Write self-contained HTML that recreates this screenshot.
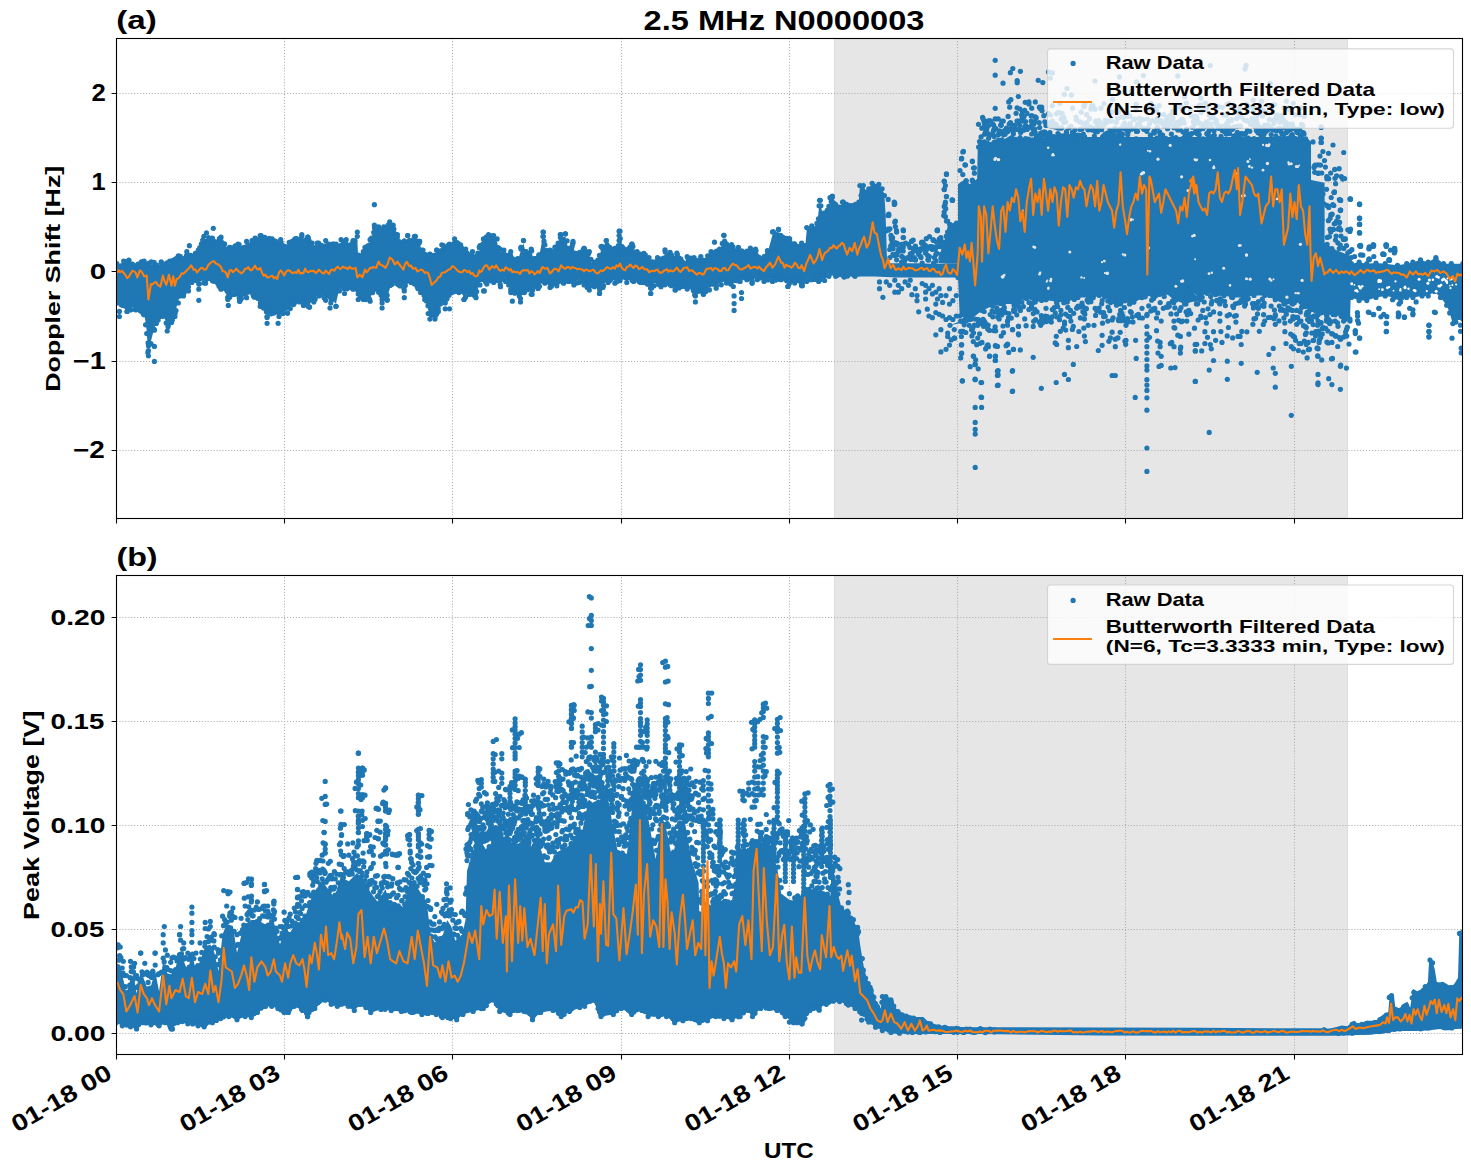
<!DOCTYPE html>
<html><head><meta charset="utf-8"><style>html,body{margin:0;padding:0;background:#fff;overflow:hidden;}svg{display:block;}</style></head>
<body><svg width="1471" height="1172" viewBox="0 0 1471 1172"><rect x="0" y="0" width="1471" height="1172" fill="#fff"/>
<g font-family="Liberation Sans, sans-serif" font-weight="bold" fill="#000">
<rect x="834.0" y="38.5" width="514.0" height="480.0" fill="#e6e6e6"/>
<path d="M834.5,38.5V518.5M1347.5,38.5V518.5" stroke="#dedede" stroke-width="1"/>
<path d="M284.50,518.5V38.5M452.50,518.5V38.5M621.50,518.5V38.5M789.50,518.5V38.5M957.50,518.5V38.5M1125.50,518.5V38.5M1294.50,518.5V38.5M116.5,93.50H1462.5M116.5,182.50H1462.5M116.5,271.50H1462.5M116.5,361.50H1462.5M116.5,450.50H1462.5" stroke="#b0b0b0" stroke-width="1.11" stroke-dasharray="1.11,1.83" fill="none"/>
<svg x="116.5" y="38.5" width="1346.0" height="480.0" viewBox="116.5 38.5 1346.0 480.0" overflow="hidden">
<path d="M116.8,266.4 L123.7,263.9 L128.8,263.0 L144.1,263.9 L161.2,264.7 L169.7,263.9 L178.3,258.7 L186.8,254.5 L195.4,256.2 L203.9,239.1 L212.4,240.8 L221.0,240.0 L229.5,250.2 L238.0,246.8 L246.6,244.2 L255.1,240.8 L260.2,238.3 L272.2,241.7 L280.7,242.5 L289.2,245.1 L295.0,241.7 L301.8,239.1 L307.8,240.0 L312.1,245.9 L317.2,245.9 L325.7,243.4 L332.6,246.8 L341.1,242.5 L346.2,242.5 L353.0,243.4 L357.3,239.1 L358.2,257.9 L365.0,250.2 L370.1,242.5 L374.4,228.0 L378.6,229.7 L383.8,229.7 L389.7,224.6 L393.2,228.0 L397.4,237.4 L400.8,245.9 L407.7,238.3 L414.5,239.1 L419.6,244.2 L423.0,252.8 L426.4,257.9 L429.9,257.0 L436.7,252.8 L441.8,247.6 L448.6,247.6 L454.6,241.7 L460.6,247.6 L465.7,251.9 L472.5,254.5 L476.0,259.6 L479.4,250.2 L480.0,248.5 L483.4,241.7 L488.5,237.4 L493.7,238.3 L497.1,241.7 L498.8,251.1 L503.9,252.8 L510.7,254.5 L512.4,261.3 L517.6,261.3 L521.0,250.2 L523.5,243.4 L526.1,254.5 L531.2,251.9 L534.6,261.3 L538.9,257.9 L543.2,234.8 L544.9,247.6 L550.0,252.8 L555.1,250.2 L560.2,237.4 L565.4,236.6 L568.8,251.1 L573.0,244.2 L575.6,256.2 L584.1,251.1 L589.3,254.5 L591.0,262.2 L597.8,263.0 L601.2,249.4 L606.3,243.4 L609.7,250.2 L618.3,248.5 L620.0,234.0 L623.4,251.1 L628.5,251.9 L631.9,246.8 L637.1,254.5 L643.9,256.2 L649.0,260.4 L652.4,264.7 L657.5,260.4 L662.7,261.3 L665.0,252.6 L670.1,255.2 L676.9,256.0 L682.1,264.6 L687.2,259.5 L694.0,260.3 L700.8,259.5 L707.7,258.6 L711.1,254.3 L719.6,251.8 L723.9,238.1 L726.5,246.7 L731.6,247.5 L738.4,250.1 L745.2,255.2 L750.4,250.9 L755.5,251.8 L758.9,260.3 L767.4,253.5 L772.5,234.7 L778.5,232.2 L782.8,239.8 L789.6,241.5 L794.7,246.7 L801.6,245.8 L805.0,248.4 L806.7,230.4 L811.8,228.7 L816.9,226.2 L819.5,203.1 L823.8,215.9 L828.9,209.1 L832.3,198.9 L835.7,209.1 L842.5,204.8 L849.4,208.3 L855.0,209.1 L855.0,273.5 L844.2,274.3 L835.7,273.5 L828.9,273.5 L824.6,277.7 L818.6,278.6 L811.8,276.9 L806.7,278.6 L801.6,282.9 L794.7,280.3 L787.9,283.7 L781.1,276.9 L772.5,278.6 L764.0,278.6 L757.2,276.9 L752.1,280.3 L746.9,276.9 L740.1,278.6 L733.3,283.7 L726.5,280.3 L721.3,282.0 L716.2,285.4 L709.4,287.1 L703.4,291.4 L694.9,292.3 L687.2,286.3 L682.1,283.7 L675.2,287.1 L670.1,282.0 L665.0,282.0 L661.0,283.9 L654.1,283.0 L650.7,290.7 L647.3,281.3 L640.5,279.6 L633.6,278.7 L626.8,279.6 L620.0,277.9 L614.9,280.4 L608.0,279.6 L602.9,284.7 L599.5,290.7 L594.4,283.9 L589.3,287.3 L584.1,282.1 L579.0,279.6 L573.9,282.1 L568.8,278.7 L563.6,280.4 L556.8,283.0 L550.0,284.7 L544.9,280.4 L538.0,285.6 L531.2,291.5 L524.4,289.8 L519.3,293.2 L510.7,289.8 L505.6,278.7 L500.5,283.9 L493.7,279.6 L486.8,281.3 L480.0,282.1 L476.0,294.9 L469.1,291.5 L464.0,296.7 L458.9,289.8 L452.1,289.8 L445.2,300.1 L441.8,296.7 L438.4,308.6 L435.0,316.3 L429.9,316.3 L424.7,296.7 L417.9,285.6 L411.1,279.6 L404.3,288.1 L397.4,281.3 L392.3,281.3 L387.2,296.7 L382.1,296.7 L375.2,286.4 L370.1,298.4 L363.3,296.7 L358.2,296.7 L353.0,286.4 L349.6,284.7 L344.5,290.7 L339.4,288.1 L336.0,303.5 L330.8,300.1 L325.7,297.5 L318.9,293.2 L313.8,299.2 L309.5,304.3 L303.5,302.6 L295.0,298.4 L294.4,300.1 L287.5,310.3 L279.0,313.7 L273.9,310.3 L267.1,313.7 L260.2,303.5 L253.4,293.2 L246.6,294.9 L239.7,298.4 L232.9,291.5 L227.8,296.7 L221.0,286.4 L212.4,277.9 L205.6,280.4 L198.8,281.3 L191.9,279.6 L188.5,288.1 L183.4,293.2 L178.3,300.1 L174.9,313.7 L168.0,324.0 L161.2,313.7 L154.4,327.4 L151.0,341.0 L147.9,349.6 L146.7,330.8 L144.1,312.0 L135.6,306.9 L127.1,308.6 L116.8,300.1Z" fill="#1f77b4"/>
<g fill="#1f77b4"><circle cx="213.3" cy="228.3" r="2.6"/><circle cx="206.5" cy="232.9" r="2.6"/><circle cx="189.4" cy="245.7" r="2.6"/><circle cx="119.4" cy="311.4" r="2.6"/><circle cx="119.4" cy="316.5" r="2.6"/><circle cx="127.1" cy="311.4" r="2.6"/><circle cx="135.6" cy="309.7" r="2.6"/><circle cx="139.9" cy="310.5" r="2.6"/><circle cx="148.4" cy="355.8" r="2.6"/><circle cx="154.4" cy="361.4" r="2.6"/><circle cx="154.4" cy="346.4" r="2.6"/><circle cx="148.4" cy="350.6" r="2.6"/><circle cx="167.2" cy="331.0" r="2.6"/><circle cx="171.5" cy="322.5" r="2.6"/><circle cx="198.8" cy="289.2" r="2.6"/><circle cx="198.8" cy="300.3" r="2.6"/><circle cx="228.3" cy="305.4" r="2.6"/><circle cx="239.7" cy="301.2" r="2.6"/><circle cx="267.1" cy="323.3" r="2.6"/><circle cx="278.1" cy="323.3" r="2.6"/><circle cx="267.1" cy="317.4" r="2.6"/><circle cx="287.5" cy="313.1" r="2.6"/><circle cx="261.1" cy="235.5" r="2.6"/><circle cx="296.1" cy="238.9" r="2.6"/><circle cx="374.4" cy="204.7" r="2.6"/><circle cx="357.3" cy="232.0" r="2.6"/><circle cx="301.8" cy="234.6" r="2.6"/><circle cx="307.8" cy="237.2" r="2.6"/><circle cx="296.7" cy="238.9" r="2.6"/><circle cx="330.0" cy="308.0" r="2.6"/><circle cx="336.0" cy="306.3" r="2.6"/><circle cx="309.5" cy="307.1" r="2.6"/><circle cx="382.1" cy="308.0" r="2.6"/><circle cx="382.1" cy="302.9" r="2.6"/><circle cx="387.2" cy="300.3" r="2.6"/><circle cx="404.3" cy="297.7" r="2.6"/><circle cx="445.2" cy="308.8" r="2.6"/><circle cx="449.5" cy="308.8" r="2.6"/><circle cx="464.0" cy="299.5" r="2.6"/><circle cx="483.6" cy="290.9" r="2.6"/><circle cx="407.7" cy="235.5" r="2.6"/><circle cx="415.4" cy="236.3" r="2.6"/><circle cx="419.6" cy="241.4" r="2.6"/><circle cx="436.7" cy="250.0" r="2.6"/><circle cx="479.4" cy="247.4" r="2.6"/><circle cx="484.3" cy="290.9" r="2.6"/><circle cx="512.4" cy="301.2" r="2.6"/><circle cx="520.5" cy="302.0" r="2.6"/><circle cx="520.5" cy="298.6" r="2.6"/><circle cx="532.1" cy="294.3" r="2.6"/><circle cx="543.2" cy="232.0" r="2.6"/><circle cx="543.2" cy="236.3" r="2.6"/><circle cx="565.4" cy="233.8" r="2.6"/><circle cx="561.1" cy="234.6" r="2.6"/><circle cx="573.0" cy="243.1" r="2.6"/><circle cx="523.5" cy="240.6" r="2.6"/><circle cx="521.0" cy="249.1" r="2.6"/><circle cx="606.3" cy="240.6" r="2.6"/><circle cx="601.2" cy="246.6" r="2.6"/><circle cx="619.1" cy="231.2" r="2.6"/><circle cx="619.1" cy="235.5" r="2.6"/><circle cx="619.1" cy="240.6" r="2.6"/><circle cx="631.9" cy="244.0" r="2.6"/><circle cx="650.7" cy="293.5" r="2.6"/><circle cx="665.2" cy="251.7" r="2.6"/><circle cx="599.5" cy="293.5" r="2.6"/><circle cx="584.1" cy="248.3" r="2.6"/><circle cx="714.5" cy="242.2" r="2.6"/><circle cx="723.9" cy="235.3" r="2.6"/><circle cx="695.4" cy="301.9" r="2.6"/><circle cx="695.4" cy="295.9" r="2.6"/><circle cx="703.4" cy="294.2" r="2.6"/><circle cx="675.2" cy="289.9" r="2.6"/><circle cx="734.1" cy="310.4" r="2.6"/><circle cx="734.1" cy="303.6" r="2.6"/><circle cx="734.1" cy="295.9" r="2.6"/><circle cx="741.5" cy="298.5" r="2.6"/><circle cx="741.5" cy="292.5" r="2.6"/><circle cx="752.1" cy="283.1" r="2.6"/><circle cx="787.9" cy="286.5" r="2.6"/><circle cx="802.4" cy="285.7" r="2.6"/><circle cx="820.3" cy="200.3" r="2.6"/><circle cx="832.3" cy="196.9" r="2.6"/><circle cx="778.5" cy="229.4" r="2.6"/><circle cx="773.4" cy="231.9" r="2.6"/><circle cx="116.8" cy="263.6" r="2.6"/><circle cx="123.7" cy="261.1" r="2.6"/><circle cx="128.8" cy="260.2" r="2.6"/><circle cx="144.1" cy="261.1" r="2.6"/><circle cx="161.2" cy="261.9" r="2.6"/><circle cx="169.7" cy="261.1" r="2.6"/><circle cx="178.3" cy="255.9" r="2.6"/><circle cx="186.8" cy="251.7" r="2.6"/><circle cx="195.4" cy="253.4" r="2.6"/><circle cx="203.9" cy="236.3" r="2.6"/><circle cx="212.4" cy="238.0" r="2.6"/><circle cx="221.0" cy="237.2" r="2.6"/><circle cx="229.5" cy="247.4" r="2.6"/><circle cx="238.0" cy="244.0" r="2.6"/><circle cx="246.6" cy="241.4" r="2.6"/><circle cx="255.1" cy="238.0" r="2.6"/><circle cx="260.2" cy="235.5" r="2.6"/><circle cx="272.2" cy="238.9" r="2.6"/><circle cx="280.7" cy="239.7" r="2.6"/><circle cx="289.2" cy="242.3" r="2.6"/><circle cx="295.0" cy="238.9" r="2.6"/><circle cx="301.8" cy="236.3" r="2.6"/><circle cx="307.8" cy="237.2" r="2.6"/><circle cx="312.1" cy="243.1" r="2.6"/><circle cx="317.2" cy="243.1" r="2.6"/><circle cx="325.7" cy="240.6" r="2.6"/><circle cx="332.6" cy="244.0" r="2.6"/><circle cx="341.1" cy="239.7" r="2.6"/><circle cx="346.2" cy="239.7" r="2.6"/><circle cx="353.0" cy="240.6" r="2.6"/><circle cx="357.3" cy="236.3" r="2.6"/><circle cx="358.2" cy="255.1" r="2.6"/><circle cx="365.0" cy="247.4" r="2.6"/><circle cx="370.1" cy="239.7" r="2.6"/><circle cx="374.4" cy="225.2" r="2.6"/><circle cx="378.6" cy="226.9" r="2.6"/><circle cx="383.8" cy="226.9" r="2.6"/><circle cx="389.7" cy="221.8" r="2.6"/><circle cx="393.2" cy="225.2" r="2.6"/><circle cx="397.4" cy="234.6" r="2.6"/><circle cx="400.8" cy="243.1" r="2.6"/><circle cx="407.7" cy="235.5" r="2.6"/><circle cx="414.5" cy="236.3" r="2.6"/><circle cx="419.6" cy="241.4" r="2.6"/><circle cx="423.0" cy="250.0" r="2.6"/><circle cx="426.4" cy="255.1" r="2.6"/><circle cx="429.9" cy="254.2" r="2.6"/><circle cx="436.7" cy="250.0" r="2.6"/><circle cx="441.8" cy="244.8" r="2.6"/><circle cx="448.6" cy="244.8" r="2.6"/><circle cx="454.6" cy="238.9" r="2.6"/><circle cx="460.6" cy="244.8" r="2.6"/><circle cx="465.7" cy="249.1" r="2.6"/><circle cx="472.5" cy="251.7" r="2.6"/><circle cx="476.0" cy="256.8" r="2.6"/><circle cx="479.4" cy="247.4" r="2.6"/><circle cx="480.0" cy="245.7" r="2.6"/><circle cx="483.4" cy="238.9" r="2.6"/><circle cx="488.5" cy="234.6" r="2.6"/><circle cx="493.7" cy="235.5" r="2.6"/><circle cx="497.1" cy="238.9" r="2.6"/><circle cx="498.8" cy="248.3" r="2.6"/><circle cx="503.9" cy="250.0" r="2.6"/><circle cx="510.7" cy="251.7" r="2.6"/><circle cx="512.4" cy="258.5" r="2.6"/><circle cx="517.6" cy="258.5" r="2.6"/><circle cx="521.0" cy="247.4" r="2.6"/><circle cx="523.5" cy="240.6" r="2.6"/><circle cx="526.1" cy="251.7" r="2.6"/><circle cx="531.2" cy="249.1" r="2.6"/><circle cx="534.6" cy="258.5" r="2.6"/><circle cx="538.9" cy="255.1" r="2.6"/><circle cx="543.2" cy="232.0" r="2.6"/><circle cx="544.9" cy="244.8" r="2.6"/><circle cx="550.0" cy="250.0" r="2.6"/><circle cx="555.1" cy="247.4" r="2.6"/><circle cx="560.2" cy="234.6" r="2.6"/><circle cx="565.4" cy="233.8" r="2.6"/><circle cx="568.8" cy="248.3" r="2.6"/><circle cx="573.0" cy="241.4" r="2.6"/><circle cx="575.6" cy="253.4" r="2.6"/><circle cx="584.1" cy="248.3" r="2.6"/><circle cx="589.3" cy="251.7" r="2.6"/><circle cx="591.0" cy="259.4" r="2.6"/><circle cx="597.8" cy="260.2" r="2.6"/><circle cx="601.2" cy="246.6" r="2.6"/><circle cx="606.3" cy="240.6" r="2.6"/><circle cx="609.7" cy="247.4" r="2.6"/><circle cx="618.3" cy="245.7" r="2.6"/><circle cx="620.0" cy="231.2" r="2.6"/><circle cx="623.4" cy="248.3" r="2.6"/><circle cx="628.5" cy="249.1" r="2.6"/><circle cx="631.9" cy="244.0" r="2.6"/><circle cx="637.1" cy="251.7" r="2.6"/><circle cx="643.9" cy="253.4" r="2.6"/><circle cx="649.0" cy="257.6" r="2.6"/><circle cx="652.4" cy="261.9" r="2.6"/><circle cx="657.5" cy="257.6" r="2.6"/><circle cx="662.7" cy="258.5" r="2.6"/><circle cx="665.0" cy="249.8" r="2.6"/><circle cx="670.1" cy="252.4" r="2.6"/><circle cx="676.9" cy="253.2" r="2.6"/><circle cx="682.1" cy="261.8" r="2.6"/><circle cx="687.2" cy="256.7" r="2.6"/><circle cx="694.0" cy="257.5" r="2.6"/><circle cx="700.8" cy="256.7" r="2.6"/><circle cx="707.7" cy="255.8" r="2.6"/><circle cx="711.1" cy="251.5" r="2.6"/><circle cx="719.6" cy="249.0" r="2.6"/><circle cx="723.9" cy="235.3" r="2.6"/><circle cx="726.5" cy="243.9" r="2.6"/><circle cx="731.6" cy="244.7" r="2.6"/><circle cx="738.4" cy="247.3" r="2.6"/><circle cx="745.2" cy="252.4" r="2.6"/><circle cx="750.4" cy="248.1" r="2.6"/><circle cx="755.5" cy="249.0" r="2.6"/><circle cx="758.9" cy="257.5" r="2.6"/><circle cx="767.4" cy="250.7" r="2.6"/><circle cx="772.5" cy="231.9" r="2.6"/><circle cx="778.5" cy="229.4" r="2.6"/><circle cx="782.8" cy="237.0" r="2.6"/><circle cx="789.6" cy="238.7" r="2.6"/><circle cx="794.7" cy="243.9" r="2.6"/><circle cx="801.6" cy="243.0" r="2.6"/><circle cx="805.0" cy="245.6" r="2.6"/><circle cx="806.7" cy="227.6" r="2.6"/><circle cx="811.8" cy="225.9" r="2.6"/><circle cx="816.9" cy="223.4" r="2.6"/><circle cx="819.5" cy="200.3" r="2.6"/><circle cx="823.8" cy="213.1" r="2.6"/><circle cx="828.9" cy="206.3" r="2.6"/><circle cx="832.3" cy="196.1" r="2.6"/><circle cx="835.7" cy="206.3" r="2.6"/><circle cx="842.5" cy="202.0" r="2.6"/><circle cx="849.4" cy="205.5" r="2.6"/><circle cx="855.0" cy="206.3" r="2.6"/><circle cx="116.8" cy="302.9" r="2.6"/><circle cx="127.1" cy="311.4" r="2.6"/><circle cx="135.6" cy="309.7" r="2.6"/><circle cx="144.1" cy="314.8" r="2.6"/><circle cx="146.7" cy="333.6" r="2.6"/><circle cx="147.9" cy="352.4" r="2.6"/><circle cx="151.0" cy="343.8" r="2.6"/><circle cx="154.4" cy="330.2" r="2.6"/><circle cx="161.2" cy="316.5" r="2.6"/><circle cx="168.0" cy="326.8" r="2.6"/><circle cx="174.9" cy="316.5" r="2.6"/><circle cx="178.3" cy="302.9" r="2.6"/><circle cx="183.4" cy="296.0" r="2.6"/><circle cx="188.5" cy="290.9" r="2.6"/><circle cx="191.9" cy="282.4" r="2.6"/><circle cx="198.8" cy="284.1" r="2.6"/><circle cx="205.6" cy="283.2" r="2.6"/><circle cx="212.4" cy="280.7" r="2.6"/><circle cx="221.0" cy="289.2" r="2.6"/><circle cx="227.8" cy="299.5" r="2.6"/><circle cx="232.9" cy="294.3" r="2.6"/><circle cx="239.7" cy="301.2" r="2.6"/><circle cx="246.6" cy="297.7" r="2.6"/><circle cx="253.4" cy="296.0" r="2.6"/><circle cx="260.2" cy="306.3" r="2.6"/><circle cx="267.1" cy="316.5" r="2.6"/><circle cx="273.9" cy="313.1" r="2.6"/><circle cx="279.0" cy="316.5" r="2.6"/><circle cx="287.5" cy="313.1" r="2.6"/><circle cx="294.4" cy="302.9" r="2.6"/><circle cx="295.0" cy="301.2" r="2.6"/><circle cx="303.5" cy="305.4" r="2.6"/><circle cx="309.5" cy="307.1" r="2.6"/><circle cx="313.8" cy="302.0" r="2.6"/><circle cx="318.9" cy="296.0" r="2.6"/><circle cx="325.7" cy="300.3" r="2.6"/><circle cx="330.8" cy="302.9" r="2.6"/><circle cx="336.0" cy="306.3" r="2.6"/><circle cx="339.4" cy="290.9" r="2.6"/><circle cx="344.5" cy="293.5" r="2.6"/><circle cx="349.6" cy="287.5" r="2.6"/><circle cx="353.0" cy="289.2" r="2.6"/><circle cx="358.2" cy="299.5" r="2.6"/><circle cx="363.3" cy="299.5" r="2.6"/><circle cx="370.1" cy="301.2" r="2.6"/><circle cx="375.2" cy="289.2" r="2.6"/><circle cx="382.1" cy="299.5" r="2.6"/><circle cx="387.2" cy="299.5" r="2.6"/><circle cx="392.3" cy="284.1" r="2.6"/><circle cx="397.4" cy="284.1" r="2.6"/><circle cx="404.3" cy="290.9" r="2.6"/><circle cx="411.1" cy="282.4" r="2.6"/><circle cx="417.9" cy="288.4" r="2.6"/><circle cx="424.7" cy="299.5" r="2.6"/><circle cx="429.9" cy="319.1" r="2.6"/><circle cx="435.0" cy="319.1" r="2.6"/><circle cx="438.4" cy="311.4" r="2.6"/><circle cx="441.8" cy="299.5" r="2.6"/><circle cx="445.2" cy="302.9" r="2.6"/><circle cx="452.1" cy="292.6" r="2.6"/><circle cx="458.9" cy="292.6" r="2.6"/><circle cx="464.0" cy="299.5" r="2.6"/><circle cx="469.1" cy="294.3" r="2.6"/><circle cx="476.0" cy="297.7" r="2.6"/><circle cx="480.0" cy="284.9" r="2.6"/><circle cx="486.8" cy="284.1" r="2.6"/><circle cx="493.7" cy="282.4" r="2.6"/><circle cx="500.5" cy="286.7" r="2.6"/><circle cx="505.6" cy="281.5" r="2.6"/><circle cx="510.7" cy="292.6" r="2.6"/><circle cx="519.3" cy="296.0" r="2.6"/><circle cx="524.4" cy="292.6" r="2.6"/><circle cx="531.2" cy="294.3" r="2.6"/><circle cx="538.0" cy="288.4" r="2.6"/><circle cx="544.9" cy="283.2" r="2.6"/><circle cx="550.0" cy="287.5" r="2.6"/><circle cx="556.8" cy="285.8" r="2.6"/><circle cx="563.6" cy="283.2" r="2.6"/><circle cx="568.8" cy="281.5" r="2.6"/><circle cx="573.9" cy="284.9" r="2.6"/><circle cx="579.0" cy="282.4" r="2.6"/><circle cx="584.1" cy="284.9" r="2.6"/><circle cx="589.3" cy="290.1" r="2.6"/><circle cx="594.4" cy="286.7" r="2.6"/><circle cx="599.5" cy="293.5" r="2.6"/><circle cx="602.9" cy="287.5" r="2.6"/><circle cx="608.0" cy="282.4" r="2.6"/><circle cx="614.9" cy="283.2" r="2.6"/><circle cx="620.0" cy="280.7" r="2.6"/><circle cx="626.8" cy="282.4" r="2.6"/><circle cx="633.6" cy="281.5" r="2.6"/><circle cx="640.5" cy="282.4" r="2.6"/><circle cx="647.3" cy="284.1" r="2.6"/><circle cx="650.7" cy="293.5" r="2.6"/><circle cx="654.1" cy="285.8" r="2.6"/><circle cx="661.0" cy="286.7" r="2.6"/><circle cx="665.0" cy="284.8" r="2.6"/><circle cx="670.1" cy="284.8" r="2.6"/><circle cx="675.2" cy="289.9" r="2.6"/><circle cx="682.1" cy="286.5" r="2.6"/><circle cx="687.2" cy="289.1" r="2.6"/><circle cx="694.9" cy="295.1" r="2.6"/><circle cx="703.4" cy="294.2" r="2.6"/><circle cx="709.4" cy="289.9" r="2.6"/><circle cx="716.2" cy="288.2" r="2.6"/><circle cx="721.3" cy="284.8" r="2.6"/><circle cx="726.5" cy="283.1" r="2.6"/><circle cx="733.3" cy="286.5" r="2.6"/><circle cx="740.1" cy="281.4" r="2.6"/><circle cx="746.9" cy="279.7" r="2.6"/><circle cx="752.1" cy="283.1" r="2.6"/><circle cx="757.2" cy="279.7" r="2.6"/><circle cx="764.0" cy="281.4" r="2.6"/><circle cx="772.5" cy="281.4" r="2.6"/><circle cx="781.1" cy="279.7" r="2.6"/><circle cx="787.9" cy="286.5" r="2.6"/><circle cx="794.7" cy="283.1" r="2.6"/><circle cx="801.6" cy="285.7" r="2.6"/><circle cx="806.7" cy="281.4" r="2.6"/><circle cx="811.8" cy="279.7" r="2.6"/><circle cx="818.6" cy="281.4" r="2.6"/><circle cx="824.6" cy="280.5" r="2.6"/><circle cx="828.9" cy="276.3" r="2.6"/><circle cx="835.7" cy="276.3" r="2.6"/><circle cx="844.2" cy="277.1" r="2.6"/><circle cx="855.0" cy="276.3" r="2.6"/><circle cx="116.5" cy="265.1" r="2.6"/><circle cx="120.3" cy="266.2" r="2.6"/><circle cx="121.9" cy="265.9" r="2.6"/><circle cx="123.9" cy="264.9" r="2.6"/><circle cx="124.4" cy="261.9" r="2.6"/><circle cx="126.8" cy="261.7" r="2.6"/><circle cx="128.7" cy="260.9" r="2.6"/><circle cx="130.3" cy="265.1" r="2.6"/><circle cx="131.8" cy="264.4" r="2.6"/><circle cx="132.4" cy="264.2" r="2.6"/><circle cx="135.5" cy="266.0" r="2.6"/><circle cx="138.0" cy="264.2" r="2.6"/><circle cx="140.0" cy="265.7" r="2.6"/><circle cx="141.3" cy="261.9" r="2.6"/><circle cx="142.6" cy="264.7" r="2.6"/><circle cx="143.6" cy="261.5" r="2.6"/><circle cx="145.7" cy="265.2" r="2.6"/><circle cx="148.0" cy="264.3" r="2.6"/><circle cx="148.4" cy="263.3" r="2.6"/><circle cx="151.2" cy="261.9" r="2.6"/><circle cx="154.1" cy="262.4" r="2.6"/><circle cx="155.6" cy="266.5" r="2.6"/><circle cx="156.9" cy="265.2" r="2.6"/><circle cx="162.2" cy="264.4" r="2.6"/><circle cx="163.3" cy="264.1" r="2.6"/><circle cx="166.9" cy="262.8" r="2.6"/><circle cx="167.9" cy="266.2" r="2.6"/><circle cx="171.8" cy="265.0" r="2.6"/><circle cx="172.5" cy="260.5" r="2.6"/><circle cx="174.9" cy="259.4" r="2.6"/><circle cx="176.3" cy="258.7" r="2.6"/><circle cx="177.4" cy="258.2" r="2.6"/><circle cx="180.2" cy="256.3" r="2.6"/><circle cx="181.1" cy="258.6" r="2.6"/><circle cx="183.2" cy="259.1" r="2.6"/><circle cx="186.5" cy="255.5" r="2.6"/><circle cx="187.6" cy="254.8" r="2.6"/><circle cx="189.5" cy="256.2" r="2.6"/><circle cx="190.8" cy="255.4" r="2.6"/><circle cx="192.9" cy="256.6" r="2.6"/><circle cx="196.0" cy="254.4" r="2.6"/><circle cx="197.6" cy="254.7" r="2.6"/><circle cx="198.3" cy="250.2" r="2.6"/><circle cx="199.8" cy="247.6" r="2.6"/><circle cx="201.4" cy="243.9" r="2.6"/><circle cx="202.7" cy="240.1" r="2.6"/><circle cx="205.5" cy="241.7" r="2.6"/><circle cx="206.9" cy="241.4" r="2.6"/><circle cx="208.6" cy="237.6" r="2.6"/><circle cx="209.5" cy="242.0" r="2.6"/><circle cx="212.0" cy="239.0" r="2.6"/><circle cx="213.0" cy="242.8" r="2.6"/><circle cx="214.6" cy="241.5" r="2.6"/><circle cx="215.8" cy="242.2" r="2.6"/><circle cx="218.2" cy="241.8" r="2.6"/><circle cx="219.4" cy="238.6" r="2.6"/><circle cx="221.0" cy="241.1" r="2.6"/><circle cx="222.1" cy="243.2" r="2.6"/><circle cx="224.6" cy="243.9" r="2.6"/><circle cx="228.4" cy="250.8" r="2.6"/><circle cx="231.1" cy="247.6" r="2.6"/><circle cx="233.6" cy="249.9" r="2.6"/><circle cx="235.2" cy="245.8" r="2.6"/><circle cx="236.5" cy="249.2" r="2.6"/><circle cx="239.1" cy="244.6" r="2.6"/><circle cx="239.9" cy="248.3" r="2.6"/><circle cx="244.2" cy="247.4" r="2.6"/><circle cx="247.3" cy="246.4" r="2.6"/><circle cx="250.2" cy="244.9" r="2.6"/><circle cx="252.0" cy="240.7" r="2.6"/><circle cx="253.6" cy="241.9" r="2.6"/><circle cx="254.9" cy="239.8" r="2.6"/><circle cx="256.5" cy="239.2" r="2.6"/><circle cx="259.8" cy="240.4" r="2.6"/><circle cx="261.3" cy="237.0" r="2.6"/><circle cx="263.2" cy="237.7" r="2.6"/><circle cx="264.8" cy="237.4" r="2.6"/><circle cx="267.5" cy="239.9" r="2.6"/><circle cx="269.2" cy="238.3" r="2.6"/><circle cx="270.5" cy="243.6" r="2.6"/><circle cx="273.1" cy="242.7" r="2.6"/><circle cx="275.2" cy="241.0" r="2.6"/><circle cx="276.3" cy="241.8" r="2.6"/><circle cx="279.2" cy="244.8" r="2.6"/><circle cx="280.6" cy="245.1" r="2.6"/><circle cx="281.1" cy="242.7" r="2.6"/><circle cx="288.9" cy="246.5" r="2.6"/><circle cx="292.1" cy="241.4" r="2.6"/><circle cx="292.9" cy="242.7" r="2.6"/><circle cx="294.8" cy="239.6" r="2.6"/><circle cx="296.9" cy="239.2" r="2.6"/><circle cx="301.0" cy="238.9" r="2.6"/><circle cx="303.3" cy="241.7" r="2.6"/><circle cx="306.1" cy="239.8" r="2.6"/><circle cx="308.2" cy="238.4" r="2.6"/><circle cx="309.0" cy="240.5" r="2.6"/><circle cx="310.1" cy="244.1" r="2.6"/><circle cx="313.4" cy="247.6" r="2.6"/><circle cx="316.1" cy="247.6" r="2.6"/><circle cx="316.4" cy="248.6" r="2.6"/><circle cx="318.6" cy="243.1" r="2.6"/><circle cx="320.9" cy="245.4" r="2.6"/><circle cx="321.1" cy="245.4" r="2.6"/><circle cx="324.4" cy="246.0" r="2.6"/><circle cx="327.0" cy="246.2" r="2.6"/><circle cx="328.3" cy="244.5" r="2.6"/><circle cx="329.1" cy="244.1" r="2.6"/><circle cx="331.2" cy="245.9" r="2.6"/><circle cx="332.8" cy="245.9" r="2.6"/><circle cx="334.0" cy="244.0" r="2.6"/><circle cx="336.2" cy="244.0" r="2.6"/><circle cx="343.6" cy="241.8" r="2.6"/><circle cx="345.4" cy="241.4" r="2.6"/><circle cx="347.4" cy="245.1" r="2.6"/><circle cx="350.9" cy="244.5" r="2.6"/><circle cx="352.4" cy="245.6" r="2.6"/><circle cx="353.2" cy="241.3" r="2.6"/><circle cx="354.8" cy="240.6" r="2.6"/><circle cx="358.2" cy="257.2" r="2.6"/><circle cx="360.9" cy="257.4" r="2.6"/><circle cx="362.4" cy="255.0" r="2.6"/><circle cx="363.3" cy="251.6" r="2.6"/><circle cx="366.1" cy="250.0" r="2.6"/><circle cx="367.5" cy="246.2" r="2.6"/><circle cx="369.6" cy="244.8" r="2.6"/><circle cx="371.5" cy="238.1" r="2.6"/><circle cx="373.7" cy="232.4" r="2.6"/><circle cx="374.5" cy="227.9" r="2.6"/><circle cx="376.2" cy="227.5" r="2.6"/><circle cx="377.2" cy="227.4" r="2.6"/><circle cx="379.9" cy="230.7" r="2.6"/><circle cx="380.3" cy="230.5" r="2.6"/><circle cx="382.3" cy="229.6" r="2.6"/><circle cx="383.8" cy="228.8" r="2.6"/><circle cx="385.0" cy="228.5" r="2.6"/><circle cx="387.9" cy="226.2" r="2.6"/><circle cx="388.2" cy="225.1" r="2.6"/><circle cx="390.8" cy="226.7" r="2.6"/><circle cx="393.9" cy="229.0" r="2.6"/><circle cx="394.8" cy="233.7" r="2.6"/><circle cx="397.3" cy="237.2" r="2.6"/><circle cx="399.3" cy="241.5" r="2.6"/><circle cx="402.2" cy="243.2" r="2.6"/><circle cx="402.7" cy="245.7" r="2.6"/><circle cx="404.3" cy="240.9" r="2.6"/><circle cx="409.6" cy="240.5" r="2.6"/><circle cx="412.9" cy="241.3" r="2.6"/><circle cx="413.8" cy="239.0" r="2.6"/><circle cx="416.4" cy="240.8" r="2.6"/><circle cx="419.0" cy="243.3" r="2.6"/><circle cx="421.3" cy="250.0" r="2.6"/><circle cx="422.9" cy="253.1" r="2.6"/><circle cx="424.8" cy="254.4" r="2.6"/><circle cx="427.3" cy="256.1" r="2.6"/><circle cx="429.0" cy="259.7" r="2.6"/><circle cx="429.9" cy="254.4" r="2.6"/><circle cx="431.7" cy="256.6" r="2.6"/><circle cx="433.5" cy="255.4" r="2.6"/><circle cx="434.7" cy="255.4" r="2.6"/><circle cx="437.7" cy="253.9" r="2.6"/><circle cx="439.1" cy="251.7" r="2.6"/><circle cx="440.6" cy="250.8" r="2.6"/><circle cx="443.4" cy="245.7" r="2.6"/><circle cx="445.4" cy="249.9" r="2.6"/><circle cx="447.2" cy="249.6" r="2.6"/><circle cx="447.4" cy="246.6" r="2.6"/><circle cx="449.6" cy="244.1" r="2.6"/><circle cx="453.4" cy="244.4" r="2.6"/><circle cx="455.2" cy="242.3" r="2.6"/><circle cx="457.0" cy="242.5" r="2.6"/><circle cx="458.3" cy="243.6" r="2.6"/><circle cx="459.9" cy="248.5" r="2.6"/><circle cx="461.4" cy="247.5" r="2.6"/><circle cx="462.1" cy="251.1" r="2.6"/><circle cx="465.8" cy="254.2" r="2.6"/><circle cx="467.1" cy="253.2" r="2.6"/><circle cx="468.6" cy="254.9" r="2.6"/><circle cx="472.2" cy="255.9" r="2.6"/><circle cx="473.7" cy="257.2" r="2.6"/><circle cx="475.7" cy="259.2" r="2.6"/><circle cx="477.1" cy="256.3" r="2.6"/><circle cx="477.9" cy="253.2" r="2.6"/><circle cx="480.9" cy="246.0" r="2.6"/><circle cx="482.9" cy="244.1" r="2.6"/><circle cx="484.4" cy="240.3" r="2.6"/><circle cx="486.2" cy="237.1" r="2.6"/><circle cx="488.8" cy="236.5" r="2.6"/><circle cx="489.2" cy="238.0" r="2.6"/><circle cx="491.7" cy="235.9" r="2.6"/><circle cx="493.1" cy="239.5" r="2.6"/><circle cx="494.4" cy="238.8" r="2.6"/><circle cx="498.1" cy="247.5" r="2.6"/><circle cx="500.3" cy="249.3" r="2.6"/><circle cx="502.1" cy="254.5" r="2.6"/><circle cx="503.8" cy="253.4" r="2.6"/><circle cx="505.3" cy="255.3" r="2.6"/><circle cx="508.8" cy="255.1" r="2.6"/><circle cx="510.5" cy="255.6" r="2.6"/><circle cx="512.6" cy="260.1" r="2.6"/><circle cx="513.6" cy="259.9" r="2.6"/><circle cx="515.0" cy="261.4" r="2.6"/><circle cx="518.4" cy="260.0" r="2.6"/><circle cx="521.2" cy="247.3" r="2.6"/><circle cx="525.5" cy="251.5" r="2.6"/><circle cx="526.9" cy="255.5" r="2.6"/><circle cx="528.9" cy="254.9" r="2.6"/><circle cx="529.7" cy="252.9" r="2.6"/><circle cx="531.7" cy="250.8" r="2.6"/><circle cx="534.7" cy="258.8" r="2.6"/><circle cx="535.9" cy="262.1" r="2.6"/><circle cx="537.7" cy="257.9" r="2.6"/><circle cx="539.1" cy="254.8" r="2.6"/><circle cx="543.1" cy="236.5" r="2.6"/><circle cx="544.0" cy="241.2" r="2.6"/><circle cx="546.3" cy="250.4" r="2.6"/><circle cx="546.9" cy="252.5" r="2.6"/><circle cx="551.7" cy="251.1" r="2.6"/><circle cx="554.3" cy="252.4" r="2.6"/><circle cx="555.1" cy="247.1" r="2.6"/><circle cx="558.1" cy="243.0" r="2.6"/><circle cx="560.4" cy="237.5" r="2.6"/><circle cx="561.9" cy="239.2" r="2.6"/><circle cx="567.1" cy="240.8" r="2.6"/><circle cx="568.6" cy="249.3" r="2.6"/><circle cx="572.0" cy="246.7" r="2.6"/><circle cx="572.6" cy="244.1" r="2.6"/><circle cx="574.5" cy="253.3" r="2.6"/><circle cx="576.8" cy="253.9" r="2.6"/><circle cx="577.4" cy="257.2" r="2.6"/><circle cx="579.6" cy="252.3" r="2.6"/><circle cx="581.1" cy="254.9" r="2.6"/><circle cx="583.1" cy="250.0" r="2.6"/><circle cx="585.8" cy="251.3" r="2.6"/><circle cx="587.4" cy="254.6" r="2.6"/><circle cx="588.6" cy="253.8" r="2.6"/><circle cx="594.2" cy="262.0" r="2.6"/><circle cx="595.5" cy="262.5" r="2.6"/><circle cx="597.3" cy="262.4" r="2.6"/><circle cx="599.5" cy="255.4" r="2.6"/><circle cx="601.9" cy="246.4" r="2.6"/><circle cx="602.6" cy="248.5" r="2.6"/><circle cx="605.1" cy="247.4" r="2.6"/><circle cx="607.1" cy="244.8" r="2.6"/><circle cx="607.7" cy="246.8" r="2.6"/><circle cx="610.5" cy="250.3" r="2.6"/><circle cx="611.3" cy="249.0" r="2.6"/><circle cx="614.9" cy="248.3" r="2.6"/><circle cx="617.8" cy="250.0" r="2.6"/><circle cx="620.3" cy="238.5" r="2.6"/><circle cx="622.1" cy="246.6" r="2.6"/><circle cx="624.1" cy="253.2" r="2.6"/><circle cx="625.5" cy="251.9" r="2.6"/><circle cx="627.2" cy="249.7" r="2.6"/><circle cx="629.7" cy="249.4" r="2.6"/><circle cx="629.9" cy="247.2" r="2.6"/><circle cx="632.9" cy="246.4" r="2.6"/><circle cx="633.8" cy="251.9" r="2.6"/><circle cx="637.7" cy="256.9" r="2.6"/><circle cx="638.3" cy="254.1" r="2.6"/><circle cx="640.4" cy="254.0" r="2.6"/><circle cx="642.5" cy="256.0" r="2.6"/><circle cx="643.8" cy="258.4" r="2.6"/><circle cx="645.3" cy="254.8" r="2.6"/><circle cx="645.9" cy="259.4" r="2.6"/><circle cx="648.1" cy="260.0" r="2.6"/><circle cx="651.4" cy="262.1" r="2.6"/><circle cx="652.6" cy="263.7" r="2.6"/><circle cx="653.9" cy="263.6" r="2.6"/><circle cx="656.1" cy="261.6" r="2.6"/><circle cx="657.9" cy="262.2" r="2.6"/><circle cx="660.1" cy="259.2" r="2.6"/><circle cx="660.6" cy="261.1" r="2.6"/><circle cx="662.7" cy="260.8" r="2.6"/><circle cx="664.6" cy="257.8" r="2.6"/><circle cx="668.6" cy="255.3" r="2.6"/><circle cx="670.6" cy="255.4" r="2.6"/><circle cx="671.6" cy="255.2" r="2.6"/><circle cx="676.2" cy="258.3" r="2.6"/><circle cx="677.3" cy="254.7" r="2.6"/><circle cx="679.2" cy="258.2" r="2.6"/><circle cx="680.9" cy="259.1" r="2.6"/><circle cx="681.6" cy="263.2" r="2.6"/><circle cx="683.9" cy="263.0" r="2.6"/><circle cx="688.2" cy="259.3" r="2.6"/><circle cx="689.1" cy="258.6" r="2.6"/><circle cx="690.9" cy="258.0" r="2.6"/><circle cx="692.3" cy="261.9" r="2.6"/><circle cx="694.4" cy="259.3" r="2.6"/><circle cx="697.0" cy="262.7" r="2.6"/><circle cx="697.5" cy="260.5" r="2.6"/><circle cx="699.6" cy="261.4" r="2.6"/><circle cx="700.8" cy="258.5" r="2.6"/><circle cx="702.2" cy="261.0" r="2.6"/><circle cx="703.5" cy="260.7" r="2.6"/><circle cx="705.1" cy="260.3" r="2.6"/><circle cx="708.4" cy="257.7" r="2.6"/><circle cx="711.0" cy="254.9" r="2.6"/><circle cx="711.5" cy="252.3" r="2.6"/><circle cx="713.2" cy="254.1" r="2.6"/><circle cx="715.0" cy="252.4" r="2.6"/><circle cx="716.5" cy="251.2" r="2.6"/><circle cx="719.0" cy="252.8" r="2.6"/><circle cx="720.0" cy="250.7" r="2.6"/><circle cx="722.3" cy="243.4" r="2.6"/><circle cx="724.6" cy="241.2" r="2.6"/><circle cx="726.5" cy="245.8" r="2.6"/><circle cx="728.8" cy="248.9" r="2.6"/><circle cx="729.6" cy="248.8" r="2.6"/><circle cx="732.0" cy="247.4" r="2.6"/><circle cx="733.1" cy="247.1" r="2.6"/><circle cx="735.3" cy="250.9" r="2.6"/><circle cx="737.8" cy="251.1" r="2.6"/><circle cx="739.1" cy="252.7" r="2.6"/><circle cx="741.7" cy="250.8" r="2.6"/><circle cx="744.6" cy="252.6" r="2.6"/><circle cx="745.8" cy="256.8" r="2.6"/><circle cx="747.0" cy="251.2" r="2.6"/><circle cx="749.4" cy="251.1" r="2.6"/><circle cx="752.5" cy="251.1" r="2.6"/><circle cx="753.9" cy="251.6" r="2.6"/><circle cx="756.0" cy="250.7" r="2.6"/><circle cx="756.4" cy="255.4" r="2.6"/><circle cx="758.6" cy="257.1" r="2.6"/><circle cx="760.1" cy="261.7" r="2.6"/><circle cx="761.2" cy="258.9" r="2.6"/><circle cx="764.1" cy="256.5" r="2.6"/><circle cx="765.8" cy="257.4" r="2.6"/><circle cx="766.9" cy="255.1" r="2.6"/><circle cx="776.5" cy="234.7" r="2.6"/><circle cx="778.6" cy="235.2" r="2.6"/><circle cx="780.6" cy="235.3" r="2.6"/><circle cx="782.0" cy="239.7" r="2.6"/><circle cx="784.6" cy="240.9" r="2.6"/><circle cx="786.4" cy="238.3" r="2.6"/><circle cx="788.0" cy="240.5" r="2.6"/><circle cx="788.8" cy="242.3" r="2.6"/><circle cx="790.1" cy="242.4" r="2.6"/><circle cx="793.7" cy="244.2" r="2.6"/><circle cx="795.1" cy="248.8" r="2.6"/><circle cx="797.6" cy="246.3" r="2.6"/><circle cx="798.6" cy="248.5" r="2.6"/><circle cx="800.6" cy="246.7" r="2.6"/><circle cx="802.0" cy="248.3" r="2.6"/><circle cx="803.3" cy="246.8" r="2.6"/><circle cx="804.8" cy="247.3" r="2.6"/><circle cx="809.4" cy="230.6" r="2.6"/><circle cx="811.9" cy="227.4" r="2.6"/><circle cx="812.2" cy="229.0" r="2.6"/><circle cx="814.6" cy="229.0" r="2.6"/><circle cx="816.4" cy="228.3" r="2.6"/><circle cx="818.4" cy="218.8" r="2.6"/><circle cx="819.1" cy="205.8" r="2.6"/><circle cx="820.9" cy="205.8" r="2.6"/><circle cx="823.9" cy="215.4" r="2.6"/><circle cx="826.5" cy="214.1" r="2.6"/><circle cx="827.2" cy="210.4" r="2.6"/><circle cx="829.5" cy="211.3" r="2.6"/><circle cx="831.2" cy="201.6" r="2.6"/><circle cx="831.9" cy="201.2" r="2.6"/><circle cx="833.6" cy="203.0" r="2.6"/><circle cx="836.0" cy="210.8" r="2.6"/><circle cx="836.4" cy="208.1" r="2.6"/><circle cx="838.9" cy="207.2" r="2.6"/><circle cx="841.3" cy="207.3" r="2.6"/><circle cx="843.9" cy="203.4" r="2.6"/><circle cx="846.3" cy="205.8" r="2.6"/><circle cx="847.7" cy="208.5" r="2.6"/><circle cx="850.3" cy="207.3" r="2.6"/><circle cx="851.5" cy="210.9" r="2.6"/><circle cx="853.8" cy="207.5" r="2.6"/><circle cx="854.0" cy="209.5" r="2.6"/><circle cx="855.4" cy="208.5" r="2.6"/><circle cx="857.1" cy="208.3" r="2.6"/><circle cx="116.6" cy="302.6" r="2.6"/><circle cx="118.9" cy="300.2" r="2.6"/><circle cx="121.0" cy="304.5" r="2.6"/><circle cx="122.6" cy="305.4" r="2.6"/><circle cx="125.1" cy="306.0" r="2.6"/><circle cx="127.1" cy="307.6" r="2.6"/><circle cx="128.5" cy="306.7" r="2.6"/><circle cx="130.5" cy="309.7" r="2.6"/><circle cx="130.8" cy="309.8" r="2.6"/><circle cx="135.0" cy="305.4" r="2.6"/><circle cx="136.0" cy="304.7" r="2.6"/><circle cx="138.0" cy="306.4" r="2.6"/><circle cx="140.3" cy="309.0" r="2.6"/><circle cx="141.9" cy="312.1" r="2.6"/><circle cx="143.8" cy="314.4" r="2.6"/><circle cx="145.6" cy="324.8" r="2.6"/><circle cx="148.1" cy="342.9" r="2.6"/><circle cx="148.5" cy="345.8" r="2.6"/><circle cx="150.4" cy="343.7" r="2.6"/><circle cx="154.1" cy="329.3" r="2.6"/><circle cx="156.3" cy="323.5" r="2.6"/><circle cx="158.1" cy="320.1" r="2.6"/><circle cx="163.2" cy="316.1" r="2.6"/><circle cx="166.2" cy="322.9" r="2.6"/><circle cx="168.3" cy="324.9" r="2.6"/><circle cx="172.2" cy="320.3" r="2.6"/><circle cx="172.3" cy="318.5" r="2.6"/><circle cx="175.1" cy="313.4" r="2.6"/><circle cx="176.0" cy="310.6" r="2.6"/><circle cx="180.0" cy="296.0" r="2.6"/><circle cx="181.3" cy="295.2" r="2.6"/><circle cx="182.8" cy="295.4" r="2.6"/><circle cx="184.1" cy="292.7" r="2.6"/><circle cx="188.5" cy="286.8" r="2.6"/><circle cx="194.0" cy="279.2" r="2.6"/><circle cx="195.5" cy="279.0" r="2.6"/><circle cx="196.2" cy="280.6" r="2.6"/><circle cx="199.3" cy="283.7" r="2.6"/><circle cx="204.0" cy="282.9" r="2.6"/><circle cx="205.9" cy="280.0" r="2.6"/><circle cx="207.6" cy="278.0" r="2.6"/><circle cx="209.4" cy="278.5" r="2.6"/><circle cx="213.1" cy="279.9" r="2.6"/><circle cx="214.3" cy="281.5" r="2.6"/><circle cx="217.8" cy="283.5" r="2.6"/><circle cx="219.1" cy="286.2" r="2.6"/><circle cx="220.6" cy="287.8" r="2.6"/><circle cx="222.2" cy="288.1" r="2.6"/><circle cx="227.7" cy="297.3" r="2.6"/><circle cx="229.7" cy="297.3" r="2.6"/><circle cx="231.1" cy="293.9" r="2.6"/><circle cx="233.7" cy="294.4" r="2.6"/><circle cx="235.8" cy="294.1" r="2.6"/><circle cx="236.4" cy="293.0" r="2.6"/><circle cx="239.2" cy="298.0" r="2.6"/><circle cx="240.1" cy="299.6" r="2.6"/><circle cx="241.4" cy="298.4" r="2.6"/><circle cx="245.1" cy="293.8" r="2.6"/><circle cx="247.1" cy="292.2" r="2.6"/><circle cx="252.5" cy="293.3" r="2.6"/><circle cx="254.4" cy="297.2" r="2.6"/><circle cx="257.7" cy="298.3" r="2.6"/><circle cx="260.2" cy="299.8" r="2.6"/><circle cx="260.4" cy="303.4" r="2.6"/><circle cx="262.7" cy="304.5" r="2.6"/><circle cx="263.5" cy="308.1" r="2.6"/><circle cx="266.4" cy="311.7" r="2.6"/><circle cx="266.7" cy="311.0" r="2.6"/><circle cx="269.3" cy="312.2" r="2.6"/><circle cx="271.2" cy="313.8" r="2.6"/><circle cx="272.4" cy="310.6" r="2.6"/><circle cx="273.8" cy="309.8" r="2.6"/><circle cx="276.6" cy="311.2" r="2.6"/><circle cx="278.3" cy="312.5" r="2.6"/><circle cx="279.5" cy="311.8" r="2.6"/><circle cx="282.6" cy="309.9" r="2.6"/><circle cx="283.0" cy="313.4" r="2.6"/><circle cx="290.3" cy="308.6" r="2.6"/><circle cx="292.2" cy="303.8" r="2.6"/><circle cx="293.5" cy="304.6" r="2.6"/><circle cx="295.3" cy="298.5" r="2.6"/><circle cx="295.6" cy="300.9" r="2.6"/><circle cx="298.0" cy="300.8" r="2.6"/><circle cx="299.6" cy="302.0" r="2.6"/><circle cx="301.6" cy="301.3" r="2.6"/><circle cx="303.8" cy="303.1" r="2.6"/><circle cx="306.0" cy="301.8" r="2.6"/><circle cx="307.5" cy="302.4" r="2.6"/><circle cx="308.3" cy="306.6" r="2.6"/><circle cx="313.9" cy="297.3" r="2.6"/><circle cx="315.1" cy="299.2" r="2.6"/><circle cx="319.2" cy="291.6" r="2.6"/><circle cx="319.6" cy="295.3" r="2.6"/><circle cx="321.7" cy="293.0" r="2.6"/><circle cx="324.1" cy="297.7" r="2.6"/><circle cx="331.1" cy="299.1" r="2.6"/><circle cx="338.8" cy="286.5" r="2.6"/><circle cx="344.1" cy="288.8" r="2.6"/><circle cx="345.4" cy="287.5" r="2.6"/><circle cx="347.1" cy="288.8" r="2.6"/><circle cx="352.0" cy="285.2" r="2.6"/><circle cx="354.8" cy="288.7" r="2.6"/><circle cx="358.2" cy="294.1" r="2.6"/><circle cx="360.6" cy="296.9" r="2.6"/><circle cx="361.8" cy="296.0" r="2.6"/><circle cx="363.0" cy="296.2" r="2.6"/><circle cx="365.7" cy="299.6" r="2.6"/><circle cx="367.0" cy="296.2" r="2.6"/><circle cx="367.5" cy="298.5" r="2.6"/><circle cx="369.5" cy="299.1" r="2.6"/><circle cx="372.7" cy="292.6" r="2.6"/><circle cx="374.3" cy="288.3" r="2.6"/><circle cx="376.9" cy="288.2" r="2.6"/><circle cx="378.0" cy="288.1" r="2.6"/><circle cx="378.6" cy="292.3" r="2.6"/><circle cx="381.1" cy="295.3" r="2.6"/><circle cx="382.5" cy="296.7" r="2.6"/><circle cx="384.8" cy="296.7" r="2.6"/><circle cx="385.1" cy="298.3" r="2.6"/><circle cx="387.1" cy="295.2" r="2.6"/><circle cx="390.2" cy="285.4" r="2.6"/><circle cx="391.8" cy="284.0" r="2.6"/><circle cx="393.1" cy="279.4" r="2.6"/><circle cx="394.9" cy="280.5" r="2.6"/><circle cx="396.6" cy="281.2" r="2.6"/><circle cx="399.0" cy="284.9" r="2.6"/><circle cx="400.1" cy="286.0" r="2.6"/><circle cx="401.8" cy="283.2" r="2.6"/><circle cx="404.0" cy="288.5" r="2.6"/><circle cx="405.3" cy="285.5" r="2.6"/><circle cx="408.8" cy="280.8" r="2.6"/><circle cx="409.8" cy="280.0" r="2.6"/><circle cx="413.4" cy="279.1" r="2.6"/><circle cx="414.2" cy="283.8" r="2.6"/><circle cx="416.2" cy="282.6" r="2.6"/><circle cx="417.1" cy="286.5" r="2.6"/><circle cx="419.1" cy="289.1" r="2.6"/><circle cx="420.6" cy="292.4" r="2.6"/><circle cx="421.9" cy="292.0" r="2.6"/><circle cx="424.1" cy="295.5" r="2.6"/><circle cx="426.4" cy="301.0" r="2.6"/><circle cx="428.0" cy="305.7" r="2.6"/><circle cx="428.2" cy="313.5" r="2.6"/><circle cx="431.2" cy="314.9" r="2.6"/><circle cx="433.9" cy="314.9" r="2.6"/><circle cx="435.0" cy="316.7" r="2.6"/><circle cx="436.7" cy="314.1" r="2.6"/><circle cx="438.1" cy="308.3" r="2.6"/><circle cx="440.4" cy="304.1" r="2.6"/><circle cx="441.9" cy="297.1" r="2.6"/><circle cx="442.8" cy="297.4" r="2.6"/><circle cx="444.8" cy="302.1" r="2.6"/><circle cx="447.0" cy="298.8" r="2.6"/><circle cx="448.7" cy="294.2" r="2.6"/><circle cx="449.0" cy="295.3" r="2.6"/><circle cx="451.2" cy="288.1" r="2.6"/><circle cx="453.2" cy="288.3" r="2.6"/><circle cx="454.1" cy="287.4" r="2.6"/><circle cx="455.6" cy="291.5" r="2.6"/><circle cx="457.3" cy="289.4" r="2.6"/><circle cx="458.9" cy="289.0" r="2.6"/><circle cx="460.4" cy="291.3" r="2.6"/><circle cx="465.5" cy="297.2" r="2.6"/><circle cx="467.2" cy="290.8" r="2.6"/><circle cx="469.3" cy="293.8" r="2.6"/><circle cx="471.0" cy="294.2" r="2.6"/><circle cx="474.6" cy="295.7" r="2.6"/><circle cx="475.3" cy="295.4" r="2.6"/><circle cx="476.7" cy="291.5" r="2.6"/><circle cx="482.0" cy="279.4" r="2.6"/><circle cx="485.4" cy="281.8" r="2.6"/><circle cx="488.3" cy="279.3" r="2.6"/><circle cx="490.2" cy="280.8" r="2.6"/><circle cx="491.9" cy="278.2" r="2.6"/><circle cx="492.6" cy="277.7" r="2.6"/><circle cx="494.4" cy="279.5" r="2.6"/><circle cx="495.7" cy="279.3" r="2.6"/><circle cx="497.5" cy="280.5" r="2.6"/><circle cx="500.2" cy="284.4" r="2.6"/><circle cx="504.2" cy="278.9" r="2.6"/><circle cx="506.0" cy="278.1" r="2.6"/><circle cx="506.7" cy="281.0" r="2.6"/><circle cx="508.7" cy="285.0" r="2.6"/><circle cx="510.6" cy="289.6" r="2.6"/><circle cx="511.9" cy="289.0" r="2.6"/><circle cx="513.4" cy="292.1" r="2.6"/><circle cx="514.8" cy="293.2" r="2.6"/><circle cx="516.5" cy="290.9" r="2.6"/><circle cx="519.0" cy="293.0" r="2.6"/><circle cx="521.2" cy="292.6" r="2.6"/><circle cx="522.9" cy="291.8" r="2.6"/><circle cx="524.6" cy="289.7" r="2.6"/><circle cx="527.6" cy="289.7" r="2.6"/><circle cx="531.5" cy="289.3" r="2.6"/><circle cx="532.5" cy="290.2" r="2.6"/><circle cx="534.6" cy="286.2" r="2.6"/><circle cx="538.0" cy="287.9" r="2.6"/><circle cx="539.5" cy="286.3" r="2.6"/><circle cx="540.4" cy="280.7" r="2.6"/><circle cx="543.1" cy="281.5" r="2.6"/><circle cx="544.1" cy="280.7" r="2.6"/><circle cx="546.6" cy="279.2" r="2.6"/><circle cx="547.6" cy="281.8" r="2.6"/><circle cx="548.5" cy="281.5" r="2.6"/><circle cx="550.1" cy="283.6" r="2.6"/><circle cx="551.4" cy="286.3" r="2.6"/><circle cx="553.5" cy="283.2" r="2.6"/><circle cx="555.7" cy="282.2" r="2.6"/><circle cx="557.7" cy="281.9" r="2.6"/><circle cx="558.9" cy="281.6" r="2.6"/><circle cx="562.0" cy="280.8" r="2.6"/><circle cx="566.3" cy="281.1" r="2.6"/><circle cx="567.9" cy="278.5" r="2.6"/><circle cx="570.1" cy="278.3" r="2.6"/><circle cx="572.3" cy="281.5" r="2.6"/><circle cx="574.3" cy="282.0" r="2.6"/><circle cx="576.9" cy="283.0" r="2.6"/><circle cx="580.2" cy="277.3" r="2.6"/><circle cx="580.3" cy="281.7" r="2.6"/><circle cx="582.8" cy="281.4" r="2.6"/><circle cx="586.0" cy="283.3" r="2.6"/><circle cx="587.2" cy="287.4" r="2.6"/><circle cx="589.6" cy="286.0" r="2.6"/><circle cx="590.3" cy="285.3" r="2.6"/><circle cx="595.1" cy="285.4" r="2.6"/><circle cx="596.8" cy="284.8" r="2.6"/><circle cx="598.9" cy="286.8" r="2.6"/><circle cx="599.7" cy="289.8" r="2.6"/><circle cx="602.0" cy="285.2" r="2.6"/><circle cx="603.5" cy="285.7" r="2.6"/><circle cx="606.0" cy="279.9" r="2.6"/><circle cx="609.3" cy="281.1" r="2.6"/><circle cx="610.7" cy="279.6" r="2.6"/><circle cx="616.7" cy="281.7" r="2.6"/><circle cx="617.8" cy="277.7" r="2.6"/><circle cx="620.2" cy="276.3" r="2.6"/><circle cx="620.8" cy="277.8" r="2.6"/><circle cx="624.8" cy="276.9" r="2.6"/><circle cx="625.7" cy="277.7" r="2.6"/><circle cx="628.7" cy="277.5" r="2.6"/><circle cx="631.4" cy="278.6" r="2.6"/><circle cx="632.3" cy="280.6" r="2.6"/><circle cx="633.9" cy="278.4" r="2.6"/><circle cx="634.9" cy="279.8" r="2.6"/><circle cx="636.6" cy="278.7" r="2.6"/><circle cx="639.0" cy="281.6" r="2.6"/><circle cx="640.0" cy="277.8" r="2.6"/><circle cx="642.6" cy="278.2" r="2.6"/><circle cx="643.4" cy="282.6" r="2.6"/><circle cx="645.6" cy="278.7" r="2.6"/><circle cx="646.5" cy="280.9" r="2.6"/><circle cx="648.4" cy="284.1" r="2.6"/><circle cx="650.6" cy="288.2" r="2.6"/><circle cx="651.6" cy="288.0" r="2.6"/><circle cx="658.1" cy="284.3" r="2.6"/><circle cx="658.7" cy="281.6" r="2.6"/><circle cx="661.7" cy="283.1" r="2.6"/><circle cx="663.6" cy="282.6" r="2.6"/><circle cx="665.7" cy="280.0" r="2.6"/><circle cx="666.7" cy="279.8" r="2.6"/><circle cx="668.8" cy="283.0" r="2.6"/><circle cx="670.7" cy="282.2" r="2.6"/><circle cx="671.5" cy="285.7" r="2.6"/><circle cx="676.1" cy="288.3" r="2.6"/><circle cx="676.6" cy="286.4" r="2.6"/><circle cx="679.1" cy="287.9" r="2.6"/><circle cx="681.7" cy="285.5" r="2.6"/><circle cx="683.6" cy="283.8" r="2.6"/><circle cx="685.6" cy="286.4" r="2.6"/><circle cx="686.6" cy="286.5" r="2.6"/><circle cx="688.3" cy="286.6" r="2.6"/><circle cx="691.7" cy="287.0" r="2.6"/><circle cx="693.3" cy="290.4" r="2.6"/><circle cx="694.8" cy="294.3" r="2.6"/><circle cx="695.9" cy="289.9" r="2.6"/><circle cx="697.6" cy="291.3" r="2.6"/><circle cx="699.7" cy="291.1" r="2.6"/><circle cx="701.5" cy="290.7" r="2.6"/><circle cx="702.8" cy="289.3" r="2.6"/><circle cx="704.3" cy="291.0" r="2.6"/><circle cx="705.5" cy="291.7" r="2.6"/><circle cx="706.8" cy="290.1" r="2.6"/><circle cx="709.0" cy="284.9" r="2.6"/><circle cx="713.8" cy="284.2" r="2.6"/><circle cx="716.4" cy="285.6" r="2.6"/><circle cx="720.8" cy="280.2" r="2.6"/><circle cx="722.5" cy="279.3" r="2.6"/><circle cx="724.2" cy="279.2" r="2.6"/><circle cx="726.9" cy="280.5" r="2.6"/><circle cx="728.7" cy="280.6" r="2.6"/><circle cx="730.6" cy="284.1" r="2.6"/><circle cx="734.2" cy="280.5" r="2.6"/><circle cx="736.9" cy="279.7" r="2.6"/><circle cx="737.2" cy="280.7" r="2.6"/><circle cx="740.4" cy="278.3" r="2.6"/><circle cx="744.5" cy="277.7" r="2.6"/><circle cx="745.7" cy="274.8" r="2.6"/><circle cx="747.3" cy="278.9" r="2.6"/><circle cx="748.9" cy="278.2" r="2.6"/><circle cx="752.1" cy="280.8" r="2.6"/><circle cx="757.1" cy="275.9" r="2.6"/><circle cx="759.7" cy="278.1" r="2.6"/><circle cx="761.7" cy="276.1" r="2.6"/><circle cx="763.6" cy="277.6" r="2.6"/><circle cx="764.6" cy="277.0" r="2.6"/><circle cx="765.9" cy="278.2" r="2.6"/><circle cx="767.7" cy="280.0" r="2.6"/><circle cx="772.0" cy="280.3" r="2.6"/><circle cx="772.4" cy="276.5" r="2.6"/><circle cx="774.1" cy="279.4" r="2.6"/><circle cx="775.4" cy="280.2" r="2.6"/><circle cx="777.5" cy="278.8" r="2.6"/><circle cx="779.8" cy="279.5" r="2.6"/><circle cx="781.0" cy="275.5" r="2.6"/><circle cx="782.0" cy="278.2" r="2.6"/><circle cx="783.5" cy="277.6" r="2.6"/><circle cx="785.8" cy="279.6" r="2.6"/><circle cx="786.7" cy="280.7" r="2.6"/><circle cx="789.3" cy="283.6" r="2.6"/><circle cx="789.9" cy="280.1" r="2.6"/><circle cx="791.5" cy="280.9" r="2.6"/><circle cx="793.9" cy="280.0" r="2.6"/><circle cx="795.4" cy="277.9" r="2.6"/><circle cx="796.4" cy="280.5" r="2.6"/><circle cx="798.8" cy="279.8" r="2.6"/><circle cx="799.7" cy="281.1" r="2.6"/><circle cx="801.5" cy="284.0" r="2.6"/><circle cx="802.8" cy="281.7" r="2.6"/><circle cx="804.8" cy="279.0" r="2.6"/><circle cx="805.9" cy="276.4" r="2.6"/><circle cx="810.2" cy="279.6" r="2.6"/><circle cx="813.1" cy="276.6" r="2.6"/><circle cx="814.4" cy="279.5" r="2.6"/><circle cx="816.8" cy="276.6" r="2.6"/><circle cx="818.0" cy="275.9" r="2.6"/><circle cx="818.9" cy="278.0" r="2.6"/><circle cx="820.4" cy="279.6" r="2.6"/><circle cx="824.3" cy="276.3" r="2.6"/><circle cx="831.4" cy="272.6" r="2.6"/><circle cx="837.3" cy="275.2" r="2.6"/><circle cx="837.8" cy="274.5" r="2.6"/><circle cx="841.2" cy="274.5" r="2.6"/><circle cx="843.8" cy="276.6" r="2.6"/><circle cx="844.7" cy="274.6" r="2.6"/><circle cx="847.0" cy="272.9" r="2.6"/><circle cx="847.5" cy="276.1" r="2.6"/><circle cx="850.1" cy="273.2" r="2.6"/><circle cx="851.4" cy="272.8" r="2.6"/><circle cx="853.4" cy="274.7" r="2.6"/><circle cx="854.3" cy="273.8" r="2.6"/><circle cx="856.5" cy="273.4" r="2.6"/><circle cx="858.0" cy="273.9" r="2.6"/></g>
<g fill="#1f77b4">
<path d="M830.0,197.7 L832.2,196.6 L835.5,204.4 L841.1,208.8 L846.6,204.4 L852.2,205.5 L858.8,202.2 L859.9,185.5 L863.3,185.5 L866.6,192.2 L872.2,183.3 L878.8,184.4 L882.1,188.8 L884.4,195.5 L885.5,213.2 L886.0,226.6 L887.1,263.2 L907.6,263.2 L918.7,263.2 L929.8,263.7 L940.9,263.7 L947.6,263.2 L960.0,263.2 L960.0,277.6 L940.9,277.6 L918.7,277.6 L896.6,277.6 L874.4,276.5 L852.2,276.5 L830.0,275.4Z"/>
<path d="M947.6,222.1 L952.0,226.6 L960.0,222.1 L960.0,263.2 L938.7,263.2 L940.9,251.0 L945.4,237.6 L947.6,226.6Z"/>
<path d="M958.0,277.0 L958.0,184.2 L961.4,181.4 L965.5,180.1 L969.6,184.2 L973.7,181.4 L977.1,178.7 L977.8,145.3 L981.9,143.9 L987.3,142.5 L994.2,141.2 L1001.0,139.8 L1011.9,138.4 L1025.6,137.7 L1039.2,137.5 L1050.0,137.1 L1270.0,137.1 L1302.8,137.1 L1308.2,139.1 L1311.0,141.8 L1311.0,180.1 L1324.6,182.8 L1324.6,242.9 L1335.5,249.7 L1351.9,256.5 L1350.0,321.1 L1343.6,316.8 L1335.1,314.7 L1326.5,314.7 L1318.0,314.7 L1309.5,310.4 L1300.9,301.9 L1292.4,304.0 L1283.9,304.0 L1275.3,299.7 L1264.7,295.5 L1254.0,295.5 L1243.3,297.6 L1232.7,297.6 L1224.1,295.5 L1215.6,293.3 L1207.1,293.3 L1198.5,297.6 L1190.0,289.1 L1200.0,299.7 L1184.6,304.0 L1174.0,299.7 L1163.3,291.2 L1152.6,295.5 L1142.0,297.6 L1131.3,301.9 L1120.6,304.0 L1110.0,299.7 L1099.3,295.5 L1088.7,297.6 L1078.0,297.6 L1067.3,301.9 L1056.7,301.9 L1046.0,299.7 L1035.3,301.9 L1024.7,297.6 L1014.0,304.0 L1003.3,304.0 L992.7,306.1 L982.0,310.4 L971.3,318.9 L960.7,321.1 L950.0,325.3 L978.5,319.5 L969.9,319.5 L959.7,316.0 L958.0,277.6Z"/>
<path d="M1323.8,263.7 L1336.1,262.2 L1351.4,263.7 L1359.1,262.2 L1366.8,263.7 L1376.0,263.0 L1385.2,263.7 L1397.5,265.3 L1406.7,263.7 L1412.9,262.2 L1420.5,259.9 L1428.2,262.2 L1435.9,257.6 L1443.6,263.7 L1451.3,263.7 L1462.8,263.7 L1462.8,319.0 L1458.9,317.5 L1455.9,322.1 L1452.8,323.6 L1449.7,312.9 L1446.7,305.2 L1440.5,297.5 L1434.4,291.4 L1428.2,296.0 L1422.1,296.0 L1412.9,297.5 L1406.7,297.5 L1400.6,302.1 L1394.4,297.5 L1385.2,296.0 L1376.0,297.5 L1366.8,300.6 L1359.1,300.6 L1351.4,297.5 L1336.1,297.5 L1323.8,297.5Z"/>
<circle cx="903.4" cy="230.7" r="2.6"/><circle cx="903.4" cy="237.5" r="2.6"/><circle cx="911.6" cy="241.0" r="2.6"/><circle cx="915.3" cy="246.1" r="2.6"/><circle cx="918.7" cy="249.5" r="2.6"/><circle cx="923.0" cy="242.7" r="2.6"/><circle cx="925.6" cy="251.2" r="2.6"/><circle cx="928.1" cy="259.7" r="2.6"/><circle cx="933.2" cy="240.1" r="2.6"/><circle cx="937.5" cy="230.7" r="2.6"/><circle cx="939.2" cy="239.2" r="2.6"/><circle cx="942.6" cy="244.4" r="2.6"/><circle cx="946.0" cy="251.2" r="2.6"/><circle cx="949.5" cy="241.0" r="2.6"/><circle cx="952.9" cy="251.2" r="2.6"/><circle cx="956.3" cy="244.4" r="2.6"/><circle cx="891.4" cy="239.2" r="2.6"/><circle cx="894.0" cy="244.4" r="2.6"/><circle cx="889.7" cy="249.5" r="2.6"/><circle cx="898.3" cy="251.2" r="2.6"/><circle cx="901.7" cy="256.3" r="2.6"/><circle cx="905.1" cy="259.7" r="2.6"/><circle cx="910.2" cy="258.9" r="2.6"/><circle cx="915.3" cy="259.7" r="2.6"/><circle cx="920.4" cy="256.3" r="2.6"/><circle cx="925.6" cy="252.9" r="2.6"/><circle cx="932.4" cy="249.5" r="2.6"/><circle cx="935.8" cy="254.6" r="2.6"/><circle cx="940.9" cy="258.0" r="2.6"/><circle cx="946.0" cy="259.7" r="2.6"/><circle cx="949.5" cy="256.3" r="2.6"/><circle cx="952.9" cy="258.0" r="2.6"/><circle cx="894.8" cy="222.2" r="2.6"/><circle cx="894.8" cy="203.4" r="2.6"/><circle cx="888.0" cy="215.4" r="2.6"/><circle cx="901.7" cy="244.4" r="2.6"/><circle cx="908.5" cy="244.4" r="2.6"/><circle cx="922.2" cy="263.1" r="2.6"/><circle cx="879.5" cy="281.9" r="2.6"/><circle cx="879.5" cy="288.7" r="2.6"/><circle cx="882.9" cy="297.3" r="2.6"/><circle cx="894.8" cy="292.2" r="2.6"/><circle cx="898.3" cy="292.2" r="2.6"/><circle cx="901.7" cy="288.7" r="2.6"/><circle cx="911.9" cy="294.7" r="2.6"/><circle cx="917.0" cy="295.6" r="2.6"/><circle cx="917.0" cy="300.7" r="2.6"/><circle cx="918.7" cy="311.8" r="2.6"/><circle cx="922.2" cy="283.6" r="2.6"/><circle cx="925.6" cy="285.3" r="2.6"/><circle cx="925.6" cy="292.2" r="2.6"/><circle cx="929.0" cy="288.7" r="2.6"/><circle cx="932.4" cy="293.9" r="2.6"/><circle cx="935.8" cy="292.2" r="2.6"/><circle cx="937.5" cy="299.0" r="2.6"/><circle cx="940.9" cy="295.6" r="2.6"/><circle cx="942.6" cy="302.4" r="2.6"/><circle cx="949.5" cy="304.1" r="2.6"/><circle cx="952.9" cy="300.7" r="2.6"/><circle cx="956.3" cy="295.6" r="2.6"/><circle cx="927.3" cy="309.2" r="2.6"/><circle cx="929.0" cy="316.0" r="2.6"/><circle cx="932.4" cy="317.7" r="2.6"/><circle cx="935.8" cy="312.6" r="2.6"/><circle cx="939.2" cy="314.3" r="2.6"/><circle cx="942.6" cy="316.0" r="2.6"/><circle cx="946.0" cy="319.5" r="2.6"/><circle cx="949.5" cy="317.7" r="2.6"/><circle cx="952.9" cy="319.5" r="2.6"/><circle cx="956.3" cy="316.0" r="2.6"/><circle cx="935.8" cy="334.8" r="2.6"/><circle cx="940.9" cy="329.7" r="2.6"/><circle cx="947.7" cy="333.1" r="2.6"/><circle cx="947.7" cy="336.5" r="2.6"/><circle cx="951.2" cy="339.9" r="2.6"/><circle cx="954.6" cy="338.2" r="2.6"/><circle cx="940.9" cy="351.9" r="2.6"/><circle cx="946.0" cy="349.3" r="2.6"/><circle cx="949.5" cy="345.1" r="2.6"/><circle cx="905.1" cy="281.9" r="2.6"/><circle cx="910.2" cy="280.2" r="2.6"/><circle cx="889.7" cy="285.3" r="2.6"/><circle cx="898.3" cy="285.3" r="2.6"/><circle cx="908.5" cy="285.3" r="2.6"/><circle cx="932.4" cy="285.3" r="2.6"/><circle cx="939.2" cy="288.7" r="2.6"/><circle cx="949.5" cy="288.7" r="2.6"/><circle cx="946.0" cy="295.6" r="2.6"/><circle cx="935.8" cy="304.1" r="2.6"/><circle cx="925.6" cy="299.0" r="2.6"/><circle cx="915.3" cy="288.7" r="2.6"/><circle cx="886.3" cy="281.9" r="2.6"/><circle cx="894.8" cy="280.2" r="2.6"/><circle cx="961.4" cy="331.4" r="2.6"/><circle cx="961.4" cy="336.5" r="2.6"/><circle cx="961.4" cy="345.1" r="2.6"/><circle cx="961.4" cy="353.6" r="2.6"/><circle cx="963.1" cy="331.4" r="2.6"/><circle cx="973.3" cy="356.1" r="2.6"/><circle cx="975.1" cy="364.7" r="2.6"/><circle cx="962.3" cy="380.9" r="2.6"/><circle cx="975.1" cy="379.2" r="2.6"/><circle cx="981.0" cy="382.6" r="2.6"/><circle cx="981.0" cy="397.1" r="2.6"/><circle cx="989.6" cy="356.1" r="2.6"/><circle cx="995.5" cy="356.1" r="2.6"/><circle cx="995.5" cy="360.4" r="2.6"/><circle cx="998.1" cy="370.6" r="2.6"/><circle cx="998.1" cy="374.9" r="2.6"/><circle cx="998.1" cy="385.2" r="2.6"/><circle cx="1012.6" cy="370.6" r="2.6"/><circle cx="1012.6" cy="391.1" r="2.6"/><circle cx="1013.4" cy="349.3" r="2.6"/><circle cx="1007.5" cy="344.2" r="2.6"/><circle cx="995.5" cy="345.9" r="2.6"/><circle cx="987.0" cy="345.9" r="2.6"/><circle cx="1018.6" cy="326.3" r="2.6"/><circle cx="1018.6" cy="334.8" r="2.6"/><circle cx="1012.6" cy="329.7" r="2.6"/><circle cx="1007.5" cy="321.2" r="2.6"/><circle cx="1000.6" cy="312.6" r="2.6"/><circle cx="992.1" cy="310.9" r="2.6"/><circle cx="983.6" cy="326.3" r="2.6"/><circle cx="989.6" cy="330.5" r="2.6"/><circle cx="978.5" cy="322.9" r="2.6"/><circle cx="971.6" cy="329.7" r="2.6"/><circle cx="973.3" cy="341.6" r="2.6"/><circle cx="980.2" cy="343.3" r="2.6"/><circle cx="964.8" cy="319.5" r="2.6"/><circle cx="954.3" cy="338.1" r="2.6"/><circle cx="961.7" cy="331.7" r="2.6"/><circle cx="961.7" cy="344.5" r="2.6"/><circle cx="961.7" cy="353.1" r="2.6"/><circle cx="973.5" cy="356.3" r="2.6"/><circle cx="975.2" cy="364.1" r="2.6"/><circle cx="962.4" cy="380.8" r="2.6"/><circle cx="975.2" cy="379.7" r="2.6"/><circle cx="981.6" cy="382.5" r="2.6"/><circle cx="981.6" cy="397.4" r="2.6"/><circle cx="975.2" cy="407.4" r="2.6"/><circle cx="981.6" cy="407.4" r="2.6"/><circle cx="975.2" cy="422.4" r="2.6"/><circle cx="975.2" cy="429.4" r="2.6"/><circle cx="975.2" cy="434.1" r="2.6"/><circle cx="975.2" cy="467.4" r="2.6"/><circle cx="973.5" cy="332.8" r="2.6"/><circle cx="977.7" cy="338.1" r="2.6"/><circle cx="982.0" cy="342.4" r="2.6"/><circle cx="988.4" cy="346.7" r="2.6"/><circle cx="989.5" cy="356.3" r="2.6"/><circle cx="995.2" cy="356.3" r="2.6"/><circle cx="995.2" cy="360.5" r="2.6"/><circle cx="997.4" cy="371.2" r="2.6"/><circle cx="997.4" cy="375.5" r="2.6"/><circle cx="997.4" cy="385.5" r="2.6"/><circle cx="1012.3" cy="371.2" r="2.6"/><circle cx="1012.3" cy="391.5" r="2.6"/><circle cx="1007.6" cy="344.5" r="2.6"/><circle cx="1013.4" cy="349.4" r="2.6"/><circle cx="1018.3" cy="333.9" r="2.6"/><circle cx="1018.3" cy="326.4" r="2.6"/><circle cx="1012.5" cy="329.6" r="2.6"/><circle cx="1001.2" cy="336.0" r="2.6"/><circle cx="995.4" cy="345.6" r="2.6"/><circle cx="988.4" cy="329.6" r="2.6"/><circle cx="1007.6" cy="321.1" r="2.6"/><circle cx="1014.0" cy="311.5" r="2.6"/><circle cx="1024.7" cy="318.9" r="2.6"/><circle cx="1033.2" cy="313.6" r="2.6"/><circle cx="1033.2" cy="326.4" r="2.6"/><circle cx="1040.7" cy="325.3" r="2.6"/><circle cx="1041.3" cy="315.7" r="2.6"/><circle cx="1041.3" cy="320.0" r="2.6"/><circle cx="1033.2" cy="357.3" r="2.6"/><circle cx="1041.3" cy="388.3" r="2.6"/><circle cx="1051.3" cy="322.1" r="2.6"/><circle cx="1056.7" cy="316.8" r="2.6"/><circle cx="1056.7" cy="344.5" r="2.6"/><circle cx="1060.3" cy="331.3" r="2.6"/><circle cx="1064.5" cy="324.3" r="2.6"/><circle cx="1068.4" cy="340.3" r="2.6"/><circle cx="1068.4" cy="347.7" r="2.6"/><circle cx="1073.3" cy="326.4" r="2.6"/><circle cx="1073.3" cy="364.4" r="2.6"/><circle cx="1064.5" cy="374.4" r="2.6"/><circle cx="1068.4" cy="379.5" r="2.6"/><circle cx="1056.2" cy="382.5" r="2.6"/><circle cx="1070.5" cy="310.4" r="2.6"/><circle cx="1084.4" cy="318.9" r="2.6"/><circle cx="1084.4" cy="312.5" r="2.6"/><circle cx="1088.2" cy="325.3" r="2.6"/><circle cx="1098.3" cy="350.5" r="2.6"/><circle cx="1102.1" cy="335.3" r="2.6"/><circle cx="1102.5" cy="323.2" r="2.6"/><circle cx="1107.8" cy="321.1" r="2.6"/><circle cx="1112.1" cy="320.0" r="2.6"/><circle cx="1118.5" cy="320.6" r="2.6"/><circle cx="1112.1" cy="332.2" r="2.6"/><circle cx="1108.9" cy="341.3" r="2.6"/><circle cx="1115.3" cy="346.7" r="2.6"/><circle cx="1115.3" cy="339.2" r="2.6"/><circle cx="1126.0" cy="340.3" r="2.6"/><circle cx="1126.0" cy="325.3" r="2.6"/><circle cx="1133.0" cy="322.1" r="2.6"/><circle cx="1135.6" cy="340.3" r="2.6"/><circle cx="1136.2" cy="358.4" r="2.6"/><circle cx="1135.2" cy="397.4" r="2.6"/><circle cx="1112.1" cy="375.5" r="2.6"/><circle cx="1115.3" cy="375.5" r="2.6"/><circle cx="1146.9" cy="333.9" r="2.6"/><circle cx="1146.9" cy="340.3" r="2.6"/><circle cx="1146.9" cy="346.7" r="2.6"/><circle cx="1146.9" cy="353.1" r="2.6"/><circle cx="1146.9" cy="359.5" r="2.6"/><circle cx="1146.9" cy="365.9" r="2.6"/><circle cx="1146.9" cy="370.1" r="2.6"/><circle cx="1146.9" cy="379.7" r="2.6"/><circle cx="1146.9" cy="385.1" r="2.6"/><circle cx="1146.9" cy="390.4" r="2.6"/><circle cx="1146.9" cy="397.8" r="2.6"/><circle cx="1146.9" cy="410.2" r="2.6"/><circle cx="1146.9" cy="448.0" r="2.6"/><circle cx="1146.9" cy="471.4" r="2.6"/><circle cx="1156.5" cy="330.7" r="2.6"/><circle cx="1161.2" cy="321.1" r="2.6"/><circle cx="1160.1" cy="342.4" r="2.6"/><circle cx="1160.1" cy="346.7" r="2.6"/><circle cx="1158.0" cy="353.1" r="2.6"/><circle cx="1161.2" cy="356.3" r="2.6"/><circle cx="1159.0" cy="366.5" r="2.6"/><circle cx="1161.2" cy="365.4" r="2.6"/><circle cx="1170.8" cy="368.0" r="2.6"/><circle cx="1175.0" cy="367.6" r="2.6"/><circle cx="1171.8" cy="342.4" r="2.6"/><circle cx="1174.0" cy="346.7" r="2.6"/><circle cx="1180.4" cy="348.8" r="2.6"/><circle cx="1180.4" cy="353.1" r="2.6"/><circle cx="1180.4" cy="336.4" r="2.6"/><circle cx="1174.0" cy="327.5" r="2.6"/><circle cx="1182.5" cy="321.1" r="2.6"/><circle cx="1195.3" cy="344.5" r="2.6"/><circle cx="1195.3" cy="350.9" r="2.6"/><circle cx="1195.3" cy="381.4" r="2.6"/><circle cx="1198.1" cy="320.0" r="2.6"/><circle cx="1163.3" cy="308.3" r="2.6"/><circle cx="1167.6" cy="307.2" r="2.6"/><circle cx="1174.0" cy="321.1" r="2.6"/><circle cx="1186.8" cy="321.1" r="2.6"/><circle cx="954.3" cy="329.6" r="2.6"/><circle cx="969.2" cy="325.3" r="2.6"/><circle cx="977.7" cy="325.3" r="2.6"/><circle cx="984.1" cy="321.1" r="2.6"/><circle cx="992.7" cy="316.8" r="2.6"/><circle cx="999.1" cy="314.7" r="2.6"/><circle cx="1005.5" cy="312.5" r="2.6"/><circle cx="1020.4" cy="310.4" r="2.6"/><circle cx="1031.1" cy="308.3" r="2.6"/><circle cx="1046.0" cy="308.3" r="2.6"/><circle cx="1060.9" cy="310.4" r="2.6"/><circle cx="1078.0" cy="306.1" r="2.6"/><circle cx="1095.1" cy="308.3" r="2.6"/><circle cx="1103.6" cy="312.5" r="2.6"/><circle cx="1120.6" cy="310.4" r="2.6"/><circle cx="1131.3" cy="312.5" r="2.6"/><circle cx="1142.0" cy="308.3" r="2.6"/><circle cx="1154.8" cy="308.3" r="2.6"/><circle cx="1188.9" cy="310.4" r="2.6"/><circle cx="962.8" cy="310.4" r="2.6"/><circle cx="971.3" cy="312.5" r="2.6"/><circle cx="995.2" cy="60.3" r="2.6"/><circle cx="995.2" cy="75.2" r="2.6"/><circle cx="1017.2" cy="80.5" r="2.6"/><circle cx="1017.2" cy="82.7" r="2.6"/><circle cx="1018.3" cy="96.5" r="2.6"/><circle cx="1010.8" cy="99.7" r="2.6"/><circle cx="1008.7" cy="101.9" r="2.6"/><circle cx="1009.7" cy="107.2" r="2.6"/><circle cx="995.2" cy="108.3" r="2.6"/><circle cx="995.2" cy="118.9" r="2.6"/><circle cx="1003.3" cy="121.1" r="2.6"/><circle cx="1001.2" cy="125.3" r="2.6"/><circle cx="984.1" cy="122.1" r="2.6"/><circle cx="985.2" cy="127.5" r="2.6"/><circle cx="993.7" cy="125.3" r="2.6"/><circle cx="995.9" cy="128.5" r="2.6"/><circle cx="1014.0" cy="125.3" r="2.6"/><circle cx="1018.3" cy="121.1" r="2.6"/><circle cx="1022.5" cy="111.5" r="2.6"/><circle cx="1024.7" cy="110.4" r="2.6"/><circle cx="1028.9" cy="101.9" r="2.6"/><circle cx="1028.9" cy="104.0" r="2.6"/><circle cx="1035.3" cy="101.9" r="2.6"/><circle cx="1035.3" cy="116.8" r="2.6"/><circle cx="1041.7" cy="107.2" r="2.6"/><circle cx="1043.9" cy="115.7" r="2.6"/><circle cx="1022.5" cy="121.1" r="2.6"/><circle cx="1031.1" cy="121.1" r="2.6"/><circle cx="1014.0" cy="129.6" r="2.6"/><circle cx="1007.6" cy="131.7" r="2.6"/><circle cx="999.1" cy="131.7" r="2.6"/><circle cx="988.4" cy="133.9" r="2.6"/><circle cx="1039.6" cy="127.5" r="2.6"/><circle cx="1033.2" cy="129.6" r="2.6"/><circle cx="962.8" cy="152.0" r="2.6"/><circle cx="961.7" cy="158.4" r="2.6"/><circle cx="964.9" cy="164.8" r="2.6"/><circle cx="972.4" cy="161.6" r="2.6"/><circle cx="973.5" cy="168.0" r="2.6"/><circle cx="966.0" cy="180.8" r="2.6"/><circle cx="972.4" cy="180.8" r="2.6"/><circle cx="952.6" cy="200.0" r="2.6"/><circle cx="1321.2" cy="127.5" r="2.6"/><circle cx="1321.2" cy="138.1" r="2.6"/><circle cx="1321.2" cy="142.4" r="2.6"/><circle cx="1318.0" cy="164.8" r="2.6"/><circle cx="1318.0" cy="173.3" r="2.6"/><circle cx="1334.0" cy="192.5" r="2.6"/><circle cx="1340.4" cy="200.0" r="2.6"/><circle cx="1350.0" cy="198.9" r="2.6"/><circle cx="1359.6" cy="204.2" r="2.6"/><circle cx="1340.4" cy="210.6" r="2.6"/><circle cx="1359.6" cy="218.1" r="2.6"/><circle cx="1359.6" cy="224.5" r="2.6"/><circle cx="1359.6" cy="233.0" r="2.6"/><circle cx="1359.6" cy="245.8" r="2.6"/><circle cx="1369.2" cy="246.9" r="2.6"/><circle cx="1373.4" cy="244.8" r="2.6"/><circle cx="1386.2" cy="244.8" r="2.6"/><circle cx="1390.5" cy="250.1" r="2.6"/><circle cx="1394.8" cy="251.2" r="2.6"/><circle cx="1384.1" cy="254.4" r="2.6"/><circle cx="1389.4" cy="259.7" r="2.6"/><circle cx="1369.2" cy="259.7" r="2.6"/><circle cx="1343.6" cy="239.4" r="2.6"/><circle cx="1330.8" cy="232.0" r="2.6"/><circle cx="1339.3" cy="227.7" r="2.6"/><circle cx="1347.8" cy="229.8" r="2.6"/><circle cx="1330.8" cy="214.9" r="2.6"/><circle cx="1328.7" cy="206.4" r="2.6"/><circle cx="1335.1" cy="223.4" r="2.6"/><circle cx="1326.5" cy="189.3" r="2.6"/><circle cx="1328.7" cy="178.7" r="2.6"/><circle cx="1322.3" cy="193.6" r="2.6"/><circle cx="1195.3" cy="344.5" r="2.6"/><circle cx="1195.3" cy="350.9" r="2.6"/><circle cx="1201.7" cy="350.9" r="2.6"/><circle cx="1195.3" cy="381.4" r="2.6"/><circle cx="1209.2" cy="370.1" r="2.6"/><circle cx="1213.5" cy="360.5" r="2.6"/><circle cx="1209.2" cy="432.4" r="2.6"/><circle cx="1211.3" cy="348.8" r="2.6"/><circle cx="1215.6" cy="340.3" r="2.6"/><circle cx="1213.5" cy="331.7" r="2.6"/><circle cx="1204.9" cy="331.7" r="2.6"/><circle cx="1204.9" cy="343.5" r="2.6"/><circle cx="1210.3" cy="344.5" r="2.6"/><circle cx="1222.0" cy="342.4" r="2.6"/><circle cx="1227.3" cy="361.2" r="2.6"/><circle cx="1227.3" cy="379.3" r="2.6"/><circle cx="1241.2" cy="363.3" r="2.6"/><circle cx="1241.2" cy="344.5" r="2.6"/><circle cx="1240.1" cy="336.4" r="2.6"/><circle cx="1238.0" cy="336.4" r="2.6"/><circle cx="1228.4" cy="327.5" r="2.6"/><circle cx="1235.9" cy="322.1" r="2.6"/><circle cx="1219.9" cy="321.1" r="2.6"/><circle cx="1219.9" cy="313.6" r="2.6"/><circle cx="1229.5" cy="314.7" r="2.6"/><circle cx="1252.9" cy="324.3" r="2.6"/><circle cx="1254.0" cy="318.9" r="2.6"/><circle cx="1259.3" cy="331.3" r="2.6"/><circle cx="1257.2" cy="372.3" r="2.6"/><circle cx="1264.7" cy="321.1" r="2.6"/><circle cx="1263.6" cy="314.7" r="2.6"/><circle cx="1268.9" cy="354.5" r="2.6"/><circle cx="1273.2" cy="348.4" r="2.6"/><circle cx="1273.2" cy="368.0" r="2.6"/><circle cx="1275.3" cy="373.3" r="2.6"/><circle cx="1275.3" cy="387.2" r="2.6"/><circle cx="1275.3" cy="324.3" r="2.6"/><circle cx="1275.3" cy="314.7" r="2.6"/><circle cx="1281.7" cy="309.3" r="2.6"/><circle cx="1284.9" cy="331.7" r="2.6"/><circle cx="1286.0" cy="343.5" r="2.6"/><circle cx="1291.3" cy="346.7" r="2.6"/><circle cx="1293.5" cy="348.8" r="2.6"/><circle cx="1291.3" cy="366.3" r="2.6"/><circle cx="1291.3" cy="415.3" r="2.6"/><circle cx="1294.5" cy="337.1" r="2.6"/><circle cx="1295.6" cy="340.3" r="2.6"/><circle cx="1300.9" cy="343.5" r="2.6"/><circle cx="1306.3" cy="344.5" r="2.6"/><circle cx="1306.3" cy="332.8" r="2.6"/><circle cx="1306.3" cy="327.5" r="2.6"/><circle cx="1309.5" cy="349.2" r="2.6"/><circle cx="1313.7" cy="340.3" r="2.6"/><circle cx="1318.0" cy="356.3" r="2.6"/><circle cx="1318.0" cy="348.8" r="2.6"/><circle cx="1319.1" cy="342.4" r="2.6"/><circle cx="1318.0" cy="374.4" r="2.6"/><circle cx="1318.0" cy="382.9" r="2.6"/><circle cx="1318.0" cy="384.6" r="2.6"/><circle cx="1328.7" cy="378.7" r="2.6"/><circle cx="1331.9" cy="384.6" r="2.6"/><circle cx="1332.5" cy="358.4" r="2.6"/><circle cx="1328.2" cy="343.0" r="2.6"/><circle cx="1331.9" cy="342.4" r="2.6"/><circle cx="1340.4" cy="366.3" r="2.6"/><circle cx="1340.4" cy="389.3" r="2.6"/><circle cx="1340.4" cy="339.2" r="2.6"/><circle cx="1343.6" cy="337.1" r="2.6"/><circle cx="1346.8" cy="336.0" r="2.6"/><circle cx="1318.0" cy="333.9" r="2.6"/><circle cx="1322.3" cy="333.9" r="2.6"/><circle cx="1300.9" cy="321.1" r="2.6"/><circle cx="1296.7" cy="324.3" r="2.6"/><circle cx="1290.3" cy="321.1" r="2.6"/><circle cx="1283.9" cy="317.9" r="2.6"/><circle cx="1292.4" cy="310.4" r="2.6"/><circle cx="1306.3" cy="314.7" r="2.6"/><circle cx="1355.3" cy="352.0" r="2.6"/><circle cx="1359.6" cy="338.1" r="2.6"/><circle cx="1355.3" cy="331.7" r="2.6"/><circle cx="1358.5" cy="323.2" r="2.6"/><circle cx="1357.4" cy="312.5" r="2.6"/><circle cx="1369.2" cy="312.5" r="2.6"/><circle cx="1373.4" cy="314.7" r="2.6"/><circle cx="1378.8" cy="308.3" r="2.6"/><circle cx="1380.9" cy="316.8" r="2.6"/><circle cx="1386.2" cy="323.2" r="2.6"/><circle cx="1386.2" cy="331.7" r="2.6"/><circle cx="1399.0" cy="314.7" r="2.6"/><circle cx="1404.4" cy="316.8" r="2.6"/><circle cx="1412.9" cy="314.7" r="2.6"/><circle cx="1428.9" cy="325.3" r="2.6"/><circle cx="1428.9" cy="331.7" r="2.6"/><circle cx="1428.9" cy="337.1" r="2.6"/><circle cx="1435.3" cy="312.5" r="2.6"/><circle cx="1416.1" cy="301.9" r="2.6"/><circle cx="1409.7" cy="308.3" r="2.6"/><circle cx="1399.0" cy="304.0" r="2.6"/><circle cx="1392.6" cy="299.7" r="2.6"/><circle cx="1318.0" cy="248.5" r="2.6"/><circle cx="1326.5" cy="246.4" r="2.6"/><circle cx="1339.3" cy="248.5" r="2.6"/><circle cx="1347.8" cy="252.8" r="2.6"/><circle cx="1360.6" cy="246.4" r="2.6"/><circle cx="1360.6" cy="254.9" r="2.6"/><circle cx="1369.2" cy="259.2" r="2.6"/><circle cx="1373.4" cy="246.4" r="2.6"/><circle cx="1383.0" cy="253.9" r="2.6"/><circle cx="1386.2" cy="246.4" r="2.6"/><circle cx="1389.4" cy="260.3" r="2.6"/><circle cx="1394.8" cy="250.7" r="2.6"/><circle cx="1394.8" cy="248.5" r="2.6"/><circle cx="1196.4" cy="304.0" r="2.6"/><circle cx="1202.8" cy="310.4" r="2.6"/><circle cx="1211.3" cy="304.0" r="2.6"/><circle cx="1219.9" cy="304.0" r="2.6"/><circle cx="1232.7" cy="306.1" r="2.6"/><circle cx="1245.5" cy="304.0" r="2.6"/><circle cx="1258.3" cy="308.3" r="2.6"/><circle cx="1271.1" cy="306.1" r="2.6"/><circle cx="1283.9" cy="310.4" r="2.6"/><circle cx="1296.7" cy="310.4" r="2.6"/><circle cx="1309.5" cy="318.9" r="2.6"/><circle cx="1318.0" cy="321.1" r="2.6"/><circle cx="1326.5" cy="321.1" r="2.6"/><circle cx="1335.1" cy="321.1" r="2.6"/><circle cx="1343.6" cy="321.1" r="2.6"/><circle cx="1359.6" cy="204.6" r="2.6"/><circle cx="1350.4" cy="199.2" r="2.6"/><circle cx="1359.6" cy="218.4" r="2.6"/><circle cx="1359.6" cy="224.1" r="2.6"/><circle cx="1359.6" cy="233.0" r="2.6"/><circle cx="1360.6" cy="245.3" r="2.6"/><circle cx="1369.1" cy="248.4" r="2.6"/><circle cx="1373.7" cy="245.3" r="2.6"/><circle cx="1386.5" cy="245.3" r="2.6"/><circle cx="1394.4" cy="248.4" r="2.6"/><circle cx="1394.4" cy="253.0" r="2.6"/><circle cx="1382.9" cy="254.2" r="2.6"/><circle cx="1389.5" cy="260.3" r="2.6"/><circle cx="1369.1" cy="259.4" r="2.6"/><circle cx="1340.7" cy="200.4" r="2.6"/><circle cx="1340.7" cy="210.0" r="2.6"/><circle cx="1334.5" cy="191.8" r="2.6"/><circle cx="1356.0" cy="352.0" r="2.6"/><circle cx="1359.6" cy="338.2" r="2.6"/><circle cx="1355.3" cy="330.5" r="2.6"/><circle cx="1355.3" cy="333.6" r="2.6"/><circle cx="1386.5" cy="331.3" r="2.6"/><circle cx="1386.5" cy="323.6" r="2.6"/><circle cx="1379.1" cy="308.3" r="2.6"/><circle cx="1368.3" cy="312.1" r="2.6"/><circle cx="1373.7" cy="314.4" r="2.6"/><circle cx="1383.7" cy="314.4" r="2.6"/><circle cx="1386.8" cy="316.7" r="2.6"/><circle cx="1398.3" cy="312.9" r="2.6"/><circle cx="1398.3" cy="316.7" r="2.6"/><circle cx="1404.4" cy="317.5" r="2.6"/><circle cx="1412.9" cy="313.6" r="2.6"/><circle cx="1412.9" cy="309.8" r="2.6"/><circle cx="1429.0" cy="325.2" r="2.6"/><circle cx="1429.0" cy="331.3" r="2.6"/><circle cx="1429.0" cy="336.7" r="2.6"/><circle cx="1434.4" cy="312.1" r="2.6"/><circle cx="1452.0" cy="338.2" r="2.6"/><circle cx="1461.2" cy="348.2" r="2.6"/><circle cx="1461.2" cy="352.8" r="2.6"/><circle cx="1460.5" cy="331.3" r="2.6"/><circle cx="1460.5" cy="325.2" r="2.6"/><circle cx="1326.9" cy="205.4" r="2.6"/><circle cx="1331.5" cy="214.6" r="2.6"/><circle cx="1328.4" cy="220.7" r="2.6"/><circle cx="1339.1" cy="222.3" r="2.6"/><circle cx="1345.3" cy="239.1" r="2.6"/><circle cx="1349.9" cy="231.5" r="2.6"/><circle cx="1340.7" cy="229.9" r="2.6"/><circle cx="1336.1" cy="236.1" r="2.6"/><circle cx="1343.8" cy="248.4" r="2.6"/><circle cx="1349.9" cy="251.4" r="2.6"/><circle cx="1326.9" cy="248.4" r="2.6"/><circle cx="1333.0" cy="257.6" r="2.6"/><circle cx="1351.4" cy="257.6" r="2.6"/><circle cx="1435.9" cy="259.1" r="2.6"/><circle cx="1420.5" cy="260.6" r="2.6"/><circle cx="1308.4" cy="312.9" r="2.6"/><circle cx="1314.6" cy="315.9" r="2.6"/><circle cx="1320.7" cy="312.9" r="2.6"/><circle cx="1326.9" cy="315.9" r="2.6"/><circle cx="1333.0" cy="314.4" r="2.6"/><circle cx="1339.1" cy="312.9" r="2.6"/><circle cx="1345.3" cy="315.9" r="2.6"/><circle cx="1349.9" cy="319.0" r="2.6"/><circle cx="1357.6" cy="315.9" r="2.6"/><circle cx="1357.6" cy="320.5" r="2.6"/><circle cx="1311.5" cy="320.5" r="2.6"/><circle cx="1317.6" cy="325.2" r="2.6"/><circle cx="1329.9" cy="323.6" r="2.6"/><circle cx="1299.2" cy="322.1" r="2.6"/><circle cx="1293.1" cy="319.0" r="2.6"/><circle cx="1305.4" cy="326.7" r="2.6"/><circle cx="1293.1" cy="335.9" r="2.6"/><circle cx="1299.2" cy="343.6" r="2.6"/><circle cx="1305.4" cy="334.4" r="2.6"/><circle cx="1308.4" cy="349.7" r="2.6"/><circle cx="1317.6" cy="355.9" r="2.6"/><circle cx="1317.6" cy="348.2" r="2.6"/><circle cx="1320.7" cy="337.4" r="2.6"/><circle cx="1326.9" cy="342.0" r="2.6"/><circle cx="1331.5" cy="358.9" r="2.6"/><circle cx="1340.7" cy="365.1" r="2.6"/><circle cx="1340.7" cy="339.0" r="2.6"/><circle cx="1345.3" cy="335.9" r="2.6"/><circle cx="1313.0" cy="340.5" r="2.6"/>
<circle cx="830.0" cy="197.7" r="2.6"/><circle cx="832.2" cy="196.6" r="2.6"/><circle cx="835.5" cy="204.4" r="2.6"/><circle cx="841.1" cy="208.8" r="2.6"/><circle cx="846.6" cy="204.4" r="2.6"/><circle cx="852.2" cy="205.5" r="2.6"/><circle cx="858.8" cy="202.2" r="2.6"/><circle cx="859.9" cy="185.5" r="2.6"/><circle cx="863.3" cy="185.5" r="2.6"/><circle cx="866.6" cy="192.2" r="2.6"/><circle cx="872.2" cy="183.3" r="2.6"/><circle cx="878.8" cy="184.4" r="2.6"/><circle cx="882.1" cy="188.8" r="2.6"/><circle cx="884.4" cy="195.5" r="2.6"/><circle cx="843.3" cy="202.2" r="2.6"/><circle cx="847.7" cy="205.5" r="2.6"/><circle cx="855.5" cy="204.4" r="2.6"/><circle cx="861.1" cy="195.5" r="2.6"/><circle cx="863.3" cy="192.2" r="2.6"/><circle cx="868.8" cy="188.8" r="2.6"/><circle cx="876.6" cy="186.6" r="2.6"/><circle cx="881.0" cy="193.3" r="2.6"/><circle cx="888.2" cy="199.4" r="2.6"/><circle cx="894.3" cy="202.2" r="2.6"/><circle cx="894.3" cy="204.4" r="2.6"/><circle cx="888.8" cy="215.5" r="2.6"/><circle cx="895.4" cy="221.0" r="2.6"/><circle cx="895.4" cy="226.6" r="2.6"/><circle cx="896.6" cy="232.1" r="2.6"/><circle cx="903.2" cy="229.9" r="2.6"/><circle cx="903.2" cy="237.6" r="2.6"/><circle cx="903.2" cy="244.3" r="2.6"/><circle cx="903.2" cy="251.0" r="2.6"/><circle cx="911.5" cy="241.5" r="2.6"/><circle cx="915.4" cy="246.5" r="2.6"/><circle cx="918.7" cy="254.3" r="2.6"/><circle cx="922.1" cy="242.1" r="2.6"/><circle cx="925.4" cy="245.4" r="2.6"/><circle cx="928.2" cy="259.8" r="2.6"/><circle cx="933.2" cy="239.9" r="2.6"/><circle cx="937.0" cy="230.4" r="2.6"/><circle cx="940.4" cy="238.8" r="2.6"/><circle cx="946.5" cy="236.5" r="2.6"/><circle cx="952.0" cy="199.9" r="2.6"/><circle cx="946.5" cy="174.4" r="2.6"/><circle cx="944.2" cy="181.1" r="2.6"/><circle cx="945.4" cy="185.5" r="2.6"/><circle cx="944.2" cy="189.4" r="2.6"/><circle cx="946.5" cy="196.6" r="2.6"/><circle cx="945.4" cy="202.2" r="2.6"/><circle cx="944.2" cy="206.6" r="2.6"/><circle cx="944.2" cy="212.1" r="2.6"/><circle cx="945.4" cy="216.6" r="2.6"/><circle cx="947.6" cy="221.0" r="2.6"/><circle cx="949.8" cy="224.3" r="2.6"/><circle cx="952.0" cy="226.6" r="2.6"/><circle cx="954.2" cy="225.4" r="2.6"/><circle cx="956.5" cy="223.2" r="2.6"/><circle cx="913.2" cy="248.7" r="2.6"/><circle cx="909.9" cy="247.6" r="2.6"/><circle cx="916.5" cy="251.0" r="2.6"/><circle cx="921.0" cy="248.7" r="2.6"/><circle cx="924.3" cy="248.7" r="2.6"/><circle cx="929.8" cy="246.5" r="2.6"/><circle cx="935.4" cy="248.7" r="2.6"/><circle cx="938.7" cy="246.5" r="2.6"/><circle cx="940.9" cy="244.3" r="2.6"/><circle cx="943.1" cy="242.1" r="2.6"/><circle cx="892.1" cy="237.6" r="2.6"/><circle cx="892.1" cy="243.2" r="2.6"/><circle cx="896.6" cy="244.3" r="2.6"/><circle cx="898.8" cy="248.7" r="2.6"/><circle cx="947.6" cy="232.1" r="2.6"/><circle cx="952.0" cy="237.6" r="2.6"/><circle cx="949.8" cy="248.7" r="2.6"/><circle cx="954.2" cy="254.3" r="2.6"/><circle cx="952.0" cy="259.8" r="2.6"/><circle cx="956.5" cy="243.2" r="2.6"/><circle cx="956.5" cy="232.1" r="2.6"/><circle cx="889.9" cy="228.8" r="2.6"/><circle cx="891.0" cy="235.4" r="2.6"/><circle cx="893.2" cy="248.7" r="2.6"/><circle cx="894.3" cy="255.4" r="2.6"/><circle cx="889.9" cy="257.6" r="2.6"/><circle cx="896.6" cy="259.8" r="2.6"/><circle cx="903.2" cy="257.6" r="2.6"/><circle cx="907.6" cy="257.6" r="2.6"/><circle cx="914.3" cy="257.6" r="2.6"/><circle cx="912.1" cy="253.2" r="2.6"/><circle cx="921.0" cy="257.6" r="2.6"/><circle cx="927.6" cy="255.4" r="2.6"/><circle cx="934.3" cy="257.6" r="2.6"/><circle cx="936.5" cy="253.2" r="2.6"/><circle cx="940.9" cy="254.3" r="2.6"/><circle cx="943.1" cy="257.6" r="2.6"/><circle cx="947.6" cy="257.6" r="2.6"/><circle cx="940.9" cy="237.6" r="2.6"/><circle cx="936.5" cy="242.1" r="2.6"/><circle cx="932.0" cy="246.5" r="2.6"/><circle cx="927.6" cy="248.7" r="2.6"/><circle cx="963.4" cy="151.4" r="2.6"/><circle cx="961.4" cy="158.9" r="2.6"/><circle cx="965.5" cy="165.1" r="2.6"/><circle cx="972.3" cy="161.0" r="2.6"/><circle cx="974.4" cy="167.8" r="2.6"/><circle cx="974.4" cy="173.2" r="2.6"/><circle cx="966.2" cy="180.8" r="2.6"/><circle cx="972.3" cy="180.1" r="2.6"/><circle cx="960.0" cy="170.5" r="2.6"/><circle cx="962.8" cy="174.6" r="2.6"/><circle cx="980.5" cy="145.9" r="2.6"/><circle cx="984.6" cy="141.8" r="2.6"/><circle cx="981.9" cy="128.2" r="2.6"/><circle cx="984.6" cy="125.5" r="2.6"/><circle cx="992.8" cy="124.1" r="2.6"/><circle cx="994.2" cy="129.6" r="2.6"/><circle cx="999.6" cy="130.9" r="2.6"/><circle cx="1006.5" cy="128.2" r="2.6"/><circle cx="1009.2" cy="124.1" r="2.6"/><circle cx="1003.7" cy="133.7" r="2.6"/><circle cx="1014.6" cy="125.5" r="2.6"/><circle cx="1018.7" cy="122.7" r="2.6"/><circle cx="1025.6" cy="125.5" r="2.6"/><circle cx="1033.8" cy="124.1" r="2.6"/><circle cx="1039.2" cy="122.7" r="2.6"/><circle cx="1046.0" cy="125.5" r="2.6"/><circle cx="987.3" cy="121.4" r="2.6"/><circle cx="994.2" cy="136.4" r="2.6"/><circle cx="1011.9" cy="137.7" r="2.6"/><circle cx="1020.1" cy="137.7" r="2.6"/><circle cx="1028.3" cy="139.1" r="2.6"/><circle cx="1036.5" cy="136.4" r="2.6"/><circle cx="1044.7" cy="135.0" r="2.6"/><circle cx="946.4" cy="173.9" r="2.6"/><circle cx="944.3" cy="181.4" r="2.6"/><circle cx="944.3" cy="189.6" r="2.6"/><circle cx="946.4" cy="196.5" r="2.6"/><circle cx="952.5" cy="200.5" r="2.6"/><circle cx="945.0" cy="204.6" r="2.6"/><circle cx="945.7" cy="208.7" r="2.6"/><circle cx="943.7" cy="215.6" r="2.6"/><circle cx="946.4" cy="221.0" r="2.6"/><circle cx="950.5" cy="225.1" r="2.6"/><circle cx="954.6" cy="225.1" r="2.6"/><circle cx="954.6" cy="229.2" r="2.6"/><circle cx="937.5" cy="229.9" r="2.6"/><circle cx="933.4" cy="240.1" r="2.6"/><circle cx="940.2" cy="239.5" r="2.6"/><circle cx="946.4" cy="236.0" r="2.6"/><circle cx="950.5" cy="240.1" r="2.6"/><circle cx="935.5" cy="248.3" r="2.6"/><circle cx="942.3" cy="247.0" r="2.6"/><circle cx="949.1" cy="245.6" r="2.6"/><circle cx="954.6" cy="242.9" r="2.6"/><circle cx="1321.2" cy="126.8" r="2.6"/><circle cx="1321.2" cy="138.4" r="2.6"/><circle cx="1321.2" cy="142.5" r="2.6"/><circle cx="1315.1" cy="165.1" r="2.6"/><circle cx="1320.5" cy="165.1" r="2.6"/><circle cx="1318.5" cy="173.2" r="2.6"/><circle cx="1334.2" cy="192.4" r="2.6"/><circle cx="1340.3" cy="200.5" r="2.6"/><circle cx="1350.5" cy="199.2" r="2.6"/><circle cx="1359.4" cy="204.0" r="2.6"/><circle cx="1340.3" cy="210.1" r="2.6"/><circle cx="1359.4" cy="218.3" r="2.6"/><circle cx="1359.4" cy="224.4" r="2.6"/><circle cx="1359.4" cy="232.6" r="2.6"/><circle cx="1339.6" cy="222.4" r="2.6"/><circle cx="1350.5" cy="229.2" r="2.6"/><circle cx="1345.1" cy="238.8" r="2.6"/><circle cx="1360.1" cy="245.6" r="2.6"/><circle cx="1373.1" cy="244.9" r="2.6"/><circle cx="1369.0" cy="249.0" r="2.6"/><circle cx="1386.0" cy="244.9" r="2.6"/><circle cx="1383.3" cy="254.5" r="2.6"/><circle cx="1369.0" cy="259.2" r="2.6"/><circle cx="1388.8" cy="259.9" r="2.6"/><circle cx="1332.8" cy="204.6" r="2.6"/><circle cx="1328.7" cy="207.4" r="2.6"/><circle cx="1332.1" cy="214.2" r="2.6"/><circle cx="1330.1" cy="218.3" r="2.6"/><circle cx="1334.2" cy="223.8" r="2.6"/><circle cx="1338.3" cy="229.2" r="2.6"/><circle cx="1341.0" cy="236.0" r="2.6"/><circle cx="1335.5" cy="240.1" r="2.6"/><circle cx="1346.5" cy="245.6" r="2.6"/><circle cx="1351.9" cy="249.7" r="2.6"/><circle cx="1330.1" cy="229.2" r="2.6"/><circle cx="1327.3" cy="237.4" r="2.6"/><circle cx="1354.6" cy="256.5" r="2.6"/><circle cx="1362.8" cy="255.2" r="2.6"/><circle cx="1373.8" cy="256.5" r="2.6"/>
<circle cx="913.2" cy="240.0" r="2.6"/><circle cx="903.2" cy="247.2" r="2.6"/><circle cx="894.5" cy="244.0" r="2.6"/><circle cx="936.0" cy="246.9" r="2.6"/><circle cx="901.6" cy="262.2" r="2.6"/><circle cx="904.3" cy="262.0" r="2.6"/><circle cx="920.2" cy="250.7" r="2.6"/><circle cx="888.2" cy="230.2" r="2.6"/><circle cx="885.7" cy="231.1" r="2.6"/><circle cx="933.5" cy="263.1" r="2.6"/><circle cx="897.3" cy="243.4" r="2.6"/><circle cx="924.1" cy="244.9" r="2.6"/><circle cx="896.5" cy="230.5" r="2.6"/><circle cx="928.5" cy="259.9" r="2.6"/><circle cx="910.6" cy="256.5" r="2.6"/><circle cx="925.5" cy="253.1" r="2.6"/><circle cx="895.1" cy="242.7" r="2.6"/><circle cx="896.7" cy="254.9" r="2.6"/><circle cx="936.1" cy="260.9" r="2.6"/><circle cx="911.5" cy="259.5" r="2.6"/><circle cx="918.0" cy="251.8" r="2.6"/><circle cx="926.3" cy="238.7" r="2.6"/><circle cx="888.8" cy="214.1" r="2.6"/><circle cx="892.6" cy="237.9" r="2.6"/><circle cx="904.3" cy="259.5" r="2.6"/><circle cx="921.5" cy="242.7" r="2.6"/><circle cx="887.9" cy="229.0" r="2.6"/><circle cx="910.3" cy="253.9" r="2.6"/><circle cx="929.4" cy="256.6" r="2.6"/><circle cx="915.5" cy="259.9" r="2.6"/><circle cx="892.9" cy="254.4" r="2.6"/><circle cx="922.1" cy="243.2" r="2.6"/><circle cx="940.8" cy="244.0" r="2.6"/><circle cx="902.6" cy="247.3" r="2.6"/><circle cx="891.4" cy="237.5" r="2.6"/><circle cx="929.5" cy="236.6" r="2.6"/><circle cx="900.3" cy="251.0" r="2.6"/><circle cx="890.7" cy="246.0" r="2.6"/><circle cx="905.6" cy="243.0" r="2.6"/><circle cx="896.6" cy="253.8" r="2.6"/>
<circle cx="1323.8" cy="263.7" r="2.6"/><circle cx="1336.1" cy="262.2" r="2.6"/><circle cx="1351.4" cy="263.7" r="2.6"/><circle cx="1359.1" cy="262.2" r="2.6"/><circle cx="1366.8" cy="263.7" r="2.6"/><circle cx="1376.0" cy="263.0" r="2.6"/><circle cx="1385.2" cy="263.7" r="2.6"/><circle cx="1397.5" cy="265.3" r="2.6"/><circle cx="1406.7" cy="263.7" r="2.6"/><circle cx="1412.9" cy="262.2" r="2.6"/><circle cx="1420.5" cy="259.9" r="2.6"/><circle cx="1428.2" cy="262.2" r="2.6"/><circle cx="1435.9" cy="257.6" r="2.6"/><circle cx="1443.6" cy="263.7" r="2.6"/><circle cx="1451.3" cy="263.7" r="2.6"/><circle cx="1462.8" cy="263.7" r="2.6"/><circle cx="1462.8" cy="319.0" r="2.6"/><circle cx="1458.9" cy="317.5" r="2.6"/><circle cx="1455.9" cy="322.1" r="2.6"/><circle cx="1452.8" cy="323.6" r="2.6"/><circle cx="1449.7" cy="312.9" r="2.6"/><circle cx="1446.7" cy="305.2" r="2.6"/><circle cx="1440.5" cy="297.5" r="2.6"/><circle cx="1434.4" cy="291.4" r="2.6"/><circle cx="1428.2" cy="296.0" r="2.6"/><circle cx="1422.1" cy="296.0" r="2.6"/><circle cx="1412.9" cy="297.5" r="2.6"/><circle cx="1406.7" cy="297.5" r="2.6"/><circle cx="1400.6" cy="302.1" r="2.6"/><circle cx="1394.4" cy="297.5" r="2.6"/><circle cx="1385.2" cy="296.0" r="2.6"/><circle cx="1376.0" cy="297.5" r="2.6"/><circle cx="1366.8" cy="300.6" r="2.6"/><circle cx="1359.1" cy="300.6" r="2.6"/><circle cx="1351.4" cy="297.5" r="2.6"/><circle cx="1336.1" cy="297.5" r="2.6"/><circle cx="1323.8" cy="297.5" r="2.6"/><circle cx="1350.0" cy="321.1" r="2.6"/><circle cx="1343.6" cy="316.8" r="2.6"/><circle cx="1335.1" cy="314.7" r="2.6"/><circle cx="1326.5" cy="314.7" r="2.6"/><circle cx="1318.0" cy="314.7" r="2.6"/><circle cx="1309.5" cy="310.4" r="2.6"/><circle cx="1300.9" cy="301.9" r="2.6"/><circle cx="1292.4" cy="304.0" r="2.6"/><circle cx="1283.9" cy="304.0" r="2.6"/><circle cx="1275.3" cy="299.7" r="2.6"/><circle cx="1264.7" cy="295.5" r="2.6"/><circle cx="1254.0" cy="295.5" r="2.6"/><circle cx="1243.3" cy="297.6" r="2.6"/><circle cx="1232.7" cy="297.6" r="2.6"/><circle cx="1224.1" cy="295.5" r="2.6"/><circle cx="1215.6" cy="293.3" r="2.6"/><circle cx="1207.1" cy="293.3" r="2.6"/><circle cx="1198.5" cy="297.6" r="2.6"/><circle cx="1190.0" cy="289.1" r="2.6"/><circle cx="1200.0" cy="299.7" r="2.6"/><circle cx="1184.6" cy="304.0" r="2.6"/><circle cx="1174.0" cy="299.7" r="2.6"/><circle cx="1163.3" cy="291.2" r="2.6"/><circle cx="1152.6" cy="295.5" r="2.6"/><circle cx="1142.0" cy="297.6" r="2.6"/><circle cx="1131.3" cy="301.9" r="2.6"/><circle cx="1120.6" cy="304.0" r="2.6"/><circle cx="1110.0" cy="299.7" r="2.6"/><circle cx="1099.3" cy="295.5" r="2.6"/><circle cx="1088.7" cy="297.6" r="2.6"/><circle cx="1078.0" cy="297.6" r="2.6"/><circle cx="1067.3" cy="301.9" r="2.6"/><circle cx="1056.7" cy="301.9" r="2.6"/><circle cx="1046.0" cy="299.7" r="2.6"/><circle cx="1035.3" cy="301.9" r="2.6"/><circle cx="1024.7" cy="297.6" r="2.6"/><circle cx="1014.0" cy="304.0" r="2.6"/><circle cx="1003.3" cy="304.0" r="2.6"/><circle cx="992.7" cy="306.1" r="2.6"/><circle cx="982.0" cy="310.4" r="2.6"/><circle cx="971.3" cy="318.9" r="2.6"/><circle cx="960.7" cy="321.1" r="2.6"/><circle cx="950.0" cy="325.3" r="2.6"/><circle cx="978.5" cy="319.5" r="2.6"/><circle cx="969.9" cy="319.5" r="2.6"/><circle cx="959.7" cy="316.0" r="2.6"/><circle cx="958.0" cy="277.6" r="2.6"/>
<circle cx="978.6" cy="147.0" r="2.6"/><circle cx="979.5" cy="141.6" r="2.6"/><circle cx="980.5" cy="142.0" r="2.6"/><circle cx="981.1" cy="136.9" r="2.6"/><circle cx="982.8" cy="142.4" r="2.6"/><circle cx="984.0" cy="146.1" r="2.6"/><circle cx="984.6" cy="134.2" r="2.6"/><circle cx="985.5" cy="132.6" r="2.6"/><circle cx="986.2" cy="132.0" r="2.6"/><circle cx="987.4" cy="143.4" r="2.6"/><circle cx="988.6" cy="138.3" r="2.6"/><circle cx="989.5" cy="134.9" r="2.6"/><circle cx="992.7" cy="134.9" r="2.6"/><circle cx="993.3" cy="131.3" r="2.6"/><circle cx="994.4" cy="142.0" r="2.6"/><circle cx="996.0" cy="141.8" r="2.6"/><circle cx="996.2" cy="142.5" r="2.6"/><circle cx="998.0" cy="135.1" r="2.6"/><circle cx="998.6" cy="140.3" r="2.6"/><circle cx="999.1" cy="133.8" r="2.6"/><circle cx="1001.1" cy="132.3" r="2.6"/><circle cx="1002.1" cy="139.8" r="2.6"/><circle cx="1003.6" cy="134.8" r="2.6"/><circle cx="1004.7" cy="130.3" r="2.6"/><circle cx="1005.1" cy="134.2" r="2.6"/><circle cx="1006.3" cy="141.8" r="2.6"/><circle cx="1007.3" cy="140.4" r="2.6"/><circle cx="1008.4" cy="139.9" r="2.6"/><circle cx="1009.1" cy="141.6" r="2.6"/><circle cx="1010.3" cy="138.5" r="2.6"/><circle cx="1011.3" cy="128.6" r="2.6"/><circle cx="1012.6" cy="130.8" r="2.6"/><circle cx="1013.4" cy="133.7" r="2.6"/><circle cx="1015.6" cy="139.4" r="2.6"/><circle cx="1016.2" cy="139.9" r="2.6"/><circle cx="1017.2" cy="129.5" r="2.6"/><circle cx="1018.9" cy="129.5" r="2.6"/><circle cx="1020.6" cy="132.5" r="2.6"/><circle cx="1021.0" cy="140.4" r="2.6"/><circle cx="1022.7" cy="129.9" r="2.6"/><circle cx="1023.6" cy="130.3" r="2.6"/><circle cx="1024.7" cy="126.8" r="2.6"/><circle cx="1025.6" cy="138.5" r="2.6"/><circle cx="1026.3" cy="139.5" r="2.6"/><circle cx="1027.0" cy="129.5" r="2.6"/><circle cx="1028.1" cy="128.0" r="2.6"/><circle cx="1029.6" cy="127.2" r="2.6"/><circle cx="1030.9" cy="140.4" r="2.6"/><circle cx="1031.7" cy="134.0" r="2.6"/><circle cx="1032.0" cy="124.6" r="2.6"/><circle cx="1033.7" cy="140.0" r="2.6"/><circle cx="1034.6" cy="131.8" r="2.6"/><circle cx="1034.7" cy="129.0" r="2.6"/><circle cx="1035.1" cy="132.7" r="2.6"/><circle cx="1036.9" cy="135.9" r="2.6"/><circle cx="1037.8" cy="139.0" r="2.6"/><circle cx="1038.7" cy="138.7" r="2.6"/><circle cx="1039.4" cy="136.6" r="2.6"/><circle cx="1040.6" cy="133.3" r="2.6"/><circle cx="1041.6" cy="132.9" r="2.6"/><circle cx="1042.6" cy="140.2" r="2.6"/><circle cx="1042.9" cy="135.1" r="2.6"/><circle cx="1043.7" cy="132.0" r="2.6"/><circle cx="1044.8" cy="121.8" r="2.6"/><circle cx="1045.0" cy="132.1" r="2.6"/><circle cx="1046.2" cy="133.9" r="2.6"/><circle cx="1047.6" cy="138.5" r="2.6"/><circle cx="1048.0" cy="125.2" r="2.6"/><circle cx="1048.7" cy="123.0" r="2.6"/><circle cx="1049.9" cy="132.7" r="2.6"/><circle cx="1049.4" cy="137.7" r="2.6"/><circle cx="1050.7" cy="122.4" r="2.6"/><circle cx="1050.4" cy="135.8" r="2.6"/><circle cx="1051.9" cy="126.5" r="2.6"/><circle cx="1052.3" cy="121.0" r="2.6"/><circle cx="1053.8" cy="136.7" r="2.6"/><circle cx="1055.0" cy="124.1" r="2.6"/><circle cx="1055.5" cy="124.1" r="2.6"/><circle cx="1055.2" cy="127.1" r="2.6"/><circle cx="1056.5" cy="125.0" r="2.6"/><circle cx="1058.0" cy="128.0" r="2.6"/><circle cx="1058.0" cy="137.3" r="2.6"/><circle cx="1058.0" cy="133.6" r="2.6"/><circle cx="1059.3" cy="135.5" r="2.6"/><circle cx="1060.1" cy="128.0" r="2.6"/><circle cx="1060.0" cy="136.3" r="2.6"/><circle cx="1061.1" cy="119.0" r="2.6"/><circle cx="1061.6" cy="127.9" r="2.6"/><circle cx="1062.7" cy="135.8" r="2.6"/><circle cx="1063.7" cy="122.4" r="2.6"/><circle cx="1064.2" cy="118.2" r="2.6"/><circle cx="1065.7" cy="122.0" r="2.6"/><circle cx="1066.3" cy="133.4" r="2.6"/><circle cx="1066.5" cy="131.6" r="2.6"/><circle cx="1067.4" cy="135.5" r="2.6"/><circle cx="1068.1" cy="138.6" r="2.6"/><circle cx="1069.1" cy="128.0" r="2.6"/><circle cx="1070.9" cy="126.3" r="2.6"/><circle cx="1071.9" cy="135.6" r="2.6"/><circle cx="1072.5" cy="132.4" r="2.6"/><circle cx="1073.7" cy="136.1" r="2.6"/><circle cx="1073.6" cy="133.8" r="2.6"/><circle cx="1074.9" cy="139.6" r="2.6"/><circle cx="1075.0" cy="129.8" r="2.6"/><circle cx="1075.3" cy="138.1" r="2.6"/><circle cx="1076.3" cy="119.8" r="2.6"/><circle cx="1077.6" cy="135.0" r="2.6"/><circle cx="1078.0" cy="135.9" r="2.6"/><circle cx="1079.8" cy="121.8" r="2.6"/><circle cx="1079.3" cy="135.4" r="2.6"/><circle cx="1080.1" cy="129.4" r="2.6"/><circle cx="1080.7" cy="136.5" r="2.6"/><circle cx="1081.9" cy="128.9" r="2.6"/><circle cx="1082.1" cy="122.9" r="2.6"/><circle cx="1083.3" cy="134.1" r="2.6"/><circle cx="1084.5" cy="136.6" r="2.6"/><circle cx="1085.3" cy="126.4" r="2.6"/><circle cx="1086.9" cy="122.6" r="2.6"/><circle cx="1088.0" cy="129.6" r="2.6"/><circle cx="1088.2" cy="129.8" r="2.6"/><circle cx="1089.6" cy="118.6" r="2.6"/><circle cx="1090.5" cy="126.8" r="2.6"/><circle cx="1091.6" cy="128.8" r="2.6"/><circle cx="1092.1" cy="129.9" r="2.6"/><circle cx="1094.0" cy="138.4" r="2.6"/><circle cx="1093.3" cy="128.4" r="2.6"/><circle cx="1094.4" cy="136.0" r="2.6"/><circle cx="1094.9" cy="128.5" r="2.6"/><circle cx="1095.2" cy="131.6" r="2.6"/><circle cx="1095.9" cy="120.9" r="2.6"/><circle cx="1096.0" cy="122.3" r="2.6"/><circle cx="1097.7" cy="125.1" r="2.6"/><circle cx="1097.4" cy="131.7" r="2.6"/><circle cx="1098.7" cy="120.7" r="2.6"/><circle cx="1098.5" cy="123.5" r="2.6"/><circle cx="1099.5" cy="127.6" r="2.6"/><circle cx="1099.4" cy="127.1" r="2.6"/><circle cx="1100.2" cy="122.5" r="2.6"/><circle cx="1101.6" cy="129.7" r="2.6"/><circle cx="1102.6" cy="136.9" r="2.6"/><circle cx="1103.7" cy="135.9" r="2.6"/><circle cx="1103.9" cy="125.0" r="2.6"/><circle cx="1104.9" cy="122.8" r="2.6"/><circle cx="1105.0" cy="137.6" r="2.6"/><circle cx="1105.2" cy="134.0" r="2.6"/><circle cx="1105.3" cy="120.1" r="2.6"/><circle cx="1106.4" cy="135.4" r="2.6"/><circle cx="1107.4" cy="133.1" r="2.6"/><circle cx="1107.0" cy="122.4" r="2.6"/><circle cx="1108.9" cy="139.4" r="2.6"/><circle cx="1109.5" cy="134.7" r="2.6"/><circle cx="1109.5" cy="133.1" r="2.6"/><circle cx="1110.1" cy="120.3" r="2.6"/><circle cx="1110.0" cy="130.2" r="2.6"/><circle cx="1111.6" cy="121.2" r="2.6"/><circle cx="1112.2" cy="136.5" r="2.6"/><circle cx="1113.0" cy="138.5" r="2.6"/><circle cx="1113.1" cy="139.0" r="2.6"/><circle cx="1113.5" cy="134.9" r="2.6"/><circle cx="1114.5" cy="129.4" r="2.6"/><circle cx="1114.4" cy="131.3" r="2.6"/><circle cx="1115.7" cy="136.6" r="2.6"/><circle cx="1115.2" cy="128.0" r="2.6"/><circle cx="1116.4" cy="122.3" r="2.6"/><circle cx="1117.5" cy="118.3" r="2.6"/><circle cx="1117.9" cy="135.7" r="2.6"/><circle cx="1118.9" cy="131.9" r="2.6"/><circle cx="1119.6" cy="129.1" r="2.6"/><circle cx="1120.0" cy="135.8" r="2.6"/><circle cx="1120.9" cy="134.4" r="2.6"/><circle cx="1120.8" cy="136.0" r="2.6"/><circle cx="1121.9" cy="137.4" r="2.6"/><circle cx="1121.7" cy="134.9" r="2.6"/><circle cx="1122.4" cy="133.9" r="2.6"/><circle cx="1123.3" cy="128.3" r="2.6"/><circle cx="1123.0" cy="125.8" r="2.6"/><circle cx="1124.6" cy="123.1" r="2.6"/><circle cx="1125.7" cy="125.5" r="2.6"/><circle cx="1126.6" cy="129.8" r="2.6"/><circle cx="1128.0" cy="132.2" r="2.6"/><circle cx="1127.7" cy="134.8" r="2.6"/><circle cx="1128.0" cy="131.6" r="2.6"/><circle cx="1129.3" cy="126.9" r="2.6"/><circle cx="1130.2" cy="126.3" r="2.6"/><circle cx="1130.1" cy="123.5" r="2.6"/><circle cx="1131.6" cy="129.2" r="2.6"/><circle cx="1132.6" cy="140.0" r="2.6"/><circle cx="1133.8" cy="119.7" r="2.6"/><circle cx="1134.8" cy="119.0" r="2.6"/><circle cx="1135.2" cy="128.4" r="2.6"/><circle cx="1136.5" cy="131.5" r="2.6"/><circle cx="1136.1" cy="138.9" r="2.6"/><circle cx="1137.5" cy="131.2" r="2.6"/><circle cx="1137.4" cy="124.3" r="2.6"/><circle cx="1138.6" cy="124.3" r="2.6"/><circle cx="1139.3" cy="118.3" r="2.6"/><circle cx="1140.0" cy="121.5" r="2.6"/><circle cx="1140.8" cy="126.6" r="2.6"/><circle cx="1141.7" cy="119.1" r="2.6"/><circle cx="1142.9" cy="119.6" r="2.6"/><circle cx="1143.4" cy="128.5" r="2.6"/><circle cx="1144.2" cy="129.5" r="2.6"/><circle cx="1145.7" cy="128.3" r="2.6"/><circle cx="1146.8" cy="131.3" r="2.6"/><circle cx="1147.6" cy="128.1" r="2.6"/><circle cx="1147.2" cy="119.1" r="2.6"/><circle cx="1148.1" cy="127.8" r="2.6"/><circle cx="1149.5" cy="123.8" r="2.6"/><circle cx="1150.4" cy="135.2" r="2.6"/><circle cx="1152.0" cy="139.0" r="2.6"/><circle cx="1152.2" cy="120.5" r="2.6"/><circle cx="1153.8" cy="131.8" r="2.6"/><circle cx="1154.3" cy="133.1" r="2.6"/><circle cx="1154.6" cy="131.1" r="2.6"/><circle cx="1155.8" cy="122.2" r="2.6"/><circle cx="1157.0" cy="138.2" r="2.6"/><circle cx="1156.9" cy="118.9" r="2.6"/><circle cx="1157.3" cy="127.4" r="2.6"/><circle cx="1157.6" cy="120.3" r="2.6"/><circle cx="1158.1" cy="119.9" r="2.6"/><circle cx="1159.6" cy="131.9" r="2.6"/><circle cx="1160.5" cy="122.6" r="2.6"/><circle cx="1160.3" cy="134.4" r="2.6"/><circle cx="1161.1" cy="120.6" r="2.6"/><circle cx="1162.6" cy="135.0" r="2.6"/><circle cx="1163.4" cy="123.7" r="2.6"/><circle cx="1163.8" cy="126.1" r="2.6"/><circle cx="1165.0" cy="125.2" r="2.6"/><circle cx="1165.7" cy="138.3" r="2.6"/><circle cx="1166.4" cy="120.1" r="2.6"/><circle cx="1166.9" cy="119.7" r="2.6"/><circle cx="1167.6" cy="128.7" r="2.6"/><circle cx="1167.7" cy="124.6" r="2.6"/><circle cx="1168.1" cy="122.7" r="2.6"/><circle cx="1169.1" cy="124.7" r="2.6"/><circle cx="1170.7" cy="124.2" r="2.6"/><circle cx="1171.4" cy="134.0" r="2.6"/><circle cx="1171.4" cy="120.6" r="2.6"/><circle cx="1172.6" cy="138.3" r="2.6"/><circle cx="1173.9" cy="127.7" r="2.6"/><circle cx="1174.3" cy="125.0" r="2.6"/><circle cx="1175.9" cy="137.7" r="2.6"/><circle cx="1175.2" cy="126.0" r="2.6"/><circle cx="1176.4" cy="126.7" r="2.6"/><circle cx="1176.4" cy="122.3" r="2.6"/><circle cx="1177.8" cy="129.9" r="2.6"/><circle cx="1178.6" cy="121.9" r="2.6"/><circle cx="1179.9" cy="124.2" r="2.6"/><circle cx="1180.5" cy="130.0" r="2.6"/><circle cx="1180.6" cy="139.3" r="2.6"/><circle cx="1181.8" cy="119.4" r="2.6"/><circle cx="1182.8" cy="119.9" r="2.6"/><circle cx="1183.7" cy="137.8" r="2.6"/><circle cx="1183.1" cy="132.0" r="2.6"/><circle cx="1184.7" cy="132.3" r="2.6"/><circle cx="1184.2" cy="122.9" r="2.6"/><circle cx="1185.5" cy="134.9" r="2.6"/><circle cx="1186.3" cy="139.4" r="2.6"/><circle cx="1186.7" cy="128.9" r="2.6"/><circle cx="1187.7" cy="133.6" r="2.6"/><circle cx="1188.4" cy="136.2" r="2.6"/><circle cx="1189.9" cy="135.8" r="2.6"/><circle cx="1190.9" cy="139.1" r="2.6"/><circle cx="1191.5" cy="133.7" r="2.6"/><circle cx="1192.4" cy="127.3" r="2.6"/><circle cx="1193.7" cy="139.9" r="2.6"/><circle cx="1193.4" cy="121.7" r="2.6"/><circle cx="1194.4" cy="124.4" r="2.6"/><circle cx="1195.0" cy="119.3" r="2.6"/><circle cx="1195.1" cy="132.3" r="2.6"/><circle cx="1195.8" cy="122.0" r="2.6"/><circle cx="1196.5" cy="130.9" r="2.6"/><circle cx="1196.9" cy="118.8" r="2.6"/><circle cx="1197.2" cy="122.8" r="2.6"/><circle cx="1197.2" cy="133.8" r="2.6"/><circle cx="1198.2" cy="122.1" r="2.6"/><circle cx="1199.2" cy="134.7" r="2.6"/><circle cx="1199.3" cy="130.1" r="2.6"/><circle cx="1200.5" cy="123.7" r="2.6"/><circle cx="1201.9" cy="125.5" r="2.6"/><circle cx="1203.0" cy="128.6" r="2.6"/><circle cx="1203.0" cy="138.9" r="2.6"/><circle cx="1203.8" cy="126.5" r="2.6"/><circle cx="1204.5" cy="124.1" r="2.6"/><circle cx="1205.7" cy="123.2" r="2.6"/><circle cx="1206.5" cy="126.2" r="2.6"/><circle cx="1206.8" cy="133.7" r="2.6"/><circle cx="1207.2" cy="121.5" r="2.6"/><circle cx="1208.3" cy="137.2" r="2.6"/><circle cx="1208.5" cy="132.1" r="2.6"/><circle cx="1209.3" cy="129.8" r="2.6"/><circle cx="1210.8" cy="118.0" r="2.6"/><circle cx="1210.8" cy="136.7" r="2.6"/><circle cx="1211.1" cy="124.0" r="2.6"/><circle cx="1212.1" cy="128.6" r="2.6"/><circle cx="1214.0" cy="130.9" r="2.6"/><circle cx="1214.3" cy="135.4" r="2.6"/><circle cx="1215.9" cy="120.0" r="2.6"/><circle cx="1215.8" cy="122.6" r="2.6"/><circle cx="1216.5" cy="121.5" r="2.6"/><circle cx="1217.3" cy="124.9" r="2.6"/><circle cx="1218.3" cy="128.3" r="2.6"/><circle cx="1218.7" cy="125.9" r="2.6"/><circle cx="1219.1" cy="126.7" r="2.6"/><circle cx="1221.0" cy="136.3" r="2.6"/><circle cx="1221.0" cy="126.3" r="2.6"/><circle cx="1222.2" cy="130.4" r="2.6"/><circle cx="1223.0" cy="139.9" r="2.6"/><circle cx="1224.2" cy="131.6" r="2.6"/><circle cx="1225.4" cy="129.9" r="2.6"/><circle cx="1225.3" cy="125.4" r="2.6"/><circle cx="1226.7" cy="123.7" r="2.6"/><circle cx="1226.2" cy="134.1" r="2.6"/><circle cx="1227.9" cy="130.4" r="2.6"/><circle cx="1227.7" cy="125.3" r="2.6"/><circle cx="1228.1" cy="121.1" r="2.6"/><circle cx="1229.7" cy="133.6" r="2.6"/><circle cx="1229.2" cy="126.9" r="2.6"/><circle cx="1230.6" cy="120.0" r="2.6"/><circle cx="1231.2" cy="120.7" r="2.6"/><circle cx="1231.4" cy="119.6" r="2.6"/><circle cx="1232.4" cy="129.3" r="2.6"/><circle cx="1233.8" cy="136.1" r="2.6"/><circle cx="1234.3" cy="127.1" r="2.6"/><circle cx="1234.0" cy="126.8" r="2.6"/><circle cx="1236.0" cy="135.4" r="2.6"/><circle cx="1236.6" cy="118.4" r="2.6"/><circle cx="1237.3" cy="132.4" r="2.6"/><circle cx="1237.1" cy="126.3" r="2.6"/><circle cx="1238.8" cy="136.2" r="2.6"/><circle cx="1239.2" cy="134.9" r="2.6"/><circle cx="1240.5" cy="125.8" r="2.6"/><circle cx="1241.1" cy="133.7" r="2.6"/><circle cx="1242.5" cy="133.8" r="2.6"/><circle cx="1243.2" cy="138.8" r="2.6"/><circle cx="1244.2" cy="119.8" r="2.6"/><circle cx="1245.6" cy="133.4" r="2.6"/><circle cx="1245.3" cy="138.5" r="2.6"/><circle cx="1246.5" cy="120.7" r="2.6"/><circle cx="1247.0" cy="121.0" r="2.6"/><circle cx="1247.5" cy="130.4" r="2.6"/><circle cx="1248.3" cy="138.1" r="2.6"/><circle cx="1249.8" cy="131.3" r="2.6"/><circle cx="1250.8" cy="124.4" r="2.6"/><circle cx="1250.9" cy="123.3" r="2.6"/><circle cx="1251.8" cy="122.1" r="2.6"/><circle cx="1252.1" cy="118.7" r="2.6"/><circle cx="1254.0" cy="138.7" r="2.6"/><circle cx="1253.7" cy="124.8" r="2.6"/><circle cx="1254.7" cy="126.4" r="2.6"/><circle cx="1255.8" cy="118.4" r="2.6"/><circle cx="1256.5" cy="121.2" r="2.6"/><circle cx="1256.4" cy="130.6" r="2.6"/><circle cx="1257.5" cy="123.8" r="2.6"/><circle cx="1257.6" cy="125.3" r="2.6"/><circle cx="1258.0" cy="132.8" r="2.6"/><circle cx="1260.0" cy="131.2" r="2.6"/><circle cx="1259.5" cy="127.1" r="2.6"/><circle cx="1260.7" cy="134.7" r="2.6"/><circle cx="1261.5" cy="139.9" r="2.6"/><circle cx="1262.9" cy="127.0" r="2.6"/><circle cx="1263.6" cy="138.0" r="2.6"/><circle cx="1263.5" cy="129.6" r="2.6"/><circle cx="1264.9" cy="125.1" r="2.6"/><circle cx="1264.1" cy="134.0" r="2.6"/><circle cx="1265.7" cy="131.2" r="2.6"/><circle cx="1266.3" cy="131.1" r="2.6"/><circle cx="1267.1" cy="127.9" r="2.6"/><circle cx="1267.5" cy="126.8" r="2.6"/><circle cx="1268.7" cy="129.6" r="2.6"/><circle cx="1268.2" cy="124.8" r="2.6"/><circle cx="1269.2" cy="119.5" r="2.6"/><circle cx="1269.9" cy="139.3" r="2.6"/><circle cx="1270.9" cy="127.3" r="2.6"/><circle cx="1271.2" cy="134.5" r="2.6"/><circle cx="1272.9" cy="120.2" r="2.6"/><circle cx="1273.1" cy="129.9" r="2.6"/><circle cx="1274.0" cy="123.4" r="2.6"/><circle cx="1275.3" cy="119.4" r="2.6"/><circle cx="1275.9" cy="136.0" r="2.6"/><circle cx="1276.4" cy="130.9" r="2.6"/><circle cx="1276.0" cy="118.7" r="2.6"/><circle cx="1277.3" cy="129.0" r="2.6"/><circle cx="1279.0" cy="128.4" r="2.6"/><circle cx="1279.3" cy="138.4" r="2.6"/><circle cx="1279.9" cy="122.3" r="2.6"/><circle cx="1280.4" cy="128.4" r="2.6"/><circle cx="1281.9" cy="140.0" r="2.6"/><circle cx="1281.2" cy="132.0" r="2.6"/><circle cx="1282.9" cy="119.1" r="2.6"/><circle cx="1282.1" cy="134.0" r="2.6"/><circle cx="1283.9" cy="137.2" r="2.6"/><circle cx="1283.7" cy="121.0" r="2.6"/><circle cx="1284.9" cy="127.8" r="2.6"/><circle cx="1285.2" cy="124.8" r="2.6"/><circle cx="1285.7" cy="122.3" r="2.6"/><circle cx="1286.2" cy="132.7" r="2.6"/><circle cx="1286.8" cy="126.2" r="2.6"/><circle cx="1287.9" cy="131.0" r="2.6"/><circle cx="1288.3" cy="138.4" r="2.6"/><circle cx="1288.7" cy="124.1" r="2.6"/><circle cx="1289.1" cy="139.7" r="2.6"/><circle cx="1290.5" cy="129.7" r="2.6"/><circle cx="1291.6" cy="124.3" r="2.6"/><circle cx="1291.3" cy="135.7" r="2.6"/><circle cx="1292.3" cy="134.7" r="2.6"/><circle cx="1292.2" cy="124.2" r="2.6"/><circle cx="1293.2" cy="137.8" r="2.6"/><circle cx="1294.0" cy="128.2" r="2.6"/><circle cx="1295.4" cy="138.5" r="2.6"/><circle cx="1296.2" cy="130.3" r="2.6"/><circle cx="1297.4" cy="132.5" r="2.6"/><circle cx="1298.5" cy="129.2" r="2.6"/><circle cx="1299.7" cy="129.5" r="2.6"/><circle cx="1300.2" cy="135.2" r="2.6"/><circle cx="1301.6" cy="124.3" r="2.6"/><circle cx="1301.4" cy="135.4" r="2.6"/><circle cx="1302.8" cy="125.5" r="2.6"/><circle cx="1303.2" cy="132.7" r="2.6"/><circle cx="1304.0" cy="133.9" r="2.6"/><circle cx="1305.6" cy="138.9" r="2.6"/>
<circle cx="978.5" cy="124.3" r="2.6"/><circle cx="982.6" cy="117.4" r="2.6"/><circle cx="983.3" cy="119.2" r="2.6"/><circle cx="985.8" cy="131.1" r="2.6"/><circle cx="986.9" cy="128.7" r="2.6"/><circle cx="988.5" cy="125.6" r="2.6"/><circle cx="989.2" cy="120.6" r="2.6"/><circle cx="990.8" cy="121.0" r="2.6"/><circle cx="994.0" cy="129.7" r="2.6"/><circle cx="998.2" cy="118.9" r="2.6"/><circle cx="1000.7" cy="124.9" r="2.6"/><circle cx="1001.8" cy="121.2" r="2.6"/><circle cx="1008.1" cy="116.4" r="2.6"/><circle cx="1010.5" cy="122.6" r="2.6"/><circle cx="1012.5" cy="126.7" r="2.6"/><circle cx="1016.1" cy="113.3" r="2.6"/><circle cx="1017.0" cy="121.1" r="2.6"/><circle cx="1019.7" cy="125.6" r="2.6"/><circle cx="1021.6" cy="115.0" r="2.6"/><circle cx="1022.0" cy="118.9" r="2.6"/><circle cx="1024.1" cy="116.6" r="2.6"/><circle cx="1025.5" cy="121.6" r="2.6"/><circle cx="1027.0" cy="113.4" r="2.6"/><circle cx="1031.2" cy="115.9" r="2.6"/><circle cx="1032.1" cy="115.8" r="2.6"/><circle cx="1034.9" cy="121.7" r="2.6"/><circle cx="1036.2" cy="117.9" r="2.6"/><circle cx="1039.4" cy="107.2" r="2.6"/><circle cx="1040.3" cy="108.4" r="2.6"/><circle cx="1042.0" cy="110.7" r="2.6"/><circle cx="1048.6" cy="113.7" r="2.6"/><circle cx="1050.5" cy="115.1" r="2.6"/><circle cx="1052.3" cy="105.6" r="2.6"/><circle cx="1056.5" cy="113.8" r="2.6"/><circle cx="1058.4" cy="112.3" r="2.6"/><circle cx="1059.9" cy="103.3" r="2.6"/><circle cx="1062.0" cy="113.4" r="2.6"/><circle cx="1062.5" cy="115.7" r="2.6"/><circle cx="1072.6" cy="108.2" r="2.6"/><circle cx="1076.0" cy="117.0" r="2.6"/><circle cx="1081.2" cy="112.2" r="2.6"/><circle cx="1083.9" cy="106.4" r="2.6"/><circle cx="1084.4" cy="105.7" r="2.6"/><circle cx="1085.1" cy="103.5" r="2.6"/><circle cx="1086.7" cy="114.7" r="2.6"/><circle cx="1090.9" cy="109.1" r="2.6"/><circle cx="1091.4" cy="105.9" r="2.6"/><circle cx="1093.0" cy="105.9" r="2.6"/><circle cx="1095.0" cy="109.2" r="2.6"/><circle cx="1101.0" cy="108.2" r="2.6"/><circle cx="1104.1" cy="103.6" r="2.6"/><circle cx="1110.0" cy="105.5" r="2.6"/><circle cx="1111.6" cy="112.2" r="2.6"/><circle cx="1115.9" cy="110.8" r="2.6"/><circle cx="1118.6" cy="111.8" r="2.6"/><circle cx="1119.1" cy="109.4" r="2.6"/><circle cx="1120.6" cy="109.1" r="2.6"/><circle cx="1121.7" cy="116.9" r="2.6"/><circle cx="1123.3" cy="117.4" r="2.6"/><circle cx="1126.8" cy="116.4" r="2.6"/><circle cx="1127.3" cy="112.8" r="2.6"/><circle cx="1130.1" cy="116.3" r="2.6"/><circle cx="1136.0" cy="110.1" r="2.6"/><circle cx="1136.2" cy="104.2" r="2.6"/><circle cx="1148.2" cy="109.3" r="2.6"/><circle cx="1149.8" cy="105.4" r="2.6"/><circle cx="1150.7" cy="103.6" r="2.6"/><circle cx="1151.0" cy="103.3" r="2.6"/><circle cx="1152.7" cy="107.0" r="2.6"/><circle cx="1153.5" cy="108.4" r="2.6"/><circle cx="1154.1" cy="106.8" r="2.6"/><circle cx="1156.4" cy="110.3" r="2.6"/><circle cx="1159.2" cy="105.7" r="2.6"/><circle cx="1163.6" cy="114.5" r="2.6"/><circle cx="1167.3" cy="117.1" r="2.6"/><circle cx="1170.8" cy="114.8" r="2.6"/><circle cx="1172.5" cy="111.1" r="2.6"/><circle cx="1173.0" cy="118.0" r="2.6"/><circle cx="1180.0" cy="106.9" r="2.6"/><circle cx="1182.0" cy="110.5" r="2.6"/><circle cx="1182.8" cy="107.7" r="2.6"/><circle cx="1186.4" cy="103.1" r="2.6"/><circle cx="1190.6" cy="109.5" r="2.6"/><circle cx="1191.2" cy="116.1" r="2.6"/><circle cx="1194.6" cy="116.4" r="2.6"/><circle cx="1195.2" cy="117.0" r="2.6"/><circle cx="1196.5" cy="116.8" r="2.6"/><circle cx="1198.3" cy="106.7" r="2.6"/><circle cx="1199.5" cy="105.2" r="2.6"/><circle cx="1200.8" cy="104.8" r="2.6"/><circle cx="1201.1" cy="112.5" r="2.6"/><circle cx="1202.3" cy="110.8" r="2.6"/><circle cx="1205.3" cy="103.2" r="2.6"/><circle cx="1206.7" cy="108.1" r="2.6"/><circle cx="1209.0" cy="115.1" r="2.6"/><circle cx="1213.1" cy="117.3" r="2.6"/><circle cx="1218.2" cy="106.3" r="2.6"/><circle cx="1222.4" cy="107.3" r="2.6"/><circle cx="1224.0" cy="115.0" r="2.6"/><circle cx="1225.8" cy="115.2" r="2.6"/><circle cx="1227.0" cy="115.1" r="2.6"/><circle cx="1227.1" cy="104.3" r="2.6"/><circle cx="1229.1" cy="103.5" r="2.6"/><circle cx="1231.6" cy="105.7" r="2.6"/><circle cx="1238.3" cy="113.8" r="2.6"/><circle cx="1239.1" cy="109.3" r="2.6"/><circle cx="1241.2" cy="116.9" r="2.6"/><circle cx="1246.5" cy="104.0" r="2.6"/><circle cx="1249.5" cy="106.7" r="2.6"/><circle cx="1253.6" cy="111.3" r="2.6"/><circle cx="1255.1" cy="108.5" r="2.6"/><circle cx="1256.8" cy="116.3" r="2.6"/><circle cx="1260.4" cy="113.2" r="2.6"/><circle cx="1261.8" cy="109.8" r="2.6"/><circle cx="1262.5" cy="116.0" r="2.6"/><circle cx="1263.3" cy="110.7" r="2.6"/><circle cx="1267.6" cy="113.1" r="2.6"/><circle cx="1268.5" cy="105.4" r="2.6"/><circle cx="1274.6" cy="104.9" r="2.6"/><circle cx="1276.5" cy="115.5" r="2.6"/><circle cx="1277.2" cy="115.0" r="2.6"/><circle cx="1278.9" cy="117.0" r="2.6"/><circle cx="1279.6" cy="117.1" r="2.6"/><circle cx="1282.4" cy="115.1" r="2.6"/><circle cx="1283.7" cy="107.6" r="2.6"/><circle cx="1284.8" cy="108.5" r="2.6"/><circle cx="1288.0" cy="107.7" r="2.6"/><circle cx="1290.0" cy="110.0" r="2.6"/><circle cx="1293.3" cy="103.3" r="2.6"/><circle cx="1294.9" cy="114.8" r="2.6"/><circle cx="1299.6" cy="114.7" r="2.6"/><circle cx="1301.3" cy="107.8" r="2.6"/><circle cx="1304.1" cy="116.5" r="2.6"/>
<circle cx="1003.0" cy="83.2" r="2.6"/><circle cx="1010.4" cy="72.7" r="2.6"/><circle cx="1012.8" cy="68.5" r="2.6"/><circle cx="1017.1" cy="107.8" r="2.6"/><circle cx="1020.0" cy="109.0" r="2.6"/><circle cx="1020.4" cy="71.3" r="2.6"/><circle cx="1025.2" cy="102.3" r="2.6"/><circle cx="1031.7" cy="108.2" r="2.6"/><circle cx="1038.2" cy="80.3" r="2.6"/><circle cx="1042.8" cy="82.6" r="2.6"/><circle cx="1048.5" cy="71.9" r="2.6"/><circle cx="1050.3" cy="78.1" r="2.6"/><circle cx="1052.5" cy="72.9" r="2.6"/><circle cx="1064.3" cy="94.3" r="2.6"/><circle cx="1067.0" cy="88.5" r="2.6"/><circle cx="1071.3" cy="94.9" r="2.6"/><circle cx="1094.9" cy="81.0" r="2.6"/><circle cx="1112.7" cy="99.3" r="2.6"/><circle cx="1119.4" cy="76.9" r="2.6"/><circle cx="1124.5" cy="91.6" r="2.6"/><circle cx="1131.3" cy="91.4" r="2.6"/><circle cx="1136.5" cy="81.9" r="2.6"/><circle cx="1143.4" cy="75.6" r="2.6"/><circle cx="1177.8" cy="75.9" r="2.6"/><circle cx="1184.6" cy="97.0" r="2.6"/><circle cx="1200.8" cy="98.2" r="2.6"/><circle cx="1210.3" cy="65.5" r="2.6"/><circle cx="1220.7" cy="85.4" r="2.6"/><circle cx="1245.1" cy="69.1" r="2.6"/><circle cx="1246.1" cy="65.3" r="2.6"/><circle cx="1248.7" cy="88.4" r="2.6"/><circle cx="1253.2" cy="100.2" r="2.6"/><circle cx="1261.6" cy="101.2" r="2.6"/><circle cx="1270.2" cy="83.3" r="2.6"/><circle cx="1286.5" cy="101.2" r="2.6"/><circle cx="1290.7" cy="89.0" r="2.6"/>
<circle cx="960.7" cy="331.7" r="2.6"/><circle cx="962.2" cy="321.5" r="2.6"/><circle cx="963.7" cy="320.9" r="2.6"/><circle cx="964.2" cy="324.8" r="2.6"/><circle cx="965.8" cy="332.5" r="2.6"/><circle cx="966.3" cy="320.8" r="2.6"/><circle cx="971.9" cy="335.9" r="2.6"/><circle cx="972.8" cy="328.1" r="2.6"/><circle cx="974.4" cy="325.2" r="2.6"/><circle cx="975.3" cy="319.1" r="2.6"/><circle cx="979.6" cy="333.8" r="2.6"/><circle cx="980.7" cy="323.6" r="2.6"/><circle cx="981.2" cy="323.0" r="2.6"/><circle cx="982.5" cy="322.5" r="2.6"/><circle cx="983.1" cy="319.3" r="2.6"/><circle cx="984.2" cy="311.5" r="2.6"/><circle cx="985.1" cy="322.5" r="2.6"/><circle cx="987.7" cy="328.7" r="2.6"/><circle cx="988.1" cy="325.1" r="2.6"/><circle cx="990.2" cy="314.5" r="2.6"/><circle cx="994.9" cy="312.2" r="2.6"/><circle cx="995.1" cy="326.9" r="2.6"/><circle cx="996.7" cy="307.8" r="2.6"/><circle cx="997.6" cy="317.0" r="2.6"/><circle cx="998.7" cy="310.6" r="2.6"/><circle cx="999.2" cy="319.0" r="2.6"/><circle cx="1000.2" cy="303.4" r="2.6"/><circle cx="1001.6" cy="315.0" r="2.6"/><circle cx="1002.4" cy="309.8" r="2.6"/><circle cx="1003.0" cy="326.0" r="2.6"/><circle cx="1004.3" cy="307.7" r="2.6"/><circle cx="1005.1" cy="312.7" r="2.6"/><circle cx="1006.8" cy="301.1" r="2.6"/><circle cx="1007.5" cy="325.2" r="2.6"/><circle cx="1008.5" cy="317.7" r="2.6"/><circle cx="1009.0" cy="313.5" r="2.6"/><circle cx="1011.3" cy="318.1" r="2.6"/><circle cx="1013.6" cy="309.9" r="2.6"/><circle cx="1014.3" cy="306.1" r="2.6"/><circle cx="1015.0" cy="310.3" r="2.6"/><circle cx="1016.8" cy="314.8" r="2.6"/><circle cx="1017.8" cy="303.9" r="2.6"/><circle cx="1018.6" cy="306.9" r="2.6"/><circle cx="1019.4" cy="301.4" r="2.6"/><circle cx="1021.8" cy="302.2" r="2.6"/><circle cx="1022.4" cy="297.0" r="2.6"/><circle cx="1023.4" cy="306.6" r="2.6"/><circle cx="1026.5" cy="298.4" r="2.6"/><circle cx="1028.9" cy="309.6" r="2.6"/><circle cx="1029.0" cy="302.5" r="2.6"/><circle cx="1031.5" cy="306.4" r="2.6"/><circle cx="1032.8" cy="302.9" r="2.6"/><circle cx="1033.7" cy="321.3" r="2.6"/><circle cx="1034.9" cy="309.3" r="2.6"/><circle cx="1035.6" cy="319.7" r="2.6"/><circle cx="1037.1" cy="311.9" r="2.6"/><circle cx="1039.3" cy="322.2" r="2.6"/><circle cx="1040.1" cy="299.2" r="2.6"/><circle cx="1041.7" cy="300.4" r="2.6"/><circle cx="1042.9" cy="322.5" r="2.6"/><circle cx="1044.6" cy="318.0" r="2.6"/><circle cx="1045.3" cy="316.0" r="2.6"/><circle cx="1046.3" cy="321.6" r="2.6"/><circle cx="1047.3" cy="316.5" r="2.6"/><circle cx="1048.0" cy="297.9" r="2.6"/><circle cx="1049.3" cy="320.8" r="2.6"/><circle cx="1050.9" cy="318.9" r="2.6"/><circle cx="1052.0" cy="316.8" r="2.6"/><circle cx="1052.3" cy="309.5" r="2.6"/><circle cx="1054.2" cy="307.7" r="2.6"/><circle cx="1055.2" cy="312.9" r="2.6"/><circle cx="1056.8" cy="303.2" r="2.6"/><circle cx="1057.6" cy="306.5" r="2.6"/><circle cx="1059.5" cy="319.7" r="2.6"/><circle cx="1060.7" cy="315.1" r="2.6"/><circle cx="1062.0" cy="299.4" r="2.6"/><circle cx="1063.8" cy="302.7" r="2.6"/><circle cx="1064.5" cy="322.0" r="2.6"/><circle cx="1065.5" cy="314.1" r="2.6"/><circle cx="1066.5" cy="299.1" r="2.6"/><circle cx="1067.8" cy="307.4" r="2.6"/><circle cx="1068.1" cy="316.1" r="2.6"/><circle cx="1069.9" cy="316.7" r="2.6"/><circle cx="1070.9" cy="321.1" r="2.6"/><circle cx="1073.7" cy="313.3" r="2.6"/><circle cx="1074.3" cy="299.5" r="2.6"/><circle cx="1075.6" cy="297.2" r="2.6"/><circle cx="1076.6" cy="308.2" r="2.6"/><circle cx="1079.8" cy="307.1" r="2.6"/><circle cx="1080.4" cy="317.9" r="2.6"/><circle cx="1082.0" cy="303.1" r="2.6"/><circle cx="1082.9" cy="311.7" r="2.6"/><circle cx="1083.1" cy="306.6" r="2.6"/><circle cx="1084.8" cy="314.2" r="2.6"/><circle cx="1086.4" cy="308.7" r="2.6"/><circle cx="1087.1" cy="300.0" r="2.6"/><circle cx="1088.3" cy="302.1" r="2.6"/><circle cx="1090.9" cy="301.7" r="2.6"/><circle cx="1092.0" cy="296.4" r="2.6"/><circle cx="1092.1" cy="295.6" r="2.6"/><circle cx="1093.2" cy="297.7" r="2.6"/><circle cx="1094.7" cy="294.8" r="2.6"/><circle cx="1095.6" cy="315.4" r="2.6"/><circle cx="1096.7" cy="310.6" r="2.6"/><circle cx="1099.1" cy="308.0" r="2.6"/><circle cx="1100.5" cy="312.3" r="2.6"/><circle cx="1101.7" cy="303.8" r="2.6"/><circle cx="1102.2" cy="300.6" r="2.6"/><circle cx="1103.6" cy="316.6" r="2.6"/><circle cx="1104.7" cy="296.8" r="2.6"/><circle cx="1105.2" cy="316.2" r="2.6"/><circle cx="1107.8" cy="301.0" r="2.6"/><circle cx="1108.1" cy="307.0" r="2.6"/><circle cx="1109.7" cy="310.7" r="2.6"/><circle cx="1110.7" cy="302.6" r="2.6"/><circle cx="1111.4" cy="297.2" r="2.6"/><circle cx="1113.1" cy="317.9" r="2.6"/><circle cx="1115.4" cy="302.2" r="2.6"/><circle cx="1116.5" cy="305.2" r="2.6"/><circle cx="1117.9" cy="300.0" r="2.6"/><circle cx="1118.8" cy="318.6" r="2.6"/><circle cx="1119.7" cy="314.4" r="2.6"/><circle cx="1120.9" cy="320.7" r="2.6"/><circle cx="1121.8" cy="313.2" r="2.6"/><circle cx="1122.8" cy="316.2" r="2.6"/><circle cx="1123.0" cy="320.3" r="2.6"/><circle cx="1124.4" cy="307.5" r="2.6"/><circle cx="1125.4" cy="321.0" r="2.6"/><circle cx="1126.6" cy="319.5" r="2.6"/><circle cx="1127.5" cy="318.5" r="2.6"/><circle cx="1128.7" cy="321.8" r="2.6"/><circle cx="1129.6" cy="304.0" r="2.6"/><circle cx="1130.4" cy="311.6" r="2.6"/><circle cx="1132.3" cy="317.1" r="2.6"/><circle cx="1133.8" cy="302.2" r="2.6"/><circle cx="1135.6" cy="298.8" r="2.6"/><circle cx="1136.8" cy="315.4" r="2.6"/><circle cx="1137.4" cy="297.6" r="2.6"/><circle cx="1138.4" cy="314.3" r="2.6"/><circle cx="1139.4" cy="317.7" r="2.6"/><circle cx="1141.0" cy="297.5" r="2.6"/><circle cx="1142.4" cy="318.0" r="2.6"/><circle cx="1143.5" cy="295.9" r="2.6"/><circle cx="1145.2" cy="296.8" r="2.6"/><circle cx="1146.9" cy="315.6" r="2.6"/><circle cx="1147.0" cy="314.3" r="2.6"/><circle cx="1148.7" cy="305.9" r="2.6"/><circle cx="1150.8" cy="311.0" r="2.6"/><circle cx="1151.6" cy="300.2" r="2.6"/><circle cx="1153.0" cy="309.2" r="2.6"/><circle cx="1153.6" cy="298.5" r="2.6"/><circle cx="1154.1" cy="309.9" r="2.6"/><circle cx="1155.5" cy="296.0" r="2.6"/><circle cx="1156.1" cy="291.8" r="2.6"/><circle cx="1157.7" cy="312.9" r="2.6"/><circle cx="1159.0" cy="293.9" r="2.6"/><circle cx="1159.6" cy="294.3" r="2.6"/><circle cx="1160.2" cy="302.6" r="2.6"/><circle cx="1162.6" cy="290.7" r="2.6"/><circle cx="1163.5" cy="292.6" r="2.6"/><circle cx="1164.2" cy="296.5" r="2.6"/><circle cx="1165.8" cy="292.2" r="2.6"/><circle cx="1166.2" cy="307.1" r="2.6"/><circle cx="1168.7" cy="303.5" r="2.6"/><circle cx="1169.3" cy="306.2" r="2.6"/><circle cx="1171.0" cy="313.9" r="2.6"/><circle cx="1172.4" cy="301.2" r="2.6"/><circle cx="1173.7" cy="302.7" r="2.6"/><circle cx="1174.9" cy="307.8" r="2.6"/><circle cx="1175.9" cy="299.9" r="2.6"/><circle cx="1176.6" cy="314.1" r="2.6"/><circle cx="1178.6" cy="320.3" r="2.6"/><circle cx="1179.7" cy="310.4" r="2.6"/><circle cx="1181.0" cy="307.6" r="2.6"/><circle cx="1181.3" cy="321.7" r="2.6"/><circle cx="1186.0" cy="303.9" r="2.6"/><circle cx="1186.1" cy="311.8" r="2.6"/><circle cx="1187.3" cy="314.7" r="2.6"/><circle cx="1188.2" cy="296.5" r="2.6"/><circle cx="1189.4" cy="290.0" r="2.6"/><circle cx="1191.0" cy="297.9" r="2.6"/><circle cx="1191.4" cy="288.8" r="2.6"/><circle cx="1192.2" cy="291.1" r="2.6"/><circle cx="1193.7" cy="289.3" r="2.6"/><circle cx="1195.2" cy="299.3" r="2.6"/><circle cx="1197.7" cy="303.8" r="2.6"/><circle cx="1200.0" cy="296.5" r="2.6"/><circle cx="1200.8" cy="316.0" r="2.6"/><circle cx="1201.2" cy="317.5" r="2.6"/><circle cx="1202.2" cy="297.3" r="2.6"/><circle cx="1204.2" cy="302.0" r="2.6"/><circle cx="1208.0" cy="308.8" r="2.6"/><circle cx="1209.9" cy="314.6" r="2.6"/><circle cx="1210.7" cy="296.4" r="2.6"/><circle cx="1211.9" cy="301.4" r="2.6"/><circle cx="1212.6" cy="291.9" r="2.6"/><circle cx="1213.6" cy="311.9" r="2.6"/><circle cx="1214.9" cy="293.0" r="2.6"/><circle cx="1215.3" cy="294.6" r="2.6"/><circle cx="1216.7" cy="300.4" r="2.6"/><circle cx="1217.5" cy="293.8" r="2.6"/><circle cx="1219.0" cy="302.6" r="2.6"/><circle cx="1219.4" cy="300.3" r="2.6"/><circle cx="1220.2" cy="298.8" r="2.6"/><circle cx="1221.5" cy="293.4" r="2.6"/><circle cx="1222.8" cy="300.8" r="2.6"/><circle cx="1224.6" cy="301.3" r="2.6"/><circle cx="1225.4" cy="305.6" r="2.6"/><circle cx="1227.2" cy="315.8" r="2.6"/><circle cx="1231.7" cy="297.3" r="2.6"/><circle cx="1233.5" cy="307.6" r="2.6"/><circle cx="1234.6" cy="316.2" r="2.6"/><circle cx="1235.4" cy="303.8" r="2.6"/><circle cx="1236.3" cy="315.5" r="2.6"/><circle cx="1238.3" cy="303.0" r="2.6"/><circle cx="1240.2" cy="302.5" r="2.6"/><circle cx="1241.1" cy="300.4" r="2.6"/><circle cx="1242.9" cy="301.1" r="2.6"/><circle cx="1243.6" cy="295.3" r="2.6"/><circle cx="1244.6" cy="306.1" r="2.6"/><circle cx="1245.4" cy="294.8" r="2.6"/><circle cx="1246.2" cy="300.0" r="2.6"/><circle cx="1247.8" cy="294.3" r="2.6"/><circle cx="1248.2" cy="298.7" r="2.6"/><circle cx="1252.5" cy="303.7" r="2.6"/><circle cx="1253.4" cy="307.9" r="2.6"/><circle cx="1254.8" cy="303.6" r="2.6"/><circle cx="1255.9" cy="306.7" r="2.6"/><circle cx="1256.9" cy="304.5" r="2.6"/><circle cx="1257.5" cy="313.9" r="2.6"/><circle cx="1258.4" cy="301.6" r="2.6"/><circle cx="1261.9" cy="305.7" r="2.6"/><circle cx="1262.3" cy="299.2" r="2.6"/><circle cx="1263.9" cy="306.3" r="2.6"/><circle cx="1264.2" cy="303.1" r="2.6"/><circle cx="1268.4" cy="317.5" r="2.6"/><circle cx="1269.6" cy="295.5" r="2.6"/><circle cx="1270.5" cy="317.3" r="2.6"/><circle cx="1273.9" cy="318.7" r="2.6"/><circle cx="1274.4" cy="310.0" r="2.6"/><circle cx="1275.2" cy="316.2" r="2.6"/><circle cx="1276.6" cy="297.6" r="2.6"/><circle cx="1278.0" cy="297.7" r="2.6"/><circle cx="1278.9" cy="320.9" r="2.6"/><circle cx="1279.3" cy="306.0" r="2.6"/><circle cx="1280.6" cy="310.2" r="2.6"/><circle cx="1281.1" cy="309.3" r="2.6"/><circle cx="1284.8" cy="323.1" r="2.6"/><circle cx="1285.1" cy="303.6" r="2.6"/><circle cx="1286.3" cy="314.2" r="2.6"/><circle cx="1287.9" cy="307.9" r="2.6"/><circle cx="1288.6" cy="309.9" r="2.6"/><circle cx="1289.6" cy="309.2" r="2.6"/><circle cx="1290.2" cy="302.0" r="2.6"/><circle cx="1292.9" cy="316.5" r="2.6"/><circle cx="1294.3" cy="302.7" r="2.6"/><circle cx="1295.7" cy="317.3" r="2.6"/><circle cx="1297.6" cy="317.4" r="2.6"/><circle cx="1299.9" cy="300.0" r="2.6"/><circle cx="1300.3" cy="312.1" r="2.6"/><circle cx="1301.4" cy="307.7" r="2.6"/><circle cx="1302.4" cy="305.4" r="2.6"/><circle cx="1303.5" cy="325.7" r="2.6"/><circle cx="1305.6" cy="306.6" r="2.6"/><circle cx="1307.0" cy="312.4" r="2.6"/><circle cx="1307.6" cy="319.6" r="2.6"/><circle cx="1308.9" cy="318.8" r="2.6"/><circle cx="1309.2" cy="321.5" r="2.6"/><circle cx="1310.5" cy="317.4" r="2.6"/><circle cx="1311.8" cy="333.0" r="2.6"/><circle cx="1312.7" cy="316.8" r="2.6"/><circle cx="1313.1" cy="324.6" r="2.6"/><circle cx="1315.7" cy="331.6" r="2.6"/><circle cx="1316.4" cy="317.2" r="2.6"/><circle cx="1318.5" cy="331.1" r="2.6"/><circle cx="1320.2" cy="323.3" r="2.6"/><circle cx="1321.2" cy="322.7" r="2.6"/><circle cx="1322.3" cy="328.4" r="2.6"/><circle cx="1323.4" cy="327.6" r="2.6"/><circle cx="1325.7" cy="328.3" r="2.6"/><circle cx="1326.5" cy="319.6" r="2.6"/><circle cx="1327.9" cy="331.0" r="2.6"/><circle cx="1328.8" cy="319.5" r="2.6"/><circle cx="1329.5" cy="323.3" r="2.6"/><circle cx="1330.9" cy="321.5" r="2.6"/><circle cx="1331.7" cy="333.7" r="2.6"/><circle cx="1332.6" cy="334.0" r="2.6"/><circle cx="1335.0" cy="314.0" r="2.6"/><circle cx="1335.5" cy="336.1" r="2.6"/><circle cx="1336.0" cy="335.9" r="2.6"/><circle cx="1337.5" cy="322.8" r="2.6"/><circle cx="1338.0" cy="326.3" r="2.6"/><circle cx="1339.5" cy="337.5" r="2.6"/><circle cx="1341.3" cy="316.2" r="2.6"/><circle cx="1342.2" cy="316.6" r="2.6"/><circle cx="1344.9" cy="319.4" r="2.6"/><circle cx="1345.6" cy="332.0" r="2.6"/><circle cx="1346.5" cy="329.5" r="2.6"/><circle cx="1347.3" cy="327.2" r="2.6"/><circle cx="1348.1" cy="318.2" r="2.6"/>
<circle cx="960.7" cy="357.9" r="2.6"/><circle cx="970.2" cy="366.7" r="2.6"/><circle cx="975.6" cy="359.8" r="2.6"/><circle cx="976.7" cy="344.7" r="2.6"/><circle cx="978.2" cy="368.8" r="2.6"/><circle cx="985.6" cy="348.9" r="2.6"/><circle cx="987.9" cy="344.8" r="2.6"/><circle cx="993.8" cy="330.6" r="2.6"/><circle cx="995.7" cy="330.8" r="2.6"/><circle cx="997.5" cy="346.4" r="2.6"/><circle cx="1003.5" cy="332.7" r="2.6"/><circle cx="1006.1" cy="345.7" r="2.6"/><circle cx="1008.7" cy="352.4" r="2.6"/><circle cx="1020.3" cy="349.9" r="2.6"/><circle cx="1026.1" cy="325.7" r="2.6"/><circle cx="1055.2" cy="342.9" r="2.6"/><circle cx="1056.3" cy="336.3" r="2.6"/><circle cx="1063.2" cy="328.0" r="2.6"/><circle cx="1065.7" cy="330.1" r="2.6"/><circle cx="1072.4" cy="329.4" r="2.6"/><circle cx="1076.7" cy="346.5" r="2.6"/><circle cx="1078.9" cy="331.5" r="2.6"/><circle cx="1083.8" cy="328.1" r="2.6"/><circle cx="1084.4" cy="336.1" r="2.6"/><circle cx="1085.4" cy="341.6" r="2.6"/><circle cx="1094.0" cy="325.3" r="2.6"/><circle cx="1102.1" cy="345.3" r="2.6"/><circle cx="1110.4" cy="337.9" r="2.6"/><circle cx="1117.9" cy="337.9" r="2.6"/><circle cx="1120.2" cy="332.3" r="2.6"/><circle cx="1124.9" cy="341.0" r="2.6"/><circle cx="1125.7" cy="344.3" r="2.6"/><circle cx="1146.9" cy="326.5" r="2.6"/><circle cx="1149.5" cy="337.3" r="2.6"/><circle cx="1156.5" cy="318.0" r="2.6"/><circle cx="1157.6" cy="341.0" r="2.6"/><circle cx="1170.3" cy="343.7" r="2.6"/><circle cx="1174.8" cy="328.1" r="2.6"/><circle cx="1177.8" cy="335.2" r="2.6"/><circle cx="1180.8" cy="347.1" r="2.6"/><circle cx="1188.9" cy="334.2" r="2.6"/><circle cx="1190.7" cy="313.6" r="2.6"/><circle cx="1194.5" cy="328.2" r="2.6"/><circle cx="1196.7" cy="344.3" r="2.6"/><circle cx="1205.5" cy="317.6" r="2.6"/><circle cx="1206.4" cy="323.1" r="2.6"/><circle cx="1207.5" cy="337.3" r="2.6"/><circle cx="1220.9" cy="331.6" r="2.6"/><circle cx="1227.2" cy="335.9" r="2.6"/><circle cx="1232.7" cy="337.9" r="2.6"/><circle cx="1241.8" cy="331.4" r="2.6"/><circle cx="1246.9" cy="331.8" r="2.6"/><circle cx="1255.6" cy="318.3" r="2.6"/><circle cx="1263.3" cy="324.4" r="2.6"/><circle cx="1290.7" cy="334.1" r="2.6"/><circle cx="1298.4" cy="350.5" r="2.6"/><circle cx="1303.3" cy="352.0" r="2.6"/><circle cx="1304.3" cy="341.2" r="2.6"/><circle cx="1307.1" cy="357.9" r="2.6"/><circle cx="1308.2" cy="342.4" r="2.6"/><circle cx="1315.5" cy="335.8" r="2.6"/><circle cx="1317.1" cy="348.2" r="2.6"/><circle cx="1319.6" cy="339.5" r="2.6"/><circle cx="1321.7" cy="359.9" r="2.6"/><circle cx="1337.7" cy="346.5" r="2.6"/><circle cx="1346.4" cy="368.1" r="2.6"/><circle cx="1349.0" cy="344.1" r="2.6"/>
<circle cx="1311.0" cy="224.6" r="2.6"/><circle cx="1313.0" cy="141.9" r="2.6"/><circle cx="1312.9" cy="218.4" r="2.6"/><circle cx="1314.0" cy="167.6" r="2.6"/><circle cx="1314.7" cy="172.3" r="2.6"/><circle cx="1314.3" cy="166.3" r="2.6"/><circle cx="1315.9" cy="231.7" r="2.6"/><circle cx="1316.9" cy="198.8" r="2.6"/><circle cx="1316.2" cy="192.4" r="2.6"/><circle cx="1317.1" cy="204.9" r="2.6"/><circle cx="1318.6" cy="247.0" r="2.6"/><circle cx="1318.6" cy="186.6" r="2.6"/><circle cx="1320.0" cy="196.4" r="2.6"/><circle cx="1320.0" cy="156.1" r="2.6"/><circle cx="1321.9" cy="219.4" r="2.6"/><circle cx="1321.7" cy="173.0" r="2.6"/><circle cx="1322.9" cy="151.5" r="2.6"/><circle cx="1323.0" cy="193.9" r="2.6"/><circle cx="1323.8" cy="203.8" r="2.6"/><circle cx="1324.5" cy="160.6" r="2.6"/><circle cx="1325.4" cy="167.1" r="2.6"/><circle cx="1326.8" cy="176.6" r="2.6"/><circle cx="1326.9" cy="178.7" r="2.6"/><circle cx="1327.1" cy="244.4" r="2.6"/><circle cx="1328.5" cy="153.3" r="2.6"/><circle cx="1329.4" cy="236.6" r="2.6"/><circle cx="1330.7" cy="173.0" r="2.6"/><circle cx="1331.9" cy="248.6" r="2.6"/><circle cx="1331.2" cy="197.5" r="2.6"/><circle cx="1333.0" cy="145.0" r="2.6"/><circle cx="1333.8" cy="205.5" r="2.6"/><circle cx="1333.5" cy="229.4" r="2.6"/><circle cx="1334.7" cy="169.4" r="2.6"/><circle cx="1335.0" cy="178.3" r="2.6"/><circle cx="1335.6" cy="183.7" r="2.6"/><circle cx="1336.6" cy="221.1" r="2.6"/><circle cx="1336.6" cy="175.8" r="2.6"/><circle cx="1337.8" cy="242.8" r="2.6"/><circle cx="1338.0" cy="217.0" r="2.6"/><circle cx="1339.4" cy="199.6" r="2.6"/><circle cx="1339.1" cy="168.7" r="2.6"/><circle cx="1340.3" cy="245.0" r="2.6"/><circle cx="1341.3" cy="176.7" r="2.6"/><circle cx="1342.7" cy="179.1" r="2.6"/><circle cx="1343.2" cy="239.0" r="2.6"/><circle cx="1343.7" cy="152.5" r="2.6"/><circle cx="1344.6" cy="178.5" r="2.6"/>
</g>
<g fill="#e6e6e6"><circle cx="1039.5" cy="274.3" r="1.3"/><circle cx="1040.1" cy="272.7" r="1.3"/><circle cx="1235.1" cy="175.4" r="1.1"/><circle cx="1236.0" cy="173.9" r="1.7"/><circle cx="1223.7" cy="268.2" r="1.5"/><circle cx="1194.2" cy="235.4" r="1.6"/><circle cx="1192.4" cy="236.3" r="1.2"/><circle cx="1192.5" cy="235.6" r="0.9"/><circle cx="1263.0" cy="170.2" r="1.4"/><circle cx="1286.9" cy="297.2" r="1.6"/><circle cx="1048.3" cy="288.6" r="1.3"/><circle cx="1048.4" cy="287.7" r="1.1"/><circle cx="1249.4" cy="166.5" r="1.4"/><circle cx="1252.0" cy="167.6" r="1.2"/><circle cx="1297.8" cy="166.7" r="1.2"/><circle cx="1299.1" cy="165.4" r="1.0"/><circle cx="1296.4" cy="166.5" r="1.5"/><circle cx="1107.3" cy="273.1" r="1.7"/><circle cx="1107.3" cy="273.5" r="1.6"/><circle cx="1104.9" cy="273.1" r="1.1"/><circle cx="1266.7" cy="145.4" r="1.6"/><circle cx="1263.1" cy="144.9" r="1.1"/><circle cx="1120.0" cy="144.7" r="1.0"/><circle cx="1120.4" cy="144.5" r="1.0"/><circle cx="1195.1" cy="259.2" r="1.0"/><circle cx="1102.0" cy="262.2" r="1.1"/><circle cx="1104.3" cy="261.1" r="1.4"/><circle cx="1289.0" cy="164.2" r="1.2"/><circle cx="1291.2" cy="163.8" r="1.5"/><circle cx="1288.5" cy="162.5" r="1.2"/><circle cx="1046.6" cy="281.7" r="1.0"/><circle cx="1158.0" cy="159.2" r="1.6"/><circle cx="1050.6" cy="280.7" r="1.5"/><circle cx="1051.0" cy="279.0" r="1.3"/><circle cx="1047.3" cy="280.5" r="1.0"/><circle cx="1213.9" cy="166.2" r="1.0"/><circle cx="1213.8" cy="167.7" r="1.6"/><circle cx="1242.5" cy="195.9" r="1.5"/><circle cx="1244.3" cy="195.5" r="1.5"/><circle cx="1242.1" cy="196.0" r="1.0"/><circle cx="1246.5" cy="254.8" r="1.6"/><circle cx="1246.5" cy="255.2" r="1.5"/><circle cx="1298.5" cy="293.3" r="1.3"/><circle cx="1297.2" cy="293.2" r="1.1"/><circle cx="1295.5" cy="293.2" r="1.1"/><circle cx="1211.8" cy="272.7" r="1.2"/><circle cx="1209.0" cy="273.7" r="1.4"/><circle cx="998.9" cy="159.8" r="1.4"/><circle cx="998.3" cy="159.6" r="1.6"/><circle cx="998.0" cy="159.6" r="1.1"/><circle cx="1280.7" cy="200.2" r="0.9"/><circle cx="1277.4" cy="198.8" r="1.2"/><circle cx="1276.6" cy="199.3" r="1.0"/><circle cx="1084.2" cy="278.0" r="1.0"/><circle cx="1081.5" cy="277.4" r="1.2"/><circle cx="1170.2" cy="145.4" r="1.6"/><circle cx="1035.0" cy="247.5" r="1.0"/><circle cx="1033.6" cy="246.9" r="1.3"/><circle cx="1034.9" cy="247.4" r="1.4"/><circle cx="1181.6" cy="176.8" r="1.6"/><circle cx="1210.0" cy="160.0" r="1.3"/><circle cx="1300.5" cy="243.9" r="0.9"/><circle cx="1300.4" cy="244.3" r="1.6"/><circle cx="1122.8" cy="254.4" r="1.1"/><circle cx="1124.8" cy="255.0" r="1.6"/><circle cx="1267.4" cy="163.5" r="1.7"/><circle cx="1196.1" cy="160.2" r="1.3"/><circle cx="1197.1" cy="159.7" r="1.1"/><circle cx="1194.9" cy="159.6" r="1.4"/><circle cx="1267.8" cy="146.0" r="1.2"/><circle cx="1269.1" cy="144.7" r="1.4"/><circle cx="1268.7" cy="145.9" r="1.2"/><circle cx="994.9" cy="159.5" r="1.5"/><circle cx="995.5" cy="158.3" r="1.6"/><circle cx="1054.1" cy="155.3" r="0.9"/><circle cx="1052.7" cy="155.0" r="1.6"/><circle cx="1053.1" cy="154.1" r="1.1"/><circle cx="1003.0" cy="276.7" r="1.7"/><circle cx="1002.3" cy="276.8" r="1.6"/><circle cx="1004.3" cy="274.9" r="1.2"/><circle cx="1182.6" cy="281.0" r="1.7"/><circle cx="1181.4" cy="281.4" r="1.1"/><circle cx="1181.4" cy="281.2" r="1.3"/><circle cx="1230.0" cy="285.4" r="1.3"/><circle cx="1247.9" cy="161.4" r="1.5"/><circle cx="1302.1" cy="280.4" r="1.6"/><circle cx="1150.0" cy="151.2" r="1.3"/><circle cx="1147.9" cy="150.7" r="1.0"/><circle cx="1249.9" cy="159.2" r="0.9"/><circle cx="1246.5" cy="279.1" r="1.0"/><circle cx="1246.5" cy="278.7" r="1.5"/><circle cx="1250.2" cy="279.2" r="1.6"/><circle cx="1133.1" cy="219.6" r="0.9"/><circle cx="1130.9" cy="220.2" r="1.3"/><circle cx="1131.3" cy="219.4" r="1.4"/><circle cx="1175.9" cy="286.2" r="1.5"/><circle cx="1240.7" cy="245.4" r="1.1"/><circle cx="1239.4" cy="245.5" r="1.6"/><circle cx="1069.8" cy="252.0" r="1.5"/><circle cx="1143.6" cy="172.7" r="1.6"/><circle cx="1142.4" cy="173.2" r="1.6"/><circle cx="1141.3" cy="174.2" r="1.4"/><circle cx="1148.2" cy="247.9" r="1.7"/><circle cx="1147.9" cy="248.1" r="1.4"/><circle cx="1147.8" cy="247.5" r="1.5"/><circle cx="1188.1" cy="190.6" r="1.6"/><circle cx="1273.5" cy="279.2" r="1.0"/><circle cx="1269.8" cy="279.1" r="1.5"/><circle cx="1271.2" cy="280.5" r="1.3"/><circle cx="1048.2" cy="147.7" r="1.3"/><circle cx="1023.0" cy="210.3" r="0.9"/></g>
<g fill="#fff"><circle cx="1451.3" cy="279.0" r="1.4"/><circle cx="1426.8" cy="291.1" r="1.1"/><circle cx="1415.1" cy="290.8" r="1.5"/><circle cx="1414.3" cy="290.0" r="1.0"/><circle cx="1413.5" cy="290.3" r="0.9"/><circle cx="1404.5" cy="287.6" r="1.1"/><circle cx="1405.1" cy="287.7" r="1.5"/><circle cx="1408.5" cy="288.8" r="1.2"/><circle cx="1379.2" cy="280.2" r="1.2"/><circle cx="1378.5" cy="281.9" r="1.2"/><circle cx="1380.9" cy="280.9" r="1.3"/><circle cx="1445.9" cy="280.7" r="1.3"/><circle cx="1446.7" cy="281.7" r="1.4"/><circle cx="1447.1" cy="283.1" r="1.1"/><circle cx="1393.5" cy="290.7" r="0.9"/><circle cx="1443.6" cy="278.9" r="1.5"/><circle cx="1444.9" cy="279.5" r="0.9"/><circle cx="1442.4" cy="280.1" r="1.4"/><circle cx="1419.1" cy="279.2" r="1.5"/><circle cx="1400.5" cy="289.0" r="1.0"/><circle cx="1400.4" cy="290.4" r="1.2"/><circle cx="1360.4" cy="287.9" r="1.6"/><circle cx="1351.7" cy="283.7" r="1.3"/><circle cx="1354.4" cy="284.9" r="0.9"/><circle cx="1351.8" cy="283.9" r="1.3"/><circle cx="1456.1" cy="284.4" r="1.0"/><circle cx="1452.3" cy="285.0" r="1.0"/><circle cx="1389.1" cy="287.1" r="1.1"/><circle cx="1389.2" cy="287.1" r="1.0"/><circle cx="1387.4" cy="287.8" r="1.4"/><circle cx="1427.9" cy="283.2" r="1.5"/><circle cx="1449.8" cy="285.8" r="0.8"/><circle cx="1405.1" cy="286.5" r="1.0"/><circle cx="1432.9" cy="279.7" r="1.2"/><circle cx="1429.4" cy="279.9" r="1.5"/><circle cx="1436.8" cy="276.4" r="1.5"/><circle cx="1438.5" cy="277.4" r="1.3"/><circle cx="1379.2" cy="289.2" r="0.9"/><circle cx="1382.4" cy="289.7" r="1.4"/><circle cx="1436.2" cy="291.3" r="1.5"/><circle cx="1358.5" cy="286.3" r="0.8"/><circle cx="1359.4" cy="286.5" r="1.2"/><circle cx="1362.3" cy="286.3" r="1.2"/><circle cx="1440.2" cy="286.5" r="0.9"/><circle cx="1441.1" cy="285.1" r="1.3"/><circle cx="1438.9" cy="286.1" r="1.5"/><circle cx="1380.6" cy="281.4" r="1.3"/><circle cx="1379.7" cy="281.2" r="1.6"/><circle cx="1450.5" cy="288.2" r="1.1"/><circle cx="1379.1" cy="280.2" r="1.5"/><circle cx="1450.1" cy="279.5" r="0.9"/><circle cx="1447.4" cy="278.5" r="0.9"/><circle cx="1395.5" cy="281.4" r="1.1"/><circle cx="1356.4" cy="290.4" r="1.5"/><circle cx="1357.4" cy="291.4" r="1.2"/><circle cx="1355.0" cy="290.7" r="0.9"/></g>
<path d="M116.8,273.0 L118.5,270.3 L120.2,272.2 L121.9,270.8 L123.7,273.0 L125.4,275.1 L127.1,278.1 L128.8,276.8 L130.5,273.9 L132.2,270.9 L133.9,271.3 L135.6,272.5 L137.3,277.3 L139.9,270.4 L142.0,272.2 L144.1,276.4 L146.7,275.6 L148.4,299.5 L151.0,284.1 L152.7,284.4 L154.4,282.4 L156.1,282.0 L157.8,284.9 L160.4,286.7 L162.9,275.6 L164.6,281.4 L166.3,284.9 L168.9,274.7 L171.5,285.8 L173.2,276.4 L174.9,285.8 L176.6,279.0 L178.3,278.4 L180.0,276.4 L181.7,273.3 L183.4,273.7 L185.1,272.2 L186.8,270.2 L188.5,268.7 L191.1,265.3 L193.6,269.6 L195.4,269.5 L197.1,272.4 L198.8,270.4 L200.5,268.3 L202.2,267.7 L203.9,269.6 L206.0,269.5 L208.2,265.3 L210.3,263.0 L212.4,261.6 L214.1,261.2 L215.8,263.6 L217.5,264.0 L219.3,265.3 L221.0,267.0 L222.7,271.3 L224.4,271.3 L226.1,273.0 L227.8,277.3 L229.5,270.4 L231.2,270.0 L232.9,272.2 L234.6,270.8 L236.3,268.7 L238.0,270.7 L239.7,272.2 L241.4,273.4 L243.2,272.0 L244.9,268.9 L246.6,268.7 L248.3,267.2 L250.0,269.9 L251.7,270.3 L253.4,267.9 L255.1,265.7 L256.8,269.0 L258.5,269.6 L260.2,267.9 L261.9,272.4 L263.6,275.6 L265.3,274.5 L267.1,277.4 L268.8,277.3 L270.5,276.4 L272.2,275.6 L273.9,278.3 L275.6,277.0 L277.3,279.0 L279.0,272.6 L280.7,270.4 L282.4,272.2 L284.1,275.6 L285.8,272.2 L287.5,270.4 L289.2,270.4 L291.0,272.0 L292.7,273.3 L294.4,272.2 L295.0,272.2 L296.7,273.0 L298.4,269.6 L300.1,273.5 L301.8,273.0 L303.5,273.1 L305.2,268.7 L306.9,271.8 L308.7,272.2 L310.4,270.8 L312.1,271.3 L313.8,270.7 L315.5,273.0 L317.2,271.9 L318.9,269.6 L320.6,271.5 L322.3,273.0 L324.0,273.5 L325.7,270.6 L327.4,272.2 L329.1,273.9 L330.8,270.3 L332.6,269.6 L334.3,270.6 L336.0,268.1 L337.7,266.7 L339.4,268.6 L341.1,268.7 L342.8,266.6 L344.5,267.7 L346.2,267.9 L347.9,269.2 L349.6,266.7 L351.3,268.4 L353.0,268.7 L355.6,267.9 L357.3,277.3 L359.9,274.7 L362.4,277.3 L365.0,269.6 L366.7,272.3 L368.4,270.4 L370.1,267.9 L371.8,268.0 L373.5,267.0 L376.1,267.9 L378.6,261.6 L380.4,264.8 L382.1,265.3 L383.8,266.3 L385.5,267.9 L387.6,264.1 L389.7,257.6 L392.3,259.4 L394.9,264.5 L397.4,261.6 L399.1,264.2 L400.8,266.2 L403.4,269.6 L405.1,264.0 L406.8,261.9 L409.4,266.2 L411.1,265.6 L412.8,268.7 L415.4,267.9 L417.5,271.4 L419.6,270.4 L421.3,269.5 L423.0,270.7 L424.7,273.0 L426.4,272.2 L428.2,273.0 L429.9,278.1 L431.6,284.9 L434.1,282.4 L436.3,280.8 L438.4,277.3 L440.1,276.8 L441.8,273.0 L443.5,272.5 L445.2,272.2 L446.9,270.9 L448.6,269.6 L450.3,269.2 L452.1,266.2 L453.8,266.6 L455.5,268.4 L457.2,270.4 L458.9,271.5 L460.6,272.2 L462.3,272.2 L464.0,270.0 L465.7,270.4 L467.4,272.2 L469.1,270.8 L470.8,273.8 L472.5,273.0 L474.2,275.6 L476.0,276.4 L477.7,275.6 L479.4,270.4 L480.0,272.2 L481.7,271.2 L483.4,267.9 L485.1,265.5 L486.8,265.3 L489.4,269.6 L491.9,266.2 L494.5,267.9 L496.2,265.3 L498.8,269.6 L500.5,270.8 L502.2,269.6 L503.9,270.7 L505.6,267.4 L507.3,268.2 L509.0,270.4 L510.7,269.0 L512.4,272.2 L514.1,271.6 L515.8,272.2 L518.0,272.0 L520.1,273.9 L521.8,270.7 L523.5,270.4 L526.1,270.4 L527.8,269.9 L529.5,273.5 L531.2,271.1 L532.9,272.2 L534.6,274.3 L536.3,273.0 L538.0,270.9 L539.7,273.0 L542.3,267.0 L544.9,268.7 L547.4,267.9 L550.0,273.5 L551.7,272.1 L553.4,269.6 L555.1,268.8 L556.8,269.3 L558.5,271.3 L561.1,265.3 L563.6,267.9 L565.4,268.9 L567.1,267.0 L568.8,267.0 L570.5,268.7 L572.2,266.9 L573.9,267.9 L575.6,268.0 L577.3,269.3 L579.0,268.7 L580.7,269.3 L582.4,269.6 L584.1,271.2 L585.8,269.6 L587.5,270.0 L589.3,271.3 L591.4,270.6 L593.5,269.6 L595.7,272.6 L597.8,273.5 L599.5,271.8 L601.2,270.4 L602.9,271.0 L604.6,269.6 L607.2,267.0 L609.7,268.7 L611.4,268.6 L613.2,267.1 L614.9,268.7 L616.6,265.3 L618.3,266.6 L620.0,263.6 L621.7,267.7 L623.4,269.6 L625.1,270.3 L626.8,267.0 L628.5,266.6 L630.2,264.5 L631.9,266.5 L633.6,267.9 L635.3,265.5 L637.1,266.2 L638.8,268.9 L640.5,268.4 L642.2,267.0 L643.9,268.8 L645.6,269.6 L647.3,269.2 L649.0,272.2 L650.7,271.3 L652.4,270.7 L654.1,271.3 L655.8,270.1 L657.5,269.6 L659.2,272.3 L661.0,273.0 L662.7,271.9 L664.4,270.4 L665.0,270.3 L666.7,269.1 L668.4,271.6 L670.1,270.3 L671.8,271.1 L673.5,271.2 L675.2,269.5 L676.9,267.5 L678.7,270.4 L680.4,271.9 L682.1,270.3 L683.8,267.9 L685.5,267.7 L687.2,267.2 L688.9,270.9 L690.6,270.3 L692.3,270.5 L694.0,272.0 L696.6,274.6 L699.1,272.9 L700.8,273.3 L702.6,274.6 L704.3,273.5 L706.0,269.5 L707.7,268.5 L709.4,268.6 L711.1,268.1 L712.8,270.3 L714.5,268.1 L716.2,268.6 L717.9,269.2 L719.6,271.2 L721.3,270.9 L723.0,268.3 L724.7,267.7 L726.5,270.3 L728.2,270.3 L730.7,266.0 L732.9,263.6 L735.0,265.2 L736.7,265.3 L738.4,267.7 L740.1,269.2 L741.8,269.5 L743.5,268.5 L745.2,267.7 L746.9,266.5 L748.6,265.2 L750.4,268.5 L752.1,267.7 L753.8,267.0 L755.5,266.9 L757.2,268.6 L758.9,266.5 L760.6,268.6 L762.3,269.8 L764.0,271.2 L765.7,267.7 L767.4,266.0 L770.0,262.6 L772.5,267.7 L775.1,264.3 L776.8,260.4 L778.5,256.7 L781.1,262.6 L782.8,262.9 L784.5,267.7 L786.2,264.6 L787.9,266.0 L789.6,266.3 L791.3,267.7 L793.0,266.4 L794.7,262.6 L796.4,264.3 L798.2,267.7 L799.9,268.4 L801.6,265.2 L804.1,271.2 L806.7,262.6 L808.4,259.2 L810.1,254.9 L811.8,258.8 L813.5,263.5 L816.1,260.1 L817.8,255.8 L819.5,249.0 L822.1,260.1 L823.8,255.0 L825.5,252.4 L827.2,251.6 L828.9,249.8 L830.0,247.8 L831.7,248.1 L833.4,245.2 L835.1,247.1 L836.8,248.6 L838.5,246.1 L840.2,245.2 L841.9,242.9 L843.7,244.4 L845.4,249.8 L847.1,254.6 L849.6,247.8 L852.2,251.2 L854.7,242.7 L857.3,254.6 L859.0,248.5 L860.7,245.2 L862.4,240.4 L864.1,236.7 L866.7,247.8 L869.2,242.7 L871.0,232.6 L872.7,222.2 L874.4,232.4 L876.9,234.1 L879.5,247.8 L881.2,255.8 L882.9,259.7 L884.6,268.3 L886.3,264.4 L888.0,258.9 L890.6,268.3 L893.1,264.8 L895.7,270.0 L898.3,268.3 L900.0,269.2 L901.7,270.0 L903.4,266.6 L905.1,269.5 L906.8,269.1 L908.5,267.8 L910.2,268.3 L911.9,268.2 L913.6,269.1 L915.3,270.4 L917.0,270.0 L918.7,269.4 L920.4,268.3 L922.2,267.8 L923.9,270.0 L925.6,268.7 L927.3,268.3 L929.0,271.0 L930.7,270.8 L932.4,268.8 L934.1,269.1 L935.8,271.8 L937.5,272.5 L939.2,271.7 L940.9,275.1 L942.6,273.8 L944.3,268.3 L946.0,264.8 L947.7,271.7 L949.5,273.4 L951.2,273.4 L952.9,269.1 L955.0,271.3 L957.1,275.1 L959.7,247.8 L962.3,254.6 L964.8,244.4 L966.5,258.0 L968.2,251.2 L969.9,261.4 L971.6,242.7 L973.3,261.4 L975.1,285.3 L977.7,253.3 L978.8,206.4 L980.9,217.0 L982.0,261.8 L984.1,206.4 L986.3,214.9 L988.4,253.3 L990.5,232.0 L992.7,206.4 L994.8,225.6 L996.9,240.5 L999.1,249.0 L1001.2,210.6 L1003.3,206.4 L1005.5,232.0 L1007.6,202.1 L1009.7,210.6 L1011.9,197.8 L1014.0,202.1 L1016.1,189.3 L1018.3,197.8 L1020.4,221.3 L1022.5,210.6 L1024.7,232.0 L1026.8,202.1 L1028.9,189.3 L1031.1,178.7 L1033.2,214.9 L1035.3,193.6 L1037.5,202.1 L1039.6,189.3 L1041.7,214.9 L1043.9,178.7 L1046.0,193.6 L1048.1,210.6 L1050.3,189.3 L1052.4,202.1 L1054.5,187.2 L1056.7,193.6 L1058.8,225.6 L1060.9,202.1 L1063.1,187.2 L1065.2,189.3 L1067.3,217.0 L1069.5,185.1 L1071.6,189.3 L1073.7,197.8 L1075.9,187.2 L1078.0,189.3 L1080.1,180.8 L1082.3,187.2 L1084.4,189.3 L1086.5,206.4 L1088.7,193.6 L1090.8,185.1 L1092.9,189.3 L1095.1,206.4 L1097.2,180.8 L1099.3,210.6 L1101.5,202.1 L1103.6,185.1 L1105.7,193.6 L1107.8,202.1 L1110.0,206.4 L1112.1,210.6 L1114.2,227.7 L1116.4,210.6 L1118.5,204.2 L1120.6,172.3 L1122.8,206.4 L1124.9,219.2 L1127.0,234.1 L1129.2,217.0 L1131.3,206.4 L1133.4,202.1 L1135.6,193.6 L1137.7,200.0 L1139.8,176.5 L1142.0,193.6 L1144.1,185.1 L1146.2,189.3 L1147.3,274.6 L1149.4,176.5 L1150.5,178.7 L1152.6,189.3 L1154.8,202.1 L1156.9,197.8 L1159.0,193.6 L1161.2,212.8 L1163.3,202.1 L1165.4,189.3 L1167.6,193.6 L1169.7,197.8 L1171.8,202.1 L1174.0,206.4 L1176.1,210.6 L1178.2,223.4 L1180.4,206.4 L1182.5,210.6 L1184.6,197.8 L1186.8,217.0 L1188.9,193.6 L1191.0,185.1 L1193.2,176.5 L1195.3,189.3 L1197.4,193.6 L1190.0,180.8 L1192.1,178.7 L1194.3,193.6 L1196.4,185.1 L1198.5,202.1 L1200.7,206.4 L1202.8,210.6 L1204.9,208.5 L1207.1,214.9 L1209.2,193.6 L1211.3,191.5 L1213.5,193.6 L1215.6,189.3 L1217.7,172.3 L1219.9,197.8 L1222.0,202.1 L1224.1,193.6 L1226.3,191.5 L1228.4,193.6 L1230.5,189.3 L1232.7,178.7 L1234.8,170.1 L1236.9,189.3 L1238.0,168.0 L1240.1,214.9 L1242.3,202.1 L1245.5,176.5 L1248.7,180.8 L1251.9,185.1 L1254.0,193.6 L1256.1,196.5 L1258.3,193.6 L1261.5,223.4 L1263.6,214.9 L1265.7,206.4 L1268.9,202.1 L1271.1,176.5 L1273.2,206.4 L1275.3,189.3 L1277.5,189.3 L1279.6,202.1 L1281.7,189.3 L1283.9,244.8 L1286.0,236.2 L1288.1,227.7 L1290.3,193.6 L1292.4,217.0 L1294.5,202.1 L1296.7,219.2 L1298.8,185.1 L1300.9,206.4 L1303.1,210.6 L1305.2,234.1 L1307.3,244.8 L1309.5,206.4 L1310.5,253.3 L1311.6,281.0 L1313.7,257.6 L1315.9,253.3 L1318.0,266.1 L1320.1,257.6 L1322.3,266.1 L1324.4,274.6 L1325.3,272.9 L1327.6,272.4 L1329.9,269.1 L1333.0,272.9 L1336.1,269.9 L1339.1,273.7 L1341.5,271.3 L1343.8,272.9 L1345.7,271.4 L1347.6,272.1 L1349.5,274.1 L1351.4,271.4 L1354.5,275.2 L1357.6,272.9 L1360.6,269.9 L1363.7,272.9 L1365.8,270.8 L1367.8,269.8 L1369.9,271.4 L1371.9,271.0 L1374.0,270.3 L1376.0,272.9 L1378.1,272.0 L1380.1,272.1 L1382.2,271.4 L1384.1,271.3 L1386.0,270.1 L1387.9,269.8 L1389.8,272.2 L1391.7,273.8 L1393.7,272.3 L1395.6,272.7 L1397.5,272.9 L1399.6,273.3 L1401.6,274.8 L1403.7,274.5 L1406.7,277.5 L1409.8,271.4 L1412.9,274.5 L1415.9,271.4 L1418.2,274.4 L1420.5,273.7 L1422.8,274.8 L1425.2,272.9 L1428.2,276.0 L1431.3,270.6 L1434.4,271.4 L1437.4,269.9 L1440.5,272.9 L1443.6,271.4 L1446.7,273.7 L1449.7,279.1 L1452.8,276.0 L1455.1,281.4 L1457.4,273.7 L1459.2,275.5 L1461.0,274.5 L1462.8,276.0" fill="none" stroke="#ff7f0e" stroke-width="2.1" stroke-linejoin="round"/>
</svg>
<rect x="116.5" y="38.5" width="1346.0" height="480.0" fill="none" stroke="#000" stroke-width="1.1"/>
<path d="M111.60,93.50H116.5M111.60,182.50H116.5M111.60,271.50H116.5M111.60,361.50H116.5M111.60,450.50H116.5M116.50,518.5V523.40M284.50,518.5V523.40M452.50,518.5V523.40M621.50,518.5V523.40M789.50,518.5V523.40M957.50,518.5V523.40M1125.50,518.5V523.40M1294.50,518.5V523.40" stroke="#000" stroke-width="1.1" fill="none"/>
<rect x="1047.5" y="48.90" width="406" height="79.4" rx="3" ry="3" fill="#fff" fill-opacity="0.8" stroke="#cccccc" stroke-opacity="0.8" stroke-width="1.1"/>
<circle cx="1073.1" cy="63.40" r="2.6" fill="#1f77b4"/>
<path d="M1053.1,102.00H1091.9" stroke="#ff7f0e" stroke-width="2.1"/>
<text transform="translate(1105.67,68.72) scale(0.2187,0.1829)" font-size="100" >Raw Data</text>
<text transform="translate(1105.63,95.72) scale(0.2245,0.1797)" font-size="100" >Butterworth Filtered Data</text>
<text transform="translate(1105.87,115.39) scale(0.2266,0.1670)" font-size="100" >(N=6, Tc=3.3333 min, Type: low)</text>
<rect x="834.0" y="575.5" width="514.0" height="479.0" fill="#e6e6e6"/>
<path d="M834.5,575.5V1054.5M1347.5,575.5V1054.5" stroke="#dedede" stroke-width="1"/>
<path d="M284.50,1054.5V575.5M452.50,1054.5V575.5M621.50,1054.5V575.5M789.50,1054.5V575.5M957.50,1054.5V575.5M1125.50,1054.5V575.5M1294.50,1054.5V575.5M116.5,617.50H1462.5M116.5,721.50H1462.5M116.5,825.50H1462.5M116.5,929.50H1462.5M116.5,1033.50H1462.5" stroke="#b0b0b0" stroke-width="1.11" stroke-dasharray="1.11,1.83" fill="none"/>
<svg x="116.5" y="575.5" width="1346.0" height="479.0" viewBox="116.5 575.5 1346.0 479.0" overflow="hidden">
<g fill="#1f77b4">
<path d="M116.1,962.9 L120.2,965.0 L123.3,979.3 L126.4,993.6 L130.5,979.3 L134.6,981.3 L136.6,993.6 L140.7,971.1 L144.8,981.3 L148.9,993.6 L155.1,971.1 L159.1,991.6 L163.2,960.9 L167.3,973.2 L173.5,975.2 L179.6,952.7 L183.7,960.9 L187.8,971.1 L191.9,952.7 L196.0,971.1 L200.1,960.9 L205.2,946.5 L210.3,944.5 L214.4,952.7 L218.5,971.1 L222.6,934.2 L226.7,924.0 L232.9,926.1 L237.0,952.7 L241.1,936.3 L245.2,924.0 L251.3,919.9 L257.4,919.9 L264.6,924.0 L267.7,924.0 L273.8,922.0 L280.0,944.5 L284.1,930.2 L290.2,932.2 L294.3,926.1 L297.6,922.3 L303.7,922.1 L309.9,901.6 L316.0,889.3 L322.2,881.2 L328.3,889.3 L334.4,897.5 L340.6,877.1 L348.8,881.2 L357.0,873.0 L363.1,879.1 L371.3,893.4 L377.4,901.6 L385.6,889.3 L391.8,909.8 L397.9,909.8 L404.1,905.7 L410.2,879.1 L418.4,889.3 L426.6,901.6 L430.7,934.4 L434.8,942.6 L443.0,934.4 L447.1,920.1 L451.2,926.2 L455.3,940.5 L461.4,938.5 L465.5,920.1 L467.0,870.8 L473.1,852.1 L481.3,841.8 L487.4,852.1 L495.6,831.6 L503.8,837.7 L510.0,841.8 L516.1,845.9 L524.3,837.7 L532.5,852.1 L538.6,841.8 L544.8,862.3 L550.9,862.3 L557.1,852.1 L565.3,848.0 L571.4,843.9 L577.5,831.6 L580.0,823.3 L581.5,835.0 L588.7,799.2 L595.8,806.3 L603.0,801.6 L610.2,811.1 L617.3,849.4 L626.9,854.1 L631.7,811.1 L638.8,787.2 L646.0,806.3 L655.6,858.9 L660.3,830.2 L665.1,823.1 L672.3,858.9 L679.5,823.1 L684.2,818.3 L691.4,858.9 L698.6,882.8 L699.3,911.2 L707.5,913.0 L715.7,891.4 L723.9,904.6 L732.1,899.7 L736.2,877.2 L740.2,867.0 L744.3,856.7 L752.5,846.5 L760.7,842.4 L768.9,846.5 L777.1,867.0 L781.2,893.6 L789.4,899.7 L797.6,901.8 L805.8,895.6 L814.0,887.4 L822.2,893.6 L830.4,895.6 L831.2,876.2 L832.9,883.1 L838.0,894.1 L841.4,907.8 L848.3,912.9 L853.4,919.7 L858.5,931.7 L860.2,945.3 L863.6,965.8 L867.0,979.5 L872.2,988.0 L875.6,999.9 L880.7,1008.5 L882.4,996.5 L887.5,996.5 L892.6,999.9 L896.0,1008.5 L902.9,1013.6 L909.7,1015.3 L916.5,1017.0 L923.3,1017.0 L926.8,1020.4 L933.6,1023.8 L940.4,1025.5 L950.6,1026.4 L967.7,1027.2 L980.0,1027.2 L1100.0,1027.6 L1200.0,1027.8 L1290.0,1028.3 L1321.4,1028.3 L1324.1,1027.0 L1328.2,1029.0 L1336.4,1027.0 L1341.9,1025.6 L1347.4,1026.3 L1354.2,1020.8 L1356.9,1023.5 L1361.0,1022.9 L1366.5,1020.8 L1371.9,1020.8 L1377.4,1020.1 L1382.9,1014.7 L1388.3,1011.9 L1389.7,994.2 L1393.8,994.2 L1395.2,1006.5 L1400.6,1009.2 L1403.4,1003.8 L1407.5,1001.7 L1410.2,1007.8 L1412.9,988.7 L1418.4,992.8 L1421.1,988.7 L1425.2,986.0 L1427.9,981.9 L1429.3,957.3 L1432.0,960.1 L1434.8,969.6 L1436.8,981.9 L1440.2,982.6 L1445.7,983.3 L1449.8,986.0 L1453.9,984.6 L1458.0,977.8 L1459.3,931.4 L1461.4,930.0 L1462.8,927.3 L1462.8,1027.6 L1458.0,1028.3 L1451.2,1029.7 L1444.3,1030.4 L1440.2,1029.0 L1433.4,1029.7 L1426.6,1030.4 L1412.9,1031.1 L1399.3,1031.1 L1392.4,1031.7 L1385.6,1033.1 L1371.9,1034.5 L1351.5,1035.2 L1331.0,1035.8 L1290.0,1035.8 L1200.0,1035.7 L1100.0,1035.5 L980.0,1034.1 L950.6,1034.1 L933.6,1034.1 L916.5,1034.1 L908.0,1034.1 L899.5,1033.2 L890.9,1032.4 L882.4,1030.6 L875.6,1027.2 L868.7,1022.1 L861.9,1013.6 L855.1,1008.5 L848.3,1005.1 L839.7,1001.6 L826.3,1004.3 L818.1,1008.4 L809.9,1010.4 L801.7,1023.8 L793.5,1022.7 L785.3,1016.6 L777.1,1010.4 L768.9,1008.4 L760.7,1008.4 L752.5,1016.6 L748.4,1010.4 L740.2,1016.6 L732.1,1019.7 L723.9,1018.6 L715.7,1016.6 L707.5,1020.7 L699.3,1022.7 L691.1,1018.6 L682.9,1020.7 L674.7,1022.7 L666.5,1016.6 L658.3,1016.6 L648.1,1016.6 L641.9,1010.4 L631.7,1014.5 L621.4,1008.4 L613.3,1014.5 L601.0,1016.6 L592.8,1000.2 L584.6,1006.3 L569.4,1011.5 L561.2,1016.6 L553.0,1010.4 L540.7,1012.5 L532.5,1019.7 L524.3,1011.5 L518.2,1010.4 L510.0,1014.5 L499.7,1011.5 L493.6,1000.2 L483.3,1008.4 L473.1,1011.5 L462.9,1014.5 L456.7,1019.7 L450.6,1018.6 L442.4,1017.6 L436.2,1014.5 L428.1,1013.5 L421.9,1014.5 L411.7,1012.5 L401.4,1011.5 L391.2,1010.4 L381.0,1009.4 L370.7,1012.5 L360.5,1004.3 L354.3,1010.4 L348.2,1006.3 L340.0,1004.3 L337.3,1006.3 L331.2,1004.3 L325.0,1000.2 L314.8,1008.4 L307.6,1016.6 L302.5,1010.4 L294.3,1006.3 L288.2,1012.5 L284.1,1012.5 L277.9,1008.4 L271.8,1006.3 L265.6,1006.3 L257.4,1012.5 L251.3,1017.6 L245.2,1016.6 L237.0,1019.7 L228.8,1016.6 L220.6,1018.6 L212.4,1022.7 L204.2,1026.8 L198.1,1025.8 L187.8,1023.8 L177.6,1022.7 L171.4,1028.9 L165.3,1022.7 L159.1,1025.8 L151.0,1024.8 L142.8,1022.7 L136.6,1028.9 L130.5,1026.8 L122.3,1025.8 L116.1,1022.7Z"/>
<circle cx="117.5" cy="947.8" r="2.6"/><circle cx="119.6" cy="955.7" r="2.6"/><circle cx="131.3" cy="966.9" r="2.6"/><circle cx="133.6" cy="966.9" r="2.6"/><circle cx="137.8" cy="978.5" r="2.6"/><circle cx="147.0" cy="972.1" r="2.6"/><circle cx="147.4" cy="974.6" r="2.6"/><circle cx="149.0" cy="974.9" r="2.6"/><circle cx="151.4" cy="973.0" r="2.6"/><circle cx="152.8" cy="971.2" r="2.6"/><circle cx="165.4" cy="949.9" r="2.6"/><circle cx="170.7" cy="962.3" r="2.6"/><circle cx="172.0" cy="957.9" r="2.6"/><circle cx="180.6" cy="940.2" r="2.6"/><circle cx="182.5" cy="949.1" r="2.6"/><circle cx="183.7" cy="948.5" r="2.6"/><circle cx="188.7" cy="959.3" r="2.6"/><circle cx="191.8" cy="942.3" r="2.6"/><circle cx="207.1" cy="936.6" r="2.6"/><circle cx="208.4" cy="928.9" r="2.6"/><circle cx="211.3" cy="937.2" r="2.6"/><circle cx="214.0" cy="933.5" r="2.6"/><circle cx="217.8" cy="949.7" r="2.6"/><circle cx="221.7" cy="935.8" r="2.6"/><circle cx="224.6" cy="919.6" r="2.6"/><circle cx="229.9" cy="913.0" r="2.6"/><circle cx="231.5" cy="912.1" r="2.6"/><circle cx="232.9" cy="916.4" r="2.6"/><circle cx="235.0" cy="917.5" r="2.6"/><circle cx="247.1" cy="914.5" r="2.6"/><circle cx="248.8" cy="906.8" r="2.6"/><circle cx="249.2" cy="911.8" r="2.6"/><circle cx="250.5" cy="911.1" r="2.6"/><circle cx="252.0" cy="910.4" r="2.6"/><circle cx="254.5" cy="910.0" r="2.6"/><circle cx="256.2" cy="907.2" r="2.6"/><circle cx="258.8" cy="909.4" r="2.6"/><circle cx="261.5" cy="908.6" r="2.6"/><circle cx="263.2" cy="906.3" r="2.6"/><circle cx="265.5" cy="910.9" r="2.6"/><circle cx="267.9" cy="911.3" r="2.6"/><circle cx="268.6" cy="913.8" r="2.6"/><circle cx="273.4" cy="909.8" r="2.6"/><circle cx="274.5" cy="911.6" r="2.6"/><circle cx="282.2" cy="926.8" r="2.6"/><circle cx="284.8" cy="920.4" r="2.6"/><circle cx="287.2" cy="921.0" r="2.6"/><circle cx="289.0" cy="917.9" r="2.6"/><circle cx="291.9" cy="921.1" r="2.6"/><circle cx="295.4" cy="911.8" r="2.6"/><circle cx="299.2" cy="905.4" r="2.6"/><circle cx="300.7" cy="913.5" r="2.6"/><circle cx="301.5" cy="900.8" r="2.6"/><circle cx="302.1" cy="908.4" r="2.6"/><circle cx="305.4" cy="895.8" r="2.6"/><circle cx="307.8" cy="892.3" r="2.6"/><circle cx="311.7" cy="877.9" r="2.6"/><circle cx="312.9" cy="874.8" r="2.6"/><circle cx="313.7" cy="881.4" r="2.6"/><circle cx="314.7" cy="873.5" r="2.6"/><circle cx="315.6" cy="868.6" r="2.6"/><circle cx="316.4" cy="872.7" r="2.6"/><circle cx="317.2" cy="870.4" r="2.6"/><circle cx="318.6" cy="870.4" r="2.6"/><circle cx="319.9" cy="872.9" r="2.6"/><circle cx="320.1" cy="860.4" r="2.6"/><circle cx="322.7" cy="869.2" r="2.6"/><circle cx="324.2" cy="870.5" r="2.6"/><circle cx="330.1" cy="875.6" r="2.6"/><circle cx="331.5" cy="875.3" r="2.6"/><circle cx="332.0" cy="879.0" r="2.6"/><circle cx="335.3" cy="878.8" r="2.6"/><circle cx="336.7" cy="874.1" r="2.6"/><circle cx="339.2" cy="864.1" r="2.6"/><circle cx="343.3" cy="856.5" r="2.6"/><circle cx="344.2" cy="855.7" r="2.6"/><circle cx="352.4" cy="858.7" r="2.6"/><circle cx="353.6" cy="862.0" r="2.6"/><circle cx="354.0" cy="852.2" r="2.6"/><circle cx="355.2" cy="856.0" r="2.6"/><circle cx="357.4" cy="855.8" r="2.6"/><circle cx="358.9" cy="861.8" r="2.6"/><circle cx="359.4" cy="860.5" r="2.6"/><circle cx="360.6" cy="861.5" r="2.6"/><circle cx="362.9" cy="860.8" r="2.6"/><circle cx="364.0" cy="861.9" r="2.6"/><circle cx="367.0" cy="871.9" r="2.6"/><circle cx="370.6" cy="868.4" r="2.6"/><circle cx="374.9" cy="882.8" r="2.6"/><circle cx="375.6" cy="876.2" r="2.6"/><circle cx="381.3" cy="883.1" r="2.6"/><circle cx="383.8" cy="876.9" r="2.6"/><circle cx="384.9" cy="876.4" r="2.6"/><circle cx="386.0" cy="866.6" r="2.6"/><circle cx="388.3" cy="876.5" r="2.6"/><circle cx="389.3" cy="876.8" r="2.6"/><circle cx="391.4" cy="885.9" r="2.6"/><circle cx="392.1" cy="894.3" r="2.6"/><circle cx="393.5" cy="892.9" r="2.6"/><circle cx="398.1" cy="895.3" r="2.6"/><circle cx="399.5" cy="888.3" r="2.6"/><circle cx="400.4" cy="889.5" r="2.6"/><circle cx="402.1" cy="890.0" r="2.6"/><circle cx="405.9" cy="887.5" r="2.6"/><circle cx="406.1" cy="880.0" r="2.6"/><circle cx="407.5" cy="873.3" r="2.6"/><circle cx="408.8" cy="875.2" r="2.6"/><circle cx="410.7" cy="858.7" r="2.6"/><circle cx="411.6" cy="862.6" r="2.6"/><circle cx="413.1" cy="865.0" r="2.6"/><circle cx="414.3" cy="871.5" r="2.6"/><circle cx="415.4" cy="872.6" r="2.6"/><circle cx="416.8" cy="870.9" r="2.6"/><circle cx="418.5" cy="868.7" r="2.6"/><circle cx="419.2" cy="867.1" r="2.6"/><circle cx="420.7" cy="876.0" r="2.6"/><circle cx="421.8" cy="879.1" r="2.6"/><circle cx="423.4" cy="873.2" r="2.6"/><circle cx="425.0" cy="880.1" r="2.6"/><circle cx="427.0" cy="883.8" r="2.6"/><circle cx="429.3" cy="907.5" r="2.6"/><circle cx="430.6" cy="909.4" r="2.6"/><circle cx="434.0" cy="924.2" r="2.6"/><circle cx="439.5" cy="921.9" r="2.6"/><circle cx="441.5" cy="912.0" r="2.6"/><circle cx="442.7" cy="913.6" r="2.6"/><circle cx="446.2" cy="905.3" r="2.6"/><circle cx="449.2" cy="910.0" r="2.6"/><circle cx="450.5" cy="911.4" r="2.6"/><circle cx="451.4" cy="909.5" r="2.6"/><circle cx="452.4" cy="914.1" r="2.6"/><circle cx="456.1" cy="923.0" r="2.6"/><circle cx="458.4" cy="921.9" r="2.6"/><circle cx="459.0" cy="921.4" r="2.6"/><circle cx="462.3" cy="911.2" r="2.6"/><circle cx="464.5" cy="913.5" r="2.6"/><circle cx="466.7" cy="887.9" r="2.6"/><circle cx="467.5" cy="855.5" r="2.6"/><circle cx="468.7" cy="844.5" r="2.6"/><circle cx="469.6" cy="848.4" r="2.6"/><circle cx="470.3" cy="849.5" r="2.6"/><circle cx="471.2" cy="838.6" r="2.6"/><circle cx="472.8" cy="824.1" r="2.6"/><circle cx="474.2" cy="824.6" r="2.6"/><circle cx="475.4" cy="829.4" r="2.6"/><circle cx="478.0" cy="815.5" r="2.6"/><circle cx="481.4" cy="818.3" r="2.6"/><circle cx="482.4" cy="811.7" r="2.6"/><circle cx="483.0" cy="824.9" r="2.6"/><circle cx="484.2" cy="827.5" r="2.6"/><circle cx="485.1" cy="815.6" r="2.6"/><circle cx="486.1" cy="812.8" r="2.6"/><circle cx="487.1" cy="819.2" r="2.6"/><circle cx="488.2" cy="823.0" r="2.6"/><circle cx="489.5" cy="820.4" r="2.6"/><circle cx="490.6" cy="826.5" r="2.6"/><circle cx="493.5" cy="808.4" r="2.6"/><circle cx="494.5" cy="817.5" r="2.6"/><circle cx="495.7" cy="810.7" r="2.6"/><circle cx="496.0" cy="802.7" r="2.6"/><circle cx="497.4" cy="799.8" r="2.6"/><circle cx="498.4" cy="800.5" r="2.6"/><circle cx="501.5" cy="805.4" r="2.6"/><circle cx="503.0" cy="817.3" r="2.6"/><circle cx="505.0" cy="807.7" r="2.6"/><circle cx="506.6" cy="806.1" r="2.6"/><circle cx="507.1" cy="806.4" r="2.6"/><circle cx="508.4" cy="814.2" r="2.6"/><circle cx="510.9" cy="809.4" r="2.6"/><circle cx="511.6" cy="822.6" r="2.6"/><circle cx="514.0" cy="824.1" r="2.6"/><circle cx="514.7" cy="821.5" r="2.6"/><circle cx="516.4" cy="809.2" r="2.6"/><circle cx="517.5" cy="810.4" r="2.6"/><circle cx="519.0" cy="809.1" r="2.6"/><circle cx="520.4" cy="815.1" r="2.6"/><circle cx="522.9" cy="820.7" r="2.6"/><circle cx="524.6" cy="801.8" r="2.6"/><circle cx="525.7" cy="813.9" r="2.6"/><circle cx="527.9" cy="806.3" r="2.6"/><circle cx="528.8" cy="807.5" r="2.6"/><circle cx="531.4" cy="814.3" r="2.6"/><circle cx="532.1" cy="828.6" r="2.6"/><circle cx="534.4" cy="828.0" r="2.6"/><circle cx="536.7" cy="827.4" r="2.6"/><circle cx="538.9" cy="808.7" r="2.6"/><circle cx="539.3" cy="813.2" r="2.6"/><circle cx="541.4" cy="820.7" r="2.6"/><circle cx="543.4" cy="823.6" r="2.6"/><circle cx="544.8" cy="827.7" r="2.6"/><circle cx="546.2" cy="826.8" r="2.6"/><circle cx="547.4" cy="830.7" r="2.6"/><circle cx="548.7" cy="838.5" r="2.6"/><circle cx="549.2" cy="837.6" r="2.6"/><circle cx="551.6" cy="828.1" r="2.6"/><circle cx="555.8" cy="834.6" r="2.6"/><circle cx="556.9" cy="826.7" r="2.6"/><circle cx="557.1" cy="824.1" r="2.6"/><circle cx="558.8" cy="820.5" r="2.6"/><circle cx="562.0" cy="820.6" r="2.6"/><circle cx="562.7" cy="830.3" r="2.6"/><circle cx="564.2" cy="821.2" r="2.6"/><circle cx="566.3" cy="829.1" r="2.6"/><circle cx="568.6" cy="811.0" r="2.6"/><circle cx="569.5" cy="812.7" r="2.6"/><circle cx="570.2" cy="809.5" r="2.6"/><circle cx="571.3" cy="817.7" r="2.6"/><circle cx="573.8" cy="809.4" r="2.6"/><circle cx="575.9" cy="809.8" r="2.6"/><circle cx="577.5" cy="795.8" r="2.6"/><circle cx="578.9" cy="802.2" r="2.6"/><circle cx="579.9" cy="805.1" r="2.6"/><circle cx="581.3" cy="806.3" r="2.6"/><circle cx="582.7" cy="796.3" r="2.6"/><circle cx="583.4" cy="806.5" r="2.6"/><circle cx="584.5" cy="785.0" r="2.6"/><circle cx="585.1" cy="787.5" r="2.6"/><circle cx="586.8" cy="788.7" r="2.6"/><circle cx="588.0" cy="776.6" r="2.6"/><circle cx="588.9" cy="779.3" r="2.6"/><circle cx="589.4" cy="778.2" r="2.6"/><circle cx="591.0" cy="779.5" r="2.6"/><circle cx="592.5" cy="779.2" r="2.6"/><circle cx="593.9" cy="771.0" r="2.6"/><circle cx="594.2" cy="777.6" r="2.6"/><circle cx="596.0" cy="780.9" r="2.6"/><circle cx="596.0" cy="771.1" r="2.6"/><circle cx="598.7" cy="777.2" r="2.6"/><circle cx="599.5" cy="779.8" r="2.6"/><circle cx="600.8" cy="783.3" r="2.6"/><circle cx="602.5" cy="772.7" r="2.6"/><circle cx="603.0" cy="764.4" r="2.6"/><circle cx="604.4" cy="772.0" r="2.6"/><circle cx="606.4" cy="768.2" r="2.6"/><circle cx="608.0" cy="785.3" r="2.6"/><circle cx="608.8" cy="779.5" r="2.6"/><circle cx="610.0" cy="772.5" r="2.6"/><circle cx="611.7" cy="781.1" r="2.6"/><circle cx="612.1" cy="798.3" r="2.6"/><circle cx="613.2" cy="794.9" r="2.6"/><circle cx="617.4" cy="825.5" r="2.6"/><circle cx="618.4" cy="816.3" r="2.6"/><circle cx="619.0" cy="812.8" r="2.6"/><circle cx="620.4" cy="825.1" r="2.6"/><circle cx="623.5" cy="823.8" r="2.6"/><circle cx="626.8" cy="827.4" r="2.6"/><circle cx="627.9" cy="830.8" r="2.6"/><circle cx="628.7" cy="805.5" r="2.6"/><circle cx="629.4" cy="809.3" r="2.6"/><circle cx="631.2" cy="778.6" r="2.6"/><circle cx="634.3" cy="766.9" r="2.6"/><circle cx="636.1" cy="763.5" r="2.6"/><circle cx="637.1" cy="764.6" r="2.6"/><circle cx="638.1" cy="761.9" r="2.6"/><circle cx="642.3" cy="759.3" r="2.6"/><circle cx="644.2" cy="776.4" r="2.6"/><circle cx="646.4" cy="784.7" r="2.6"/><circle cx="647.6" cy="780.6" r="2.6"/><circle cx="649.8" cy="795.7" r="2.6"/><circle cx="650.0" cy="802.2" r="2.6"/><circle cx="652.8" cy="813.3" r="2.6"/><circle cx="654.6" cy="813.9" r="2.6"/><circle cx="656.6" cy="820.7" r="2.6"/><circle cx="658.8" cy="806.3" r="2.6"/><circle cx="659.2" cy="811.2" r="2.6"/><circle cx="661.0" cy="806.3" r="2.6"/><circle cx="662.4" cy="802.8" r="2.6"/><circle cx="663.6" cy="794.9" r="2.6"/><circle cx="667.5" cy="801.6" r="2.6"/><circle cx="672.7" cy="832.1" r="2.6"/><circle cx="673.6" cy="829.0" r="2.6"/><circle cx="675.3" cy="819.9" r="2.6"/><circle cx="676.9" cy="815.9" r="2.6"/><circle cx="677.5" cy="813.8" r="2.6"/><circle cx="678.6" cy="807.9" r="2.6"/><circle cx="679.8" cy="796.1" r="2.6"/><circle cx="680.2" cy="793.0" r="2.6"/><circle cx="682.8" cy="792.2" r="2.6"/><circle cx="683.4" cy="780.6" r="2.6"/><circle cx="685.2" cy="788.8" r="2.6"/><circle cx="686.3" cy="791.6" r="2.6"/><circle cx="687.6" cy="801.0" r="2.6"/><circle cx="689.6" cy="809.7" r="2.6"/><circle cx="690.6" cy="815.8" r="2.6"/><circle cx="691.4" cy="824.8" r="2.6"/><circle cx="694.6" cy="831.5" r="2.6"/><circle cx="695.3" cy="850.4" r="2.6"/><circle cx="696.7" cy="842.4" r="2.6"/><circle cx="700.6" cy="874.4" r="2.6"/><circle cx="701.7" cy="891.4" r="2.6"/><circle cx="702.3" cy="880.6" r="2.6"/><circle cx="703.0" cy="881.3" r="2.6"/><circle cx="705.7" cy="886.2" r="2.6"/><circle cx="707.4" cy="886.7" r="2.6"/><circle cx="708.2" cy="895.1" r="2.6"/><circle cx="712.0" cy="880.4" r="2.6"/><circle cx="713.3" cy="883.2" r="2.6"/><circle cx="715.1" cy="879.6" r="2.6"/><circle cx="716.6" cy="880.5" r="2.6"/><circle cx="740.1" cy="864.9" r="2.6"/><circle cx="741.9" cy="861.2" r="2.6"/><circle cx="743.0" cy="855.1" r="2.6"/><circle cx="755.0" cy="842.2" r="2.6"/><circle cx="756.3" cy="841.5" r="2.6"/><circle cx="760.8" cy="838.3" r="2.6"/><circle cx="764.0" cy="839.8" r="2.6"/><circle cx="765.5" cy="841.6" r="2.6"/><circle cx="768.8" cy="841.8" r="2.6"/><circle cx="771.2" cy="847.2" r="2.6"/><circle cx="794.7" cy="897.9" r="2.6"/><circle cx="808.9" cy="889.3" r="2.6"/><circle cx="811.9" cy="885.9" r="2.6"/>
<circle cx="118.7" cy="960.2" r="2.6"/><circle cx="120.9" cy="957.6" r="2.6"/><circle cx="122.2" cy="968.0" r="2.6"/><circle cx="123.0" cy="973.1" r="2.6"/><circle cx="124.1" cy="975.4" r="2.6"/><circle cx="125.3" cy="986.7" r="2.6"/><circle cx="126.9" cy="992.7" r="2.6"/><circle cx="129.7" cy="985.2" r="2.6"/><circle cx="130.1" cy="977.7" r="2.6"/><circle cx="131.2" cy="971.6" r="2.6"/><circle cx="132.7" cy="980.0" r="2.6"/><circle cx="133.4" cy="971.9" r="2.6"/><circle cx="134.7" cy="977.9" r="2.6"/><circle cx="135.2" cy="976.3" r="2.6"/><circle cx="136.1" cy="987.5" r="2.6"/><circle cx="137.6" cy="987.3" r="2.6"/><circle cx="138.7" cy="985.6" r="2.6"/><circle cx="140.0" cy="980.9" r="2.6"/><circle cx="142.0" cy="971.8" r="2.6"/><circle cx="142.7" cy="974.7" r="2.6"/><circle cx="145.7" cy="973.7" r="2.6"/><circle cx="147.7" cy="988.8" r="2.6"/><circle cx="148.1" cy="982.4" r="2.6"/><circle cx="149.2" cy="992.4" r="2.6"/><circle cx="150.5" cy="988.0" r="2.6"/><circle cx="151.5" cy="977.5" r="2.6"/><circle cx="152.8" cy="975.0" r="2.6"/><circle cx="155.2" cy="965.1" r="2.6"/><circle cx="157.8" cy="974.7" r="2.6"/><circle cx="161.5" cy="972.2" r="2.6"/><circle cx="163.2" cy="958.2" r="2.6"/><circle cx="164.2" cy="961.9" r="2.6"/><circle cx="165.2" cy="967.4" r="2.6"/><circle cx="166.8" cy="967.7" r="2.6"/><circle cx="167.6" cy="969.5" r="2.6"/><circle cx="170.7" cy="970.6" r="2.6"/><circle cx="172.5" cy="976.3" r="2.6"/><circle cx="173.7" cy="975.9" r="2.6"/><circle cx="174.1" cy="972.8" r="2.6"/><circle cx="175.5" cy="969.6" r="2.6"/><circle cx="176.2" cy="958.2" r="2.6"/><circle cx="177.1" cy="960.9" r="2.6"/><circle cx="179.5" cy="954.7" r="2.6"/><circle cx="181.5" cy="953.9" r="2.6"/><circle cx="183.0" cy="958.4" r="2.6"/><circle cx="184.0" cy="959.1" r="2.6"/><circle cx="185.3" cy="957.7" r="2.6"/><circle cx="188.1" cy="969.2" r="2.6"/><circle cx="189.2" cy="967.2" r="2.6"/><circle cx="190.1" cy="956.8" r="2.6"/><circle cx="191.6" cy="956.2" r="2.6"/><circle cx="192.5" cy="954.0" r="2.6"/><circle cx="193.9" cy="958.5" r="2.6"/><circle cx="195.1" cy="968.4" r="2.6"/><circle cx="196.3" cy="967.6" r="2.6"/><circle cx="197.8" cy="965.6" r="2.6"/><circle cx="200.3" cy="959.1" r="2.6"/><circle cx="201.8" cy="952.4" r="2.6"/><circle cx="204.9" cy="946.3" r="2.6"/><circle cx="205.3" cy="942.4" r="2.6"/><circle cx="208.5" cy="941.6" r="2.6"/><circle cx="209.9" cy="940.6" r="2.6"/><circle cx="210.2" cy="938.9" r="2.6"/><circle cx="212.2" cy="948.7" r="2.6"/><circle cx="213.9" cy="940.9" r="2.6"/><circle cx="214.2" cy="947.1" r="2.6"/><circle cx="215.3" cy="956.8" r="2.6"/><circle cx="218.0" cy="964.7" r="2.6"/><circle cx="219.1" cy="964.1" r="2.6"/><circle cx="220.4" cy="959.8" r="2.6"/><circle cx="221.7" cy="950.4" r="2.6"/><circle cx="223.5" cy="925.7" r="2.6"/><circle cx="225.3" cy="924.1" r="2.6"/><circle cx="227.2" cy="922.0" r="2.6"/><circle cx="229.6" cy="915.9" r="2.6"/><circle cx="230.6" cy="916.9" r="2.6"/><circle cx="231.3" cy="920.2" r="2.6"/><circle cx="234.1" cy="931.4" r="2.6"/><circle cx="236.3" cy="945.6" r="2.6"/><circle cx="238.0" cy="944.3" r="2.6"/><circle cx="240.5" cy="933.3" r="2.6"/><circle cx="241.0" cy="932.6" r="2.6"/><circle cx="242.6" cy="929.6" r="2.6"/><circle cx="243.8" cy="925.2" r="2.6"/><circle cx="244.5" cy="926.2" r="2.6"/><circle cx="247.8" cy="919.5" r="2.6"/><circle cx="248.0" cy="913.3" r="2.6"/><circle cx="249.1" cy="913.7" r="2.6"/><circle cx="252.2" cy="915.7" r="2.6"/><circle cx="253.2" cy="915.8" r="2.6"/><circle cx="256.8" cy="921.7" r="2.6"/><circle cx="258.6" cy="921.6" r="2.6"/><circle cx="259.6" cy="918.7" r="2.6"/><circle cx="262.6" cy="915.8" r="2.6"/><circle cx="264.7" cy="916.2" r="2.6"/><circle cx="267.4" cy="916.8" r="2.6"/><circle cx="268.2" cy="925.2" r="2.6"/><circle cx="270.2" cy="917.2" r="2.6"/><circle cx="271.6" cy="921.8" r="2.6"/><circle cx="272.5" cy="915.4" r="2.6"/><circle cx="273.8" cy="914.1" r="2.6"/><circle cx="274.5" cy="919.1" r="2.6"/><circle cx="275.8" cy="928.1" r="2.6"/><circle cx="277.0" cy="931.3" r="2.6"/><circle cx="278.6" cy="938.6" r="2.6"/><circle cx="280.2" cy="938.2" r="2.6"/><circle cx="281.8" cy="936.4" r="2.6"/><circle cx="282.2" cy="933.2" r="2.6"/><circle cx="283.0" cy="927.2" r="2.6"/><circle cx="284.7" cy="929.6" r="2.6"/><circle cx="285.7" cy="931.7" r="2.6"/><circle cx="286.6" cy="924.3" r="2.6"/><circle cx="288.3" cy="926.5" r="2.6"/><circle cx="291.5" cy="925.8" r="2.6"/><circle cx="292.0" cy="925.7" r="2.6"/><circle cx="295.3" cy="923.2" r="2.6"/><circle cx="296.4" cy="916.8" r="2.6"/><circle cx="298.3" cy="918.4" r="2.6"/><circle cx="299.5" cy="912.6" r="2.6"/><circle cx="300.6" cy="925.0" r="2.6"/><circle cx="302.1" cy="920.8" r="2.6"/><circle cx="303.2" cy="920.0" r="2.6"/><circle cx="304.9" cy="916.0" r="2.6"/><circle cx="305.1" cy="905.6" r="2.6"/><circle cx="308.9" cy="905.8" r="2.6"/><circle cx="309.7" cy="902.6" r="2.6"/><circle cx="310.6" cy="895.3" r="2.6"/><circle cx="311.2" cy="896.0" r="2.6"/><circle cx="312.7" cy="885.2" r="2.6"/><circle cx="313.7" cy="892.2" r="2.6"/><circle cx="314.0" cy="893.5" r="2.6"/><circle cx="316.6" cy="877.4" r="2.6"/><circle cx="317.3" cy="881.6" r="2.6"/><circle cx="320.5" cy="884.2" r="2.6"/><circle cx="322.2" cy="878.8" r="2.6"/><circle cx="323.8" cy="882.1" r="2.6"/><circle cx="324.8" cy="873.5" r="2.6"/><circle cx="325.2" cy="872.6" r="2.6"/><circle cx="326.1" cy="882.2" r="2.6"/><circle cx="327.6" cy="879.8" r="2.6"/><circle cx="328.9" cy="877.8" r="2.6"/><circle cx="329.5" cy="891.1" r="2.6"/><circle cx="330.9" cy="887.6" r="2.6"/><circle cx="331.2" cy="887.8" r="2.6"/><circle cx="332.9" cy="888.8" r="2.6"/><circle cx="333.6" cy="888.9" r="2.6"/><circle cx="334.6" cy="887.2" r="2.6"/><circle cx="335.1" cy="895.2" r="2.6"/><circle cx="338.3" cy="882.8" r="2.6"/><circle cx="340.0" cy="874.9" r="2.6"/><circle cx="340.5" cy="874.4" r="2.6"/><circle cx="341.5" cy="864.7" r="2.6"/><circle cx="342.7" cy="874.9" r="2.6"/><circle cx="343.4" cy="877.4" r="2.6"/><circle cx="344.2" cy="868.6" r="2.6"/><circle cx="345.5" cy="872.9" r="2.6"/><circle cx="347.7" cy="871.8" r="2.6"/><circle cx="348.2" cy="872.1" r="2.6"/><circle cx="349.1" cy="874.4" r="2.6"/><circle cx="351.7" cy="870.0" r="2.6"/><circle cx="352.2" cy="873.9" r="2.6"/><circle cx="353.3" cy="866.1" r="2.6"/><circle cx="354.8" cy="866.5" r="2.6"/><circle cx="355.2" cy="868.7" r="2.6"/><circle cx="356.8" cy="862.6" r="2.6"/><circle cx="357.0" cy="870.0" r="2.6"/><circle cx="358.4" cy="864.0" r="2.6"/><circle cx="359.6" cy="871.5" r="2.6"/><circle cx="360.2" cy="870.7" r="2.6"/><circle cx="361.5" cy="876.6" r="2.6"/><circle cx="362.1" cy="873.0" r="2.6"/><circle cx="363.7" cy="866.7" r="2.6"/><circle cx="365.0" cy="880.6" r="2.6"/><circle cx="366.4" cy="876.1" r="2.6"/><circle cx="367.1" cy="887.7" r="2.6"/><circle cx="368.3" cy="884.4" r="2.6"/><circle cx="369.8" cy="881.0" r="2.6"/><circle cx="370.4" cy="884.2" r="2.6"/><circle cx="371.9" cy="880.3" r="2.6"/><circle cx="373.5" cy="891.8" r="2.6"/><circle cx="374.8" cy="887.8" r="2.6"/><circle cx="375.6" cy="887.7" r="2.6"/><circle cx="376.7" cy="887.3" r="2.6"/><circle cx="377.3" cy="896.5" r="2.6"/><circle cx="378.7" cy="895.4" r="2.6"/><circle cx="379.9" cy="897.8" r="2.6"/><circle cx="380.1" cy="891.6" r="2.6"/><circle cx="381.4" cy="884.8" r="2.6"/><circle cx="382.3" cy="888.0" r="2.6"/><circle cx="383.9" cy="881.7" r="2.6"/><circle cx="384.8" cy="882.6" r="2.6"/><circle cx="387.0" cy="883.1" r="2.6"/><circle cx="387.7" cy="886.8" r="2.6"/><circle cx="388.1" cy="895.6" r="2.6"/><circle cx="389.9" cy="896.5" r="2.6"/><circle cx="390.2" cy="902.7" r="2.6"/><circle cx="391.9" cy="908.5" r="2.6"/><circle cx="392.9" cy="906.6" r="2.6"/><circle cx="394.0" cy="904.3" r="2.6"/><circle cx="394.8" cy="904.9" r="2.6"/><circle cx="395.9" cy="908.9" r="2.6"/><circle cx="396.6" cy="897.7" r="2.6"/><circle cx="397.8" cy="907.7" r="2.6"/><circle cx="398.3" cy="905.9" r="2.6"/><circle cx="400.0" cy="908.2" r="2.6"/><circle cx="400.9" cy="909.2" r="2.6"/><circle cx="401.7" cy="900.8" r="2.6"/><circle cx="402.1" cy="900.6" r="2.6"/><circle cx="404.7" cy="904.5" r="2.6"/><circle cx="405.1" cy="896.5" r="2.6"/><circle cx="406.8" cy="890.4" r="2.6"/><circle cx="407.3" cy="891.5" r="2.6"/><circle cx="408.0" cy="889.5" r="2.6"/><circle cx="409.2" cy="882.6" r="2.6"/><circle cx="410.8" cy="868.6" r="2.6"/><circle cx="411.9" cy="878.0" r="2.6"/><circle cx="413.6" cy="871.3" r="2.6"/><circle cx="414.2" cy="882.7" r="2.6"/><circle cx="417.1" cy="886.3" r="2.6"/><circle cx="418.2" cy="878.4" r="2.6"/><circle cx="419.9" cy="880.6" r="2.6"/><circle cx="420.0" cy="882.6" r="2.6"/><circle cx="422.4" cy="896.7" r="2.6"/><circle cx="423.9" cy="884.4" r="2.6"/><circle cx="424.7" cy="890.0" r="2.6"/><circle cx="425.8" cy="888.7" r="2.6"/><circle cx="427.3" cy="906.4" r="2.6"/><circle cx="428.0" cy="900.5" r="2.6"/><circle cx="430.0" cy="921.8" r="2.6"/><circle cx="430.8" cy="929.9" r="2.6"/><circle cx="431.0" cy="936.2" r="2.6"/><circle cx="432.2" cy="924.1" r="2.6"/><circle cx="433.2" cy="930.0" r="2.6"/><circle cx="434.9" cy="930.6" r="2.6"/><circle cx="435.0" cy="936.8" r="2.6"/><circle cx="436.9" cy="938.9" r="2.6"/><circle cx="437.2" cy="929.7" r="2.6"/><circle cx="438.4" cy="930.4" r="2.6"/><circle cx="439.4" cy="928.2" r="2.6"/><circle cx="440.2" cy="938.7" r="2.6"/><circle cx="442.1" cy="928.6" r="2.6"/><circle cx="443.0" cy="927.0" r="2.6"/><circle cx="444.2" cy="924.4" r="2.6"/><circle cx="445.1" cy="915.8" r="2.6"/><circle cx="446.1" cy="913.8" r="2.6"/><circle cx="447.8" cy="912.8" r="2.6"/><circle cx="448.5" cy="915.6" r="2.6"/><circle cx="449.5" cy="915.8" r="2.6"/><circle cx="450.6" cy="912.2" r="2.6"/><circle cx="452.9" cy="920.2" r="2.6"/><circle cx="453.5" cy="934.3" r="2.6"/><circle cx="454.0" cy="934.2" r="2.6"/><circle cx="455.0" cy="927.9" r="2.6"/><circle cx="456.5" cy="928.4" r="2.6"/><circle cx="457.5" cy="935.3" r="2.6"/><circle cx="458.9" cy="938.7" r="2.6"/><circle cx="460.7" cy="928.3" r="2.6"/><circle cx="461.8" cy="931.1" r="2.6"/><circle cx="462.9" cy="937.2" r="2.6"/><circle cx="463.5" cy="931.4" r="2.6"/><circle cx="465.0" cy="915.4" r="2.6"/><circle cx="465.1" cy="914.8" r="2.6"/><circle cx="466.3" cy="892.2" r="2.6"/><circle cx="467.0" cy="860.6" r="2.6"/><circle cx="468.9" cy="856.0" r="2.6"/><circle cx="469.4" cy="855.3" r="2.6"/><circle cx="470.8" cy="849.0" r="2.6"/><circle cx="471.4" cy="864.2" r="2.6"/><circle cx="472.9" cy="858.8" r="2.6"/><circle cx="473.3" cy="852.4" r="2.6"/><circle cx="474.3" cy="836.8" r="2.6"/><circle cx="474.2" cy="838.2" r="2.6"/><circle cx="475.7" cy="851.6" r="2.6"/><circle cx="475.9" cy="846.2" r="2.6"/><circle cx="476.0" cy="847.5" r="2.6"/><circle cx="476.0" cy="839.7" r="2.6"/><circle cx="477.9" cy="834.4" r="2.6"/><circle cx="478.1" cy="846.2" r="2.6"/><circle cx="479.8" cy="828.9" r="2.6"/><circle cx="480.5" cy="835.3" r="2.6"/><circle cx="481.1" cy="841.0" r="2.6"/><circle cx="482.5" cy="833.4" r="2.6"/><circle cx="483.4" cy="828.8" r="2.6"/><circle cx="484.0" cy="839.3" r="2.6"/><circle cx="484.4" cy="841.1" r="2.6"/><circle cx="486.0" cy="833.8" r="2.6"/><circle cx="486.1" cy="840.2" r="2.6"/><circle cx="487.4" cy="839.8" r="2.6"/><circle cx="488.5" cy="850.2" r="2.6"/><circle cx="489.8" cy="837.5" r="2.6"/><circle cx="489.2" cy="846.5" r="2.6"/><circle cx="490.5" cy="830.1" r="2.6"/><circle cx="490.8" cy="829.0" r="2.6"/><circle cx="491.3" cy="824.6" r="2.6"/><circle cx="492.1" cy="838.7" r="2.6"/><circle cx="492.7" cy="832.3" r="2.6"/><circle cx="493.6" cy="835.7" r="2.6"/><circle cx="494.6" cy="817.0" r="2.6"/><circle cx="495.5" cy="827.6" r="2.6"/><circle cx="496.3" cy="817.8" r="2.6"/><circle cx="497.7" cy="820.9" r="2.6"/><circle cx="498.0" cy="833.5" r="2.6"/><circle cx="498.7" cy="816.2" r="2.6"/><circle cx="499.9" cy="824.0" r="2.6"/><circle cx="499.9" cy="833.4" r="2.6"/><circle cx="500.0" cy="821.8" r="2.6"/><circle cx="501.4" cy="828.0" r="2.6"/><circle cx="502.5" cy="818.0" r="2.6"/><circle cx="503.8" cy="828.6" r="2.6"/><circle cx="505.0" cy="822.1" r="2.6"/><circle cx="505.9" cy="832.7" r="2.6"/><circle cx="506.8" cy="826.1" r="2.6"/><circle cx="506.3" cy="821.7" r="2.6"/><circle cx="507.5" cy="821.5" r="2.6"/><circle cx="508.2" cy="833.0" r="2.6"/><circle cx="509.5" cy="839.8" r="2.6"/><circle cx="509.8" cy="828.4" r="2.6"/><circle cx="510.7" cy="831.1" r="2.6"/><circle cx="510.1" cy="831.8" r="2.6"/><circle cx="511.8" cy="825.9" r="2.6"/><circle cx="512.7" cy="827.1" r="2.6"/><circle cx="513.3" cy="844.7" r="2.6"/><circle cx="514.1" cy="843.1" r="2.6"/><circle cx="514.6" cy="837.6" r="2.6"/><circle cx="515.0" cy="837.5" r="2.6"/><circle cx="516.6" cy="832.7" r="2.6"/><circle cx="517.4" cy="846.0" r="2.6"/><circle cx="518.1" cy="829.3" r="2.6"/><circle cx="519.1" cy="839.3" r="2.6"/><circle cx="520.8" cy="838.0" r="2.6"/><circle cx="521.7" cy="835.2" r="2.6"/><circle cx="522.0" cy="826.9" r="2.6"/><circle cx="523.1" cy="825.7" r="2.6"/><circle cx="524.3" cy="832.6" r="2.6"/><circle cx="525.9" cy="838.1" r="2.6"/><circle cx="526.5" cy="841.6" r="2.6"/><circle cx="526.2" cy="842.4" r="2.6"/><circle cx="527.6" cy="837.7" r="2.6"/><circle cx="529.0" cy="842.8" r="2.6"/><circle cx="529.6" cy="833.5" r="2.6"/><circle cx="529.0" cy="847.4" r="2.6"/><circle cx="530.0" cy="830.7" r="2.6"/><circle cx="531.8" cy="849.5" r="2.6"/><circle cx="532.2" cy="835.0" r="2.6"/><circle cx="532.2" cy="835.7" r="2.6"/><circle cx="534.0" cy="846.3" r="2.6"/><circle cx="534.2" cy="840.3" r="2.6"/><circle cx="534.8" cy="845.1" r="2.6"/><circle cx="535.5" cy="844.7" r="2.6"/><circle cx="535.2" cy="846.5" r="2.6"/><circle cx="536.6" cy="833.7" r="2.6"/><circle cx="536.7" cy="839.8" r="2.6"/><circle cx="537.8" cy="835.3" r="2.6"/><circle cx="538.5" cy="840.1" r="2.6"/><circle cx="538.3" cy="841.6" r="2.6"/><circle cx="539.1" cy="833.2" r="2.6"/><circle cx="540.3" cy="846.2" r="2.6"/><circle cx="541.0" cy="846.0" r="2.6"/><circle cx="541.7" cy="841.5" r="2.6"/><circle cx="542.6" cy="843.0" r="2.6"/><circle cx="543.6" cy="839.0" r="2.6"/><circle cx="544.2" cy="855.9" r="2.6"/><circle cx="544.4" cy="856.9" r="2.6"/><circle cx="545.9" cy="845.6" r="2.6"/><circle cx="546.7" cy="847.0" r="2.6"/><circle cx="547.4" cy="857.6" r="2.6"/><circle cx="547.9" cy="844.8" r="2.6"/><circle cx="549.0" cy="849.6" r="2.6"/><circle cx="548.3" cy="846.8" r="2.6"/><circle cx="549.6" cy="852.0" r="2.6"/><circle cx="550.8" cy="849.0" r="2.6"/><circle cx="552.0" cy="846.8" r="2.6"/><circle cx="551.4" cy="851.0" r="2.6"/><circle cx="552.8" cy="843.1" r="2.6"/><circle cx="553.0" cy="847.4" r="2.6"/><circle cx="554.5" cy="851.9" r="2.6"/><circle cx="555.9" cy="857.0" r="2.6"/><circle cx="556.6" cy="841.9" r="2.6"/><circle cx="557.2" cy="846.8" r="2.6"/><circle cx="557.2" cy="840.4" r="2.6"/><circle cx="558.5" cy="843.3" r="2.6"/><circle cx="559.2" cy="839.6" r="2.6"/><circle cx="560.9" cy="838.7" r="2.6"/><circle cx="562.0" cy="831.8" r="2.6"/><circle cx="562.1" cy="846.8" r="2.6"/><circle cx="563.0" cy="848.8" r="2.6"/><circle cx="563.2" cy="848.3" r="2.6"/><circle cx="564.9" cy="845.0" r="2.6"/><circle cx="564.7" cy="839.9" r="2.6"/><circle cx="565.4" cy="836.0" r="2.6"/><circle cx="566.8" cy="839.5" r="2.6"/><circle cx="567.0" cy="836.6" r="2.6"/><circle cx="569.0" cy="829.8" r="2.6"/><circle cx="570.0" cy="828.0" r="2.6"/><circle cx="570.6" cy="835.0" r="2.6"/><circle cx="570.3" cy="826.0" r="2.6"/><circle cx="571.2" cy="843.7" r="2.6"/><circle cx="571.2" cy="843.9" r="2.6"/><circle cx="572.6" cy="838.2" r="2.6"/><circle cx="572.4" cy="826.1" r="2.6"/><circle cx="573.9" cy="826.9" r="2.6"/><circle cx="574.4" cy="824.1" r="2.6"/><circle cx="575.0" cy="838.4" r="2.6"/><circle cx="575.7" cy="832.5" r="2.6"/><circle cx="576.0" cy="829.5" r="2.6"/><circle cx="577.3" cy="829.3" r="2.6"/><circle cx="578.5" cy="817.7" r="2.6"/><circle cx="579.4" cy="813.7" r="2.6"/><circle cx="580.7" cy="803.4" r="2.6"/><circle cx="581.0" cy="823.0" r="2.6"/><circle cx="581.5" cy="832.0" r="2.6"/><circle cx="582.1" cy="818.8" r="2.6"/><circle cx="583.2" cy="815.2" r="2.6"/><circle cx="584.7" cy="804.8" r="2.6"/><circle cx="584.4" cy="816.8" r="2.6"/><circle cx="585.6" cy="813.9" r="2.6"/><circle cx="586.6" cy="814.0" r="2.6"/><circle cx="587.2" cy="789.9" r="2.6"/><circle cx="588.7" cy="803.5" r="2.6"/><circle cx="589.7" cy="793.1" r="2.6"/><circle cx="589.9" cy="784.5" r="2.6"/><circle cx="590.0" cy="792.8" r="2.6"/><circle cx="591.7" cy="796.4" r="2.6"/><circle cx="592.3" cy="783.8" r="2.6"/><circle cx="593.7" cy="786.0" r="2.6"/><circle cx="594.3" cy="804.7" r="2.6"/><circle cx="595.2" cy="797.6" r="2.6"/><circle cx="595.7" cy="785.6" r="2.6"/><circle cx="596.3" cy="805.5" r="2.6"/><circle cx="597.3" cy="787.3" r="2.6"/><circle cx="598.7" cy="790.9" r="2.6"/><circle cx="599.6" cy="804.5" r="2.6"/><circle cx="600.6" cy="802.9" r="2.6"/><circle cx="601.3" cy="783.8" r="2.6"/><circle cx="602.7" cy="798.9" r="2.6"/><circle cx="603.0" cy="793.9" r="2.6"/><circle cx="603.3" cy="802.2" r="2.6"/><circle cx="604.8" cy="793.3" r="2.6"/><circle cx="605.3" cy="799.0" r="2.6"/><circle cx="605.4" cy="795.7" r="2.6"/><circle cx="606.6" cy="797.0" r="2.6"/><circle cx="607.3" cy="792.2" r="2.6"/><circle cx="608.4" cy="793.9" r="2.6"/><circle cx="608.9" cy="808.3" r="2.6"/><circle cx="609.1" cy="791.4" r="2.6"/><circle cx="610.2" cy="791.1" r="2.6"/><circle cx="612.0" cy="799.5" r="2.6"/><circle cx="611.3" cy="809.5" r="2.6"/><circle cx="612.7" cy="806.9" r="2.6"/><circle cx="612.6" cy="812.5" r="2.6"/><circle cx="613.7" cy="827.8" r="2.6"/><circle cx="613.6" cy="807.9" r="2.6"/><circle cx="614.5" cy="821.1" r="2.6"/><circle cx="614.4" cy="825.3" r="2.6"/><circle cx="615.3" cy="831.3" r="2.6"/><circle cx="616.2" cy="822.3" r="2.6"/><circle cx="617.7" cy="839.8" r="2.6"/><circle cx="618.9" cy="844.4" r="2.6"/><circle cx="619.1" cy="831.7" r="2.6"/><circle cx="620.3" cy="841.8" r="2.6"/><circle cx="621.6" cy="836.8" r="2.6"/><circle cx="622.3" cy="853.0" r="2.6"/><circle cx="623.6" cy="840.1" r="2.6"/><circle cx="623.4" cy="841.4" r="2.6"/><circle cx="624.4" cy="840.1" r="2.6"/><circle cx="624.5" cy="846.2" r="2.6"/><circle cx="625.7" cy="837.2" r="2.6"/><circle cx="625.7" cy="834.8" r="2.6"/><circle cx="626.1" cy="843.5" r="2.6"/><circle cx="627.7" cy="837.4" r="2.6"/><circle cx="628.8" cy="825.3" r="2.6"/><circle cx="628.1" cy="845.1" r="2.6"/><circle cx="629.9" cy="822.3" r="2.6"/><circle cx="630.8" cy="818.3" r="2.6"/><circle cx="631.0" cy="804.3" r="2.6"/><circle cx="632.1" cy="799.9" r="2.6"/><circle cx="633.6" cy="806.4" r="2.6"/><circle cx="634.5" cy="787.3" r="2.6"/><circle cx="634.6" cy="791.2" r="2.6"/><circle cx="636.0" cy="785.3" r="2.6"/><circle cx="636.9" cy="796.6" r="2.6"/><circle cx="637.2" cy="784.7" r="2.6"/><circle cx="638.9" cy="787.4" r="2.6"/><circle cx="640.0" cy="780.8" r="2.6"/><circle cx="641.0" cy="783.6" r="2.6"/><circle cx="640.2" cy="778.7" r="2.6"/><circle cx="641.5" cy="779.9" r="2.6"/><circle cx="641.3" cy="791.6" r="2.6"/><circle cx="642.3" cy="779.5" r="2.6"/><circle cx="643.6" cy="796.2" r="2.6"/><circle cx="643.0" cy="782.6" r="2.6"/><circle cx="644.5" cy="783.1" r="2.6"/><circle cx="645.4" cy="791.8" r="2.6"/><circle cx="646.7" cy="789.7" r="2.6"/><circle cx="647.1" cy="806.5" r="2.6"/><circle cx="647.8" cy="797.5" r="2.6"/><circle cx="648.7" cy="797.3" r="2.6"/><circle cx="649.6" cy="817.4" r="2.6"/><circle cx="649.5" cy="804.0" r="2.6"/><circle cx="650.2" cy="809.0" r="2.6"/><circle cx="651.6" cy="829.0" r="2.6"/><circle cx="652.4" cy="840.1" r="2.6"/><circle cx="652.8" cy="824.8" r="2.6"/><circle cx="653.1" cy="843.5" r="2.6"/><circle cx="654.4" cy="843.4" r="2.6"/><circle cx="655.3" cy="841.0" r="2.6"/><circle cx="656.6" cy="850.3" r="2.6"/><circle cx="657.5" cy="839.1" r="2.6"/><circle cx="658.4" cy="836.3" r="2.6"/><circle cx="659.7" cy="829.9" r="2.6"/><circle cx="660.8" cy="824.4" r="2.6"/><circle cx="661.1" cy="819.3" r="2.6"/><circle cx="661.7" cy="823.4" r="2.6"/><circle cx="662.1" cy="823.5" r="2.6"/><circle cx="663.6" cy="817.2" r="2.6"/><circle cx="663.5" cy="817.3" r="2.6"/><circle cx="664.5" cy="824.8" r="2.6"/><circle cx="665.1" cy="804.8" r="2.6"/><circle cx="666.0" cy="810.2" r="2.6"/><circle cx="666.6" cy="818.3" r="2.6"/><circle cx="667.2" cy="823.6" r="2.6"/><circle cx="668.0" cy="825.5" r="2.6"/><circle cx="668.6" cy="826.2" r="2.6"/><circle cx="668.0" cy="826.5" r="2.6"/><circle cx="669.7" cy="833.0" r="2.6"/><circle cx="670.6" cy="842.0" r="2.6"/><circle cx="670.5" cy="839.7" r="2.6"/><circle cx="671.5" cy="837.3" r="2.6"/><circle cx="672.6" cy="854.3" r="2.6"/><circle cx="672.3" cy="858.2" r="2.6"/><circle cx="673.2" cy="839.6" r="2.6"/><circle cx="673.6" cy="852.1" r="2.6"/><circle cx="674.2" cy="836.6" r="2.6"/><circle cx="675.4" cy="843.3" r="2.6"/><circle cx="676.3" cy="832.8" r="2.6"/><circle cx="677.7" cy="835.6" r="2.6"/><circle cx="677.4" cy="826.6" r="2.6"/><circle cx="679.0" cy="813.7" r="2.6"/><circle cx="679.4" cy="818.0" r="2.6"/><circle cx="679.6" cy="823.4" r="2.6"/><circle cx="680.3" cy="811.3" r="2.6"/><circle cx="681.0" cy="805.8" r="2.6"/><circle cx="681.9" cy="804.3" r="2.6"/><circle cx="681.6" cy="817.7" r="2.6"/><circle cx="682.5" cy="804.2" r="2.6"/><circle cx="683.5" cy="806.8" r="2.6"/><circle cx="684.7" cy="811.6" r="2.6"/><circle cx="684.3" cy="815.3" r="2.6"/><circle cx="685.3" cy="819.7" r="2.6"/><circle cx="685.8" cy="821.3" r="2.6"/><circle cx="686.8" cy="819.7" r="2.6"/><circle cx="687.1" cy="833.0" r="2.6"/><circle cx="687.6" cy="832.3" r="2.6"/><circle cx="688.3" cy="840.7" r="2.6"/><circle cx="689.8" cy="839.2" r="2.6"/><circle cx="690.6" cy="852.8" r="2.6"/><circle cx="691.8" cy="847.3" r="2.6"/><circle cx="692.9" cy="849.1" r="2.6"/><circle cx="692.9" cy="850.0" r="2.6"/><circle cx="693.1" cy="853.5" r="2.6"/><circle cx="694.5" cy="854.2" r="2.6"/><circle cx="695.3" cy="863.5" r="2.6"/><circle cx="696.5" cy="866.5" r="2.6"/><circle cx="697.9" cy="872.9" r="2.6"/><circle cx="697.6" cy="857.8" r="2.6"/><circle cx="698.2" cy="865.1" r="2.6"/><circle cx="699.2" cy="900.9" r="2.6"/><circle cx="700.0" cy="899.5" r="2.6"/><circle cx="701.6" cy="902.8" r="2.6"/><circle cx="702.0" cy="903.1" r="2.6"/><circle cx="702.0" cy="902.8" r="2.6"/><circle cx="702.2" cy="896.1" r="2.6"/><circle cx="703.7" cy="909.0" r="2.6"/><circle cx="704.3" cy="912.3" r="2.6"/><circle cx="705.4" cy="910.3" r="2.6"/><circle cx="706.6" cy="904.1" r="2.6"/><circle cx="707.2" cy="911.4" r="2.6"/><circle cx="708.0" cy="906.6" r="2.6"/><circle cx="709.0" cy="895.3" r="2.6"/><circle cx="710.7" cy="894.4" r="2.6"/><circle cx="711.6" cy="893.9" r="2.6"/><circle cx="712.7" cy="901.8" r="2.6"/><circle cx="713.8" cy="899.0" r="2.6"/><circle cx="714.5" cy="892.9" r="2.6"/><circle cx="715.4" cy="891.3" r="2.6"/><circle cx="716.1" cy="886.2" r="2.6"/><circle cx="717.9" cy="883.6" r="2.6"/><circle cx="718.7" cy="897.1" r="2.6"/><circle cx="719.3" cy="898.2" r="2.6"/><circle cx="720.7" cy="895.1" r="2.6"/><circle cx="721.6" cy="896.6" r="2.6"/><circle cx="723.5" cy="903.5" r="2.6"/><circle cx="724.3" cy="901.5" r="2.6"/><circle cx="725.3" cy="901.4" r="2.6"/><circle cx="727.7" cy="902.7" r="2.6"/><circle cx="728.0" cy="901.9" r="2.6"/><circle cx="733.8" cy="892.9" r="2.6"/><circle cx="735.8" cy="884.2" r="2.6"/><circle cx="738.0" cy="875.1" r="2.6"/><circle cx="739.6" cy="870.0" r="2.6"/><circle cx="740.8" cy="867.2" r="2.6"/><circle cx="743.8" cy="858.0" r="2.6"/><circle cx="744.6" cy="858.7" r="2.6"/><circle cx="746.8" cy="856.3" r="2.6"/><circle cx="747.4" cy="852.2" r="2.6"/><circle cx="749.2" cy="850.2" r="2.6"/><circle cx="752.4" cy="848.1" r="2.6"/><circle cx="763.5" cy="845.2" r="2.6"/><circle cx="764.5" cy="844.8" r="2.6"/><circle cx="765.2" cy="844.7" r="2.6"/><circle cx="770.4" cy="847.9" r="2.6"/><circle cx="774.8" cy="860.1" r="2.6"/><circle cx="778.0" cy="867.0" r="2.6"/><circle cx="779.9" cy="880.3" r="2.6"/><circle cx="794.9" cy="902.1" r="2.6"/><circle cx="795.9" cy="898.2" r="2.6"/><circle cx="796.2" cy="903.2" r="2.6"/><circle cx="798.9" cy="901.0" r="2.6"/><circle cx="801.0" cy="898.0" r="2.6"/><circle cx="803.4" cy="895.2" r="2.6"/><circle cx="804.7" cy="896.1" r="2.6"/><circle cx="806.8" cy="895.6" r="2.6"/><circle cx="807.8" cy="892.2" r="2.6"/><circle cx="810.8" cy="892.1" r="2.6"/><circle cx="817.0" cy="888.1" r="2.6"/><circle cx="818.3" cy="887.9" r="2.6"/><circle cx="820.4" cy="892.3" r="2.6"/><circle cx="822.6" cy="894.2" r="2.6"/><circle cx="823.4" cy="893.8" r="2.6"/><circle cx="827.4" cy="894.1" r="2.6"/><circle cx="833.8" cy="881.2" r="2.6"/><circle cx="834.8" cy="888.0" r="2.6"/><circle cx="836.9" cy="888.8" r="2.6"/>
<circle cx="467.6" cy="813.5" r="2.6"/><circle cx="468.4" cy="804.5" r="2.6"/><circle cx="475.5" cy="801.2" r="2.6"/><circle cx="476.6" cy="799.1" r="2.6"/><circle cx="478.7" cy="794.3" r="2.6"/><circle cx="479.9" cy="796.1" r="2.6"/><circle cx="484.4" cy="792.5" r="2.6"/><circle cx="486.3" cy="794.0" r="2.6"/><circle cx="496.9" cy="798.2" r="2.6"/><circle cx="499.9" cy="796.3" r="2.6"/><circle cx="505.0" cy="801.3" r="2.6"/><circle cx="505.5" cy="789.4" r="2.6"/><circle cx="506.2" cy="789.8" r="2.6"/><circle cx="516.9" cy="801.8" r="2.6"/><circle cx="518.2" cy="790.7" r="2.6"/><circle cx="525.0" cy="795.3" r="2.6"/><circle cx="526.6" cy="798.0" r="2.6"/><circle cx="533.5" cy="795.2" r="2.6"/><circle cx="538.1" cy="797.4" r="2.6"/><circle cx="541.9" cy="786.6" r="2.6"/><circle cx="542.6" cy="793.8" r="2.6"/><circle cx="543.7" cy="784.2" r="2.6"/><circle cx="545.8" cy="786.9" r="2.6"/><circle cx="546.9" cy="784.7" r="2.6"/><circle cx="548.1" cy="781.3" r="2.6"/><circle cx="550.6" cy="786.0" r="2.6"/><circle cx="555.2" cy="781.5" r="2.6"/><circle cx="556.4" cy="772.6" r="2.6"/><circle cx="562.4" cy="769.6" r="2.6"/><circle cx="565.4" cy="771.5" r="2.6"/><circle cx="571.2" cy="759.9" r="2.6"/><circle cx="572.1" cy="769.6" r="2.6"/><circle cx="576.2" cy="756.2" r="2.6"/><circle cx="578.3" cy="769.3" r="2.6"/><circle cx="581.5" cy="768.4" r="2.6"/><circle cx="588.9" cy="757.3" r="2.6"/><circle cx="589.8" cy="764.6" r="2.6"/><circle cx="590.5" cy="756.8" r="2.6"/><circle cx="593.9" cy="759.7" r="2.6"/><circle cx="597.2" cy="758.7" r="2.6"/><circle cx="600.5" cy="762.2" r="2.6"/><circle cx="602.5" cy="758.6" r="2.6"/><circle cx="619.5" cy="758.0" r="2.6"/><circle cx="625.2" cy="768.7" r="2.6"/><circle cx="626.4" cy="755.4" r="2.6"/><circle cx="629.1" cy="761.0" r="2.6"/><circle cx="633.8" cy="765.8" r="2.6"/><circle cx="634.3" cy="767.9" r="2.6"/><circle cx="642.6" cy="759.7" r="2.6"/><circle cx="643.8" cy="771.2" r="2.6"/><circle cx="649.1" cy="761.9" r="2.6"/><circle cx="655.9" cy="761.3" r="2.6"/><circle cx="659.3" cy="764.0" r="2.6"/><circle cx="661.9" cy="765.5" r="2.6"/><circle cx="663.5" cy="762.0" r="2.6"/><circle cx="665.0" cy="762.3" r="2.6"/><circle cx="668.1" cy="772.6" r="2.6"/><circle cx="669.4" cy="771.0" r="2.6"/><circle cx="686.2" cy="771.6" r="2.6"/><circle cx="688.9" cy="777.8" r="2.6"/><circle cx="690.7" cy="769.0" r="2.6"/><circle cx="710.8" cy="810.7" r="2.6"/><circle cx="715.7" cy="831.9" r="2.6"/><circle cx="720.3" cy="831.9" r="2.6"/><circle cx="725.3" cy="849.5" r="2.6"/><circle cx="750.3" cy="819.3" r="2.6"/><circle cx="757.8" cy="824.4" r="2.6"/><circle cx="760.4" cy="824.1" r="2.6"/><circle cx="766.3" cy="814.5" r="2.6"/><circle cx="769.4" cy="822.1" r="2.6"/><circle cx="774.3" cy="822.1" r="2.6"/><circle cx="779.2" cy="823.7" r="2.6"/><circle cx="788.7" cy="820.6" r="2.6"/><circle cx="805.7" cy="822.8" r="2.6"/><circle cx="809.6" cy="831.9" r="2.6"/><circle cx="810.4" cy="824.9" r="2.6"/><circle cx="813.1" cy="829.3" r="2.6"/><circle cx="827.0" cy="843.8" r="2.6"/><circle cx="830.7" cy="844.8" r="2.6"/>
<circle cx="466.9" cy="852.8" r="2.6"/><circle cx="466.0" cy="848.9" r="2.6"/><circle cx="467.7" cy="814.7" r="2.6"/><circle cx="467.8" cy="829.4" r="2.6"/><circle cx="468.5" cy="844.0" r="2.6"/><circle cx="468.7" cy="827.1" r="2.6"/><circle cx="470.0" cy="848.6" r="2.6"/><circle cx="469.9" cy="816.9" r="2.6"/><circle cx="470.8" cy="824.3" r="2.6"/><circle cx="470.0" cy="842.1" r="2.6"/><circle cx="472.0" cy="821.6" r="2.6"/><circle cx="471.1" cy="834.6" r="2.6"/><circle cx="472.6" cy="814.9" r="2.6"/><circle cx="472.3" cy="815.8" r="2.6"/><circle cx="473.8" cy="828.1" r="2.6"/><circle cx="473.5" cy="819.1" r="2.6"/><circle cx="475.0" cy="825.3" r="2.6"/><circle cx="474.3" cy="836.9" r="2.6"/><circle cx="475.1" cy="834.1" r="2.6"/><circle cx="475.6" cy="832.8" r="2.6"/><circle cx="476.7" cy="841.8" r="2.6"/><circle cx="476.3" cy="813.7" r="2.6"/><circle cx="477.6" cy="816.9" r="2.6"/><circle cx="477.5" cy="828.2" r="2.6"/><circle cx="478.6" cy="827.5" r="2.6"/><circle cx="478.5" cy="837.6" r="2.6"/><circle cx="479.0" cy="842.0" r="2.6"/><circle cx="479.4" cy="821.6" r="2.6"/><circle cx="480.6" cy="837.4" r="2.6"/><circle cx="480.1" cy="827.6" r="2.6"/><circle cx="481.4" cy="811.1" r="2.6"/><circle cx="481.7" cy="842.0" r="2.6"/><circle cx="482.4" cy="834.3" r="2.6"/><circle cx="482.8" cy="807.5" r="2.6"/><circle cx="483.7" cy="841.3" r="2.6"/><circle cx="483.2" cy="840.1" r="2.6"/><circle cx="484.6" cy="838.2" r="2.6"/><circle cx="484.8" cy="817.4" r="2.6"/><circle cx="485.4" cy="813.8" r="2.6"/><circle cx="486.0" cy="806.4" r="2.6"/><circle cx="486.0" cy="837.9" r="2.6"/><circle cx="486.3" cy="817.8" r="2.6"/><circle cx="487.6" cy="834.6" r="2.6"/><circle cx="487.8" cy="813.3" r="2.6"/><circle cx="488.0" cy="809.7" r="2.6"/><circle cx="488.6" cy="811.8" r="2.6"/><circle cx="489.1" cy="806.9" r="2.6"/><circle cx="489.2" cy="831.3" r="2.6"/><circle cx="490.6" cy="816.4" r="2.6"/><circle cx="490.7" cy="813.8" r="2.6"/><circle cx="491.6" cy="833.2" r="2.6"/><circle cx="491.6" cy="810.2" r="2.6"/><circle cx="492.5" cy="804.4" r="2.6"/><circle cx="492.5" cy="813.1" r="2.6"/><circle cx="493.4" cy="840.2" r="2.6"/><circle cx="493.2" cy="820.5" r="2.6"/><circle cx="494.5" cy="842.7" r="2.6"/><circle cx="494.8" cy="833.8" r="2.6"/><circle cx="495.6" cy="829.8" r="2.6"/><circle cx="495.9" cy="804.3" r="2.6"/><circle cx="496.3" cy="804.2" r="2.6"/><circle cx="496.5" cy="812.1" r="2.6"/><circle cx="497.1" cy="829.6" r="2.6"/><circle cx="497.4" cy="810.1" r="2.6"/><circle cx="498.0" cy="839.8" r="2.6"/><circle cx="498.9" cy="812.9" r="2.6"/><circle cx="499.5" cy="809.8" r="2.6"/><circle cx="499.3" cy="821.6" r="2.6"/><circle cx="500.2" cy="827.4" r="2.6"/><circle cx="500.4" cy="840.2" r="2.6"/><circle cx="501.1" cy="834.7" r="2.6"/><circle cx="501.2" cy="829.3" r="2.6"/><circle cx="502.9" cy="818.2" r="2.6"/><circle cx="502.8" cy="839.1" r="2.6"/><circle cx="503.9" cy="805.2" r="2.6"/><circle cx="503.2" cy="813.0" r="2.6"/><circle cx="504.1" cy="825.5" r="2.6"/><circle cx="504.9" cy="804.2" r="2.6"/><circle cx="505.5" cy="823.3" r="2.6"/><circle cx="505.5" cy="820.8" r="2.6"/><circle cx="506.9" cy="839.0" r="2.6"/><circle cx="506.8" cy="831.6" r="2.6"/><circle cx="507.0" cy="837.1" r="2.6"/><circle cx="507.5" cy="823.4" r="2.6"/><circle cx="508.3" cy="821.7" r="2.6"/><circle cx="508.6" cy="832.3" r="2.6"/><circle cx="509.0" cy="841.0" r="2.6"/><circle cx="509.9" cy="833.5" r="2.6"/><circle cx="510.6" cy="802.6" r="2.6"/><circle cx="510.4" cy="819.5" r="2.6"/><circle cx="511.7" cy="823.9" r="2.6"/><circle cx="511.9" cy="808.9" r="2.6"/><circle cx="512.4" cy="828.4" r="2.6"/><circle cx="513.0" cy="821.1" r="2.6"/><circle cx="513.2" cy="814.5" r="2.6"/><circle cx="513.8" cy="818.2" r="2.6"/><circle cx="514.5" cy="840.3" r="2.6"/><circle cx="514.9" cy="805.9" r="2.6"/><circle cx="515.9" cy="817.9" r="2.6"/><circle cx="515.9" cy="841.1" r="2.6"/><circle cx="516.5" cy="836.6" r="2.6"/><circle cx="516.2" cy="809.9" r="2.6"/><circle cx="517.6" cy="803.0" r="2.6"/><circle cx="517.4" cy="810.8" r="2.6"/><circle cx="518.6" cy="817.9" r="2.6"/><circle cx="518.9" cy="833.5" r="2.6"/><circle cx="519.5" cy="837.9" r="2.6"/><circle cx="519.5" cy="835.5" r="2.6"/><circle cx="520.9" cy="809.7" r="2.6"/><circle cx="520.8" cy="802.6" r="2.6"/><circle cx="521.1" cy="814.7" r="2.6"/><circle cx="521.3" cy="827.1" r="2.6"/><circle cx="522.1" cy="829.6" r="2.6"/><circle cx="522.2" cy="803.5" r="2.6"/><circle cx="523.8" cy="809.0" r="2.6"/><circle cx="523.3" cy="833.4" r="2.6"/><circle cx="524.3" cy="811.8" r="2.6"/><circle cx="524.3" cy="820.3" r="2.6"/><circle cx="525.9" cy="823.4" r="2.6"/><circle cx="525.6" cy="808.2" r="2.6"/><circle cx="526.3" cy="827.8" r="2.6"/><circle cx="526.6" cy="836.5" r="2.6"/><circle cx="527.9" cy="811.4" r="2.6"/><circle cx="527.8" cy="819.7" r="2.6"/><circle cx="528.8" cy="839.4" r="2.6"/><circle cx="528.8" cy="824.2" r="2.6"/><circle cx="529.4" cy="822.8" r="2.6"/><circle cx="529.4" cy="837.7" r="2.6"/><circle cx="530.8" cy="809.9" r="2.6"/><circle cx="530.5" cy="806.6" r="2.6"/><circle cx="531.0" cy="823.0" r="2.6"/><circle cx="531.6" cy="801.1" r="2.6"/><circle cx="532.4" cy="823.6" r="2.6"/><circle cx="532.2" cy="806.3" r="2.6"/><circle cx="533.9" cy="803.7" r="2.6"/><circle cx="533.3" cy="804.8" r="2.6"/><circle cx="534.2" cy="800.6" r="2.6"/><circle cx="534.8" cy="803.4" r="2.6"/><circle cx="536.0" cy="820.0" r="2.6"/><circle cx="536.0" cy="821.8" r="2.6"/><circle cx="536.2" cy="830.4" r="2.6"/><circle cx="536.4" cy="817.7" r="2.6"/><circle cx="537.9" cy="839.5" r="2.6"/><circle cx="537.9" cy="806.0" r="2.6"/><circle cx="538.3" cy="820.3" r="2.6"/><circle cx="538.8" cy="829.9" r="2.6"/><circle cx="539.4" cy="820.0" r="2.6"/><circle cx="539.4" cy="820.3" r="2.6"/><circle cx="540.2" cy="817.4" r="2.6"/><circle cx="540.2" cy="834.0" r="2.6"/><circle cx="541.1" cy="803.2" r="2.6"/><circle cx="541.1" cy="822.5" r="2.6"/><circle cx="542.1" cy="805.9" r="2.6"/><circle cx="542.2" cy="824.1" r="2.6"/><circle cx="543.9" cy="805.6" r="2.6"/><circle cx="543.9" cy="814.0" r="2.6"/><circle cx="544.9" cy="830.7" r="2.6"/><circle cx="544.5" cy="822.6" r="2.6"/><circle cx="545.3" cy="799.3" r="2.6"/><circle cx="545.7" cy="831.3" r="2.6"/><circle cx="546.5" cy="829.2" r="2.6"/><circle cx="546.5" cy="821.2" r="2.6"/><circle cx="547.5" cy="826.1" r="2.6"/><circle cx="547.5" cy="799.3" r="2.6"/><circle cx="548.3" cy="805.0" r="2.6"/><circle cx="548.8" cy="824.3" r="2.6"/><circle cx="549.2" cy="829.1" r="2.6"/><circle cx="549.8" cy="809.3" r="2.6"/><circle cx="550.7" cy="788.8" r="2.6"/><circle cx="550.3" cy="792.6" r="2.6"/><circle cx="551.3" cy="814.6" r="2.6"/><circle cx="551.8" cy="824.2" r="2.6"/><circle cx="552.8" cy="794.9" r="2.6"/><circle cx="552.6" cy="804.3" r="2.6"/><circle cx="553.6" cy="815.6" r="2.6"/><circle cx="553.6" cy="809.2" r="2.6"/><circle cx="554.5" cy="822.5" r="2.6"/><circle cx="554.3" cy="815.5" r="2.6"/><circle cx="555.6" cy="797.7" r="2.6"/><circle cx="555.7" cy="786.7" r="2.6"/><circle cx="556.2" cy="785.4" r="2.6"/><circle cx="556.0" cy="808.2" r="2.6"/><circle cx="557.4" cy="813.9" r="2.6"/><circle cx="557.5" cy="817.9" r="2.6"/><circle cx="558.3" cy="815.5" r="2.6"/><circle cx="558.6" cy="816.3" r="2.6"/><circle cx="559.2" cy="789.8" r="2.6"/><circle cx="559.2" cy="816.1" r="2.6"/><circle cx="560.3" cy="807.4" r="2.6"/><circle cx="560.9" cy="807.4" r="2.6"/><circle cx="561.7" cy="789.3" r="2.6"/><circle cx="561.6" cy="812.1" r="2.6"/><circle cx="562.6" cy="802.4" r="2.6"/><circle cx="562.8" cy="797.8" r="2.6"/><circle cx="563.4" cy="809.3" r="2.6"/><circle cx="563.1" cy="779.1" r="2.6"/><circle cx="564.6" cy="808.7" r="2.6"/><circle cx="564.8" cy="793.8" r="2.6"/><circle cx="565.9" cy="774.2" r="2.6"/><circle cx="565.6" cy="802.5" r="2.6"/><circle cx="566.3" cy="802.2" r="2.6"/><circle cx="566.1" cy="795.6" r="2.6"/><circle cx="567.5" cy="807.2" r="2.6"/><circle cx="567.9" cy="772.6" r="2.6"/><circle cx="568.7" cy="798.6" r="2.6"/><circle cx="568.3" cy="781.9" r="2.6"/><circle cx="569.4" cy="773.3" r="2.6"/><circle cx="569.0" cy="785.1" r="2.6"/><circle cx="570.5" cy="772.2" r="2.6"/><circle cx="570.7" cy="794.9" r="2.6"/><circle cx="571.3" cy="808.2" r="2.6"/><circle cx="571.6" cy="786.9" r="2.6"/><circle cx="572.3" cy="801.4" r="2.6"/><circle cx="572.4" cy="783.6" r="2.6"/><circle cx="573.2" cy="793.1" r="2.6"/><circle cx="573.2" cy="797.6" r="2.6"/><circle cx="574.5" cy="790.7" r="2.6"/><circle cx="574.9" cy="795.8" r="2.6"/><circle cx="575.4" cy="782.2" r="2.6"/><circle cx="575.3" cy="770.4" r="2.6"/><circle cx="576.9" cy="790.4" r="2.6"/><circle cx="576.6" cy="797.5" r="2.6"/><circle cx="577.5" cy="775.4" r="2.6"/><circle cx="577.9" cy="791.3" r="2.6"/><circle cx="578.6" cy="806.5" r="2.6"/><circle cx="578.2" cy="808.0" r="2.6"/><circle cx="579.8" cy="786.0" r="2.6"/><circle cx="579.6" cy="770.0" r="2.6"/><circle cx="580.3" cy="800.0" r="2.6"/><circle cx="580.9" cy="777.1" r="2.6"/><circle cx="581.5" cy="784.0" r="2.6"/><circle cx="581.5" cy="782.7" r="2.6"/><circle cx="582.5" cy="803.1" r="2.6"/><circle cx="582.1" cy="789.0" r="2.6"/><circle cx="583.3" cy="780.9" r="2.6"/><circle cx="583.6" cy="779.7" r="2.6"/><circle cx="584.2" cy="780.6" r="2.6"/><circle cx="584.7" cy="800.4" r="2.6"/><circle cx="585.6" cy="775.3" r="2.6"/><circle cx="585.7" cy="772.8" r="2.6"/><circle cx="586.4" cy="789.1" r="2.6"/><circle cx="587.0" cy="794.4" r="2.6"/><circle cx="587.2" cy="805.8" r="2.6"/><circle cx="587.6" cy="771.7" r="2.6"/><circle cx="588.0" cy="777.5" r="2.6"/><circle cx="588.8" cy="788.2" r="2.6"/><circle cx="589.9" cy="777.2" r="2.6"/><circle cx="589.8" cy="803.9" r="2.6"/><circle cx="590.4" cy="776.2" r="2.6"/><circle cx="590.1" cy="795.6" r="2.6"/><circle cx="591.7" cy="775.6" r="2.6"/><circle cx="591.7" cy="778.2" r="2.6"/><circle cx="592.6" cy="792.1" r="2.6"/><circle cx="592.6" cy="767.5" r="2.6"/><circle cx="593.8" cy="792.4" r="2.6"/><circle cx="593.0" cy="778.1" r="2.6"/><circle cx="594.2" cy="805.8" r="2.6"/><circle cx="594.4" cy="793.0" r="2.6"/><circle cx="595.9" cy="803.9" r="2.6"/><circle cx="595.4" cy="769.1" r="2.6"/><circle cx="596.4" cy="778.2" r="2.6"/><circle cx="596.3" cy="784.2" r="2.6"/><circle cx="597.6" cy="804.4" r="2.6"/><circle cx="597.7" cy="784.7" r="2.6"/><circle cx="598.3" cy="802.3" r="2.6"/><circle cx="598.9" cy="802.2" r="2.6"/><circle cx="599.8" cy="789.4" r="2.6"/><circle cx="599.8" cy="796.5" r="2.6"/><circle cx="600.2" cy="766.9" r="2.6"/><circle cx="600.0" cy="776.7" r="2.6"/><circle cx="601.2" cy="773.5" r="2.6"/><circle cx="601.3" cy="793.0" r="2.6"/><circle cx="602.3" cy="795.5" r="2.6"/><circle cx="602.1" cy="782.6" r="2.6"/><circle cx="603.6" cy="787.7" r="2.6"/><circle cx="603.5" cy="792.7" r="2.6"/><circle cx="604.9" cy="771.8" r="2.6"/><circle cx="604.5" cy="794.2" r="2.6"/><circle cx="605.3" cy="802.3" r="2.6"/><circle cx="605.7" cy="788.4" r="2.6"/><circle cx="606.9" cy="804.4" r="2.6"/><circle cx="606.2" cy="800.1" r="2.6"/><circle cx="607.3" cy="793.6" r="2.6"/><circle cx="607.8" cy="780.4" r="2.6"/><circle cx="608.6" cy="767.0" r="2.6"/><circle cx="608.4" cy="779.3" r="2.6"/><circle cx="609.6" cy="791.7" r="2.6"/><circle cx="609.9" cy="772.5" r="2.6"/><circle cx="610.6" cy="796.6" r="2.6"/><circle cx="610.8" cy="799.8" r="2.6"/><circle cx="611.3" cy="790.6" r="2.6"/><circle cx="611.9" cy="804.3" r="2.6"/><circle cx="612.4" cy="799.3" r="2.6"/><circle cx="612.6" cy="776.1" r="2.6"/><circle cx="613.7" cy="789.9" r="2.6"/><circle cx="613.2" cy="783.8" r="2.6"/><circle cx="614.1" cy="786.3" r="2.6"/><circle cx="614.1" cy="771.1" r="2.6"/><circle cx="615.6" cy="779.8" r="2.6"/><circle cx="615.5" cy="781.2" r="2.6"/><circle cx="616.1" cy="795.4" r="2.6"/><circle cx="617.0" cy="794.3" r="2.6"/><circle cx="617.9" cy="806.2" r="2.6"/><circle cx="617.4" cy="802.8" r="2.6"/><circle cx="618.3" cy="775.5" r="2.6"/><circle cx="618.8" cy="786.7" r="2.6"/><circle cx="619.2" cy="804.5" r="2.6"/><circle cx="619.9" cy="780.5" r="2.6"/><circle cx="620.1" cy="770.2" r="2.6"/><circle cx="620.8" cy="778.7" r="2.6"/><circle cx="621.1" cy="797.6" r="2.6"/><circle cx="621.5" cy="796.4" r="2.6"/><circle cx="622.5" cy="768.9" r="2.6"/><circle cx="622.8" cy="778.3" r="2.6"/><circle cx="623.0" cy="788.7" r="2.6"/><circle cx="623.4" cy="799.5" r="2.6"/><circle cx="624.6" cy="780.4" r="2.6"/><circle cx="625.0" cy="806.1" r="2.6"/><circle cx="625.9" cy="805.5" r="2.6"/><circle cx="625.6" cy="773.7" r="2.6"/><circle cx="626.7" cy="801.2" r="2.6"/><circle cx="626.4" cy="778.1" r="2.6"/><circle cx="627.1" cy="776.3" r="2.6"/><circle cx="627.7" cy="803.1" r="2.6"/><circle cx="628.9" cy="803.8" r="2.6"/><circle cx="628.7" cy="788.9" r="2.6"/><circle cx="629.9" cy="770.1" r="2.6"/><circle cx="629.1" cy="777.8" r="2.6"/><circle cx="631.0" cy="799.7" r="2.6"/><circle cx="630.0" cy="792.9" r="2.6"/><circle cx="631.6" cy="806.1" r="2.6"/><circle cx="631.7" cy="779.6" r="2.6"/><circle cx="632.7" cy="784.3" r="2.6"/><circle cx="632.5" cy="801.4" r="2.6"/><circle cx="633.9" cy="799.8" r="2.6"/><circle cx="633.2" cy="796.3" r="2.6"/><circle cx="634.0" cy="807.8" r="2.6"/><circle cx="634.5" cy="793.5" r="2.6"/><circle cx="635.8" cy="806.0" r="2.6"/><circle cx="635.4" cy="792.3" r="2.6"/><circle cx="636.7" cy="805.3" r="2.6"/><circle cx="636.4" cy="786.1" r="2.6"/><circle cx="637.2" cy="802.4" r="2.6"/><circle cx="638.0" cy="802.2" r="2.6"/><circle cx="638.1" cy="780.5" r="2.6"/><circle cx="638.5" cy="789.4" r="2.6"/><circle cx="639.8" cy="809.1" r="2.6"/><circle cx="639.3" cy="778.8" r="2.6"/><circle cx="640.7" cy="784.6" r="2.6"/><circle cx="640.0" cy="809.8" r="2.6"/><circle cx="641.2" cy="804.5" r="2.6"/><circle cx="641.7" cy="773.2" r="2.6"/><circle cx="642.9" cy="784.5" r="2.6"/><circle cx="642.9" cy="789.9" r="2.6"/><circle cx="643.7" cy="806.3" r="2.6"/><circle cx="643.3" cy="803.0" r="2.6"/><circle cx="644.6" cy="797.2" r="2.6"/><circle cx="644.6" cy="785.7" r="2.6"/><circle cx="645.7" cy="810.0" r="2.6"/><circle cx="645.1" cy="792.5" r="2.6"/><circle cx="646.6" cy="778.8" r="2.6"/><circle cx="646.5" cy="792.6" r="2.6"/><circle cx="647.8" cy="795.1" r="2.6"/><circle cx="647.4" cy="792.8" r="2.6"/><circle cx="648.6" cy="812.3" r="2.6"/><circle cx="648.2" cy="785.7" r="2.6"/><circle cx="650.0" cy="795.5" r="2.6"/><circle cx="649.0" cy="799.5" r="2.6"/><circle cx="650.9" cy="812.8" r="2.6"/><circle cx="650.3" cy="791.6" r="2.6"/><circle cx="651.4" cy="777.5" r="2.6"/><circle cx="651.8" cy="795.1" r="2.6"/><circle cx="652.3" cy="793.1" r="2.6"/><circle cx="652.2" cy="789.2" r="2.6"/><circle cx="653.3" cy="811.7" r="2.6"/><circle cx="653.6" cy="783.4" r="2.6"/><circle cx="654.9" cy="807.3" r="2.6"/><circle cx="654.9" cy="798.3" r="2.6"/><circle cx="655.0" cy="790.4" r="2.6"/><circle cx="655.8" cy="777.1" r="2.6"/><circle cx="656.2" cy="805.4" r="2.6"/><circle cx="656.2" cy="783.4" r="2.6"/><circle cx="657.6" cy="805.7" r="2.6"/><circle cx="657.1" cy="806.8" r="2.6"/><circle cx="658.8" cy="781.9" r="2.6"/><circle cx="658.5" cy="789.9" r="2.6"/><circle cx="659.9" cy="777.1" r="2.6"/><circle cx="659.1" cy="813.3" r="2.6"/><circle cx="660.4" cy="785.4" r="2.6"/><circle cx="660.6" cy="779.8" r="2.6"/><circle cx="661.8" cy="794.8" r="2.6"/><circle cx="661.6" cy="796.7" r="2.6"/><circle cx="662.9" cy="799.4" r="2.6"/><circle cx="662.3" cy="796.7" r="2.6"/><circle cx="663.2" cy="782.0" r="2.6"/><circle cx="663.4" cy="781.3" r="2.6"/><circle cx="664.4" cy="787.3" r="2.6"/><circle cx="664.8" cy="807.0" r="2.6"/><circle cx="665.8" cy="800.3" r="2.6"/><circle cx="665.9" cy="806.7" r="2.6"/><circle cx="666.4" cy="791.8" r="2.6"/><circle cx="666.2" cy="791.1" r="2.6"/><circle cx="667.2" cy="780.1" r="2.6"/><circle cx="667.0" cy="796.8" r="2.6"/><circle cx="668.2" cy="778.2" r="2.6"/><circle cx="668.1" cy="797.9" r="2.6"/><circle cx="669.5" cy="797.9" r="2.6"/><circle cx="669.5" cy="781.8" r="2.6"/><circle cx="670.7" cy="800.3" r="2.6"/><circle cx="670.9" cy="778.8" r="2.6"/><circle cx="671.0" cy="798.2" r="2.6"/><circle cx="671.8" cy="794.5" r="2.6"/><circle cx="672.3" cy="795.7" r="2.6"/><circle cx="673.0" cy="808.2" r="2.6"/><circle cx="673.1" cy="804.0" r="2.6"/><circle cx="673.9" cy="803.7" r="2.6"/><circle cx="674.1" cy="798.3" r="2.6"/><circle cx="674.9" cy="811.0" r="2.6"/><circle cx="675.1" cy="810.5" r="2.6"/><circle cx="676.0" cy="783.7" r="2.6"/><circle cx="676.5" cy="778.3" r="2.6"/><circle cx="676.3" cy="794.9" r="2.6"/><circle cx="677.3" cy="779.9" r="2.6"/><circle cx="677.7" cy="798.6" r="2.6"/><circle cx="678.2" cy="778.2" r="2.6"/><circle cx="678.5" cy="792.5" r="2.6"/><circle cx="679.9" cy="795.0" r="2.6"/><circle cx="679.3" cy="798.0" r="2.6"/><circle cx="680.2" cy="785.5" r="2.6"/><circle cx="680.3" cy="788.2" r="2.6"/><circle cx="681.6" cy="796.9" r="2.6"/><circle cx="681.6" cy="801.3" r="2.6"/><circle cx="682.4" cy="807.9" r="2.6"/><circle cx="682.9" cy="789.7" r="2.6"/><circle cx="683.5" cy="808.1" r="2.6"/><circle cx="683.7" cy="801.9" r="2.6"/><circle cx="684.8" cy="794.0" r="2.6"/><circle cx="684.4" cy="816.4" r="2.6"/><circle cx="685.0" cy="790.7" r="2.6"/><circle cx="685.8" cy="788.6" r="2.6"/><circle cx="686.8" cy="815.3" r="2.6"/><circle cx="686.9" cy="781.6" r="2.6"/><circle cx="688.0" cy="816.3" r="2.6"/><circle cx="687.6" cy="803.5" r="2.6"/><circle cx="688.5" cy="806.5" r="2.6"/><circle cx="688.3" cy="794.8" r="2.6"/><circle cx="689.6" cy="785.0" r="2.6"/><circle cx="689.6" cy="795.7" r="2.6"/><circle cx="690.1" cy="807.2" r="2.6"/><circle cx="690.1" cy="799.7" r="2.6"/><circle cx="691.8" cy="784.6" r="2.6"/><circle cx="691.4" cy="798.9" r="2.6"/><circle cx="692.8" cy="818.2" r="2.6"/><circle cx="692.1" cy="782.9" r="2.6"/><circle cx="693.6" cy="820.1" r="2.6"/><circle cx="693.1" cy="809.2" r="2.6"/><circle cx="694.2" cy="786.7" r="2.6"/><circle cx="694.3" cy="813.0" r="2.6"/><circle cx="696.0" cy="781.3" r="2.6"/><circle cx="695.6" cy="793.0" r="2.6"/><circle cx="696.1" cy="793.8" r="2.6"/><circle cx="696.7" cy="820.5" r="2.6"/><circle cx="698.0" cy="816.9" r="2.6"/><circle cx="697.5" cy="811.0" r="2.6"/><circle cx="698.5" cy="794.9" r="2.6"/><circle cx="698.6" cy="802.7" r="2.6"/><circle cx="699.2" cy="821.5" r="2.6"/><circle cx="699.7" cy="809.0" r="2.6"/><circle cx="700.1" cy="782.2" r="2.6"/><circle cx="700.2" cy="817.4" r="2.6"/><circle cx="701.2" cy="816.0" r="2.6"/><circle cx="701.2" cy="820.2" r="2.6"/><circle cx="702.3" cy="822.2" r="2.6"/><circle cx="703.0" cy="799.4" r="2.6"/><circle cx="703.1" cy="826.1" r="2.6"/><circle cx="703.4" cy="809.8" r="2.6"/><circle cx="704.2" cy="824.2" r="2.6"/><circle cx="704.4" cy="798.3" r="2.6"/><circle cx="705.3" cy="830.9" r="2.6"/><circle cx="705.3" cy="822.5" r="2.6"/><circle cx="706.2" cy="835.9" r="2.6"/><circle cx="706.1" cy="833.6" r="2.6"/><circle cx="707.9" cy="838.7" r="2.6"/><circle cx="707.3" cy="846.6" r="2.6"/><circle cx="708.6" cy="841.5" r="2.6"/><circle cx="709.0" cy="816.9" r="2.6"/><circle cx="709.7" cy="852.8" r="2.6"/><circle cx="709.8" cy="857.4" r="2.6"/><circle cx="710.7" cy="830.8" r="2.6"/><circle cx="710.6" cy="839.7" r="2.6"/><circle cx="711.9" cy="857.5" r="2.6"/><circle cx="711.8" cy="854.6" r="2.6"/><circle cx="712.5" cy="866.6" r="2.6"/><circle cx="712.7" cy="862.8" r="2.6"/><circle cx="713.2" cy="862.0" r="2.6"/><circle cx="714.0" cy="846.1" r="2.6"/><circle cx="714.4" cy="867.2" r="2.6"/><circle cx="714.3" cy="870.8" r="2.6"/><circle cx="715.4" cy="847.6" r="2.6"/><circle cx="715.1" cy="869.2" r="2.6"/><circle cx="716.5" cy="866.4" r="2.6"/><circle cx="716.5" cy="872.0" r="2.6"/><circle cx="718.0" cy="867.1" r="2.6"/><circle cx="717.9" cy="867.6" r="2.6"/><circle cx="718.8" cy="875.3" r="2.6"/><circle cx="718.3" cy="866.6" r="2.6"/><circle cx="719.1" cy="868.4" r="2.6"/><circle cx="719.2" cy="843.8" r="2.6"/><circle cx="720.6" cy="871.9" r="2.6"/><circle cx="720.3" cy="849.8" r="2.6"/><circle cx="721.9" cy="847.6" r="2.6"/><circle cx="721.5" cy="854.7" r="2.6"/><circle cx="722.3" cy="864.7" r="2.6"/><circle cx="722.4" cy="883.8" r="2.6"/><circle cx="723.1" cy="851.7" r="2.6"/><circle cx="723.8" cy="871.9" r="2.6"/><circle cx="724.6" cy="867.4" r="2.6"/><circle cx="724.6" cy="882.6" r="2.6"/><circle cx="725.5" cy="862.2" r="2.6"/><circle cx="725.4" cy="893.9" r="2.6"/><circle cx="726.4" cy="867.6" r="2.6"/><circle cx="726.4" cy="874.5" r="2.6"/><circle cx="727.9" cy="867.3" r="2.6"/><circle cx="727.8" cy="877.3" r="2.6"/><circle cx="728.6" cy="882.3" r="2.6"/><circle cx="728.6" cy="887.0" r="2.6"/><circle cx="729.2" cy="875.2" r="2.6"/><circle cx="729.2" cy="875.6" r="2.6"/><circle cx="730.3" cy="885.4" r="2.6"/><circle cx="730.5" cy="863.2" r="2.6"/><circle cx="731.6" cy="852.0" r="2.6"/><circle cx="731.8" cy="858.1" r="2.6"/><circle cx="732.3" cy="861.6" r="2.6"/><circle cx="732.6" cy="886.2" r="2.6"/><circle cx="733.7" cy="864.9" r="2.6"/><circle cx="733.6" cy="853.2" r="2.6"/><circle cx="734.9" cy="852.9" r="2.6"/><circle cx="734.1" cy="876.5" r="2.6"/><circle cx="736.0" cy="875.0" r="2.6"/><circle cx="735.8" cy="874.9" r="2.6"/><circle cx="736.6" cy="860.6" r="2.6"/><circle cx="736.0" cy="869.5" r="2.6"/><circle cx="737.4" cy="874.3" r="2.6"/><circle cx="737.3" cy="847.0" r="2.6"/><circle cx="738.1" cy="864.5" r="2.6"/><circle cx="738.9" cy="876.5" r="2.6"/><circle cx="739.5" cy="855.5" r="2.6"/><circle cx="739.3" cy="863.4" r="2.6"/><circle cx="740.0" cy="851.1" r="2.6"/><circle cx="740.9" cy="878.2" r="2.6"/><circle cx="741.6" cy="863.1" r="2.6"/><circle cx="741.1" cy="859.1" r="2.6"/><circle cx="742.6" cy="861.5" r="2.6"/><circle cx="742.2" cy="850.9" r="2.6"/><circle cx="743.0" cy="877.0" r="2.6"/><circle cx="743.2" cy="845.9" r="2.6"/><circle cx="744.4" cy="872.0" r="2.6"/><circle cx="744.6" cy="875.5" r="2.6"/><circle cx="745.0" cy="854.5" r="2.6"/><circle cx="746.0" cy="859.2" r="2.6"/><circle cx="747.0" cy="872.5" r="2.6"/><circle cx="746.7" cy="844.7" r="2.6"/><circle cx="747.0" cy="870.0" r="2.6"/><circle cx="747.1" cy="854.5" r="2.6"/><circle cx="748.2" cy="864.8" r="2.6"/><circle cx="748.6" cy="860.7" r="2.6"/><circle cx="749.8" cy="855.9" r="2.6"/><circle cx="749.7" cy="873.2" r="2.6"/><circle cx="750.1" cy="870.8" r="2.6"/><circle cx="750.3" cy="858.9" r="2.6"/><circle cx="751.6" cy="847.7" r="2.6"/><circle cx="751.1" cy="843.4" r="2.6"/><circle cx="752.6" cy="842.3" r="2.6"/><circle cx="752.0" cy="864.9" r="2.6"/><circle cx="753.4" cy="863.6" r="2.6"/><circle cx="753.3" cy="842.9" r="2.6"/><circle cx="754.5" cy="864.0" r="2.6"/><circle cx="754.7" cy="868.1" r="2.6"/><circle cx="755.6" cy="846.9" r="2.6"/><circle cx="755.6" cy="859.8" r="2.6"/><circle cx="756.2" cy="846.1" r="2.6"/><circle cx="756.7" cy="853.2" r="2.6"/><circle cx="757.8" cy="846.9" r="2.6"/><circle cx="757.2" cy="831.1" r="2.6"/><circle cx="758.6" cy="842.0" r="2.6"/><circle cx="758.6" cy="852.2" r="2.6"/><circle cx="759.6" cy="832.5" r="2.6"/><circle cx="759.0" cy="842.1" r="2.6"/><circle cx="760.3" cy="861.0" r="2.6"/><circle cx="760.3" cy="839.8" r="2.6"/><circle cx="761.9" cy="832.6" r="2.6"/><circle cx="761.4" cy="851.8" r="2.6"/><circle cx="762.4" cy="858.5" r="2.6"/><circle cx="762.4" cy="855.3" r="2.6"/><circle cx="763.0" cy="846.1" r="2.6"/><circle cx="763.6" cy="851.3" r="2.6"/><circle cx="764.5" cy="843.1" r="2.6"/><circle cx="764.6" cy="852.4" r="2.6"/><circle cx="765.4" cy="856.4" r="2.6"/><circle cx="765.7" cy="856.6" r="2.6"/><circle cx="766.2" cy="829.4" r="2.6"/><circle cx="766.3" cy="836.6" r="2.6"/><circle cx="767.8" cy="837.7" r="2.6"/><circle cx="767.4" cy="843.8" r="2.6"/><circle cx="768.1" cy="842.6" r="2.6"/><circle cx="768.6" cy="856.7" r="2.6"/><circle cx="769.2" cy="850.7" r="2.6"/><circle cx="769.3" cy="850.9" r="2.6"/><circle cx="771.0" cy="838.0" r="2.6"/><circle cx="770.3" cy="864.2" r="2.6"/><circle cx="771.9" cy="840.2" r="2.6"/><circle cx="771.9" cy="859.3" r="2.6"/><circle cx="772.8" cy="832.8" r="2.6"/><circle cx="772.6" cy="849.8" r="2.6"/><circle cx="773.7" cy="852.2" r="2.6"/><circle cx="773.3" cy="843.3" r="2.6"/><circle cx="774.2" cy="849.1" r="2.6"/><circle cx="774.7" cy="842.4" r="2.6"/><circle cx="775.6" cy="842.4" r="2.6"/><circle cx="775.5" cy="840.6" r="2.6"/><circle cx="777.0" cy="858.6" r="2.6"/><circle cx="776.7" cy="835.8" r="2.6"/><circle cx="777.0" cy="838.1" r="2.6"/><circle cx="777.0" cy="834.0" r="2.6"/><circle cx="778.8" cy="855.4" r="2.6"/><circle cx="778.1" cy="833.7" r="2.6"/><circle cx="779.9" cy="831.0" r="2.6"/><circle cx="779.5" cy="852.6" r="2.6"/><circle cx="780.1" cy="842.8" r="2.6"/><circle cx="780.4" cy="830.2" r="2.6"/><circle cx="781.4" cy="850.5" r="2.6"/><circle cx="781.8" cy="833.3" r="2.6"/><circle cx="782.1" cy="828.9" r="2.6"/><circle cx="782.6" cy="850.9" r="2.6"/><circle cx="783.3" cy="859.5" r="2.6"/><circle cx="783.4" cy="836.3" r="2.6"/><circle cx="784.5" cy="858.4" r="2.6"/><circle cx="784.5" cy="852.9" r="2.6"/><circle cx="785.5" cy="856.2" r="2.6"/><circle cx="785.5" cy="844.8" r="2.6"/><circle cx="786.9" cy="852.4" r="2.6"/><circle cx="786.4" cy="832.0" r="2.6"/><circle cx="787.6" cy="831.8" r="2.6"/><circle cx="788.0" cy="858.3" r="2.6"/><circle cx="788.1" cy="855.5" r="2.6"/><circle cx="788.4" cy="854.9" r="2.6"/><circle cx="789.5" cy="851.7" r="2.6"/><circle cx="789.1" cy="851.0" r="2.6"/><circle cx="790.4" cy="842.4" r="2.6"/><circle cx="790.4" cy="859.5" r="2.6"/><circle cx="791.7" cy="843.4" r="2.6"/><circle cx="791.4" cy="846.7" r="2.6"/><circle cx="792.4" cy="838.0" r="2.6"/><circle cx="792.6" cy="838.2" r="2.6"/><circle cx="793.1" cy="851.0" r="2.6"/><circle cx="793.5" cy="843.3" r="2.6"/><circle cx="794.4" cy="859.2" r="2.6"/><circle cx="794.3" cy="850.4" r="2.6"/><circle cx="795.3" cy="843.5" r="2.6"/><circle cx="795.3" cy="853.4" r="2.6"/><circle cx="796.7" cy="858.5" r="2.6"/><circle cx="796.4" cy="838.0" r="2.6"/><circle cx="797.9" cy="848.0" r="2.6"/><circle cx="797.2" cy="852.8" r="2.6"/><circle cx="798.0" cy="842.1" r="2.6"/><circle cx="798.9" cy="866.7" r="2.6"/><circle cx="800.0" cy="861.1" r="2.6"/><circle cx="799.4" cy="830.5" r="2.6"/><circle cx="800.9" cy="849.9" r="2.6"/><circle cx="800.4" cy="837.0" r="2.6"/><circle cx="801.6" cy="833.6" r="2.6"/><circle cx="801.2" cy="833.0" r="2.6"/><circle cx="802.3" cy="847.0" r="2.6"/><circle cx="802.1" cy="843.6" r="2.6"/><circle cx="803.9" cy="865.6" r="2.6"/><circle cx="803.5" cy="843.1" r="2.6"/><circle cx="804.2" cy="871.4" r="2.6"/><circle cx="804.6" cy="859.1" r="2.6"/><circle cx="805.7" cy="848.8" r="2.6"/><circle cx="805.6" cy="860.5" r="2.6"/><circle cx="806.3" cy="862.9" r="2.6"/><circle cx="806.4" cy="836.7" r="2.6"/><circle cx="807.7" cy="874.5" r="2.6"/><circle cx="807.4" cy="858.4" r="2.6"/><circle cx="808.8" cy="854.3" r="2.6"/><circle cx="808.6" cy="867.2" r="2.6"/><circle cx="809.1" cy="860.0" r="2.6"/><circle cx="809.4" cy="852.1" r="2.6"/><circle cx="810.9" cy="849.3" r="2.6"/><circle cx="810.9" cy="873.6" r="2.6"/><circle cx="811.8" cy="858.8" r="2.6"/><circle cx="811.8" cy="858.6" r="2.6"/><circle cx="812.7" cy="871.2" r="2.6"/><circle cx="812.1" cy="857.4" r="2.6"/><circle cx="813.8" cy="845.8" r="2.6"/><circle cx="813.9" cy="851.8" r="2.6"/><circle cx="814.4" cy="867.4" r="2.6"/><circle cx="814.4" cy="846.0" r="2.6"/><circle cx="815.8" cy="855.0" r="2.6"/><circle cx="815.5" cy="845.3" r="2.6"/><circle cx="816.3" cy="875.3" r="2.6"/><circle cx="816.5" cy="850.2" r="2.6"/><circle cx="817.1" cy="862.2" r="2.6"/><circle cx="817.1" cy="876.4" r="2.6"/><circle cx="818.1" cy="872.5" r="2.6"/><circle cx="818.5" cy="858.0" r="2.6"/><circle cx="819.8" cy="863.5" r="2.6"/><circle cx="819.1" cy="882.1" r="2.6"/><circle cx="820.2" cy="846.2" r="2.6"/><circle cx="820.3" cy="852.1" r="2.6"/><circle cx="821.4" cy="853.5" r="2.6"/><circle cx="821.7" cy="866.4" r="2.6"/><circle cx="823.0" cy="873.2" r="2.6"/><circle cx="822.8" cy="859.6" r="2.6"/><circle cx="823.9" cy="861.6" r="2.6"/><circle cx="823.7" cy="851.3" r="2.6"/><circle cx="824.8" cy="882.0" r="2.6"/><circle cx="824.6" cy="878.8" r="2.6"/><circle cx="825.4" cy="871.5" r="2.6"/><circle cx="825.4" cy="861.4" r="2.6"/><circle cx="826.1" cy="882.0" r="2.6"/><circle cx="826.6" cy="857.4" r="2.6"/><circle cx="827.4" cy="863.5" r="2.6"/><circle cx="827.7" cy="865.4" r="2.6"/><circle cx="828.1" cy="864.5" r="2.6"/><circle cx="828.0" cy="887.5" r="2.6"/><circle cx="829.7" cy="871.4" r="2.6"/><circle cx="829.1" cy="861.9" r="2.6"/><circle cx="830.4" cy="865.8" r="2.6"/><circle cx="830.6" cy="874.5" r="2.6"/><circle cx="831.4" cy="870.5" r="2.6"/><circle cx="831.6" cy="874.1" r="2.6"/><circle cx="832.6" cy="885.6" r="2.6"/><circle cx="832.7" cy="871.1" r="2.6"/><circle cx="833.6" cy="867.2" r="2.6"/><circle cx="833.8" cy="884.5" r="2.6"/><circle cx="834.5" cy="857.0" r="2.6"/><circle cx="835.0" cy="857.8" r="2.6"/><circle cx="835.3" cy="891.9" r="2.6"/><circle cx="835.2" cy="863.0" r="2.6"/><circle cx="836.9" cy="893.8" r="2.6"/><circle cx="836.3" cy="883.2" r="2.6"/><circle cx="837.7" cy="859.6" r="2.6"/><circle cx="837.9" cy="866.3" r="2.6"/><circle cx="838.6" cy="881.5" r="2.6"/><circle cx="838.0" cy="877.3" r="2.6"/><circle cx="839.9" cy="868.7" r="2.6"/><circle cx="839.6" cy="889.0" r="2.6"/>
<circle cx="116.9" cy="1019.1" r="2.6"/><circle cx="122.8" cy="1022.4" r="2.6"/><circle cx="126.8" cy="1025.1" r="2.6"/><circle cx="129.1" cy="1023.2" r="2.6"/><circle cx="131.0" cy="1024.9" r="2.6"/><circle cx="133.4" cy="1025.2" r="2.6"/><circle cx="135.8" cy="1025.2" r="2.6"/><circle cx="136.1" cy="1027.1" r="2.6"/><circle cx="138.5" cy="1024.7" r="2.6"/><circle cx="140.8" cy="1021.5" r="2.6"/><circle cx="141.8" cy="1019.5" r="2.6"/><circle cx="143.6" cy="1018.7" r="2.6"/><circle cx="146.1" cy="1022.9" r="2.6"/><circle cx="149.2" cy="1022.0" r="2.6"/><circle cx="151.0" cy="1023.4" r="2.6"/><circle cx="152.5" cy="1020.8" r="2.6"/><circle cx="155.1" cy="1022.2" r="2.6"/><circle cx="157.3" cy="1022.9" r="2.6"/><circle cx="158.1" cy="1024.4" r="2.6"/><circle cx="161.3" cy="1022.3" r="2.6"/><circle cx="163.4" cy="1020.4" r="2.6"/><circle cx="165.3" cy="1021.6" r="2.6"/><circle cx="167.6" cy="1020.7" r="2.6"/><circle cx="169.7" cy="1025.2" r="2.6"/><circle cx="170.5" cy="1027.4" r="2.6"/><circle cx="174.0" cy="1023.6" r="2.6"/><circle cx="178.6" cy="1020.0" r="2.6"/><circle cx="179.6" cy="1021.0" r="2.6"/><circle cx="182.0" cy="1021.6" r="2.6"/><circle cx="186.7" cy="1020.8" r="2.6"/><circle cx="192.7" cy="1024.0" r="2.6"/><circle cx="194.8" cy="1021.2" r="2.6"/><circle cx="196.2" cy="1022.8" r="2.6"/><circle cx="198.3" cy="1022.7" r="2.6"/><circle cx="199.1" cy="1022.4" r="2.6"/><circle cx="200.8" cy="1023.7" r="2.6"/><circle cx="203.1" cy="1024.9" r="2.6"/><circle cx="205.3" cy="1024.3" r="2.6"/><circle cx="207.8" cy="1021.6" r="2.6"/><circle cx="209.3" cy="1021.8" r="2.6"/><circle cx="210.6" cy="1020.5" r="2.6"/><circle cx="211.8" cy="1020.8" r="2.6"/><circle cx="216.4" cy="1020.4" r="2.6"/><circle cx="219.1" cy="1015.0" r="2.6"/><circle cx="221.2" cy="1014.7" r="2.6"/><circle cx="223.3" cy="1016.9" r="2.6"/><circle cx="225.2" cy="1015.1" r="2.6"/><circle cx="226.1" cy="1015.0" r="2.6"/><circle cx="228.3" cy="1013.2" r="2.6"/><circle cx="230.3" cy="1014.2" r="2.6"/><circle cx="235.9" cy="1017.0" r="2.6"/><circle cx="237.7" cy="1017.0" r="2.6"/><circle cx="239.4" cy="1015.5" r="2.6"/><circle cx="240.9" cy="1015.0" r="2.6"/><circle cx="243.6" cy="1014.6" r="2.6"/><circle cx="245.0" cy="1014.6" r="2.6"/><circle cx="251.8" cy="1014.4" r="2.6"/><circle cx="253.9" cy="1013.8" r="2.6"/><circle cx="257.3" cy="1011.7" r="2.6"/><circle cx="260.8" cy="1008.2" r="2.6"/><circle cx="262.3" cy="1006.8" r="2.6"/><circle cx="264.9" cy="1006.1" r="2.6"/><circle cx="266.0" cy="1004.5" r="2.6"/><circle cx="271.4" cy="1005.3" r="2.6"/><circle cx="274.3" cy="1004.5" r="2.6"/><circle cx="275.4" cy="1004.3" r="2.6"/><circle cx="278.4" cy="1006.0" r="2.6"/><circle cx="280.8" cy="1009.7" r="2.6"/><circle cx="282.6" cy="1010.2" r="2.6"/><circle cx="285.1" cy="1010.7" r="2.6"/><circle cx="287.0" cy="1010.6" r="2.6"/><circle cx="289.5" cy="1009.6" r="2.6"/><circle cx="291.5" cy="1007.1" r="2.6"/><circle cx="292.7" cy="1003.2" r="2.6"/><circle cx="297.6" cy="1003.3" r="2.6"/><circle cx="300.0" cy="1005.6" r="2.6"/><circle cx="301.7" cy="1009.4" r="2.6"/><circle cx="306.6" cy="1013.3" r="2.6"/><circle cx="309.0" cy="1012.6" r="2.6"/><circle cx="312.1" cy="1009.3" r="2.6"/><circle cx="312.7" cy="1008.7" r="2.6"/><circle cx="317.9" cy="1002.5" r="2.6"/><circle cx="319.6" cy="999.5" r="2.6"/><circle cx="323.4" cy="997.6" r="2.6"/><circle cx="326.5" cy="997.5" r="2.6"/><circle cx="327.9" cy="997.8" r="2.6"/><circle cx="331.5" cy="1000.3" r="2.6"/><circle cx="333.5" cy="1002.8" r="2.6"/><circle cx="334.2" cy="1003.1" r="2.6"/><circle cx="338.2" cy="1001.7" r="2.6"/><circle cx="340.4" cy="1001.7" r="2.6"/><circle cx="342.0" cy="1004.1" r="2.6"/><circle cx="343.2" cy="1002.7" r="2.6"/><circle cx="345.1" cy="1003.1" r="2.6"/><circle cx="348.9" cy="1002.8" r="2.6"/><circle cx="351.3" cy="1006.2" r="2.6"/><circle cx="352.8" cy="1006.6" r="2.6"/><circle cx="354.3" cy="1005.8" r="2.6"/><circle cx="358.0" cy="1004.3" r="2.6"/><circle cx="359.7" cy="1003.8" r="2.6"/><circle cx="363.6" cy="1004.3" r="2.6"/><circle cx="365.8" cy="1007.6" r="2.6"/><circle cx="367.1" cy="1006.8" r="2.6"/><circle cx="370.4" cy="1009.2" r="2.6"/><circle cx="373.3" cy="1009.0" r="2.6"/><circle cx="378.5" cy="1006.8" r="2.6"/><circle cx="382.3" cy="1006.0" r="2.6"/><circle cx="385.0" cy="1009.3" r="2.6"/><circle cx="387.2" cy="1006.7" r="2.6"/><circle cx="391.4" cy="1007.8" r="2.6"/><circle cx="395.0" cy="1008.6" r="2.6"/><circle cx="395.4" cy="1008.2" r="2.6"/><circle cx="401.2" cy="1010.5" r="2.6"/><circle cx="403.2" cy="1007.5" r="2.6"/><circle cx="404.7" cy="1010.7" r="2.6"/><circle cx="406.7" cy="1008.2" r="2.6"/><circle cx="409.9" cy="1011.6" r="2.6"/><circle cx="412.2" cy="1008.3" r="2.6"/><circle cx="413.6" cy="1012.2" r="2.6"/><circle cx="417.3" cy="1010.9" r="2.6"/><circle cx="420.4" cy="1010.7" r="2.6"/><circle cx="425.5" cy="1010.1" r="2.6"/><circle cx="426.2" cy="1013.1" r="2.6"/><circle cx="428.5" cy="1010.2" r="2.6"/><circle cx="429.9" cy="1009.5" r="2.6"/><circle cx="432.2" cy="1012.5" r="2.6"/><circle cx="436.3" cy="1011.5" r="2.6"/><circle cx="439.0" cy="1012.7" r="2.6"/><circle cx="441.3" cy="1016.3" r="2.6"/><circle cx="442.3" cy="1016.1" r="2.6"/><circle cx="444.4" cy="1014.1" r="2.6"/><circle cx="445.9" cy="1013.7" r="2.6"/><circle cx="447.7" cy="1017.6" r="2.6"/><circle cx="450.6" cy="1017.2" r="2.6"/><circle cx="451.8" cy="1015.1" r="2.6"/><circle cx="462.5" cy="1013.1" r="2.6"/><circle cx="465.5" cy="1009.5" r="2.6"/><circle cx="473.5" cy="1009.6" r="2.6"/><circle cx="477.6" cy="1007.7" r="2.6"/><circle cx="481.1" cy="1008.6" r="2.6"/><circle cx="482.0" cy="1005.8" r="2.6"/><circle cx="486.4" cy="1005.6" r="2.6"/><circle cx="489.2" cy="1000.8" r="2.6"/><circle cx="491.8" cy="997.7" r="2.6"/><circle cx="493.4" cy="996.1" r="2.6"/><circle cx="496.3" cy="1004.1" r="2.6"/><circle cx="498.0" cy="1005.8" r="2.6"/><circle cx="500.1" cy="1010.1" r="2.6"/><circle cx="508.3" cy="1013.1" r="2.6"/><circle cx="509.8" cy="1010.0" r="2.6"/><circle cx="510.5" cy="1010.8" r="2.6"/><circle cx="513.3" cy="1010.4" r="2.6"/><circle cx="514.9" cy="1008.1" r="2.6"/><circle cx="517.3" cy="1010.6" r="2.6"/><circle cx="518.2" cy="1006.7" r="2.6"/><circle cx="521.0" cy="1008.4" r="2.6"/><circle cx="521.5" cy="1010.1" r="2.6"/><circle cx="523.8" cy="1007.5" r="2.6"/><circle cx="526.2" cy="1011.8" r="2.6"/><circle cx="529.5" cy="1013.3" r="2.6"/><circle cx="531.4" cy="1014.2" r="2.6"/><circle cx="532.9" cy="1016.8" r="2.6"/><circle cx="538.9" cy="1012.2" r="2.6"/><circle cx="541.2" cy="1008.6" r="2.6"/><circle cx="543.3" cy="1008.5" r="2.6"/><circle cx="544.8" cy="1008.4" r="2.6"/><circle cx="551.3" cy="1007.1" r="2.6"/><circle cx="553.1" cy="1009.5" r="2.6"/><circle cx="555.9" cy="1008.6" r="2.6"/><circle cx="558.5" cy="1013.3" r="2.6"/><circle cx="559.2" cy="1011.9" r="2.6"/><circle cx="561.8" cy="1014.5" r="2.6"/><circle cx="564.1" cy="1014.3" r="2.6"/><circle cx="571.4" cy="1008.9" r="2.6"/><circle cx="572.7" cy="1007.5" r="2.6"/><circle cx="577.3" cy="1004.6" r="2.6"/><circle cx="579.7" cy="1007.4" r="2.6"/><circle cx="582.6" cy="1004.0" r="2.6"/><circle cx="586.6" cy="1002.2" r="2.6"/><circle cx="588.9" cy="999.3" r="2.6"/><circle cx="590.0" cy="1001.3" r="2.6"/><circle cx="592.4" cy="998.5" r="2.6"/><circle cx="598.1" cy="1008.5" r="2.6"/><circle cx="599.5" cy="1011.7" r="2.6"/><circle cx="600.8" cy="1014.2" r="2.6"/><circle cx="603.3" cy="1014.1" r="2.6"/><circle cx="608.5" cy="1011.5" r="2.6"/><circle cx="610.9" cy="1012.1" r="2.6"/><circle cx="612.3" cy="1012.2" r="2.6"/><circle cx="614.0" cy="1011.8" r="2.6"/><circle cx="616.7" cy="1010.7" r="2.6"/><circle cx="619.6" cy="1008.0" r="2.6"/><circle cx="622.6" cy="1006.0" r="2.6"/><circle cx="628.3" cy="1010.1" r="2.6"/><circle cx="630.2" cy="1011.4" r="2.6"/><circle cx="631.8" cy="1011.9" r="2.6"/><circle cx="633.7" cy="1012.0" r="2.6"/><circle cx="638.3" cy="1007.6" r="2.6"/><circle cx="642.9" cy="1010.3" r="2.6"/><circle cx="645.1" cy="1011.4" r="2.6"/><circle cx="646.9" cy="1011.8" r="2.6"/><circle cx="649.6" cy="1014.1" r="2.6"/><circle cx="653.2" cy="1013.7" r="2.6"/><circle cx="654.6" cy="1014.0" r="2.6"/><circle cx="659.0" cy="1015.9" r="2.6"/><circle cx="660.9" cy="1014.3" r="2.6"/><circle cx="661.7" cy="1014.0" r="2.6"/><circle cx="667.2" cy="1014.6" r="2.6"/><circle cx="673.1" cy="1018.8" r="2.6"/><circle cx="674.3" cy="1019.9" r="2.6"/><circle cx="677.2" cy="1018.2" r="2.6"/><circle cx="678.8" cy="1017.4" r="2.6"/><circle cx="679.7" cy="1017.7" r="2.6"/><circle cx="682.9" cy="1018.4" r="2.6"/><circle cx="684.7" cy="1018.7" r="2.6"/><circle cx="686.9" cy="1018.5" r="2.6"/><circle cx="691.3" cy="1018.1" r="2.6"/><circle cx="692.6" cy="1015.8" r="2.6"/><circle cx="694.8" cy="1019.6" r="2.6"/><circle cx="697.2" cy="1020.3" r="2.6"/><circle cx="698.8" cy="1018.9" r="2.6"/><circle cx="702.6" cy="1020.3" r="2.6"/><circle cx="706.3" cy="1017.1" r="2.6"/><circle cx="706.8" cy="1016.7" r="2.6"/><circle cx="711.1" cy="1014.7" r="2.6"/><circle cx="713.0" cy="1015.6" r="2.6"/><circle cx="715.4" cy="1013.0" r="2.6"/><circle cx="716.1" cy="1013.3" r="2.6"/><circle cx="719.4" cy="1016.2" r="2.6"/><circle cx="724.2" cy="1015.3" r="2.6"/><circle cx="731.2" cy="1018.0" r="2.6"/><circle cx="733.1" cy="1016.3" r="2.6"/><circle cx="734.5" cy="1015.1" r="2.6"/><circle cx="736.9" cy="1013.9" r="2.6"/><circle cx="738.5" cy="1016.7" r="2.6"/><circle cx="741.2" cy="1011.6" r="2.6"/><circle cx="743.4" cy="1012.8" r="2.6"/><circle cx="745.5" cy="1009.9" r="2.6"/><circle cx="746.4" cy="1008.8" r="2.6"/><circle cx="752.4" cy="1012.8" r="2.6"/><circle cx="755.0" cy="1013.3" r="2.6"/><circle cx="755.8" cy="1008.8" r="2.6"/><circle cx="761.3" cy="1005.9" r="2.6"/><circle cx="762.6" cy="1005.3" r="2.6"/><circle cx="765.6" cy="1005.6" r="2.6"/><circle cx="766.1" cy="1007.9" r="2.6"/><circle cx="771.0" cy="1008.2" r="2.6"/><circle cx="774.4" cy="1007.3" r="2.6"/><circle cx="775.9" cy="1008.7" r="2.6"/><circle cx="779.0" cy="1010.1" r="2.6"/><circle cx="782.5" cy="1012.7" r="2.6"/><circle cx="785.0" cy="1015.1" r="2.6"/><circle cx="785.9" cy="1015.8" r="2.6"/><circle cx="788.1" cy="1014.5" r="2.6"/><circle cx="790.2" cy="1016.7" r="2.6"/><circle cx="792.8" cy="1021.0" r="2.6"/><circle cx="794.0" cy="1021.1" r="2.6"/><circle cx="795.9" cy="1018.9" r="2.6"/><circle cx="796.9" cy="1022.7" r="2.6"/><circle cx="799.9" cy="1022.0" r="2.6"/><circle cx="801.3" cy="1019.5" r="2.6"/><circle cx="803.2" cy="1020.2" r="2.6"/><circle cx="804.9" cy="1018.3" r="2.6"/><circle cx="806.5" cy="1013.5" r="2.6"/><circle cx="807.9" cy="1011.1" r="2.6"/><circle cx="811.0" cy="1006.9" r="2.6"/><circle cx="813.5" cy="1008.4" r="2.6"/><circle cx="817.1" cy="1004.3" r="2.6"/><circle cx="819.2" cy="1007.4" r="2.6"/><circle cx="826.1" cy="1003.0" r="2.6"/><circle cx="828.6" cy="1002.2" r="2.6"/><circle cx="829.4" cy="1000.7" r="2.6"/><circle cx="833.2" cy="1001.2" r="2.6"/><circle cx="834.5" cy="999.0" r="2.6"/><circle cx="838.7" cy="1000.1" r="2.6"/><circle cx="840.3" cy="998.2" r="2.6"/><circle cx="846.4" cy="1003.5" r="2.6"/><circle cx="847.7" cy="1002.0" r="2.6"/><circle cx="850.1" cy="1003.9" r="2.6"/><circle cx="851.7" cy="1003.7" r="2.6"/><circle cx="854.7" cy="1005.6" r="2.6"/><circle cx="856.6" cy="1008.0" r="2.6"/><circle cx="858.9" cy="1008.2" r="2.6"/><circle cx="859.7" cy="1011.8" r="2.6"/><circle cx="861.9" cy="1013.1" r="2.6"/><circle cx="863.7" cy="1013.8" r="2.6"/><circle cx="865.1" cy="1014.5" r="2.6"/><circle cx="866.9" cy="1019.0" r="2.6"/>
<circle cx="872.0" cy="1022.0" r="2.6"/><circle cx="876.1" cy="1025.1" r="2.6"/><circle cx="878.6" cy="1025.1" r="2.6"/><circle cx="882.1" cy="1027.0" r="2.6"/><circle cx="884.0" cy="1028.4" r="2.6"/><circle cx="888.8" cy="1030.0" r="2.6"/><circle cx="889.9" cy="1030.1" r="2.6"/><circle cx="893.6" cy="1031.1" r="2.6"/><circle cx="896.6" cy="1031.3" r="2.6"/><circle cx="900.8" cy="1031.3" r="2.6"/><circle cx="904.8" cy="1031.0" r="2.6"/><circle cx="905.2" cy="1031.1" r="2.6"/><circle cx="907.7" cy="1032.1" r="2.6"/><circle cx="910.6" cy="1031.7" r="2.6"/><circle cx="912.5" cy="1032.5" r="2.6"/><circle cx="918.4" cy="1031.9" r="2.6"/><circle cx="920.0" cy="1032.4" r="2.6"/><circle cx="921.5" cy="1031.6" r="2.6"/><circle cx="925.7" cy="1031.9" r="2.6"/><circle cx="928.5" cy="1031.0" r="2.6"/><circle cx="935.4" cy="1031.7" r="2.6"/><circle cx="938.6" cy="1031.6" r="2.6"/><circle cx="940.1" cy="1032.4" r="2.6"/><circle cx="942.5" cy="1030.9" r="2.6"/><circle cx="943.9" cy="1031.2" r="2.6"/><circle cx="946.4" cy="1031.0" r="2.6"/><circle cx="948.5" cy="1030.7" r="2.6"/><circle cx="951.4" cy="1030.6" r="2.6"/><circle cx="953.5" cy="1032.3" r="2.6"/><circle cx="957.5" cy="1032.3" r="2.6"/><circle cx="962.5" cy="1032.1" r="2.6"/><circle cx="964.0" cy="1032.4" r="2.6"/><circle cx="967.5" cy="1031.3" r="2.6"/><circle cx="971.7" cy="1031.9" r="2.6"/><circle cx="974.0" cy="1032.5" r="2.6"/><circle cx="975.4" cy="1032.2" r="2.6"/><circle cx="977.3" cy="1030.7" r="2.6"/><circle cx="984.1" cy="1031.9" r="2.6"/><circle cx="985.4" cy="1032.6" r="2.6"/><circle cx="989.5" cy="1030.9" r="2.6"/><circle cx="994.4" cy="1032.0" r="2.6"/>
<circle cx="1329.4" cy="1032.4" r="2.6"/><circle cx="1338.4" cy="1033.4" r="2.6"/><circle cx="1343.8" cy="1033.1" r="2.6"/><circle cx="1348.2" cy="1032.7" r="2.6"/><circle cx="1352.3" cy="1033.2" r="2.6"/><circle cx="1353.3" cy="1031.9" r="2.6"/><circle cx="1356.4" cy="1032.5" r="2.6"/><circle cx="1357.9" cy="1031.9" r="2.6"/><circle cx="1359.4" cy="1031.7" r="2.6"/><circle cx="1363.5" cy="1032.5" r="2.6"/><circle cx="1365.6" cy="1031.5" r="2.6"/><circle cx="1367.7" cy="1032.2" r="2.6"/><circle cx="1369.9" cy="1031.6" r="2.6"/><circle cx="1371.4" cy="1031.8" r="2.6"/><circle cx="1378.3" cy="1030.7" r="2.6"/><circle cx="1379.3" cy="1031.6" r="2.6"/><circle cx="1382.0" cy="1031.1" r="2.6"/><circle cx="1383.4" cy="1030.7" r="2.6"/><circle cx="1386.0" cy="1030.4" r="2.6"/><circle cx="1388.8" cy="1030.6" r="2.6"/><circle cx="1394.3" cy="1029.2" r="2.6"/><circle cx="1395.3" cy="1028.6" r="2.6"/><circle cx="1400.0" cy="1028.9" r="2.6"/><circle cx="1403.5" cy="1028.3" r="2.6"/><circle cx="1408.3" cy="1028.5" r="2.6"/><circle cx="1411.2" cy="1028.3" r="2.6"/><circle cx="1415.6" cy="1028.2" r="2.6"/><circle cx="1417.9" cy="1028.0" r="2.6"/><circle cx="1420.6" cy="1028.8" r="2.6"/><circle cx="1422.3" cy="1028.1" r="2.6"/><circle cx="1424.0" cy="1027.4" r="2.6"/><circle cx="1427.8" cy="1027.9" r="2.6"/><circle cx="1429.9" cy="1027.7" r="2.6"/><circle cx="1431.7" cy="1026.6" r="2.6"/><circle cx="1433.9" cy="1026.6" r="2.6"/><circle cx="1436.4" cy="1026.4" r="2.6"/><circle cx="1441.8" cy="1026.4" r="2.6"/><circle cx="1448.4" cy="1027.7" r="2.6"/><circle cx="1451.8" cy="1027.9" r="2.6"/><circle cx="1456.7" cy="1026.4" r="2.6"/><circle cx="1460.1" cy="1026.3" r="2.6"/>
<circle cx="842.0" cy="910.7" r="2.6"/><circle cx="847.8" cy="914.7" r="2.6"/><circle cx="850.8" cy="918.0" r="2.6"/><circle cx="851.5" cy="920.9" r="2.6"/><circle cx="855.2" cy="928.1" r="2.6"/><circle cx="857.5" cy="933.8" r="2.6"/><circle cx="862.3" cy="958.5" r="2.6"/><circle cx="863.3" cy="970.2" r="2.6"/><circle cx="865.5" cy="978.2" r="2.6"/><circle cx="868.2" cy="983.6" r="2.6"/><circle cx="870.1" cy="987.3" r="2.6"/><circle cx="871.2" cy="990.4" r="2.6"/><circle cx="873.8" cy="997.2" r="2.6"/><circle cx="875.5" cy="1003.7" r="2.6"/><circle cx="877.3" cy="1006.5" r="2.6"/><circle cx="881.9" cy="1002.3" r="2.6"/><circle cx="884.1" cy="998.6" r="2.6"/><circle cx="885.2" cy="999.8" r="2.6"/><circle cx="891.3" cy="1002.0" r="2.6"/><circle cx="893.7" cy="1006.2" r="2.6"/><circle cx="898.0" cy="1011.5" r="2.6"/><circle cx="902.2" cy="1014.9" r="2.6"/><circle cx="906.2" cy="1016.2" r="2.6"/><circle cx="910.3" cy="1018.1" r="2.6"/><circle cx="912.0" cy="1018.7" r="2.6"/><circle cx="913.6" cy="1018.1" r="2.6"/><circle cx="918.6" cy="1019.7" r="2.6"/><circle cx="919.4" cy="1019.9" r="2.6"/><circle cx="928.4" cy="1023.7" r="2.6"/><circle cx="930.6" cy="1023.8" r="2.6"/><circle cx="931.9" cy="1026.4" r="2.6"/><circle cx="938.7" cy="1026.9" r="2.6"/><circle cx="940.2" cy="1028.9" r="2.6"/><circle cx="944.7" cy="1027.4" r="2.6"/><circle cx="946.2" cy="1028.1" r="2.6"/><circle cx="948.2" cy="1029.1" r="2.6"/><circle cx="951.6" cy="1028.8" r="2.6"/><circle cx="953.7" cy="1029.1" r="2.6"/><circle cx="956.4" cy="1028.4" r="2.6"/><circle cx="957.9" cy="1028.5" r="2.6"/><circle cx="959.8" cy="1030.0" r="2.6"/><circle cx="962.6" cy="1029.5" r="2.6"/><circle cx="963.3" cy="1030.5" r="2.6"/><circle cx="966.3" cy="1029.2" r="2.6"/><circle cx="969.8" cy="1029.0" r="2.6"/><circle cx="971.4" cy="1029.8" r="2.6"/><circle cx="978.8" cy="1029.6" r="2.6"/><circle cx="980.3" cy="1028.7" r="2.6"/><circle cx="981.6" cy="1029.6" r="2.6"/><circle cx="990.0" cy="1029.1" r="2.6"/><circle cx="994.2" cy="1029.9" r="2.6"/>
<circle cx="1329.2" cy="1031.2" r="2.6"/><circle cx="1331.7" cy="1031.5" r="2.6"/><circle cx="1340.0" cy="1029.0" r="2.6"/><circle cx="1344.2" cy="1029.3" r="2.6"/><circle cx="1350.2" cy="1027.3" r="2.6"/><circle cx="1352.1" cy="1024.3" r="2.6"/><circle cx="1353.9" cy="1023.6" r="2.6"/><circle cx="1358.0" cy="1025.6" r="2.6"/><circle cx="1360.6" cy="1026.5" r="2.6"/><circle cx="1361.9" cy="1024.4" r="2.6"/><circle cx="1365.3" cy="1024.4" r="2.6"/><circle cx="1367.3" cy="1023.4" r="2.6"/><circle cx="1369.7" cy="1023.5" r="2.6"/><circle cx="1374.2" cy="1022.8" r="2.6"/><circle cx="1375.5" cy="1022.8" r="2.6"/><circle cx="1377.6" cy="1022.4" r="2.6"/><circle cx="1379.9" cy="1019.6" r="2.6"/><circle cx="1382.4" cy="1018.4" r="2.6"/><circle cx="1386.3" cy="1015.2" r="2.6"/><circle cx="1389.3" cy="997.4" r="2.6"/><circle cx="1391.5" cy="995.7" r="2.6"/><circle cx="1396.7" cy="1010.2" r="2.6"/><circle cx="1397.8" cy="1010.5" r="2.6"/><circle cx="1400.5" cy="1011.2" r="2.6"/><circle cx="1401.4" cy="1009.6" r="2.6"/><circle cx="1403.6" cy="1006.9" r="2.6"/><circle cx="1406.4" cy="1005.7" r="2.6"/><circle cx="1412.2" cy="997.8" r="2.6"/><circle cx="1413.8" cy="992.3" r="2.6"/><circle cx="1416.1" cy="993.3" r="2.6"/><circle cx="1417.8" cy="995.5" r="2.6"/><circle cx="1420.1" cy="992.7" r="2.6"/><circle cx="1425.3" cy="986.6" r="2.6"/><circle cx="1430.0" cy="960.1" r="2.6"/><circle cx="1432.6" cy="962.8" r="2.6"/><circle cx="1442.4" cy="984.4" r="2.6"/><circle cx="1450.1" cy="987.5" r="2.6"/><circle cx="1451.7" cy="988.1" r="2.6"/><circle cx="1459.5" cy="933.4" r="2.6"/>
<circle cx="164.3" cy="926.5" r="2.6"/><circle cx="180.6" cy="926.5" r="2.6"/><circle cx="191.9" cy="907.0" r="2.6"/><circle cx="191.9" cy="913.2" r="2.6"/><circle cx="191.9" cy="922.4" r="2.6"/><circle cx="223.7" cy="890.6" r="2.6"/><circle cx="227.7" cy="891.7" r="2.6"/><circle cx="244.1" cy="883.5" r="2.6"/><circle cx="251.3" cy="879.4" r="2.6"/><circle cx="251.3" cy="885.5" r="2.6"/><circle cx="264.6" cy="884.5" r="2.6"/><circle cx="264.6" cy="891.7" r="2.6"/><circle cx="297.4" cy="877.3" r="2.6"/><circle cx="297.4" cy="889.6" r="2.6"/><circle cx="297.4" cy="897.8" r="2.6"/><circle cx="324.0" cy="832.3" r="2.6"/><circle cx="325.0" cy="844.6" r="2.6"/><circle cx="340.4" cy="828.2" r="2.6"/><circle cx="341.4" cy="835.4" r="2.6"/><circle cx="172.5" cy="1028.9" r="2.6"/><circle cx="288.2" cy="1012.5" r="2.6"/><circle cx="307.6" cy="1016.6" r="2.6"/><circle cx="210.3" cy="921.4" r="2.6"/><circle cx="205.2" cy="922.4" r="2.6"/><circle cx="273.8" cy="901.9" r="2.6"/><circle cx="140.7" cy="953.1" r="2.6"/><circle cx="155.1" cy="953.1" r="2.6"/><circle cx="118.2" cy="944.9" r="2.6"/><circle cx="163.2" cy="934.7" r="2.6"/><circle cx="179.6" cy="934.7" r="2.6"/><circle cx="191.9" cy="930.6" r="2.6"/><circle cx="325.0" cy="852.8" r="2.6"/><circle cx="323.0" cy="861.0" r="2.6"/><circle cx="339.4" cy="844.6" r="2.6"/><circle cx="341.4" cy="854.8" r="2.6"/><circle cx="316.8" cy="861.0" r="2.6"/><circle cx="310.7" cy="873.2" r="2.6"/><circle cx="303.5" cy="891.7" r="2.6"/><circle cx="358.4" cy="753.2" r="2.6"/><circle cx="358.4" cy="768.0" r="2.6"/><circle cx="358.4" cy="772.1" r="2.6"/><circle cx="358.4" cy="775.8" r="2.6"/><circle cx="358.4" cy="779.6" r="2.6"/><circle cx="358.4" cy="783.3" r="2.6"/><circle cx="358.4" cy="788.5" r="2.6"/><circle cx="358.4" cy="793.6" r="2.6"/><circle cx="358.4" cy="797.7" r="2.6"/><circle cx="358.4" cy="811.0" r="2.6"/><circle cx="358.4" cy="816.1" r="2.6"/><circle cx="358.4" cy="820.2" r="2.6"/><circle cx="358.4" cy="823.3" r="2.6"/><circle cx="358.4" cy="827.9" r="2.6"/><circle cx="358.4" cy="832.5" r="2.6"/><circle cx="362.5" cy="768.0" r="2.6"/><circle cx="362.5" cy="771.6" r="2.6"/><circle cx="362.5" cy="775.2" r="2.6"/><circle cx="341.0" cy="811.0" r="2.6"/><circle cx="341.0" cy="824.3" r="2.6"/><circle cx="377.9" cy="808.9" r="2.6"/><circle cx="377.9" cy="821.2" r="2.6"/><circle cx="377.9" cy="838.6" r="2.6"/><circle cx="385.5" cy="787.8" r="2.6"/><circle cx="385.5" cy="803.4" r="2.6"/><circle cx="385.5" cy="807.2" r="2.6"/><circle cx="385.5" cy="811.0" r="2.6"/><circle cx="385.5" cy="825.3" r="2.6"/><circle cx="385.5" cy="829.4" r="2.6"/><circle cx="385.5" cy="833.5" r="2.6"/><circle cx="385.5" cy="836.6" r="2.6"/><circle cx="385.5" cy="839.7" r="2.6"/><circle cx="385.5" cy="844.8" r="2.6"/><circle cx="366.6" cy="833.5" r="2.6"/><circle cx="366.6" cy="836.6" r="2.6"/><circle cx="366.6" cy="839.7" r="2.6"/><circle cx="418.4" cy="795.0" r="2.6"/><circle cx="418.4" cy="798.7" r="2.6"/><circle cx="418.4" cy="802.4" r="2.6"/><circle cx="418.4" cy="806.3" r="2.6"/><circle cx="418.4" cy="810.2" r="2.6"/><circle cx="418.4" cy="814.1" r="2.6"/><circle cx="418.4" cy="829.4" r="2.6"/><circle cx="418.4" cy="833.5" r="2.6"/><circle cx="418.4" cy="836.6" r="2.6"/><circle cx="418.4" cy="839.7" r="2.6"/><circle cx="418.4" cy="844.8" r="2.6"/><circle cx="429.1" cy="830.4" r="2.6"/><circle cx="429.1" cy="834.5" r="2.6"/><circle cx="429.1" cy="838.6" r="2.6"/><circle cx="429.1" cy="857.1" r="2.6"/><circle cx="409.6" cy="834.5" r="2.6"/><circle cx="409.6" cy="839.7" r="2.6"/><circle cx="409.6" cy="844.8" r="2.6"/><circle cx="420.9" cy="857.1" r="2.6"/><circle cx="398.4" cy="854.0" r="2.6"/><circle cx="398.4" cy="867.3" r="2.6"/><circle cx="392.2" cy="854.0" r="2.6"/><circle cx="481.3" cy="779.7" r="2.6"/><circle cx="481.3" cy="783.3" r="2.6"/><circle cx="481.3" cy="787.0" r="2.6"/><circle cx="493.2" cy="741.4" r="2.6"/><circle cx="493.2" cy="753.7" r="2.6"/><circle cx="493.2" cy="758.8" r="2.6"/><circle cx="493.2" cy="763.9" r="2.6"/><circle cx="493.2" cy="769.0" r="2.6"/><circle cx="493.2" cy="773.1" r="2.6"/><circle cx="493.2" cy="777.2" r="2.6"/><circle cx="493.2" cy="781.3" r="2.6"/><circle cx="501.8" cy="753.7" r="2.6"/><circle cx="501.8" cy="758.8" r="2.6"/><circle cx="501.8" cy="773.1" r="2.6"/><circle cx="501.8" cy="778.2" r="2.6"/><circle cx="501.8" cy="783.3" r="2.6"/><circle cx="498.7" cy="771.1" r="2.6"/><circle cx="498.7" cy="787.4" r="2.6"/><circle cx="515.1" cy="718.8" r="2.6"/><circle cx="515.1" cy="722.9" r="2.6"/><circle cx="515.1" cy="726.7" r="2.6"/><circle cx="515.1" cy="730.4" r="2.6"/><circle cx="515.1" cy="734.2" r="2.6"/><circle cx="515.1" cy="738.3" r="2.6"/><circle cx="515.1" cy="742.9" r="2.6"/><circle cx="515.1" cy="747.5" r="2.6"/><circle cx="515.1" cy="752.6" r="2.6"/><circle cx="515.1" cy="755.7" r="2.6"/><circle cx="515.1" cy="758.8" r="2.6"/><circle cx="515.1" cy="771.1" r="2.6"/><circle cx="515.1" cy="774.1" r="2.6"/><circle cx="515.1" cy="777.2" r="2.6"/><circle cx="515.1" cy="781.3" r="2.6"/><circle cx="515.1" cy="785.4" r="2.6"/><circle cx="515.1" cy="789.5" r="2.6"/><circle cx="519.2" cy="734.2" r="2.6"/><circle cx="519.2" cy="747.5" r="2.6"/><circle cx="519.2" cy="776.2" r="2.6"/><circle cx="525.3" cy="779.2" r="2.6"/><circle cx="525.3" cy="782.3" r="2.6"/><circle cx="525.3" cy="785.4" r="2.6"/><circle cx="525.3" cy="790.5" r="2.6"/><circle cx="525.3" cy="795.6" r="2.6"/><circle cx="525.3" cy="798.7" r="2.6"/><circle cx="525.3" cy="801.8" r="2.6"/><circle cx="525.3" cy="804.8" r="2.6"/><circle cx="525.3" cy="807.9" r="2.6"/><circle cx="538.2" cy="768.0" r="2.6"/><circle cx="538.2" cy="771.7" r="2.6"/><circle cx="538.2" cy="775.5" r="2.6"/><circle cx="538.2" cy="779.2" r="2.6"/><circle cx="538.2" cy="782.3" r="2.6"/><circle cx="538.2" cy="785.4" r="2.6"/><circle cx="538.2" cy="801.8" r="2.6"/><circle cx="543.8" cy="779.2" r="2.6"/><circle cx="543.8" cy="792.6" r="2.6"/><circle cx="558.7" cy="762.9" r="2.6"/><circle cx="558.7" cy="765.9" r="2.6"/><circle cx="558.7" cy="771.1" r="2.6"/><circle cx="558.7" cy="776.2" r="2.6"/><circle cx="558.7" cy="779.8" r="2.6"/><circle cx="558.7" cy="783.3" r="2.6"/><circle cx="558.7" cy="787.4" r="2.6"/><circle cx="558.7" cy="791.5" r="2.6"/><circle cx="558.7" cy="807.9" r="2.6"/><circle cx="571.4" cy="705.5" r="2.6"/><circle cx="571.4" cy="709.6" r="2.6"/><circle cx="571.4" cy="714.0" r="2.6"/><circle cx="571.4" cy="718.4" r="2.6"/><circle cx="571.4" cy="723.4" r="2.6"/><circle cx="571.4" cy="728.5" r="2.6"/><circle cx="571.4" cy="742.4" r="2.6"/><circle cx="571.4" cy="746.5" r="2.6"/><circle cx="571.4" cy="770.0" r="2.6"/><circle cx="571.4" cy="785.4" r="2.6"/><circle cx="474.1" cy="811.0" r="2.6"/><circle cx="474.1" cy="816.1" r="2.6"/><circle cx="474.1" cy="819.2" r="2.6"/><circle cx="474.1" cy="822.3" r="2.6"/><circle cx="474.1" cy="825.3" r="2.6"/><circle cx="474.1" cy="828.4" r="2.6"/><circle cx="474.1" cy="832.5" r="2.6"/><circle cx="474.1" cy="836.6" r="2.6"/><circle cx="487.4" cy="802.8" r="2.6"/><circle cx="487.4" cy="807.9" r="2.6"/><circle cx="510.0" cy="786.4" r="2.6"/><circle cx="510.0" cy="790.0" r="2.6"/><circle cx="510.0" cy="793.6" r="2.6"/><circle cx="510.0" cy="797.7" r="2.6"/><circle cx="510.0" cy="801.8" r="2.6"/><circle cx="510.0" cy="804.8" r="2.6"/><circle cx="510.0" cy="807.9" r="2.6"/><circle cx="548.9" cy="818.2" r="2.6"/><circle cx="548.9" cy="821.2" r="2.6"/><circle cx="548.9" cy="824.3" r="2.6"/><circle cx="325.2" cy="781.4" r="2.6"/><circle cx="325.2" cy="796.4" r="2.6"/><circle cx="325.2" cy="804.4" r="2.6"/><circle cx="325.2" cy="821.4" r="2.6"/><circle cx="324.2" cy="832.6" r="2.6"/><circle cx="325.2" cy="843.9" r="2.6"/><circle cx="340.6" cy="811.1" r="2.6"/><circle cx="340.6" cy="827.5" r="2.6"/><circle cx="341.6" cy="834.7" r="2.6"/><circle cx="347.7" cy="843.9" r="2.6"/><circle cx="358.4" cy="753.2" r="2.6"/><circle cx="362.5" cy="768.1" r="2.6"/><circle cx="358.4" cy="772.6" r="2.6"/><circle cx="358.4" cy="783.5" r="2.6"/><circle cx="362.5" cy="794.7" r="2.6"/><circle cx="362.5" cy="797.8" r="2.6"/><circle cx="362.1" cy="811.1" r="2.6"/><circle cx="358.4" cy="816.2" r="2.6"/><circle cx="358.4" cy="822.4" r="2.6"/><circle cx="362.5" cy="820.3" r="2.6"/><circle cx="358.4" cy="832.6" r="2.6"/><circle cx="367.2" cy="833.7" r="2.6"/><circle cx="367.2" cy="840.4" r="2.6"/><circle cx="378.5" cy="809.3" r="2.6"/><circle cx="378.5" cy="821.4" r="2.6"/><circle cx="380.1" cy="832.2" r="2.6"/><circle cx="378.5" cy="838.8" r="2.6"/><circle cx="385.6" cy="788.2" r="2.6"/><circle cx="385.6" cy="803.5" r="2.6"/><circle cx="386.0" cy="810.7" r="2.6"/><circle cx="386.7" cy="826.5" r="2.6"/><circle cx="386.7" cy="833.0" r="2.6"/><circle cx="385.6" cy="838.8" r="2.6"/><circle cx="385.6" cy="844.9" r="2.6"/><circle cx="380.5" cy="856.2" r="2.6"/><circle cx="386.7" cy="854.1" r="2.6"/><circle cx="392.8" cy="854.7" r="2.6"/><circle cx="397.9" cy="855.2" r="2.6"/><circle cx="397.9" cy="867.4" r="2.6"/><circle cx="418.4" cy="795.4" r="2.6"/><circle cx="418.4" cy="802.3" r="2.6"/><circle cx="418.4" cy="814.2" r="2.6"/><circle cx="420.4" cy="828.5" r="2.6"/><circle cx="418.4" cy="834.7" r="2.6"/><circle cx="420.4" cy="842.9" r="2.6"/><circle cx="409.2" cy="834.7" r="2.6"/><circle cx="429.7" cy="830.6" r="2.6"/><circle cx="429.7" cy="838.8" r="2.6"/><circle cx="429.7" cy="856.6" r="2.6"/><circle cx="429.7" cy="865.4" r="2.6"/><circle cx="420.4" cy="857.2" r="2.6"/><circle cx="446.5" cy="883.8" r="2.6"/><circle cx="446.5" cy="892.0" r="2.6"/><circle cx="450.1" cy="887.9" r="2.6"/><circle cx="436.8" cy="904.3" r="2.6"/><circle cx="446.5" cy="899.2" r="2.6"/><circle cx="450.1" cy="902.3" r="2.6"/><circle cx="297.6" cy="877.3" r="2.6"/><circle cx="297.6" cy="889.4" r="2.6"/><circle cx="297.6" cy="897.1" r="2.6"/><circle cx="297.6" cy="906.3" r="2.6"/><circle cx="309.9" cy="873.6" r="2.6"/><circle cx="303.7" cy="894.1" r="2.6"/><circle cx="244.3" cy="883.2" r="2.6"/><circle cx="251.5" cy="879.1" r="2.6"/><circle cx="251.5" cy="883.8" r="2.6"/><circle cx="264.4" cy="884.4" r="2.6"/><circle cx="264.4" cy="891.0" r="2.6"/><circle cx="244.3" cy="898.2" r="2.6"/><circle cx="251.5" cy="896.1" r="2.6"/><circle cx="251.5" cy="900.2" r="2.6"/><circle cx="274.0" cy="901.2" r="2.6"/><circle cx="230.0" cy="892.0" r="2.6"/><circle cx="330.3" cy="861.3" r="2.6"/><circle cx="317.0" cy="860.3" r="2.6"/><circle cx="373.3" cy="863.3" r="2.6"/><circle cx="371.3" cy="851.1" r="2.6"/><circle cx="373.3" cy="855.2" r="2.6"/><circle cx="392.8" cy="878.7" r="2.6"/><circle cx="400.0" cy="881.8" r="2.6"/><circle cx="410.2" cy="851.1" r="2.6"/><circle cx="411.2" cy="859.2" r="2.6"/><circle cx="426.6" cy="867.4" r="2.6"/><circle cx="428.6" cy="875.6" r="2.6"/><circle cx="325.2" cy="849.0" r="2.6"/><circle cx="325.2" cy="853.1" r="2.6"/><circle cx="340.6" cy="842.9" r="2.6"/><circle cx="358.4" cy="840.8" r="2.6"/><circle cx="358.4" cy="844.9" r="2.6"/><circle cx="362.5" cy="826.5" r="2.6"/><circle cx="385.6" cy="851.1" r="2.6"/><circle cx="418.4" cy="847.0" r="2.6"/><circle cx="420.4" cy="851.1" r="2.6"/><circle cx="429.7" cy="847.0" r="2.6"/><circle cx="352.9" cy="842.9" r="2.6"/><circle cx="373.3" cy="847.0" r="2.6"/><circle cx="591.3" cy="597.9" r="2.6"/><circle cx="591.3" cy="615.4" r="2.6"/><circle cx="591.3" cy="620.4" r="2.6"/><circle cx="591.3" cy="625.4" r="2.6"/><circle cx="591.3" cy="648.6" r="2.6"/><circle cx="591.3" cy="670.3" r="2.6"/><circle cx="591.3" cy="686.3" r="2.6"/><circle cx="591.3" cy="712.6" r="2.6"/><circle cx="591.3" cy="718.1" r="2.6"/><circle cx="591.3" cy="737.2" r="2.6"/><circle cx="591.3" cy="742.2" r="2.6"/><circle cx="591.3" cy="747.2" r="2.6"/><circle cx="603.5" cy="698.3" r="2.6"/><circle cx="603.5" cy="701.8" r="2.6"/><circle cx="603.5" cy="705.4" r="2.6"/><circle cx="603.5" cy="710.0" r="2.6"/><circle cx="603.5" cy="714.5" r="2.6"/><circle cx="603.5" cy="720.1" r="2.6"/><circle cx="603.5" cy="725.7" r="2.6"/><circle cx="603.5" cy="731.7" r="2.6"/><circle cx="603.5" cy="737.1" r="2.6"/><circle cx="603.5" cy="742.5" r="2.6"/><circle cx="603.5" cy="748.4" r="2.6"/><circle cx="603.5" cy="754.4" r="2.6"/><circle cx="603.5" cy="758.0" r="2.6"/><circle cx="603.5" cy="761.6" r="2.6"/><circle cx="571.5" cy="705.4" r="2.6"/><circle cx="571.5" cy="710.2" r="2.6"/><circle cx="571.5" cy="714.4" r="2.6"/><circle cx="571.5" cy="718.6" r="2.6"/><circle cx="571.5" cy="723.3" r="2.6"/><circle cx="571.5" cy="728.1" r="2.6"/><circle cx="571.5" cy="742.5" r="2.6"/><circle cx="571.5" cy="747.2" r="2.6"/><circle cx="571.5" cy="769.9" r="2.6"/><circle cx="571.5" cy="785.5" r="2.6"/><circle cx="571.5" cy="790.2" r="2.6"/><circle cx="571.5" cy="795.0" r="2.6"/><circle cx="582.2" cy="726.2" r="2.6"/><circle cx="582.2" cy="731.9" r="2.6"/><circle cx="582.2" cy="737.7" r="2.6"/><circle cx="582.2" cy="742.5" r="2.6"/><circle cx="582.2" cy="747.2" r="2.6"/><circle cx="582.2" cy="752.0" r="2.6"/><circle cx="582.2" cy="756.8" r="2.6"/><circle cx="595.4" cy="724.5" r="2.6"/><circle cx="595.4" cy="728.1" r="2.6"/><circle cx="595.4" cy="731.7" r="2.6"/><circle cx="595.4" cy="752.0" r="2.6"/><circle cx="595.4" cy="756.8" r="2.6"/><circle cx="595.4" cy="761.6" r="2.6"/><circle cx="613.8" cy="743.7" r="2.6"/><circle cx="613.8" cy="747.2" r="2.6"/><circle cx="613.8" cy="752.0" r="2.6"/><circle cx="613.8" cy="756.8" r="2.6"/><circle cx="613.8" cy="761.6" r="2.6"/><circle cx="613.8" cy="766.3" r="2.6"/><circle cx="640.5" cy="664.8" r="2.6"/><circle cx="640.5" cy="669.6" r="2.6"/><circle cx="640.5" cy="675.0" r="2.6"/><circle cx="640.5" cy="680.3" r="2.6"/><circle cx="640.5" cy="699.5" r="2.6"/><circle cx="640.5" cy="703.0" r="2.6"/><circle cx="640.5" cy="706.6" r="2.6"/><circle cx="640.5" cy="712.6" r="2.6"/><circle cx="640.5" cy="718.6" r="2.6"/><circle cx="640.5" cy="722.2" r="2.6"/><circle cx="640.5" cy="725.7" r="2.6"/><circle cx="640.5" cy="730.5" r="2.6"/><circle cx="640.5" cy="735.3" r="2.6"/><circle cx="640.5" cy="741.3" r="2.6"/><circle cx="640.5" cy="747.2" r="2.6"/><circle cx="647.2" cy="719.8" r="2.6"/><circle cx="647.2" cy="723.9" r="2.6"/><circle cx="647.2" cy="728.1" r="2.6"/><circle cx="647.2" cy="731.7" r="2.6"/><circle cx="647.2" cy="735.3" r="2.6"/><circle cx="647.2" cy="741.3" r="2.6"/><circle cx="647.2" cy="747.2" r="2.6"/><circle cx="665.4" cy="661.2" r="2.6"/><circle cx="665.4" cy="667.2" r="2.6"/><circle cx="665.4" cy="682.0" r="2.6"/><circle cx="665.4" cy="703.8" r="2.6"/><circle cx="665.4" cy="718.6" r="2.6"/><circle cx="665.4" cy="722.2" r="2.6"/><circle cx="665.4" cy="725.7" r="2.6"/><circle cx="665.4" cy="730.5" r="2.6"/><circle cx="665.4" cy="735.3" r="2.6"/><circle cx="665.4" cy="740.1" r="2.6"/><circle cx="665.4" cy="744.8" r="2.6"/><circle cx="665.4" cy="748.4" r="2.6"/><circle cx="665.4" cy="752.0" r="2.6"/><circle cx="665.4" cy="758.0" r="2.6"/><circle cx="665.4" cy="764.0" r="2.6"/><circle cx="665.4" cy="767.5" r="2.6"/><circle cx="665.4" cy="771.1" r="2.6"/><circle cx="665.4" cy="777.1" r="2.6"/><circle cx="665.4" cy="783.1" r="2.6"/><circle cx="679.5" cy="744.8" r="2.6"/><circle cx="679.5" cy="748.4" r="2.6"/><circle cx="679.5" cy="752.0" r="2.6"/><circle cx="679.5" cy="756.8" r="2.6"/><circle cx="679.5" cy="761.6" r="2.6"/><circle cx="679.5" cy="766.3" r="2.6"/><circle cx="679.5" cy="771.1" r="2.6"/><circle cx="679.5" cy="774.7" r="2.6"/><circle cx="679.5" cy="778.3" r="2.6"/><circle cx="679.5" cy="783.1" r="2.6"/><circle cx="679.5" cy="787.8" r="2.6"/><circle cx="684.2" cy="778.3" r="2.6"/><circle cx="684.2" cy="783.1" r="2.6"/><circle cx="684.2" cy="787.8" r="2.6"/><circle cx="684.2" cy="792.6" r="2.6"/><circle cx="684.2" cy="797.4" r="2.6"/><circle cx="708.4" cy="693.2" r="2.6"/><circle cx="708.4" cy="698.4" r="2.6"/><circle cx="708.4" cy="703.5" r="2.6"/><circle cx="708.4" cy="718.1" r="2.6"/><circle cx="708.4" cy="732.9" r="2.6"/><circle cx="708.4" cy="736.5" r="2.6"/><circle cx="708.4" cy="740.1" r="2.6"/><circle cx="708.4" cy="744.8" r="2.6"/><circle cx="708.4" cy="749.6" r="2.6"/><circle cx="708.4" cy="753.2" r="2.6"/><circle cx="708.4" cy="756.8" r="2.6"/><circle cx="708.4" cy="771.1" r="2.6"/><circle cx="708.4" cy="777.1" r="2.6"/><circle cx="708.4" cy="783.1" r="2.6"/><circle cx="708.4" cy="789.0" r="2.6"/><circle cx="708.4" cy="795.0" r="2.6"/><circle cx="708.4" cy="801.0" r="2.6"/><circle cx="708.4" cy="807.0" r="2.6"/><circle cx="708.4" cy="812.9" r="2.6"/><circle cx="708.4" cy="818.9" r="2.6"/><circle cx="708.4" cy="824.9" r="2.6"/><circle cx="708.4" cy="830.9" r="2.6"/><circle cx="720.1" cy="820.1" r="2.6"/><circle cx="720.1" cy="825.5" r="2.6"/><circle cx="720.1" cy="830.9" r="2.6"/><circle cx="720.1" cy="834.4" r="2.6"/><circle cx="720.1" cy="838.0" r="2.6"/><circle cx="720.1" cy="842.8" r="2.6"/><circle cx="720.1" cy="847.6" r="2.6"/><circle cx="742.8" cy="791.4" r="2.6"/><circle cx="742.8" cy="795.6" r="2.6"/><circle cx="742.8" cy="799.8" r="2.6"/><circle cx="742.8" cy="823.7" r="2.6"/><circle cx="742.8" cy="828.5" r="2.6"/><circle cx="742.8" cy="833.2" r="2.6"/><circle cx="754.7" cy="719.8" r="2.6"/><circle cx="754.7" cy="723.3" r="2.6"/><circle cx="754.7" cy="726.9" r="2.6"/><circle cx="754.7" cy="731.3" r="2.6"/><circle cx="754.7" cy="735.7" r="2.6"/><circle cx="754.7" cy="740.1" r="2.6"/><circle cx="754.7" cy="743.7" r="2.6"/><circle cx="754.7" cy="747.2" r="2.6"/><circle cx="754.7" cy="761.6" r="2.6"/><circle cx="754.7" cy="766.3" r="2.6"/><circle cx="754.7" cy="771.1" r="2.6"/><circle cx="754.7" cy="777.1" r="2.6"/><circle cx="754.7" cy="783.1" r="2.6"/><circle cx="754.7" cy="789.0" r="2.6"/><circle cx="754.7" cy="795.0" r="2.6"/><circle cx="754.7" cy="801.0" r="2.6"/><circle cx="754.7" cy="807.0" r="2.6"/><circle cx="763.3" cy="704.2" r="2.6"/><circle cx="763.3" cy="707.8" r="2.6"/><circle cx="763.3" cy="711.4" r="2.6"/><circle cx="763.3" cy="717.4" r="2.6"/><circle cx="763.3" cy="736.5" r="2.6"/><circle cx="763.3" cy="741.9" r="2.6"/><circle cx="763.3" cy="747.2" r="2.6"/><circle cx="763.3" cy="753.2" r="2.6"/><circle cx="763.3" cy="759.2" r="2.6"/><circle cx="763.3" cy="765.2" r="2.6"/><circle cx="763.3" cy="771.1" r="2.6"/><circle cx="763.3" cy="777.1" r="2.6"/><circle cx="763.3" cy="783.1" r="2.6"/><circle cx="763.3" cy="789.0" r="2.6"/><circle cx="763.3" cy="795.0" r="2.6"/><circle cx="777.4" cy="719.3" r="2.6"/><circle cx="777.4" cy="723.4" r="2.6"/><circle cx="777.4" cy="727.6" r="2.6"/><circle cx="777.4" cy="731.7" r="2.6"/><circle cx="777.4" cy="737.1" r="2.6"/><circle cx="777.4" cy="742.5" r="2.6"/><circle cx="777.4" cy="747.8" r="2.6"/><circle cx="777.4" cy="753.2" r="2.6"/><circle cx="777.4" cy="771.1" r="2.6"/><circle cx="777.4" cy="774.7" r="2.6"/><circle cx="777.4" cy="778.3" r="2.6"/><circle cx="777.4" cy="781.9" r="2.6"/><circle cx="777.4" cy="785.5" r="2.6"/><circle cx="777.4" cy="789.0" r="2.6"/><circle cx="777.4" cy="792.6" r="2.6"/><circle cx="777.4" cy="797.4" r="2.6"/><circle cx="777.4" cy="802.2" r="2.6"/><circle cx="777.4" cy="807.0" r="2.6"/><circle cx="777.4" cy="811.7" r="2.6"/><circle cx="777.4" cy="816.5" r="2.6"/><circle cx="777.4" cy="821.3" r="2.6"/><circle cx="786.0" cy="832.0" r="2.6"/><circle cx="786.0" cy="836.2" r="2.6"/><circle cx="786.0" cy="840.4" r="2.6"/><circle cx="791.7" cy="840.4" r="2.6"/><circle cx="791.7" cy="844.0" r="2.6"/><circle cx="791.7" cy="847.6" r="2.6"/><circle cx="804.9" cy="793.8" r="2.6"/><circle cx="804.9" cy="798.6" r="2.6"/><circle cx="804.9" cy="802.8" r="2.6"/><circle cx="804.9" cy="807.0" r="2.6"/><circle cx="804.9" cy="811.7" r="2.6"/><circle cx="804.9" cy="816.5" r="2.6"/><circle cx="804.9" cy="821.3" r="2.6"/><circle cx="804.9" cy="826.1" r="2.6"/><circle cx="804.9" cy="830.9" r="2.6"/><circle cx="804.9" cy="835.6" r="2.6"/><circle cx="804.9" cy="839.2" r="2.6"/><circle cx="804.9" cy="842.8" r="2.6"/><circle cx="821.6" cy="829.7" r="2.6"/><circle cx="821.6" cy="835.0" r="2.6"/><circle cx="821.6" cy="840.4" r="2.6"/><circle cx="821.6" cy="845.2" r="2.6"/><circle cx="821.6" cy="850.0" r="2.6"/><circle cx="830.0" cy="784.3" r="2.6"/><circle cx="830.0" cy="790.2" r="2.6"/><circle cx="830.0" cy="796.2" r="2.6"/><circle cx="830.0" cy="800.4" r="2.6"/><circle cx="830.0" cy="804.6" r="2.6"/><circle cx="830.0" cy="810.5" r="2.6"/><circle cx="830.0" cy="816.5" r="2.6"/><circle cx="830.0" cy="821.3" r="2.6"/><circle cx="830.0" cy="826.1" r="2.6"/><circle cx="830.0" cy="832.0" r="2.6"/><circle cx="830.0" cy="838.0" r="2.6"/><circle cx="830.0" cy="842.8" r="2.6"/><circle cx="830.0" cy="847.6" r="2.6"/><circle cx="560.0" cy="764.0" r="2.6"/><circle cx="560.0" cy="778.3" r="2.6"/><circle cx="560.0" cy="784.3" r="2.6"/><circle cx="560.0" cy="790.2" r="2.6"/><circle cx="560.0" cy="804.6" r="2.6"/><circle cx="564.8" cy="795.0" r="2.6"/><circle cx="564.8" cy="809.4" r="2.6"/><circle cx="576.7" cy="775.9" r="2.6"/><circle cx="576.7" cy="790.2" r="2.6"/><circle cx="586.3" cy="747.2" r="2.6"/><circle cx="586.3" cy="761.6" r="2.6"/><circle cx="586.3" cy="775.9" r="2.6"/><circle cx="598.2" cy="771.1" r="2.6"/><circle cx="598.2" cy="785.5" r="2.6"/><circle cx="607.8" cy="761.6" r="2.6"/><circle cx="607.8" cy="775.9" r="2.6"/><circle cx="631.7" cy="761.6" r="2.6"/><circle cx="631.7" cy="766.3" r="2.6"/><circle cx="631.7" cy="771.1" r="2.6"/><circle cx="636.5" cy="747.2" r="2.6"/><circle cx="636.5" cy="761.6" r="2.6"/><circle cx="643.6" cy="747.2" r="2.6"/><circle cx="643.6" cy="761.6" r="2.6"/><circle cx="653.2" cy="785.5" r="2.6"/><circle cx="653.2" cy="790.2" r="2.6"/><circle cx="653.2" cy="795.0" r="2.6"/><circle cx="660.3" cy="775.9" r="2.6"/><circle cx="660.3" cy="780.7" r="2.6"/><circle cx="660.3" cy="785.5" r="2.6"/><circle cx="669.9" cy="785.5" r="2.6"/><circle cx="669.9" cy="790.2" r="2.6"/><circle cx="669.9" cy="795.0" r="2.6"/><circle cx="689.0" cy="790.2" r="2.6"/><circle cx="689.0" cy="795.0" r="2.6"/><circle cx="689.0" cy="799.8" r="2.6"/><circle cx="703.3" cy="780.7" r="2.6"/><circle cx="703.3" cy="785.5" r="2.6"/><circle cx="703.3" cy="790.2" r="2.6"/><circle cx="712.9" cy="809.4" r="2.6"/><circle cx="712.9" cy="814.1" r="2.6"/><circle cx="712.9" cy="818.9" r="2.6"/><circle cx="748.7" cy="783.1" r="2.6"/><circle cx="748.7" cy="789.0" r="2.6"/><circle cx="748.7" cy="795.0" r="2.6"/><circle cx="758.3" cy="783.1" r="2.6"/><circle cx="758.3" cy="789.0" r="2.6"/><circle cx="758.3" cy="795.0" r="2.6"/><circle cx="703.4" cy="820.0" r="2.6"/><circle cx="703.4" cy="824.1" r="2.6"/><circle cx="703.4" cy="828.2" r="2.6"/><circle cx="703.4" cy="832.3" r="2.6"/><circle cx="703.4" cy="836.4" r="2.6"/><circle cx="703.4" cy="840.5" r="2.6"/><circle cx="703.4" cy="844.6" r="2.6"/><circle cx="703.4" cy="848.7" r="2.6"/><circle cx="703.4" cy="852.8" r="2.6"/><circle cx="703.4" cy="856.9" r="2.6"/><circle cx="703.4" cy="861.0" r="2.6"/><circle cx="703.4" cy="866.1" r="2.6"/><circle cx="703.4" cy="871.2" r="2.6"/><circle cx="719.8" cy="820.0" r="2.6"/><circle cx="719.8" cy="824.1" r="2.6"/><circle cx="719.8" cy="828.2" r="2.6"/><circle cx="719.8" cy="832.3" r="2.6"/><circle cx="719.8" cy="836.4" r="2.6"/><circle cx="719.8" cy="840.5" r="2.6"/><circle cx="719.8" cy="844.6" r="2.6"/><circle cx="719.8" cy="848.7" r="2.6"/><circle cx="719.8" cy="852.8" r="2.6"/><circle cx="719.8" cy="856.9" r="2.6"/><circle cx="719.8" cy="861.0" r="2.6"/><circle cx="738.2" cy="820.0" r="2.6"/><circle cx="738.2" cy="824.1" r="2.6"/><circle cx="738.2" cy="828.2" r="2.6"/><circle cx="738.2" cy="832.3" r="2.6"/><circle cx="738.2" cy="836.4" r="2.6"/><circle cx="738.2" cy="840.5" r="2.6"/><circle cx="738.2" cy="844.6" r="2.6"/><circle cx="738.2" cy="848.7" r="2.6"/><circle cx="738.2" cy="852.8" r="2.6"/><circle cx="738.2" cy="856.9" r="2.6"/><circle cx="738.2" cy="861.0" r="2.6"/><circle cx="738.2" cy="866.1" r="2.6"/><circle cx="738.2" cy="871.2" r="2.6"/><circle cx="744.3" cy="820.0" r="2.6"/><circle cx="744.3" cy="825.1" r="2.6"/><circle cx="744.3" cy="830.2" r="2.6"/><circle cx="744.3" cy="835.4" r="2.6"/><circle cx="744.3" cy="840.5" r="2.6"/><circle cx="744.3" cy="845.6" r="2.6"/><circle cx="744.3" cy="850.7" r="2.6"/><circle cx="774.0" cy="820.0" r="2.6"/><circle cx="774.0" cy="824.1" r="2.6"/><circle cx="774.0" cy="828.2" r="2.6"/><circle cx="774.0" cy="832.3" r="2.6"/><circle cx="774.0" cy="836.4" r="2.6"/><circle cx="774.0" cy="840.5" r="2.6"/><circle cx="774.0" cy="844.6" r="2.6"/><circle cx="774.0" cy="848.7" r="2.6"/><circle cx="774.0" cy="852.8" r="2.6"/><circle cx="774.0" cy="856.9" r="2.6"/><circle cx="774.0" cy="861.0" r="2.6"/><circle cx="785.3" cy="832.3" r="2.6"/><circle cx="785.3" cy="836.4" r="2.6"/><circle cx="785.3" cy="840.5" r="2.6"/><circle cx="785.3" cy="844.6" r="2.6"/><circle cx="785.3" cy="848.7" r="2.6"/><circle cx="785.3" cy="852.8" r="2.6"/><circle cx="785.3" cy="856.9" r="2.6"/><circle cx="785.3" cy="861.0" r="2.6"/><circle cx="785.3" cy="865.1" r="2.6"/><circle cx="785.3" cy="869.1" r="2.6"/><circle cx="785.3" cy="873.2" r="2.6"/><circle cx="785.3" cy="877.3" r="2.6"/><circle cx="785.3" cy="881.4" r="2.6"/><circle cx="793.5" cy="840.5" r="2.6"/><circle cx="793.5" cy="844.6" r="2.6"/><circle cx="793.5" cy="848.7" r="2.6"/><circle cx="793.5" cy="852.8" r="2.6"/><circle cx="793.5" cy="856.9" r="2.6"/><circle cx="793.5" cy="861.0" r="2.6"/><circle cx="793.5" cy="865.1" r="2.6"/><circle cx="793.5" cy="869.1" r="2.6"/><circle cx="793.5" cy="873.2" r="2.6"/><circle cx="793.5" cy="877.3" r="2.6"/><circle cx="793.5" cy="881.4" r="2.6"/><circle cx="803.7" cy="826.1" r="2.6"/><circle cx="803.7" cy="830.2" r="2.6"/><circle cx="803.7" cy="834.3" r="2.6"/><circle cx="803.7" cy="838.4" r="2.6"/><circle cx="803.7" cy="842.5" r="2.6"/><circle cx="803.7" cy="846.6" r="2.6"/><circle cx="803.7" cy="850.7" r="2.6"/><circle cx="803.7" cy="854.8" r="2.6"/><circle cx="803.7" cy="858.9" r="2.6"/><circle cx="803.7" cy="863.0" r="2.6"/><circle cx="803.7" cy="867.1" r="2.6"/><circle cx="803.7" cy="871.2" r="2.6"/><circle cx="803.7" cy="875.3" r="2.6"/><circle cx="803.7" cy="879.4" r="2.6"/><circle cx="803.7" cy="883.5" r="2.6"/><circle cx="803.7" cy="887.6" r="2.6"/><circle cx="803.7" cy="891.7" r="2.6"/><circle cx="816.0" cy="850.7" r="2.6"/><circle cx="816.0" cy="855.8" r="2.6"/><circle cx="816.0" cy="861.0" r="2.6"/><circle cx="816.0" cy="866.1" r="2.6"/><circle cx="816.0" cy="871.2" r="2.6"/><circle cx="816.0" cy="876.3" r="2.6"/><circle cx="816.0" cy="881.4" r="2.6"/><circle cx="822.2" cy="828.2" r="2.6"/><circle cx="822.2" cy="832.3" r="2.6"/><circle cx="822.2" cy="836.4" r="2.6"/><circle cx="822.2" cy="840.5" r="2.6"/><circle cx="822.2" cy="844.6" r="2.6"/><circle cx="822.2" cy="848.7" r="2.6"/><circle cx="822.2" cy="852.8" r="2.6"/><circle cx="822.2" cy="856.9" r="2.6"/><circle cx="822.2" cy="861.0" r="2.6"/><circle cx="830.4" cy="820.0" r="2.6"/><circle cx="830.4" cy="824.1" r="2.6"/><circle cx="830.4" cy="828.2" r="2.6"/><circle cx="830.4" cy="832.3" r="2.6"/><circle cx="830.4" cy="836.4" r="2.6"/><circle cx="830.4" cy="840.5" r="2.6"/><circle cx="830.4" cy="844.6" r="2.6"/><circle cx="830.4" cy="848.7" r="2.6"/><circle cx="830.4" cy="852.8" r="2.6"/><circle cx="830.4" cy="856.9" r="2.6"/><circle cx="830.4" cy="861.0" r="2.6"/><circle cx="830.4" cy="865.1" r="2.6"/><circle cx="830.4" cy="869.1" r="2.6"/><circle cx="830.4" cy="873.2" r="2.6"/><circle cx="830.4" cy="877.3" r="2.6"/><circle cx="848.3" cy="884.7" r="2.6"/><circle cx="849.1" cy="892.4" r="2.6"/><circle cx="848.3" cy="902.7" r="2.6"/><circle cx="847.4" cy="911.2" r="2.6"/><circle cx="857.6" cy="927.4" r="2.6"/><circle cx="861.6" cy="1020.1" r="2.6"/><circle cx="802.2" cy="1023.8" r="2.6"/><circle cx="789.4" cy="1022.1" r="2.6"/><circle cx="819.2" cy="1010.2" r="2.6"/><circle cx="882.4" cy="996.5" r="2.6"/><circle cx="885.8" cy="996.5" r="2.6"/><circle cx="890.9" cy="999.9" r="2.6"/>
<circle cx="589.3" cy="596.5" r="2.6"/><circle cx="589.4" cy="618.6" r="2.6"/><circle cx="588.2" cy="625.5" r="2.6"/><circle cx="589.7" cy="686.7" r="2.6"/><circle cx="587.9" cy="711.9" r="2.6"/><circle cx="587.8" cy="737.9" r="2.6"/><circle cx="589.5" cy="743.4" r="2.6"/><circle cx="601.5" cy="697.1" r="2.6"/><circle cx="601.5" cy="701.0" r="2.6"/><circle cx="606.5" cy="705.8" r="2.6"/><circle cx="601.6" cy="710.5" r="2.6"/><circle cx="605.9" cy="713.8" r="2.6"/><circle cx="606.4" cy="721.5" r="2.6"/><circle cx="601.5" cy="725.0" r="2.6"/><circle cx="600.0" cy="754.4" r="2.6"/><circle cx="601.6" cy="762.1" r="2.6"/><circle cx="573.8" cy="704.5" r="2.6"/><circle cx="574.2" cy="710.4" r="2.6"/><circle cx="573.4" cy="717.8" r="2.6"/><circle cx="573.1" cy="768.9" r="2.6"/><circle cx="583.8" cy="737.2" r="2.6"/><circle cx="585.2" cy="752.6" r="2.6"/><circle cx="598.2" cy="723.5" r="2.6"/><circle cx="598.1" cy="730.0" r="2.6"/><circle cx="611.4" cy="756.8" r="2.6"/><circle cx="612.1" cy="759.9" r="2.6"/><circle cx="638.6" cy="669.4" r="2.6"/><circle cx="639.0" cy="676.6" r="2.6"/><circle cx="637.7" cy="681.0" r="2.6"/><circle cx="638.3" cy="706.2" r="2.6"/><circle cx="643.6" cy="731.7" r="2.6"/><circle cx="642.4" cy="742.6" r="2.6"/><circle cx="645.6" cy="727.3" r="2.6"/><circle cx="662.7" cy="662.5" r="2.6"/><circle cx="667.7" cy="666.4" r="2.6"/><circle cx="668.1" cy="681.1" r="2.6"/><circle cx="668.5" cy="704.7" r="2.6"/><circle cx="667.1" cy="717.7" r="2.6"/><circle cx="667.8" cy="722.2" r="2.6"/><circle cx="667.4" cy="736.3" r="2.6"/><circle cx="668.1" cy="738.1" r="2.6"/><circle cx="668.7" cy="752.7" r="2.6"/><circle cx="662.8" cy="762.7" r="2.6"/><circle cx="663.5" cy="771.1" r="2.6"/><circle cx="666.9" cy="775.8" r="2.6"/><circle cx="681.7" cy="745.1" r="2.6"/><circle cx="677.0" cy="748.8" r="2.6"/><circle cx="682.3" cy="755.6" r="2.6"/><circle cx="676.0" cy="762.1" r="2.6"/><circle cx="681.8" cy="770.8" r="2.6"/><circle cx="681.1" cy="772.9" r="2.6"/><circle cx="682.7" cy="779.0" r="2.6"/><circle cx="682.2" cy="781.8" r="2.6"/><circle cx="685.7" cy="783.9" r="2.6"/><circle cx="681.9" cy="788.0" r="2.6"/><circle cx="680.8" cy="794.0" r="2.6"/><circle cx="687.6" cy="797.6" r="2.6"/><circle cx="711.7" cy="693.1" r="2.6"/><circle cx="711.2" cy="716.4" r="2.6"/><circle cx="706.2" cy="738.4" r="2.6"/><circle cx="706.7" cy="738.5" r="2.6"/><circle cx="711.5" cy="743.5" r="2.6"/><circle cx="705.9" cy="748.6" r="2.6"/><circle cx="706.5" cy="752.9" r="2.6"/><circle cx="705.1" cy="770.3" r="2.6"/><circle cx="710.9" cy="784.1" r="2.6"/><circle cx="711.1" cy="789.1" r="2.6"/><circle cx="710.9" cy="800.8" r="2.6"/><circle cx="710.0" cy="813.0" r="2.6"/><circle cx="709.9" cy="830.9" r="2.6"/><circle cx="716.9" cy="824.4" r="2.6"/><circle cx="716.6" cy="831.5" r="2.6"/><circle cx="718.0" cy="834.8" r="2.6"/><circle cx="739.9" cy="791.1" r="2.6"/><circle cx="744.3" cy="800.7" r="2.6"/><circle cx="745.7" cy="834.8" r="2.6"/><circle cx="757.6" cy="721.7" r="2.6"/><circle cx="751.5" cy="722.3" r="2.6"/><circle cx="752.8" cy="729.4" r="2.6"/><circle cx="752.1" cy="748.8" r="2.6"/><circle cx="757.9" cy="766.8" r="2.6"/><circle cx="757.9" cy="776.7" r="2.6"/><circle cx="757.7" cy="788.2" r="2.6"/><circle cx="752.1" cy="793.7" r="2.6"/><circle cx="756.3" cy="800.4" r="2.6"/><circle cx="752.1" cy="807.2" r="2.6"/><circle cx="765.5" cy="703.1" r="2.6"/><circle cx="766.7" cy="708.2" r="2.6"/><circle cx="761.7" cy="712.8" r="2.6"/><circle cx="760.1" cy="719.3" r="2.6"/><circle cx="766.1" cy="737.4" r="2.6"/><circle cx="765.2" cy="747.3" r="2.6"/><circle cx="761.3" cy="755.1" r="2.6"/><circle cx="760.1" cy="760.5" r="2.6"/><circle cx="760.5" cy="767.0" r="2.6"/><circle cx="766.3" cy="771.6" r="2.6"/><circle cx="765.0" cy="775.7" r="2.6"/><circle cx="760.9" cy="794.3" r="2.6"/><circle cx="780.1" cy="717.5" r="2.6"/><circle cx="774.7" cy="728.6" r="2.6"/><circle cx="780.5" cy="730.5" r="2.6"/><circle cx="779.2" cy="747.4" r="2.6"/><circle cx="779.8" cy="752.3" r="2.6"/><circle cx="779.2" cy="773.1" r="2.6"/><circle cx="775.0" cy="782.4" r="2.6"/><circle cx="774.1" cy="807.7" r="2.6"/><circle cx="774.4" cy="821.8" r="2.6"/><circle cx="783.9" cy="832.8" r="2.6"/><circle cx="787.6" cy="834.8" r="2.6"/><circle cx="793.6" cy="844.7" r="2.6"/><circle cx="794.2" cy="849.2" r="2.6"/><circle cx="808.1" cy="792.8" r="2.6"/><circle cx="801.8" cy="801.2" r="2.6"/><circle cx="802.2" cy="815.1" r="2.6"/><circle cx="807.5" cy="820.7" r="2.6"/><circle cx="802.0" cy="827.8" r="2.6"/><circle cx="807.2" cy="840.7" r="2.6"/><circle cx="806.6" cy="843.1" r="2.6"/><circle cx="823.6" cy="846.9" r="2.6"/><circle cx="819.7" cy="848.5" r="2.6"/><circle cx="828.1" cy="785.8" r="2.6"/><circle cx="832.4" cy="789.0" r="2.6"/><circle cx="828.1" cy="797.4" r="2.6"/><circle cx="832.8" cy="802.2" r="2.6"/><circle cx="826.7" cy="805.5" r="2.6"/><circle cx="828.3" cy="821.5" r="2.6"/><circle cx="826.8" cy="827.3" r="2.6"/><circle cx="827.4" cy="839.5" r="2.6"/><circle cx="828.1" cy="849.3" r="2.6"/><circle cx="563.2" cy="790.5" r="2.6"/><circle cx="562.0" cy="796.6" r="2.6"/><circle cx="574.6" cy="775.2" r="2.6"/><circle cx="589.3" cy="745.7" r="2.6"/><circle cx="589.4" cy="774.3" r="2.6"/><circle cx="600.2" cy="771.4" r="2.6"/><circle cx="600.9" cy="786.1" r="2.6"/><circle cx="610.5" cy="776.2" r="2.6"/><circle cx="634.3" cy="760.1" r="2.6"/><circle cx="629.5" cy="767.6" r="2.6"/><circle cx="634.0" cy="771.1" r="2.6"/><circle cx="646.7" cy="749.1" r="2.6"/><circle cx="655.0" cy="786.7" r="2.6"/><circle cx="655.5" cy="790.9" r="2.6"/><circle cx="656.0" cy="794.5" r="2.6"/><circle cx="658.7" cy="781.7" r="2.6"/><circle cx="662.0" cy="784.0" r="2.6"/><circle cx="686.2" cy="791.0" r="2.6"/><circle cx="692.4" cy="795.8" r="2.6"/><circle cx="691.8" cy="798.2" r="2.6"/><circle cx="701.7" cy="788.8" r="2.6"/><circle cx="752.2" cy="782.0" r="2.6"/><circle cx="746.8" cy="793.3" r="2.6"/><circle cx="761.6" cy="790.0" r="2.6"/><circle cx="356.4" cy="782.0" r="2.6"/><circle cx="355.1" cy="788.4" r="2.6"/><circle cx="361.0" cy="799.6" r="2.6"/><circle cx="355.3" cy="810.7" r="2.6"/><circle cx="361.8" cy="814.9" r="2.6"/><circle cx="360.3" cy="770.4" r="2.6"/><circle cx="360.1" cy="775.5" r="2.6"/><circle cx="344.3" cy="824.5" r="2.6"/><circle cx="376.1" cy="808.5" r="2.6"/><circle cx="380.3" cy="821.0" r="2.6"/><circle cx="375.0" cy="837.5" r="2.6"/><circle cx="382.6" cy="803.6" r="2.6"/><circle cx="388.6" cy="812.4" r="2.6"/><circle cx="388.1" cy="830.8" r="2.6"/><circle cx="387.6" cy="834.7" r="2.6"/><circle cx="383.8" cy="844.3" r="2.6"/><circle cx="369.8" cy="834.6" r="2.6"/><circle cx="369.3" cy="835.3" r="2.6"/><circle cx="421.9" cy="795.6" r="2.6"/><circle cx="416.8" cy="806.9" r="2.6"/><circle cx="420.0" cy="809.7" r="2.6"/><circle cx="416.7" cy="830.5" r="2.6"/><circle cx="421.6" cy="844.1" r="2.6"/><circle cx="427.5" cy="857.0" r="2.6"/><circle cx="407.6" cy="835.7" r="2.6"/><circle cx="408.0" cy="839.0" r="2.6"/><circle cx="396.3" cy="854.9" r="2.6"/><circle cx="477.8" cy="780.4" r="2.6"/><circle cx="478.8" cy="782.6" r="2.6"/><circle cx="479.2" cy="788.6" r="2.6"/><circle cx="496.4" cy="739.5" r="2.6"/><circle cx="495.2" cy="754.5" r="2.6"/><circle cx="494.9" cy="772.3" r="2.6"/><circle cx="494.8" cy="781.4" r="2.6"/><circle cx="512.3" cy="729.9" r="2.6"/><circle cx="517.5" cy="738.3" r="2.6"/><circle cx="512.6" cy="747.7" r="2.6"/><circle cx="517.1" cy="770.6" r="2.6"/><circle cx="518.0" cy="778.4" r="2.6"/><circle cx="511.6" cy="782.7" r="2.6"/><circle cx="513.3" cy="787.2" r="2.6"/><circle cx="521.4" cy="732.7" r="2.6"/><circle cx="521.7" cy="776.9" r="2.6"/><circle cx="522.2" cy="777.5" r="2.6"/><circle cx="523.1" cy="799.9" r="2.6"/><circle cx="522.9" cy="801.4" r="2.6"/><circle cx="528.3" cy="809.4" r="2.6"/><circle cx="539.8" cy="768.9" r="2.6"/><circle cx="540.0" cy="776.5" r="2.6"/><circle cx="536.1" cy="778.6" r="2.6"/><circle cx="536.5" cy="783.8" r="2.6"/><circle cx="536.3" cy="802.5" r="2.6"/><circle cx="556.3" cy="762.9" r="2.6"/><circle cx="561.5" cy="779.5" r="2.6"/><circle cx="556.5" cy="784.4" r="2.6"/><circle cx="556.9" cy="786.8" r="2.6"/><circle cx="556.9" cy="791.2" r="2.6"/><circle cx="561.0" cy="807.2" r="2.6"/><circle cx="574.1" cy="705.6" r="2.6"/><circle cx="573.0" cy="718.7" r="2.6"/><circle cx="568.9" cy="721.8" r="2.6"/><circle cx="573.5" cy="742.6" r="2.6"/><circle cx="470.9" cy="809.9" r="2.6"/><circle cx="476.1" cy="821.2" r="2.6"/><circle cx="472.1" cy="822.7" r="2.6"/><circle cx="477.2" cy="830.3" r="2.6"/><circle cx="507.9" cy="805.7" r="2.6"/><circle cx="512.7" cy="806.0" r="2.6"/><circle cx="551.1" cy="818.4" r="2.6"/><circle cx="546.4" cy="823.0" r="2.6"/><circle cx="321.8" cy="798.3" r="2.6"/><circle cx="326.7" cy="804.1" r="2.6"/><circle cx="322.8" cy="820.5" r="2.6"/><circle cx="323.1" cy="842.8" r="2.6"/><circle cx="364.3" cy="769.9" r="2.6"/><circle cx="360.7" cy="785.0" r="2.6"/><circle cx="365.0" cy="795.2" r="2.6"/><circle cx="360.7" cy="796.6" r="2.6"/><circle cx="365.2" cy="818.5" r="2.6"/><circle cx="364.0" cy="840.7" r="2.6"/><circle cx="376.5" cy="808.2" r="2.6"/><circle cx="376.8" cy="830.3" r="2.6"/><circle cx="383.9" cy="790.1" r="2.6"/><circle cx="383.2" cy="802.1" r="2.6"/><circle cx="389.4" cy="810.2" r="2.6"/><circle cx="382.8" cy="843.1" r="2.6"/><circle cx="382.9" cy="854.5" r="2.6"/><circle cx="395.3" cy="855.1" r="2.6"/><circle cx="399.5" cy="853.7" r="2.6"/><circle cx="431.4" cy="831.4" r="2.6"/><circle cx="431.3" cy="839.1" r="2.6"/><circle cx="432.0" cy="865.6" r="2.6"/><circle cx="417.7" cy="855.7" r="2.6"/><circle cx="446.8" cy="889.0" r="2.6"/><circle cx="444.0" cy="899.7" r="2.6"/><circle cx="295.6" cy="877.5" r="2.6"/><circle cx="299.5" cy="896.6" r="2.6"/><circle cx="311.9" cy="872.2" r="2.6"/><circle cx="302.1" cy="892.1" r="2.6"/><circle cx="246.5" cy="882.5" r="2.6"/><circle cx="248.5" cy="878.8" r="2.6"/><circle cx="266.6" cy="890.6" r="2.6"/><circle cx="248.1" cy="896.8" r="2.6"/><circle cx="228.1" cy="893.7" r="2.6"/><circle cx="320.2" cy="860.6" r="2.6"/><circle cx="369.2" cy="851.7" r="2.6"/><circle cx="397.2" cy="882.8" r="2.6"/><circle cx="388.3" cy="849.9" r="2.6"/><circle cx="427.3" cy="845.6" r="2.6"/><circle cx="370.6" cy="846.5" r="2.6"/>
<circle cx="116.1" cy="944.9" r="2.6"/><circle cx="120.2" cy="947.0" r="2.6"/><circle cx="123.3" cy="961.3" r="2.6"/><circle cx="126.4" cy="975.6" r="2.6"/><circle cx="130.5" cy="961.3" r="2.6"/><circle cx="134.6" cy="963.3" r="2.6"/><circle cx="136.6" cy="975.6" r="2.6"/><circle cx="140.7" cy="953.1" r="2.6"/><circle cx="144.8" cy="963.3" r="2.6"/><circle cx="148.9" cy="975.6" r="2.6"/><circle cx="155.1" cy="953.1" r="2.6"/><circle cx="159.1" cy="973.6" r="2.6"/><circle cx="163.2" cy="942.9" r="2.6"/><circle cx="167.3" cy="955.2" r="2.6"/><circle cx="173.5" cy="957.2" r="2.6"/><circle cx="179.6" cy="934.7" r="2.6"/><circle cx="183.7" cy="942.9" r="2.6"/><circle cx="187.8" cy="953.1" r="2.6"/><circle cx="191.9" cy="934.7" r="2.6"/><circle cx="196.0" cy="953.1" r="2.6"/><circle cx="200.1" cy="942.9" r="2.6"/><circle cx="205.2" cy="928.5" r="2.6"/><circle cx="210.3" cy="926.5" r="2.6"/><circle cx="214.4" cy="934.7" r="2.6"/><circle cx="218.5" cy="953.1" r="2.6"/><circle cx="222.6" cy="916.2" r="2.6"/><circle cx="226.7" cy="906.0" r="2.6"/><circle cx="232.9" cy="908.1" r="2.6"/><circle cx="237.0" cy="934.7" r="2.6"/><circle cx="241.1" cy="918.3" r="2.6"/><circle cx="245.2" cy="906.0" r="2.6"/><circle cx="251.3" cy="901.9" r="2.6"/><circle cx="257.4" cy="901.9" r="2.6"/><circle cx="264.6" cy="906.0" r="2.6"/><circle cx="267.7" cy="906.0" r="2.6"/><circle cx="273.8" cy="904.0" r="2.6"/><circle cx="280.0" cy="926.5" r="2.6"/><circle cx="284.1" cy="912.2" r="2.6"/><circle cx="290.2" cy="914.2" r="2.6"/><circle cx="294.3" cy="908.1" r="2.6"/><circle cx="297.6" cy="904.3" r="2.6"/><circle cx="303.7" cy="896.1" r="2.6"/><circle cx="309.9" cy="875.6" r="2.6"/><circle cx="316.0" cy="863.3" r="2.6"/><circle cx="322.2" cy="855.2" r="2.6"/><circle cx="328.3" cy="863.3" r="2.6"/><circle cx="334.4" cy="871.5" r="2.6"/><circle cx="340.6" cy="851.1" r="2.6"/><circle cx="348.8" cy="855.2" r="2.6"/><circle cx="357.0" cy="847.0" r="2.6"/><circle cx="363.1" cy="853.1" r="2.6"/><circle cx="371.3" cy="867.4" r="2.6"/><circle cx="377.4" cy="875.6" r="2.6"/><circle cx="385.6" cy="863.3" r="2.6"/><circle cx="391.8" cy="883.8" r="2.6"/><circle cx="397.9" cy="883.8" r="2.6"/><circle cx="404.1" cy="879.7" r="2.6"/><circle cx="410.2" cy="853.1" r="2.6"/><circle cx="418.4" cy="863.3" r="2.6"/><circle cx="426.6" cy="875.6" r="2.6"/><circle cx="430.7" cy="908.4" r="2.6"/><circle cx="434.8" cy="916.6" r="2.6"/><circle cx="443.0" cy="908.4" r="2.6"/><circle cx="447.1" cy="894.1" r="2.6"/><circle cx="451.2" cy="900.2" r="2.6"/><circle cx="455.3" cy="914.5" r="2.6"/><circle cx="461.4" cy="912.5" r="2.6"/><circle cx="465.5" cy="894.1" r="2.6"/><circle cx="467.0" cy="844.8" r="2.6"/><circle cx="473.1" cy="814.1" r="2.6"/><circle cx="481.3" cy="803.8" r="2.6"/><circle cx="487.4" cy="814.1" r="2.6"/><circle cx="495.6" cy="793.6" r="2.6"/><circle cx="503.8" cy="799.7" r="2.6"/><circle cx="510.0" cy="803.8" r="2.6"/><circle cx="516.1" cy="807.9" r="2.6"/><circle cx="524.3" cy="799.7" r="2.6"/><circle cx="532.5" cy="814.1" r="2.6"/><circle cx="538.6" cy="803.8" r="2.6"/><circle cx="544.8" cy="824.3" r="2.6"/><circle cx="550.9" cy="824.3" r="2.6"/><circle cx="557.1" cy="814.1" r="2.6"/><circle cx="565.3" cy="810.0" r="2.6"/><circle cx="571.4" cy="805.9" r="2.6"/><circle cx="577.5" cy="793.6" r="2.6"/><circle cx="580.0" cy="783.3" r="2.6"/><circle cx="581.5" cy="795.0" r="2.6"/><circle cx="588.7" cy="759.2" r="2.6"/><circle cx="595.8" cy="766.3" r="2.6"/><circle cx="603.0" cy="761.6" r="2.6"/><circle cx="610.2" cy="771.1" r="2.6"/><circle cx="617.3" cy="809.4" r="2.6"/><circle cx="626.9" cy="814.1" r="2.6"/><circle cx="631.7" cy="771.1" r="2.6"/><circle cx="638.8" cy="747.2" r="2.6"/><circle cx="646.0" cy="766.3" r="2.6"/><circle cx="655.6" cy="818.9" r="2.6"/><circle cx="660.3" cy="790.2" r="2.6"/><circle cx="665.1" cy="783.1" r="2.6"/><circle cx="672.3" cy="818.9" r="2.6"/><circle cx="679.5" cy="783.1" r="2.6"/><circle cx="684.2" cy="778.3" r="2.6"/><circle cx="691.4" cy="818.9" r="2.6"/><circle cx="698.6" cy="842.8" r="2.6"/><circle cx="699.3" cy="871.2" r="2.6"/><circle cx="707.5" cy="881.4" r="2.6"/><circle cx="715.7" cy="869.1" r="2.6"/><circle cx="723.9" cy="891.7" r="2.6"/><circle cx="732.1" cy="893.7" r="2.6"/><circle cx="736.2" cy="871.2" r="2.6"/><circle cx="740.2" cy="861.0" r="2.6"/><circle cx="744.3" cy="850.7" r="2.6"/><circle cx="752.5" cy="840.5" r="2.6"/><circle cx="760.7" cy="836.4" r="2.6"/><circle cx="768.9" cy="840.5" r="2.6"/><circle cx="777.1" cy="861.0" r="2.6"/><circle cx="781.2" cy="887.6" r="2.6"/><circle cx="789.4" cy="893.7" r="2.6"/><circle cx="797.6" cy="895.8" r="2.6"/><circle cx="805.8" cy="889.6" r="2.6"/><circle cx="814.0" cy="881.4" r="2.6"/><circle cx="822.2" cy="887.6" r="2.6"/><circle cx="830.4" cy="889.6" r="2.6"/><circle cx="831.2" cy="870.2" r="2.6"/><circle cx="832.9" cy="877.1" r="2.6"/><circle cx="838.0" cy="894.1" r="2.6"/><circle cx="841.4" cy="907.8" r="2.6"/><circle cx="848.3" cy="912.9" r="2.6"/><circle cx="853.4" cy="919.7" r="2.6"/><circle cx="858.5" cy="931.7" r="2.6"/><circle cx="116.1" cy="1022.7" r="2.6"/><circle cx="122.3" cy="1025.8" r="2.6"/><circle cx="130.5" cy="1026.8" r="2.6"/><circle cx="136.6" cy="1028.9" r="2.6"/><circle cx="142.8" cy="1022.7" r="2.6"/><circle cx="151.0" cy="1024.8" r="2.6"/><circle cx="159.1" cy="1025.8" r="2.6"/><circle cx="165.3" cy="1022.7" r="2.6"/><circle cx="171.4" cy="1028.9" r="2.6"/><circle cx="177.6" cy="1022.7" r="2.6"/><circle cx="187.8" cy="1023.8" r="2.6"/><circle cx="198.1" cy="1025.8" r="2.6"/><circle cx="204.2" cy="1026.8" r="2.6"/><circle cx="212.4" cy="1022.7" r="2.6"/><circle cx="220.6" cy="1018.6" r="2.6"/><circle cx="228.8" cy="1016.6" r="2.6"/><circle cx="237.0" cy="1019.7" r="2.6"/><circle cx="245.2" cy="1016.6" r="2.6"/><circle cx="251.3" cy="1017.6" r="2.6"/><circle cx="257.4" cy="1012.5" r="2.6"/><circle cx="265.6" cy="1006.3" r="2.6"/><circle cx="271.8" cy="1006.3" r="2.6"/><circle cx="277.9" cy="1008.4" r="2.6"/><circle cx="284.1" cy="1012.5" r="2.6"/><circle cx="288.2" cy="1012.5" r="2.6"/><circle cx="294.3" cy="1006.3" r="2.6"/><circle cx="302.5" cy="1010.4" r="2.6"/><circle cx="307.6" cy="1016.6" r="2.6"/><circle cx="314.8" cy="1008.4" r="2.6"/><circle cx="325.0" cy="1000.2" r="2.6"/><circle cx="331.2" cy="1004.3" r="2.6"/><circle cx="337.3" cy="1006.3" r="2.6"/><circle cx="340.0" cy="1004.3" r="2.6"/><circle cx="348.2" cy="1006.3" r="2.6"/><circle cx="354.3" cy="1010.4" r="2.6"/><circle cx="360.5" cy="1004.3" r="2.6"/><circle cx="370.7" cy="1012.5" r="2.6"/><circle cx="381.0" cy="1009.4" r="2.6"/><circle cx="391.2" cy="1010.4" r="2.6"/><circle cx="401.4" cy="1011.5" r="2.6"/><circle cx="411.7" cy="1012.5" r="2.6"/><circle cx="421.9" cy="1014.5" r="2.6"/><circle cx="428.1" cy="1013.5" r="2.6"/><circle cx="436.2" cy="1014.5" r="2.6"/><circle cx="442.4" cy="1017.6" r="2.6"/><circle cx="450.6" cy="1018.6" r="2.6"/><circle cx="456.7" cy="1019.7" r="2.6"/><circle cx="462.9" cy="1014.5" r="2.6"/><circle cx="473.1" cy="1011.5" r="2.6"/><circle cx="483.3" cy="1008.4" r="2.6"/><circle cx="493.6" cy="1000.2" r="2.6"/><circle cx="499.7" cy="1011.5" r="2.6"/><circle cx="510.0" cy="1014.5" r="2.6"/><circle cx="518.2" cy="1010.4" r="2.6"/><circle cx="524.3" cy="1011.5" r="2.6"/><circle cx="532.5" cy="1019.7" r="2.6"/><circle cx="540.7" cy="1012.5" r="2.6"/><circle cx="553.0" cy="1010.4" r="2.6"/><circle cx="561.2" cy="1016.6" r="2.6"/><circle cx="569.4" cy="1011.5" r="2.6"/><circle cx="584.6" cy="1006.3" r="2.6"/><circle cx="592.8" cy="1000.2" r="2.6"/><circle cx="601.0" cy="1016.6" r="2.6"/><circle cx="613.3" cy="1014.5" r="2.6"/><circle cx="621.4" cy="1008.4" r="2.6"/><circle cx="631.7" cy="1014.5" r="2.6"/><circle cx="641.9" cy="1010.4" r="2.6"/><circle cx="648.1" cy="1016.6" r="2.6"/><circle cx="658.3" cy="1016.6" r="2.6"/><circle cx="666.5" cy="1016.6" r="2.6"/><circle cx="674.7" cy="1022.7" r="2.6"/><circle cx="682.9" cy="1020.7" r="2.6"/><circle cx="691.1" cy="1018.6" r="2.6"/><circle cx="699.3" cy="1022.7" r="2.6"/><circle cx="707.5" cy="1020.7" r="2.6"/><circle cx="715.7" cy="1016.6" r="2.6"/><circle cx="723.9" cy="1018.6" r="2.6"/><circle cx="732.1" cy="1019.7" r="2.6"/><circle cx="740.2" cy="1016.6" r="2.6"/><circle cx="748.4" cy="1010.4" r="2.6"/><circle cx="752.5" cy="1016.6" r="2.6"/><circle cx="760.7" cy="1008.4" r="2.6"/><circle cx="768.9" cy="1008.4" r="2.6"/><circle cx="777.1" cy="1010.4" r="2.6"/><circle cx="785.3" cy="1016.6" r="2.6"/><circle cx="793.5" cy="1022.7" r="2.6"/><circle cx="801.7" cy="1023.8" r="2.6"/><circle cx="809.9" cy="1010.4" r="2.6"/><circle cx="818.1" cy="1008.4" r="2.6"/><circle cx="826.3" cy="1004.3" r="2.6"/><circle cx="839.7" cy="1001.6" r="2.6"/><circle cx="848.3" cy="1005.1" r="2.6"/><circle cx="855.1" cy="1008.5" r="2.6"/><circle cx="861.9" cy="1013.6" r="2.6"/><circle cx="868.7" cy="1022.1" r="2.6"/><circle cx="875.6" cy="1027.2" r="2.6"/><circle cx="882.4" cy="1030.6" r="2.6"/><circle cx="890.9" cy="1032.4" r="2.6"/><circle cx="899.5" cy="1033.2" r="2.6"/>
</g>
<path d="M117.2,981.8 L120.2,990.0 L123.3,994.1 L126.4,1011.5 L129.5,1006.3 L132.5,1000.2 L134.6,996.1 L137.6,1012.5 L140.7,984.8 L143.8,994.1 L146.9,998.2 L148.9,1005.3 L152.0,998.2 L155.1,1005.3 L159.1,1011.5 L163.2,975.6 L166.3,1004.3 L169.4,985.9 L171.4,998.2 L175.5,990.0 L179.6,992.0 L182.7,978.7 L185.8,996.1 L188.8,998.2 L191.9,977.7 L195.0,1002.3 L198.1,992.0 L202.2,994.1 L205.2,983.8 L208.3,994.1 L210.3,970.5 L213.4,992.0 L215.5,985.9 L218.5,1002.3 L221.6,979.7 L223.7,948.0 L225.7,967.4 L228.8,969.5 L231.8,971.5 L234.9,987.9 L238.0,983.8 L241.1,975.6 L244.1,965.4 L247.2,977.7 L249.2,990.0 L251.3,957.2 L254.4,981.8 L257.4,967.4 L261.5,961.3 L265.6,967.4 L267.7,975.6 L270.8,971.5 L273.8,959.2 L275.9,971.5 L280.0,975.6 L282.0,981.8 L285.1,963.3 L288.2,977.7 L290.2,963.3 L293.3,955.2 L296.3,963.3 L299.4,965.4 L302.5,959.2 L304.5,969.5 L306.6,986.9 L309.7,955.2 L311.7,963.3 L314.8,942.9 L316.8,953.1 L318.9,969.5 L320.9,934.7 L324.0,951.1 L326.0,926.5 L328.1,955.2 L331.2,953.1 L334.2,959.2 L337.3,938.8 L339.4,922.4 L341.4,938.8 L342.0,934.7 L345.1,949.0 L347.2,932.6 L350.2,938.8 L353.3,963.3 L356.4,947.0 L358.4,914.2 L361.5,910.1 L364.6,957.2 L367.6,936.7 L370.7,963.3 L373.8,936.7 L376.9,953.1 L379.9,942.9 L384.0,928.5 L387.1,940.8 L390.2,959.2 L393.2,961.3 L396.3,963.3 L399.4,951.1 L403.5,961.3 L407.6,963.3 L411.7,936.7 L414.7,959.2 L417.8,930.6 L420.9,947.0 L424.0,963.3 L427.0,985.9 L430.1,936.7 L433.2,965.4 L437.3,967.4 L440.3,977.7 L442.4,965.4 L445.5,981.8 L448.5,961.3 L451.6,977.7 L454.7,975.6 L457.7,981.8 L460.8,975.6 L463.9,963.3 L467.0,944.9 L469.0,932.6 L472.1,942.9 L475.2,930.6 L479.2,959.2 L481.3,906.0 L483.3,924.4 L486.4,910.1 L489.5,916.2 L492.6,914.2 L494.6,889.6 L496.7,938.8 L499.7,891.7 L502.8,942.9 L505.9,916.2 L506.9,971.5 L508.9,885.5 L512.0,961.3 L515.1,879.4 L518.2,942.9 L520.2,906.0 L522.3,940.8 L524.3,908.1 L527.4,947.0 L530.4,938.8 L534.5,955.2 L537.6,926.5 L540.7,897.8 L542.7,951.1 L544.8,904.0 L546.8,963.3 L548.9,934.7 L553.0,924.4 L556.0,951.1 L558.1,885.5 L561.2,944.9 L564.2,916.2 L566.5,910.7 L568.8,910.1 L571.1,909.1 L573.4,912.7 L575.7,907.3 L578.0,907.5 L580.2,900.1 L582.5,901.9 L584.6,938.8 L587.7,924.4 L590.7,854.8 L593.8,926.5 L595.8,864.0 L597.9,961.3 L599.9,904.0 L601.0,933.7 L603.4,881.4 L606.1,944.9 L608.1,945.9 L611.2,852.8 L613.3,914.2 L616.3,918.3 L619.4,960.3 L623.5,908.1 L626.6,954.1 L629.6,934.7 L632.7,912.2 L635.8,884.5 L637.8,934.7 L639.9,820.0 L641.9,953.1 L644.0,893.7 L647.1,864.0 L650.1,936.7 L653.2,920.3 L656.3,926.5 L659.3,947.0 L661.8,824.1 L663.4,947.0 L665.5,879.4 L667.5,901.9 L669.6,949.0 L671.6,912.2 L674.7,932.6 L676.8,964.4 L679.8,918.3 L682.9,894.7 L684.9,918.3 L687.0,949.0 L690.1,932.6 L692.7,920.3 L695.2,955.2 L698.3,942.9 L701.3,949.0 L703.4,867.1 L705.4,955.2 L707.5,861.0 L709.5,987.9 L711.6,961.3 L713.6,975.6 L715.7,963.3 L719.8,936.7 L721.8,953.1 L723.9,963.3 L725.9,987.9 L728.0,963.3 L731.0,967.4 L734.1,961.3 L736.2,971.5 L739.2,924.4 L742.3,916.2 L745.4,944.9 L748.4,920.3 L751.5,959.2 L753.6,871.2 L756.6,848.7 L758.7,893.7 L761.8,951.1 L763.8,868.1 L766.9,922.4 L769.9,955.2 L773.0,947.0 L776.7,874.3 L779.2,961.3 L782.2,934.7 L784.3,924.8 L786.8,962.4 L789.4,979.5 L791.9,926.6 L794.5,977.7 L796.2,957.3 L798.8,972.6 L801.3,972.6 L804.7,897.5 L807.3,955.6 L809.9,970.9 L812.4,959.0 L815.0,950.4 L817.5,962.4 L820.1,969.2 L821.8,935.1 L824.4,948.7 L826.1,957.3 L829.5,906.1 L831.2,957.3 L833.8,947.0 L836.3,955.6 L838.9,959.0 L841.4,955.6 L843.1,970.9 L844.8,962.4 L847.4,950.4 L850.0,965.8 L851.7,955.6 L855.1,981.2 L857.6,969.2 L860.2,993.1 L863.6,996.5 L867.0,999.9 L870.4,1008.5 L873.9,1013.6 L877.3,1020.4 L880.7,1022.1 L882.4,1020.4 L884.9,1010.2 L887.5,1022.1 L890.9,1013.6 L894.3,1022.1 L897.7,1023.8 L901.2,1028.9 L904.6,1022.1 L908.0,1030.6 L911.4,1023.8 L914.8,1030.6 L918.2,1025.5 L919.9,1020.4 L922.5,1030.6 L925.1,1028.9 L926.8,1025.5 L928.5,1030.6 L931.0,1030.2 L933.6,1029.8 L936.4,1030.8 L939.3,1030.4 L942.1,1030.6 L945.0,1031.8 L947.8,1032.0 L950.6,1031.5 L953.5,1031.2 L956.3,1030.5 L959.2,1031.5 L962.0,1032.0 L964.9,1030.8 L967.7,1031.5 L970.2,1030.5 L972.6,1032.0 L975.1,1032.2 L977.5,1032.2 L980.0,1031.5 L982.2,1032.4 L984.4,1030.9 L986.7,1030.7 L988.9,1030.8 L991.1,1032.5 L993.3,1030.7 L995.6,1030.8 L997.8,1030.6 L1000.0,1030.6 L1002.2,1030.6 L1004.4,1031.2 L1006.7,1030.9 L1008.9,1031.1 L1011.1,1032.4 L1013.3,1030.9 L1015.6,1032.2 L1017.8,1032.0 L1020.0,1031.7 L1022.2,1031.7 L1024.4,1032.1 L1026.7,1031.7 L1028.9,1031.0 L1031.1,1031.2 L1033.3,1031.0 L1035.6,1031.3 L1037.8,1032.5 L1040.0,1031.4 L1042.2,1030.7 L1044.4,1031.5 L1046.7,1032.2 L1048.9,1031.4 L1051.1,1032.0 L1053.3,1030.7 L1055.6,1030.7 L1057.8,1031.9 L1060.0,1030.7 L1062.2,1031.2 L1064.4,1031.3 L1066.7,1031.0 L1068.9,1030.6 L1071.1,1030.6 L1073.3,1032.5 L1075.6,1032.0 L1077.8,1032.5 L1080.0,1031.6 L1082.2,1032.5 L1084.4,1032.3 L1086.7,1031.8 L1088.9,1031.6 L1091.1,1031.6 L1093.3,1031.0 L1095.6,1031.3 L1097.8,1032.0 L1100.0,1031.6 L1102.2,1031.0 L1104.4,1032.3 L1106.7,1031.6 L1108.9,1031.8 L1111.1,1032.3 L1113.3,1031.9 L1115.6,1030.9 L1117.8,1031.1 L1120.0,1030.6 L1122.2,1030.7 L1124.4,1032.5 L1126.7,1031.8 L1128.9,1032.6 L1131.1,1032.2 L1133.3,1031.3 L1135.6,1032.6 L1137.8,1032.5 L1140.0,1031.6 L1142.2,1030.8 L1144.4,1031.3 L1146.7,1031.0 L1148.9,1031.4 L1151.1,1030.8 L1153.3,1032.1 L1155.6,1032.6 L1157.8,1031.1 L1160.0,1032.2 L1162.2,1031.8 L1164.4,1031.6 L1166.7,1032.5 L1168.9,1031.4 L1171.1,1032.3 L1173.3,1030.7 L1175.6,1032.6 L1177.8,1031.0 L1180.0,1030.7 L1182.2,1032.4 L1184.4,1032.1 L1186.7,1032.0 L1188.9,1032.2 L1191.1,1031.4 L1193.3,1030.9 L1195.6,1031.3 L1197.8,1032.6 L1200.0,1031.7 L1202.2,1032.7 L1204.5,1031.2 L1206.8,1031.6 L1209.0,1031.6 L1211.2,1032.5 L1213.5,1030.7 L1215.8,1032.4 L1218.0,1031.2 L1220.2,1031.8 L1222.5,1031.0 L1224.8,1030.9 L1227.0,1032.5 L1229.2,1031.7 L1231.5,1032.7 L1233.8,1032.4 L1236.0,1032.2 L1238.2,1030.9 L1240.5,1031.9 L1242.8,1032.7 L1245.0,1031.7 L1247.2,1030.9 L1249.5,1031.1 L1251.8,1032.7 L1254.0,1032.7 L1256.2,1031.2 L1258.5,1031.4 L1260.8,1032.2 L1263.0,1031.7 L1265.2,1031.1 L1267.5,1032.7 L1269.8,1032.0 L1272.0,1031.5 L1274.2,1030.8 L1276.5,1031.8 L1278.8,1032.2 L1281.0,1031.1 L1283.2,1030.9 L1285.5,1032.2 L1287.8,1032.6 L1290.0,1031.7 L1292.3,1031.5 L1294.6,1031.7 L1296.8,1032.0 L1299.1,1031.8 L1301.4,1031.0 L1303.7,1031.3 L1305.9,1031.2 L1308.2,1031.1 L1310.5,1031.7 L1312.9,1030.9 L1315.3,1031.5 L1317.7,1031.2 L1320.0,1031.7 L1322.8,1030.4 L1325.5,1031.7 L1328.2,1032.1 L1331.0,1031.1 L1333.7,1030.0 L1336.4,1029.7 L1339.2,1031.1 L1341.9,1029.7 L1344.6,1031.1 L1348.7,1029.0 L1352.8,1026.3 L1355.6,1029.0 L1359.7,1027.6 L1363.7,1028.3 L1367.8,1027.0 L1371.9,1026.3 L1376.0,1025.6 L1380.1,1024.9 L1382.9,1022.2 L1385.6,1023.5 L1387.0,1017.4 L1389.0,1022.9 L1391.1,1003.8 L1393.1,1020.1 L1395.2,1017.4 L1397.9,1017.4 L1400.6,1021.5 L1403.4,1018.8 L1405.4,1014.0 L1407.5,1021.5 L1409.5,1014.7 L1411.5,1023.5 L1413.6,1009.2 L1415.6,1014.7 L1417.7,1009.2 L1419.7,1016.0 L1421.8,1020.1 L1424.5,1005.8 L1426.6,1014.7 L1429.3,1006.5 L1430.7,1001.0 L1432.7,1003.8 L1434.8,999.7 L1436.8,1013.3 L1438.9,999.7 L1441.6,1011.9 L1444.3,1005.1 L1446.4,1013.3 L1448.4,1003.8 L1450.5,1017.4 L1453.2,1009.2 L1455.3,1020.1 L1457.3,998.3 L1459.3,1001.0 L1462.4,996.9" fill="none" stroke="#ff7f0e" stroke-width="2.1" stroke-linejoin="round"/>
</svg>
<rect x="116.5" y="575.5" width="1346.0" height="479.0" fill="none" stroke="#000" stroke-width="1.1"/>
<path d="M111.60,617.50H116.5M111.60,721.50H116.5M111.60,825.50H116.5M111.60,929.50H116.5M111.60,1033.50H116.5M116.50,1054.5V1059.40M284.50,1054.5V1059.40M452.50,1054.5V1059.40M621.50,1054.5V1059.40M789.50,1054.5V1059.40M957.50,1054.5V1059.40M1125.50,1054.5V1059.40M1294.50,1054.5V1059.40" stroke="#000" stroke-width="1.1" fill="none"/>
<rect x="1047.5" y="585.00" width="406" height="79.4" rx="3" ry="3" fill="#fff" fill-opacity="0.8" stroke="#cccccc" stroke-opacity="0.8" stroke-width="1.1"/>
<circle cx="1073.1" cy="600.40" r="2.6" fill="#1f77b4"/>
<path d="M1053.1,639.00H1091.9" stroke="#ff7f0e" stroke-width="2.1"/>
<text transform="translate(1105.67,605.72) scale(0.2187,0.1829)" font-size="100" >Raw Data</text>
<text transform="translate(1105.63,632.72) scale(0.2245,0.1797)" font-size="100" >Butterworth Filtered Data</text>
<text transform="translate(1105.87,652.39) scale(0.2266,0.1670)" font-size="100" >(N=6, Tc=3.3333 min, Type: low)</text>
<text transform="translate(116.34,28.58) scale(0.3312,0.2532)" font-size="100" >(a)</text>
<text transform="translate(116.39,565.54) scale(0.3229,0.2553)" font-size="100" >(b)</text>
<text transform="translate(643.62,29.62) scale(0.3260,0.2817)" font-size="100" >2.5 MHz N0000003</text>
<text transform="translate(60.40,391.77) rotate(-90) scale(0.2677,0.2096)" font-size="100">Doppler Shift [Hz]</text>
<text transform="translate(39.45,919.89) rotate(-90) scale(0.2697,0.2117)" font-size="100">Peak Voltage [V]</text>
<text transform="translate(764.05,1157.68) scale(0.2418,0.2239)" font-size="100" >UTC</text>
<text transform="translate(91.53,101.30) scale(0.2571,0.2300)" font-size="100" >2</text>
<text transform="translate(91.48,190.40) scale(0.2532,0.2333)" font-size="100" >1</text>
<text transform="translate(89.83,278.68) scale(0.2936,0.2239)" font-size="100" >0</text>
<text transform="translate(72.84,369.00) scale(0.2888,0.2333)" font-size="100" >−1</text>
<text transform="translate(72.88,458.00) scale(0.2792,0.2300)" font-size="100" >−2</text>
<text transform="translate(50.57,625.17) scale(0.2823,0.2254)" font-size="100" >0.20</text>
<text transform="translate(50.60,729.07) scale(0.2755,0.2254)" font-size="100" >0.15</text>
<text transform="translate(50.57,832.97) scale(0.2823,0.2254)" font-size="100" >0.10</text>
<text transform="translate(50.60,937.07) scale(0.2755,0.2254)" font-size="100" >0.05</text>
<text transform="translate(50.57,1041.07) scale(0.2823,0.2254)" font-size="100" >0.00</text>
<text transform="translate(17.23,1133.06) rotate(-30) scale(0.2817,0.2371)" font-size="100">01-18 00</text>
<text transform="translate(185.48,1133.06) rotate(-30) scale(0.2817,0.2371)" font-size="100">01-18 03</text>
<text transform="translate(353.73,1133.06) rotate(-30) scale(0.2817,0.2371)" font-size="100">01-18 06</text>
<text transform="translate(521.98,1133.06) rotate(-30) scale(0.2817,0.2371)" font-size="100">01-18 09</text>
<text transform="translate(690.23,1133.06) rotate(-30) scale(0.2817,0.2371)" font-size="100">01-18 12</text>
<text transform="translate(858.48,1133.06) rotate(-30) scale(0.2809,0.2371)" font-size="100">01-18 15</text>
<text transform="translate(1026.73,1133.06) rotate(-30) scale(0.2809,0.2371)" font-size="100">01-18 18</text>
<text transform="translate(1194.98,1133.06) rotate(-30) scale(0.2809,0.2371)" font-size="100">01-18 21</text>
</g></svg></body></html>
